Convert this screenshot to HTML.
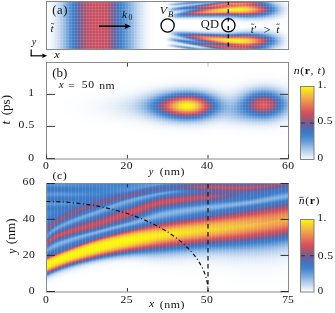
<!DOCTYPE html>
<html><head><meta charset="utf-8">
<style>
html,body{margin:0;padding:0;background:#fff;}
body{width:335px;height:313px;position:relative;overflow:hidden;}
#hm div{position:absolute;}
svg{position:absolute;left:0;top:0;will-change:transform;}
text{font-family:"Liberation Serif",serif;fill:#111;}
.i{font-style:italic;}
</style></head><body>
<div id="hm">
<div style="left:47px;top:2px;width:241px;height:1px;background:linear-gradient(90deg,#fefeff 0px,#f9fbfe 3px,#ebf2fa 6px,#dbe7f6 9px,#c6d9f0 12px,#acc8ea 15px,#8eb6e2 18px,#699ed9 21px,#4989d0 24px,#3e7ac8 27px,#526cb2 30px,#705e99 33px,#92587e 36px,#b1526d 39px,#c05066 42px,#c74f63 45px,#ca4f62 48px,#ca4f62 51px,#c94f62 54px,#c74f63 57px,#bd5068 60px,#a25574 63px,#775d92 66px,#566aae 69px,#4177c4 72px,#4182cd 75px,#5691d4 78px,#6ea1da 81px,#87b2e0 84px,#a2c2e8 87px,#bbd1ee 90px,#cfdff3 93px,#e0eaf7 96px,#eef4fa 99px,#f6f9fd 102px,#fcfdfe 105px,#ffffff 108px,#ffffff 111px,#ffffff 114px,#ffffff 117px,#fcfdfe 120px,#f4f8fc 123px,#e9f1f9 126px,#d4e3f4 129px,#bed3ee 132px,#a0c1e7 135px,#7dabde 138px,#6298d7 141px,#5792d4 144px,#528fd3 147px,#528ed3 150px,#5591d4 153px,#5892d4 156px,#5c95d6 159px,#639ad7 162px,#6399d7 165px,#5993d5 168px,#4384ce 171px,#4276c2 174px,#6263a4 177px,#91597f 180px,#b1526d 183px,#bd5067 186px,#c24f65 189px,#cb4f61 192px,#d04e5f 195px,#d24e5e 198px,#c44f64 201px,#a85471 204px,#835b88 207px,#6561a2 210px,#4971bb 213px,#3e7fcb 216px,#5691d4 219px,#78a7dc 222px,#a0c1e7 225px,#c4d8f0 228px,#d5e4f4 231px,#e5eef8 234px,#eff5fb 237px,#f9fbfd 240px,#fbfcfe 241px)"></div>
<div style="left:47px;top:3px;width:241px;height:1px;background:linear-gradient(90deg,#fefeff 0px,#f9fbfe 3px,#ebf2fa 6px,#dbe7f6 9px,#c6d9f0 12px,#acc8ea 15px,#8eb6e2 18px,#699ed9 21px,#4989d0 24px,#3e7ac8 27px,#526cb2 30px,#705e99 33px,#92587e 36px,#b1526d 39px,#c05066 42px,#c74f63 45px,#ca4f62 48px,#ca4f62 51px,#c94f62 54px,#c74f63 57px,#bd5068 60px,#a25574 63px,#775d92 66px,#566aae 69px,#4177c4 72px,#4182cd 75px,#5691d4 78px,#6ea1da 81px,#87b2e0 84px,#a2c2e8 87px,#bbd1ee 90px,#cfdff3 93px,#e0eaf7 96px,#eef4fa 99px,#f6f9fd 102px,#fcfdfe 105px,#ffffff 108px,#ffffff 111px,#ffffff 114px,#ffffff 117px,#f6f9fd 120px,#dce8f6 123px,#bed3ee 126px,#95bbe4 129px,#7aa9dd 132px,#679cd8 135px,#5b94d5 138px,#5691d4 141px,#6299d7 144px,#70a2db 147px,#7cabde 150px,#84b0e0 153px,#7cabde 156px,#6ea1da 159px,#5892d4 162px,#3f80cc 165px,#4f6eb5 168px,#7e5c8c 171px,#be5067 174px,#dc595c 177px,#e46f58 180px,#e77c55 183px,#e98353 186px,#e88154 189px,#e88154 192px,#e77c55 195px,#e57557 198px,#e0635a 201px,#d4505e 204px,#b95169 207px,#8d5982 210px,#6760a1 213px,#4772bd 216px,#4182cd 219px,#5f96d6 222px,#88b2e1 225px,#b3ccec 228px,#c9dbf1 231px,#dde8f6 234px,#ebf2fa 237px,#f7fafd 240px,#f9fbfe 241px)"></div>
<div style="left:47px;top:4px;width:241px;height:1px;background:linear-gradient(90deg,#fefeff 0px,#f9fbfe 3px,#ebf2fa 6px,#dbe7f6 9px,#c6d9f0 12px,#acc8ea 15px,#8eb6e2 18px,#699ed9 21px,#4989d0 24px,#3e7ac8 27px,#526cb2 30px,#705e99 33px,#92587e 36px,#b1526d 39px,#c05066 42px,#c74f63 45px,#ca4f62 48px,#ca4f62 51px,#c94f62 54px,#c74f63 57px,#bd5068 60px,#a25574 63px,#775d92 66px,#566aae 69px,#4177c4 72px,#4182cd 75px,#5691d4 78px,#6ea1da 81px,#87b2e0 84px,#a2c2e8 87px,#bbd1ee 90px,#cfdff3 93px,#e0eaf7 96px,#eef4fa 99px,#f6f9fd 102px,#fcfdfe 105px,#ffffff 108px,#ffffff 111px,#ffffff 114px,#ffffff 117px,#f2f7fc 120px,#cbdcf2 123px,#a4c3e8 126px,#88b2e1 129px,#87b2e1 132px,#8db5e2 135px,#96bbe5 138px,#9bbee6 141px,#a3c2e8 144px,#a0c1e7 147px,#91b8e3 150px,#75a6dc 153px,#518ed3 156px,#3f79c6 159px,#6362a3 162px,#9f5675 165px,#d6525d 168px,#e26959 171px,#e67856 174px,#e77b55 177px,#e57557 180px,#e67856 183px,#e77c55 186px,#e77b55 189px,#e77a55 192px,#e57657 195px,#e47058 198px,#df5f5b 201px,#d34f5e 204px,#bd5068 207px,#96587b 210px,#715d98 213px,#526cb2 216px,#3d7bc9 219px,#4f8dd2 222px,#74a5dc 225px,#9ec0e7 228px,#bcd2ee 231px,#d4e2f4 234px,#e6eef8 237px,#f5f8fc 240px,#f8fafd 241px)"></div>
<div style="left:47px;top:5px;width:241px;height:1px;background:linear-gradient(90deg,#fefeff 0px,#f9fbfe 3px,#ebf2fa 6px,#dbe7f6 9px,#c6d9f0 12px,#acc8ea 15px,#8eb6e2 18px,#699ed9 21px,#4989d0 24px,#3e7ac8 27px,#526cb2 30px,#705e99 33px,#92587e 36px,#b1526d 39px,#c05066 42px,#c74f63 45px,#ca4f62 48px,#ca4f62 51px,#c94f62 54px,#c74f63 57px,#bd5068 60px,#a25574 63px,#775d92 66px,#566aae 69px,#4177c4 72px,#4182cd 75px,#5691d4 78px,#6ea1da 81px,#87b2e0 84px,#a2c2e8 87px,#bbd1ee 90px,#cfdff3 93px,#e0eaf7 96px,#eef4fa 99px,#f6f9fd 102px,#fcfdfe 105px,#ffffff 108px,#ffffff 111px,#ffffff 114px,#ffffff 117px,#f6f9fd 120px,#dbe7f6 123px,#c3d7f0 126px,#bed3ef 129px,#c2d6f0 132px,#c1d5ef 135px,#b6ceed 138px,#a4c3e8 141px,#88b2e1 144px,#659bd8 147px,#4283ce 150px,#4c70b8 153px,#765d93 156px,#af536e 159px,#d5525d 162px,#e1665a 165px,#e67756 168px,#e47258 171px,#e16859 174px,#de5d5b 177px,#da565d 180px,#dd5b5c 183px,#e0635a 186px,#e26959 189px,#e47058 192px,#e47158 195px,#e47058 198px,#e1655a 201px,#d9565d 204px,#cb4f61 207px,#ac536f 210px,#845b88 213px,#6362a3 216px,#4574bf 219px,#4182cd 222px,#6198d7 225px,#89b3e1 228px,#aec9ea 231px,#cbdcf2 234px,#e0ebf7 237px,#f3f7fc 240px,#f7fafd 241px)"></div>
<div style="left:47px;top:6px;width:241px;height:1px;background:linear-gradient(90deg,#fefeff 0px,#f9fbfe 3px,#ebf2fa 6px,#dbe7f6 9px,#c6d9f0 12px,#acc8ea 15px,#8eb6e2 18px,#699ed9 21px,#4989d0 24px,#3e7ac8 27px,#526cb2 30px,#705e99 33px,#92587e 36px,#b1526d 39px,#c05066 42px,#c74f63 45px,#ca4f62 48px,#ca4f62 51px,#c94f62 54px,#c74f63 57px,#bd5068 60px,#a25574 63px,#775d92 66px,#566aae 69px,#4177c4 72px,#4182cd 75px,#5691d4 78px,#6ea1da 81px,#87b2e0 84px,#a2c2e8 87px,#bbd1ee 90px,#cfdff3 93px,#e0eaf7 96px,#eef4fa 99px,#f6f9fd 102px,#fcfdfe 105px,#ffffff 108px,#ffffff 111px,#ffffff 114px,#ffffff 117px,#fafcfe 120px,#edf3fa 123px,#dfeaf7 126px,#d1e1f3 129px,#bfd4ef 132px,#9fc0e7 135px,#72a4db 138px,#508dd2 141px,#3d7bc8 144px,#546bb0 147px,#775d92 150px,#a45573 153px,#c15066 156px,#d14e5e 159px,#d7535d 162px,#d9565d 165px,#da575c 168px,#d6525d 171px,#d4515e 174px,#d6535d 177px,#dc595c 180px,#e16859 183px,#e57457 186px,#e88054 189px,#ea8b51 192px,#eb8f50 195px,#eb8e50 198px,#e98653 201px,#e57257 204px,#df605b 207px,#d24f5e 210px,#af536e 213px,#805c8a 216px,#5b67aa 219px,#3f79c6 222px,#4e8cd2 225px,#76a6dc 228px,#a0c1e7 231px,#c3d7f0 234px,#dbe8f6 237px,#f1f6fb 240px,#f5f9fd 241px)"></div>
<div style="left:47px;top:7px;width:241px;height:1px;background:linear-gradient(90deg,#fefeff 0px,#f9fbfe 3px,#ebf2fa 6px,#dbe7f6 9px,#c6d9f0 12px,#acc8ea 15px,#8eb6e2 18px,#699ed9 21px,#4989d0 24px,#3e7ac8 27px,#526cb2 30px,#705e99 33px,#92587e 36px,#b1526d 39px,#c05066 42px,#c74f63 45px,#ca4f62 48px,#ca4f62 51px,#c94f62 54px,#c74f63 57px,#bd5068 60px,#a25574 63px,#775d92 66px,#566aae 69px,#4177c4 72px,#4182cd 75px,#5691d4 78px,#6ea1da 81px,#87b2e0 84px,#a2c2e8 87px,#bbd1ee 90px,#cfdff3 93px,#e0eaf7 96px,#eef4fa 99px,#f6f9fd 102px,#fcfdfe 105px,#ffffff 108px,#ffffff 111px,#ffffff 114px,#ffffff 117px,#f8fafd 120px,#e3edf8 123px,#c8dbf1 126px,#a3c3e8 129px,#77a7dc 132px,#4d8cd1 135px,#4078c5 138px,#506db4 141px,#6263a5 144px,#715d97 147px,#7f5c8b 150px,#92587e 153px,#98577a 156px,#9f5676 159px,#ab5370 162px,#bb5068 165px,#cc4f61 168px,#d6535d 171px,#df5f5b 174px,#e47158 177px,#ea8752 180px,#ed9a4d 183px,#efa64a 186px,#f1b047 189px,#f2ba43 192px,#f2bb42 195px,#f2b844 198px,#f0ae47 201px,#ed984e 204px,#e88254 207px,#e1665a 210px,#d34f5e 213px,#a85472 216px,#725d97 219px,#4b70b9 222px,#4283ce 225px,#689dd9 228px,#95bbe4 231px,#bdd3ee 234px,#d7e5f5 237px,#eff5fb 240px,#f4f8fc 241px)"></div>
<div style="left:47px;top:8px;width:241px;height:1px;background:linear-gradient(90deg,#fefeff 0px,#f9fbfe 3px,#ebf2fa 6px,#dbe7f6 9px,#c6d9f0 12px,#acc8ea 15px,#8eb6e2 18px,#699ed9 21px,#4989d0 24px,#3e7ac8 27px,#526cb2 30px,#705e99 33px,#92587e 36px,#b1526d 39px,#c05066 42px,#c74f63 45px,#ca4f62 48px,#ca4f62 51px,#c94f62 54px,#c74f63 57px,#bd5068 60px,#a25574 63px,#775d92 66px,#566aae 69px,#4177c4 72px,#4182cd 75px,#5691d4 78px,#6ea1da 81px,#87b2e0 84px,#a2c2e8 87px,#bbd1ee 90px,#cfdff3 93px,#e0eaf7 96px,#eef4fa 99px,#f6f9fd 102px,#fcfdfe 105px,#ffffff 108px,#ffffff 111px,#ffffff 114px,#ffffff 117px,#f1f6fb 120px,#c6d9f1 123px,#94bae4 126px,#659ad8 129px,#4587cf 132px,#3d7bc9 135px,#4375c1 138px,#4375c1 141px,#4474c0 144px,#4772bd 147px,#516db3 150px,#6461a3 153px,#735d96 156px,#8d5981 159px,#b3526c 162px,#d34f5e 165px,#e0635a 168px,#e77b55 171px,#ec944f 174px,#f0aa49 177px,#f3bf3f 180px,#f6cf31 183px,#f7d629 186px,#f8dd22 189px,#f9e21c 192px,#f9df20 195px,#f7d728 198px,#f5cc33 201px,#f1b346 204px,#ed9b4d 207px,#e77c55 210px,#de5c5c 213px,#c15066 216px,#845b87 219px,#566aae 222px,#3d7ecb 225px,#5f97d6 228px,#8eb6e2 231px,#b9d0ed 234px,#d5e3f4 237px,#eef4fb 240px,#f4f8fc 241px)"></div>
<div style="left:47px;top:9px;width:241px;height:1px;background:linear-gradient(90deg,#fefeff 0px,#f9fbfe 3px,#ebf2fa 6px,#dbe7f6 9px,#c6d9f0 12px,#acc8ea 15px,#8eb6e2 18px,#699ed9 21px,#4989d0 24px,#3e7ac8 27px,#526cb2 30px,#705e99 33px,#92587e 36px,#b1526d 39px,#c05066 42px,#c74f63 45px,#ca4f62 48px,#ca4f62 51px,#c94f62 54px,#c74f63 57px,#bd5068 60px,#a25574 63px,#775d92 66px,#566aae 69px,#4177c4 72px,#4182cd 75px,#5691d4 78px,#6ea1da 81px,#87b2e0 84px,#a2c2e8 87px,#bbd1ee 90px,#cfdff3 93px,#e0eaf7 96px,#eef4fa 99px,#f6f9fd 102px,#fcfdfe 105px,#ffffff 108px,#ffffff 111px,#ffffff 114px,#ffffff 117px,#edf3fa 120px,#b7ceed 123px,#7baadd 126px,#6198d7 129px,#5a93d5 132px,#5993d5 135px,#5993d5 138px,#5892d4 141px,#4c8bd1 144px,#3e7fcb 147px,#4971bb 150px,#705d98 153px,#995779 156px,#c74f63 159px,#df5f5b 162px,#e77c55 165px,#ed974e 168px,#f1b047 171px,#f4c639 174px,#f7d52a 177px,#f9e31c 180px,#fced12 183px,#fdf00f 186px,#fdf30d 189px,#fef50b 192px,#fcee11 195px,#f9e21c 198px,#f7d728 201px,#f3bd40 204px,#efa44b 207px,#e98453 210px,#e0625b 213px,#c84f63 216px,#8d5982 219px,#5b67aa 222px,#3c7cca 225px,#5c95d6 228px,#8bb4e2 231px,#b8cfed 234px,#d4e3f4 237px,#eef4fa 240px,#f3f7fc 241px)"></div>
<div style="left:47px;top:10px;width:241px;height:1px;background:linear-gradient(90deg,#fefeff 0px,#f9fbfe 3px,#ebf2fa 6px,#dbe7f6 9px,#c6d9f0 12px,#acc8ea 15px,#8eb6e2 18px,#699ed9 21px,#4989d0 24px,#3e7ac8 27px,#526cb2 30px,#705e99 33px,#92587e 36px,#b1526d 39px,#c05066 42px,#c74f63 45px,#ca4f62 48px,#ca4f62 51px,#c94f62 54px,#c74f63 57px,#bd5068 60px,#a25574 63px,#775d92 66px,#566aae 69px,#4177c4 72px,#4182cd 75px,#5691d4 78px,#6ea1da 81px,#87b2e0 84px,#a2c2e8 87px,#bbd1ee 90px,#cfdff3 93px,#e0eaf7 96px,#eef4fa 99px,#f6f9fd 102px,#fcfdfe 105px,#ffffff 108px,#ffffff 111px,#ffffff 114px,#ffffff 117px,#f1f6fb 120px,#c6d9f1 123px,#9fc0e7 126px,#9abde5 129px,#9cbfe6 132px,#98bce5 135px,#87b1e0 138px,#699ed9 141px,#4486cf 144px,#4773bd 147px,#755d94 150px,#ba5069 153px,#d9565d 156px,#e47158 159px,#eb8f50 162px,#efa74a 165px,#f2bc42 168px,#f5cd33 171px,#f7d926 174px,#f9e01e 177px,#fae519 180px,#fbeb14 183px,#fbeb13 186px,#fbec13 189px,#fbec13 192px,#f9e31b 195px,#f7d729 198px,#f5cc33 201px,#f1b346 204px,#ed9b4d 207px,#e77c55 210px,#de5c5c 213px,#c15066 216px,#845b87 219px,#566aae 222px,#3d7ecb 225px,#5f97d6 228px,#8eb6e2 231px,#b9d0ed 234px,#d5e3f4 237px,#eef4fb 240px,#f4f8fc 241px)"></div>
<div style="left:47px;top:11px;width:241px;height:1px;background:linear-gradient(90deg,#fefeff 0px,#f9fbfe 3px,#ebf2fa 6px,#dbe7f6 9px,#c6d9f0 12px,#acc8ea 15px,#8eb6e2 18px,#699ed9 21px,#4989d0 24px,#3e7ac8 27px,#526cb2 30px,#705e99 33px,#92587e 36px,#b1526d 39px,#c05066 42px,#c74f63 45px,#ca4f62 48px,#ca4f62 51px,#c94f62 54px,#c74f63 57px,#bd5068 60px,#a25574 63px,#775d92 66px,#566aae 69px,#4177c4 72px,#4182cd 75px,#5691d4 78px,#6ea1da 81px,#87b2e0 84px,#a2c2e8 87px,#bbd1ee 90px,#cfdff3 93px,#e0eaf7 96px,#eef4fa 99px,#f6f9fd 102px,#fcfdfe 105px,#ffffff 108px,#ffffff 111px,#ffffff 114px,#ffffff 117px,#f8fbfd 120px,#e3edf8 123px,#d0e0f3 126px,#cadcf2 129px,#bcd2ee 132px,#9fc0e7 135px,#70a2db 138px,#4384ce 141px,#4f6eb5 144px,#805c8a 147px,#c24f65 150px,#df605b 153px,#e67856 156px,#eb8f50 159px,#efa44b 162px,#f1b246 165px,#f2bb42 168px,#f4c43b 171px,#f4c837 174px,#f4c837 177px,#f4c639 180px,#f5c936 183px,#f5c936 186px,#f5c936 189px,#f5c935 192px,#f3c23c 195px,#f2b745 198px,#f0ad48 201px,#ed974e 204px,#e88154 207px,#e1665a 210px,#d34f5e 213px,#a75472 216px,#725d97 219px,#4b70b9 222px,#4283ce 225px,#689dd9 228px,#95bbe4 231px,#bdd3ee 234px,#d7e5f5 237px,#eff5fb 240px,#f4f8fc 241px)"></div>
<div style="left:47px;top:12px;width:241px;height:1px;background:linear-gradient(90deg,#fefeff 0px,#f9fbfe 3px,#ebf2fa 6px,#dbe7f6 9px,#c6d9f0 12px,#acc8ea 15px,#8eb6e2 18px,#699ed9 21px,#4989d0 24px,#3e7ac8 27px,#526cb2 30px,#705e99 33px,#92587e 36px,#b1526d 39px,#c05066 42px,#c74f63 45px,#ca4f62 48px,#ca4f62 51px,#c94f62 54px,#c74f63 57px,#bd5068 60px,#a25574 63px,#775d92 66px,#566aae 69px,#4177c4 72px,#4182cd 75px,#5691d4 78px,#6ea1da 81px,#87b2e0 84px,#a2c2e8 87px,#bbd1ee 90px,#cfdff3 93px,#e0eaf7 96px,#eef4fa 99px,#f6f9fd 102px,#fcfdfe 105px,#ffffff 108px,#ffffff 111px,#ffffff 114px,#ffffff 117px,#fdfeff 120px,#f3f7fc 123px,#e4eef8 126px,#ccddf2 129px,#a3c3e8 132px,#6ea1da 135px,#4081cd 138px,#556baf 141px,#865b86 144px,#be5067 147px,#da565d 150px,#e26b59 153px,#e67956 156px,#e98653 159px,#eb9050 162px,#ec954f 165px,#ec964f 168px,#ec974e 171px,#ec964f 174px,#ec9150 177px,#eb8c51 180px,#eb8f50 183px,#eb9050 186px,#ec924f 189px,#ec944f 192px,#eb8f50 195px,#ea8752 198px,#e88054 201px,#e36e58 204px,#de5d5c 207px,#cf4e5f 210px,#ab5370 213px,#7e5c8c 216px,#5968ab 219px,#3f79c6 222px,#4f8dd2 225px,#76a6dc 228px,#a0c1e7 231px,#c3d7f0 234px,#dbe8f6 237px,#f1f6fb 240px,#f5f9fd 241px)"></div>
<div style="left:47px;top:13px;width:241px;height:1px;background:linear-gradient(90deg,#fefeff 0px,#f9fbfe 3px,#ebf2fa 6px,#dbe7f6 9px,#c6d9f0 12px,#acc8ea 15px,#8eb6e2 18px,#699ed9 21px,#4989d0 24px,#3e7ac8 27px,#526cb2 30px,#705e99 33px,#92587e 36px,#b1526d 39px,#c05066 42px,#c74f63 45px,#ca4f62 48px,#ca4f62 51px,#c94f62 54px,#c74f63 57px,#bd5068 60px,#a25574 63px,#775d92 66px,#566aae 69px,#4177c4 72px,#4182cd 75px,#5691d4 78px,#6ea1da 81px,#87b2e0 84px,#a2c2e8 87px,#bbd1ee 90px,#cfdff3 93px,#e0eaf7 96px,#eef4fa 99px,#f6f9fd 102px,#fcfdfe 105px,#ffffff 108px,#ffffff 111px,#ffffff 114px,#ffffff 117px,#ffffff 120px,#f1f6fb 123px,#d8e5f5 126px,#aac6ea 129px,#6da0da 132px,#4182cd 135px,#4f6eb5 138px,#775d92 141px,#a35574 144px,#c15066 147px,#d24e5e 150px,#d7535d 153px,#da575c 156px,#dd5a5c 159px,#de5c5c 162px,#dd5b5c 165px,#db585c 168px,#da575c 171px,#d8555d 174px,#d5515d 177px,#d14e5f 180px,#d3505e 183px,#d6525d 186px,#d9555d 189px,#db585c 192px,#da575d 195px,#d7545d 198px,#d5515e 201px,#c64f63 204px,#b3526c 207px,#93587d 210px,#745d95 213px,#5968ab 216px,#4177c3 219px,#4385ce 222px,#649ad7 225px,#89b3e1 228px,#aec9ea 231px,#cbdcf2 234px,#e0ebf7 237px,#f3f7fc 240px,#f7fafd 241px)"></div>
<div style="left:47px;top:14px;width:241px;height:1px;background:linear-gradient(90deg,#fefeff 0px,#f9fbfe 3px,#ebf2fa 6px,#dbe7f6 9px,#c6d9f0 12px,#acc8ea 15px,#8eb6e2 18px,#699ed9 21px,#4989d0 24px,#3e7ac8 27px,#526cb2 30px,#705e99 33px,#92587e 36px,#b1526d 39px,#c05066 42px,#c74f63 45px,#ca4f62 48px,#ca4f62 51px,#c94f62 54px,#c74f63 57px,#bd5068 60px,#a25574 63px,#775d92 66px,#566aae 69px,#4177c4 72px,#4182cd 75px,#5691d4 78px,#6ea1da 81px,#87b2e0 84px,#a2c2e8 87px,#bbd1ee 90px,#cfdff3 93px,#e0eaf7 96px,#eef4fa 99px,#f6f9fd 102px,#fcfdfe 105px,#ffffff 108px,#ffffff 111px,#ffffff 114px,#ffffff 117px,#ffffff 120px,#e7eff9 123px,#bdd3ee 126px,#7facde 129px,#4989d0 132px,#4177c4 135px,#5769ad 138px,#6e5e9a 141px,#7f5c8b 144px,#885a85 147px,#8b5a83 150px,#895a84 153px,#8a5a83 156px,#8a5a84 159px,#885a84 162px,#835b88 165px,#7c5c8d 168px,#7a5d90 171px,#765d93 174px,#705d99 177px,#6a5e9e 180px,#705d99 183px,#785d91 186px,#7f5c8b 189px,#895a84 192px,#8b5a82 195px,#895a84 198px,#855b86 201px,#785d92 204px,#6b5e9d 207px,#5b67aa 210px,#4971bb 213px,#3e7ac7 216px,#4485cf 219px,#5e96d6 222px,#7dabde 225px,#9ec0e7 228px,#bcd2ee 231px,#d4e2f4 234px,#e6eef8 237px,#f5f8fc 240px,#f8fafd 241px)"></div>
<div style="left:47px;top:15px;width:241px;height:1px;background:linear-gradient(90deg,#fefeff 0px,#f9fbfe 3px,#ebf2fa 6px,#dbe7f6 9px,#c6d9f0 12px,#acc8ea 15px,#8eb6e2 18px,#699ed9 21px,#4989d0 24px,#3e7ac8 27px,#526cb2 30px,#705e99 33px,#92587e 36px,#b1526d 39px,#c05066 42px,#c74f63 45px,#ca4f62 48px,#ca4f62 51px,#c94f62 54px,#c74f63 57px,#bd5068 60px,#a25574 63px,#775d92 66px,#566aae 69px,#4177c4 72px,#4182cd 75px,#5691d4 78px,#6ea1da 81px,#87b2e0 84px,#a2c2e8 87px,#bbd1ee 90px,#cfdff3 93px,#e0eaf7 96px,#eef4fa 99px,#f6f9fd 102px,#fcfdfe 105px,#ffffff 108px,#ffffff 111px,#ffffff 114px,#ffffff 117px,#ffffff 120px,#dde9f6 123px,#a9c6e9 126px,#6fa1da 129px,#4888d0 132px,#3e7ecb 135px,#4078c6 138px,#4375c1 141px,#4573bf 144px,#4474c0 147px,#4276c2 150px,#4078c5 153px,#3f79c6 156px,#3f79c6 159px,#3e7ac7 162px,#3d7bc9 165px,#3d7dca 168px,#3d7dcb 171px,#3e7fcb 174px,#4080cc 177px,#4182cd 180px,#3e7fcb 183px,#3d7bc8 186px,#4177c4 189px,#4474c0 192px,#4772bd 195px,#4971bb 198px,#4872bc 201px,#4375c2 204px,#4078c6 207px,#3d7dcb 210px,#4384ce 213px,#518ed2 216px,#659bd8 219px,#7dabde 222px,#99bde5 225px,#b3ccec 228px,#c9dbf1 231px,#dde8f6 234px,#ebf2fa 237px,#f7fafd 240px,#f9fbfe 241px)"></div>
<div style="left:47px;top:16px;width:241px;height:1px;background:linear-gradient(90deg,#fefeff 0px,#f9fbfe 3px,#ebf2fa 6px,#dbe7f6 9px,#c6d9f0 12px,#acc8ea 15px,#8eb6e2 18px,#699ed9 21px,#4989d0 24px,#3e7ac8 27px,#526cb2 30px,#705e99 33px,#92587e 36px,#b1526d 39px,#c05066 42px,#c74f63 45px,#ca4f62 48px,#ca4f62 51px,#c94f62 54px,#c74f63 57px,#bd5068 60px,#a25574 63px,#775d92 66px,#566aae 69px,#4177c4 72px,#4182cd 75px,#5691d4 78px,#6ea1da 81px,#87b2e0 84px,#a2c2e8 87px,#bbd1ee 90px,#cfdff3 93px,#e0eaf7 96px,#eef4fa 99px,#f6f9fd 102px,#fcfdfe 105px,#ffffff 108px,#ffffff 111px,#ffffff 114px,#ffffff 117px,#ffffff 120px,#dde9f6 123px,#adc8ea 126px,#83afdf 129px,#6b9fd9 132px,#639ad7 135px,#6098d7 138px,#5f96d6 141px,#6097d7 144px,#659bd8 147px,#6a9ed9 150px,#6fa2da 153px,#70a2db 156px,#71a3db 159px,#72a3db 162px,#74a5db 165px,#76a6dc 168px,#76a7dc 171px,#77a7dc 174px,#79a8dd 177px,#7baadd 180px,#74a5db 183px,#6a9ed9 186px,#6097d7 189px,#5792d4 192px,#518ed3 195px,#4d8cd2 198px,#4d8cd1 201px,#528fd3 204px,#5792d4 207px,#5f97d6 210px,#6a9ed9 213px,#77a7dc 216px,#89b3e1 219px,#9dbfe6 222px,#b2cbec 225px,#c4d8f0 228px,#d5e4f4 231px,#e5eef8 234px,#eff5fb 237px,#f9fbfd 240px,#fbfcfe 241px)"></div>
<div style="left:47px;top:17px;width:241px;height:1px;background:linear-gradient(90deg,#fefeff 0px,#f9fbfe 3px,#ebf2fa 6px,#dbe7f6 9px,#c6d9f0 12px,#acc8ea 15px,#8eb6e2 18px,#699ed9 21px,#4989d0 24px,#3e7ac8 27px,#526cb2 30px,#705e99 33px,#92587e 36px,#b1526d 39px,#c05066 42px,#c74f63 45px,#ca4f62 48px,#ca4f62 51px,#c94f62 54px,#c74f63 57px,#bd5068 60px,#a25574 63px,#775d92 66px,#566aae 69px,#4177c4 72px,#4182cd 75px,#5691d4 78px,#6ea1da 81px,#87b2e0 84px,#a2c2e8 87px,#bbd1ee 90px,#cfdff3 93px,#e0eaf7 96px,#eef4fa 99px,#f6f9fd 102px,#fcfdfe 105px,#ffffff 108px,#ffffff 111px,#ffffff 114px,#ffffff 117px,#ffffff 120px,#e7eff9 123px,#c5d8f0 126px,#b1caeb 129px,#a5c4e8 132px,#a4c3e8 135px,#a5c4e8 138px,#a5c4e8 141px,#a7c5e9 144px,#abc7ea 147px,#afc9eb 150px,#b2cbec 153px,#b2cbeb 156px,#b2cbeb 159px,#b1cbeb 162px,#b2cbec 165px,#b3cbec 168px,#b2cbec 171px,#b2cbeb 174px,#b2cbec 177px,#b2cbec 180px,#abc7ea 183px,#a1c1e7 186px,#97bce5 189px,#8db6e2 192px,#86b1e0 195px,#7fadde 198px,#7eacde 201px,#81aedf 204px,#85b0e0 207px,#8bb4e2 210px,#94bae4 213px,#9dbfe6 216px,#aac6ea 219px,#b9cfed 222px,#c6d9f1 225px,#d4e2f4 228px,#e1ebf7 231px,#ecf2fa 234px,#f4f8fc 237px,#fafcfe 240px,#fcfdfe 241px)"></div>
<div style="left:47px;top:18px;width:241px;height:1px;background:linear-gradient(90deg,#fefeff 0px,#f9fbfe 3px,#ebf2fa 6px,#dbe7f6 9px,#c6d9f0 12px,#acc8ea 15px,#8eb6e2 18px,#699ed9 21px,#4989d0 24px,#3e7ac8 27px,#526cb2 30px,#705e99 33px,#92587e 36px,#b1526d 39px,#c05066 42px,#c74f63 45px,#ca4f62 48px,#ca4f62 51px,#c94f62 54px,#c74f63 57px,#bd5068 60px,#a25574 63px,#775d92 66px,#566aae 69px,#4177c4 72px,#4182cd 75px,#5691d4 78px,#6ea1da 81px,#87b2e0 84px,#a2c2e8 87px,#bbd1ee 90px,#cfdff3 93px,#e0eaf7 96px,#eef4fa 99px,#f6f9fd 102px,#fcfdfe 105px,#ffffff 108px,#ffffff 111px,#ffffff 114px,#ffffff 117px,#ffffff 120px,#f2f7fc 123px,#e1ebf7 126px,#d7e5f5 129px,#d3e2f4 132px,#d3e2f4 135px,#d4e3f4 138px,#d4e3f4 141px,#d5e3f4 144px,#d6e4f5 147px,#d8e5f5 150px,#d9e6f5 153px,#d8e5f5 156px,#d7e5f5 159px,#d7e4f5 162px,#d6e4f5 165px,#d6e4f5 168px,#d5e3f4 171px,#d4e3f4 174px,#d4e2f4 177px,#d3e2f4 180px,#cedff3 183px,#c7daf1 186px,#c0d5ef 189px,#b9cfed 192px,#b3cbec 195px,#adc8ea 198px,#abc7ea 201px,#acc8ea 204px,#aec9ea 207px,#b2cbeb 210px,#b6ceed 213px,#bcd2ee 216px,#c3d7f0 219px,#cddef2 222px,#d7e4f5 225px,#e1ebf7 228px,#eaf1f9 231px,#f1f6fb 234px,#f7fafd 237px,#fcfdfe 240px,#fdfefe 241px)"></div>
<div style="left:47px;top:19px;width:241px;height:1px;background:linear-gradient(90deg,#fefeff 0px,#f9fbfe 3px,#ebf2fa 6px,#dbe7f6 9px,#c6d9f0 12px,#acc8ea 15px,#8eb6e2 18px,#699ed9 21px,#4989d0 24px,#3e7ac8 27px,#526cb2 30px,#705e99 33px,#92587e 36px,#b1526d 39px,#c05066 42px,#c74f63 45px,#ca4f62 48px,#ca4f62 51px,#c94f62 54px,#c74f63 57px,#bd5068 60px,#a25574 63px,#775d92 66px,#566aae 69px,#4177c4 72px,#4182cd 75px,#5691d4 78px,#6ea1da 81px,#87b2e0 84px,#a2c2e8 87px,#bbd1ee 90px,#cfdff3 93px,#e0eaf7 96px,#eef4fa 99px,#f6f9fd 102px,#fcfdfe 105px,#ffffff 108px,#ffffff 111px,#ffffff 114px,#ffffff 117px,#ffffff 120px,#fafcfe 123px,#f4f8fc 126px,#f0f5fb 129px,#eff4fb 132px,#eef4fb 135px,#eff4fb 138px,#eef4fb 141px,#eef4fb 144px,#eef4fb 147px,#eff4fb 150px,#eff4fb 153px,#eef4fb 156px,#edf3fa 159px,#edf3fa 162px,#ecf3fa 165px,#ecf2fa 168px,#ebf2fa 171px,#eaf1f9 174px,#e9f1f9 177px,#e9f0f9 180px,#e5eef8 183px,#e0eaf7 186px,#dae7f6 189px,#d4e3f4 192px,#cfdff3 195px,#cadcf2 198px,#c9dbf1 201px,#c9dbf1 204px,#c9dbf1 207px,#cbdcf2 210px,#cedef2 213px,#d1e1f3 216px,#d6e4f5 219px,#dde9f6 222px,#e4edf8 225px,#ebf2fa 228px,#f1f6fb 231px,#f6f9fd 234px,#fafbfe 237px,#fdfefe 240px,#fefeff 241px)"></div>
<div style="left:47px;top:20px;width:241px;height:1px;background:linear-gradient(90deg,#fefeff 0px,#f9fbfe 3px,#ebf2fa 6px,#dbe7f6 9px,#c6d9f0 12px,#acc8ea 15px,#8eb6e2 18px,#699ed9 21px,#4989d0 24px,#3e7ac8 27px,#526cb2 30px,#705e99 33px,#92587e 36px,#b1526d 39px,#c05066 42px,#c74f63 45px,#ca4f62 48px,#ca4f62 51px,#c94f62 54px,#c74f63 57px,#bd5068 60px,#a25574 63px,#775d92 66px,#566aae 69px,#4177c4 72px,#4182cd 75px,#5691d4 78px,#6ea1da 81px,#87b2e0 84px,#a2c2e8 87px,#bbd1ee 90px,#cfdff3 93px,#e0eaf7 96px,#eef4fa 99px,#f6f9fd 102px,#fcfdfe 105px,#ffffff 108px,#ffffff 111px,#ffffff 114px,#ffffff 117px,#ffffff 120px,#fefeff 123px,#fcfdfe 126px,#fbfcfe 129px,#fafcfe 132px,#fafcfe 135px,#fafcfe 138px,#f9fbfe 141px,#f9fbfd 144px,#f9fbfd 147px,#f9fbfd 150px,#f9fbfd 153px,#f8fbfd 156px,#f8fafd 159px,#f7fafd 162px,#f7fafd 165px,#f6f9fd 168px,#f6f9fd 171px,#f5f9fc 174px,#f5f8fc 177px,#f4f8fc 180px,#f2f6fc 183px,#eff4fb 186px,#ebf2fa 189px,#e7eff9 192px,#e3edf8 195px,#dfeaf7 198px,#dee9f6 201px,#dde9f6 204px,#dde9f6 207px,#dee9f7 210px,#e0eaf7 213px,#e1ecf7 216px,#e5eef8 219px,#e9f1f9 222px,#edf4fa 225px,#f2f6fc 228px,#f6f9fd 231px,#f9fbfd 234px,#fbfdfe 237px,#fefeff 240px,#fefeff 241px)"></div>
<div style="left:47px;top:21px;width:241px;height:1px;background:linear-gradient(90deg,#fefeff 0px,#f9fbfe 3px,#ebf2fa 6px,#dbe7f6 9px,#c6d9f0 12px,#acc8ea 15px,#8eb6e2 18px,#699ed9 21px,#4989d0 24px,#3e7ac8 27px,#526cb2 30px,#705e99 33px,#92587e 36px,#b1526d 39px,#c05066 42px,#c74f63 45px,#ca4f62 48px,#ca4f62 51px,#c94f62 54px,#c74f63 57px,#bd5068 60px,#a25574 63px,#775d92 66px,#566aae 69px,#4177c4 72px,#4182cd 75px,#5691d4 78px,#6ea1da 81px,#87b2e0 84px,#a2c2e8 87px,#bbd1ee 90px,#cfdff3 93px,#e0eaf7 96px,#eef4fa 99px,#f6f9fd 102px,#fcfdfe 105px,#ffffff 108px,#ffffff 111px,#ffffff 114px,#ffffff 117px,#ffffff 120px,#ffffff 123px,#feffff 126px,#fefeff 129px,#fefeff 132px,#fefeff 135px,#fefeff 138px,#fdfeff 141px,#fdfeff 144px,#fdfeff 147px,#fdfefe 150px,#fdfefe 153px,#fdfdfe 156px,#fcfdfe 159px,#fcfdfe 162px,#fcfdfe 165px,#fcfdfe 168px,#fbfcfe 171px,#fbfcfe 174px,#fafcfe 177px,#fafcfe 180px,#f9fbfd 183px,#f7fafd 186px,#f5f8fc 189px,#f2f6fc 192px,#eff5fb 195px,#edf3fa 198px,#ecf2fa 201px,#ebf2fa 204px,#ebf2fa 207px,#ebf2fa 210px,#ecf2fa 213px,#edf3fa 216px,#eff4fb 219px,#f1f6fb 222px,#f4f8fc 225px,#f7fafd 228px,#f9fbfd 231px,#fbfdfe 234px,#fdfefe 237px,#fefeff 240px,#feffff 241px)"></div>
<div style="left:47px;top:22px;width:241px;height:1px;background:linear-gradient(90deg,#fefeff 0px,#f9fbfe 3px,#ebf2fa 6px,#dbe7f6 9px,#c6d9f0 12px,#acc8ea 15px,#8eb6e2 18px,#699ed9 21px,#4989d0 24px,#3e7ac8 27px,#526cb2 30px,#705e99 33px,#92587e 36px,#b1526d 39px,#c05066 42px,#c74f63 45px,#ca4f62 48px,#ca4f62 51px,#c94f62 54px,#c74f63 57px,#bd5068 60px,#a25574 63px,#775d92 66px,#566aae 69px,#4177c4 72px,#4182cd 75px,#5691d4 78px,#6ea1da 81px,#87b2e0 84px,#a2c2e8 87px,#bbd1ee 90px,#cfdff3 93px,#e0eaf7 96px,#eef4fa 99px,#f6f9fd 102px,#fcfdfe 105px,#ffffff 108px,#ffffff 111px,#ffffff 114px,#ffffff 117px,#ffffff 120px,#ffffff 123px,#ffffff 126px,#ffffff 129px,#ffffff 132px,#ffffff 135px,#ffffff 138px,#ffffff 141px,#ffffff 144px,#ffffff 147px,#feffff 150px,#feffff 153px,#feffff 156px,#fefeff 159px,#fefeff 162px,#fefeff 165px,#fefeff 168px,#fefeff 171px,#fdfeff 174px,#fdfeff 177px,#fdfefe 180px,#fcfdfe 183px,#fbfcfe 186px,#fafcfe 189px,#f8fbfd 192px,#f7f9fd 195px,#f5f8fc 198px,#f4f8fc 201px,#f4f8fc 204px,#f3f7fc 207px,#f3f7fc 210px,#f3f7fc 213px,#f4f8fc 216px,#f5f8fc 219px,#f7f9fd 222px,#f8fbfd 225px,#fafcfe 228px,#fbfdfe 231px,#fdfdfe 234px,#fefeff 237px,#feffff 240px,#ffffff 241px)"></div>
<div style="left:47px;top:23px;width:241px;height:1px;background:linear-gradient(90deg,#fefeff 0px,#f9fbfe 3px,#ebf2fa 6px,#dbe7f6 9px,#c6d9f0 12px,#acc8ea 15px,#8eb6e2 18px,#699ed9 21px,#4989d0 24px,#3e7ac8 27px,#526cb2 30px,#705e99 33px,#92587e 36px,#b1526d 39px,#c05066 42px,#c74f63 45px,#ca4f62 48px,#ca4f62 51px,#c94f62 54px,#c74f63 57px,#bd5068 60px,#a25574 63px,#775d92 66px,#566aae 69px,#4177c4 72px,#4182cd 75px,#5691d4 78px,#6ea1da 81px,#87b2e0 84px,#a2c2e8 87px,#bbd1ee 90px,#cfdff3 93px,#e0eaf7 96px,#eef4fa 99px,#f6f9fd 102px,#fcfdfe 105px,#ffffff 108px,#ffffff 111px,#ffffff 114px,#ffffff 117px,#ffffff 120px,#ffffff 123px,#ffffff 126px,#ffffff 129px,#ffffff 132px,#ffffff 135px,#ffffff 138px,#ffffff 141px,#ffffff 144px,#ffffff 147px,#ffffff 150px,#ffffff 153px,#ffffff 156px,#ffffff 159px,#ffffff 162px,#ffffff 165px,#ffffff 168px,#feffff 171px,#feffff 174px,#feffff 177px,#fefeff 180px,#fefeff 183px,#fdfeff 186px,#fdfdfe 189px,#fcfdfe 192px,#fafcfe 195px,#f9fbfe 198px,#f9fbfd 201px,#f8fbfd 204px,#f8fbfd 207px,#f8fafd 210px,#f8fafd 213px,#f8fbfd 216px,#f9fbfd 219px,#fafcfe 222px,#fbfcfe 225px,#fcfdfe 228px,#fdfefe 231px,#fefeff 234px,#fefeff 237px,#ffffff 240px,#ffffff 241px)"></div>
<div style="left:47px;top:24px;width:241px;height:1px;background:linear-gradient(90deg,#fefeff 0px,#f9fbfe 3px,#ebf2fa 6px,#dbe7f6 9px,#c6d9f0 12px,#acc8ea 15px,#8eb6e2 18px,#699ed9 21px,#4989d0 24px,#3e7ac8 27px,#526cb2 30px,#705e99 33px,#92587e 36px,#b1526d 39px,#c05066 42px,#c74f63 45px,#ca4f62 48px,#ca4f62 51px,#c94f62 54px,#c74f63 57px,#bd5068 60px,#a25574 63px,#775d92 66px,#566aae 69px,#4177c4 72px,#4182cd 75px,#5691d4 78px,#6ea1da 81px,#87b2e0 84px,#a2c2e8 87px,#bbd1ee 90px,#cfdff3 93px,#e0eaf7 96px,#eef4fa 99px,#f6f9fd 102px,#fcfdfe 105px,#ffffff 108px,#ffffff 111px,#ffffff 114px,#ffffff 117px,#ffffff 120px,#ffffff 123px,#ffffff 126px,#ffffff 129px,#ffffff 132px,#ffffff 135px,#ffffff 138px,#ffffff 141px,#ffffff 144px,#ffffff 147px,#ffffff 150px,#ffffff 153px,#ffffff 156px,#ffffff 159px,#ffffff 162px,#ffffff 165px,#ffffff 168px,#ffffff 171px,#ffffff 174px,#ffffff 177px,#ffffff 180px,#feffff 183px,#fefeff 186px,#fefeff 189px,#fdfefe 192px,#fcfdfe 195px,#fbfdfe 198px,#fbfcfe 201px,#fbfcfe 204px,#fbfcfe 207px,#fafcfe 210px,#fafcfe 213px,#fafcfe 216px,#fbfcfe 219px,#fbfdfe 222px,#fcfdfe 225px,#fdfefe 228px,#fdfeff 231px,#fefeff 234px,#feffff 237px,#ffffff 240px,#ffffff 241px)"></div>
<div style="left:47px;top:25px;width:241px;height:1px;background:linear-gradient(90deg,#fefeff 0px,#f9fbfe 3px,#ebf2fa 6px,#dbe7f6 9px,#c6d9f0 12px,#acc8ea 15px,#8eb6e2 18px,#699ed9 21px,#4989d0 24px,#3e7ac8 27px,#526cb2 30px,#705e99 33px,#92587e 36px,#b1526d 39px,#c05066 42px,#c74f63 45px,#ca4f62 48px,#ca4f62 51px,#c94f62 54px,#c74f63 57px,#bd5068 60px,#a25574 63px,#775d92 66px,#566aae 69px,#4177c4 72px,#4182cd 75px,#5691d4 78px,#6ea1da 81px,#87b2e0 84px,#a2c2e8 87px,#bbd1ee 90px,#cfdff3 93px,#e0eaf7 96px,#eef4fa 99px,#f6f9fd 102px,#fcfdfe 105px,#ffffff 108px,#ffffff 111px,#ffffff 114px,#ffffff 117px,#ffffff 120px,#ffffff 123px,#ffffff 126px,#ffffff 129px,#ffffff 132px,#ffffff 135px,#ffffff 138px,#ffffff 141px,#ffffff 144px,#ffffff 147px,#ffffff 150px,#ffffff 153px,#ffffff 156px,#ffffff 159px,#ffffff 162px,#ffffff 165px,#ffffff 168px,#ffffff 171px,#ffffff 174px,#ffffff 177px,#ffffff 180px,#ffffff 183px,#feffff 186px,#fefeff 189px,#fdfeff 192px,#fdfdfe 195px,#fcfdfe 198px,#fbfdfe 201px,#fbfdfe 204px,#fbfcfe 207px,#fbfcfe 210px,#fbfcfe 213px,#fbfcfe 216px,#fbfcfe 219px,#fcfdfe 222px,#fcfdfe 225px,#fdfefe 228px,#fefeff 231px,#fefeff 234px,#feffff 237px,#ffffff 240px,#ffffff 241px)"></div>
<div style="left:47px;top:26px;width:241px;height:1px;background:linear-gradient(90deg,#fefeff 0px,#f9fbfe 3px,#ebf2fa 6px,#dbe7f6 9px,#c6d9f0 12px,#acc8ea 15px,#8eb6e2 18px,#699ed9 21px,#4989d0 24px,#3e7ac8 27px,#526cb2 30px,#705e99 33px,#92587e 36px,#b1526d 39px,#c05066 42px,#c74f63 45px,#ca4f62 48px,#ca4f62 51px,#c94f62 54px,#c74f63 57px,#bd5068 60px,#a25574 63px,#775d92 66px,#566aae 69px,#4177c4 72px,#4182cd 75px,#5691d4 78px,#6ea1da 81px,#87b2e0 84px,#a2c2e8 87px,#bbd1ee 90px,#cfdff3 93px,#e0eaf7 96px,#eef4fa 99px,#f6f9fd 102px,#fcfdfe 105px,#ffffff 108px,#ffffff 111px,#ffffff 114px,#ffffff 117px,#ffffff 120px,#ffffff 123px,#ffffff 126px,#ffffff 129px,#ffffff 132px,#ffffff 135px,#ffffff 138px,#ffffff 141px,#ffffff 144px,#ffffff 147px,#ffffff 150px,#ffffff 153px,#ffffff 156px,#ffffff 159px,#ffffff 162px,#ffffff 165px,#ffffff 168px,#ffffff 171px,#ffffff 174px,#ffffff 177px,#feffff 180px,#fefeff 183px,#fefeff 186px,#fdfeff 189px,#fdfdfe 192px,#fcfdfe 195px,#fbfcfe 198px,#fafcfe 201px,#fafcfe 204px,#fafbfe 207px,#f9fbfe 210px,#f9fbfe 213px,#f9fbfe 216px,#fafcfe 219px,#fbfcfe 222px,#fcfdfe 225px,#fcfdfe 228px,#fdfeff 231px,#fefeff 234px,#feffff 237px,#ffffff 240px,#ffffff 241px)"></div>
<div style="left:47px;top:27px;width:241px;height:1px;background:linear-gradient(90deg,#fefeff 0px,#f9fbfe 3px,#ebf2fa 6px,#dbe7f6 9px,#c6d9f0 12px,#acc8ea 15px,#8eb6e2 18px,#699ed9 21px,#4989d0 24px,#3e7ac8 27px,#526cb2 30px,#705e99 33px,#92587e 36px,#b1526d 39px,#c05066 42px,#c74f63 45px,#ca4f62 48px,#ca4f62 51px,#c94f62 54px,#c74f63 57px,#bd5068 60px,#a25574 63px,#775d92 66px,#566aae 69px,#4177c4 72px,#4182cd 75px,#5691d4 78px,#6ea1da 81px,#87b2e0 84px,#a2c2e8 87px,#bbd1ee 90px,#cfdff3 93px,#e0eaf7 96px,#eef4fa 99px,#f6f9fd 102px,#fcfdfe 105px,#ffffff 108px,#ffffff 111px,#ffffff 114px,#ffffff 117px,#ffffff 120px,#ffffff 123px,#ffffff 126px,#ffffff 129px,#feffff 132px,#feffff 135px,#feffff 138px,#feffff 141px,#feffff 144px,#feffff 147px,#fefeff 150px,#fefeff 153px,#fefeff 156px,#fefeff 159px,#fefeff 162px,#fefeff 165px,#fefeff 168px,#fefeff 171px,#fefeff 174px,#fefeff 177px,#fefeff 180px,#fdfeff 183px,#fcfdfe 186px,#fbfdfe 189px,#fafcfe 192px,#f9fbfd 195px,#f7fafd 198px,#f7fafd 201px,#f6f9fd 204px,#f6f9fd 207px,#f6f9fd 210px,#f6f9fd 213px,#f6f9fd 216px,#f7fafd 219px,#f8fbfd 222px,#fafcfe 225px,#fbfcfe 228px,#fcfdfe 231px,#fdfeff 234px,#fefeff 237px,#ffffff 240px,#ffffff 241px)"></div>
<div style="left:47px;top:28px;width:241px;height:1px;background:linear-gradient(90deg,#fefeff 0px,#f9fbfe 3px,#ebf2fa 6px,#dbe7f6 9px,#c6d9f0 12px,#acc8ea 15px,#8eb6e2 18px,#699ed9 21px,#4989d0 24px,#3e7ac8 27px,#526cb2 30px,#705e99 33px,#92587e 36px,#b1526d 39px,#c05066 42px,#c74f63 45px,#ca4f62 48px,#ca4f62 51px,#c94f62 54px,#c74f63 57px,#bd5068 60px,#a25574 63px,#775d92 66px,#566aae 69px,#4177c4 72px,#4182cd 75px,#5691d4 78px,#6ea1da 81px,#87b2e0 84px,#a2c2e8 87px,#bbd1ee 90px,#cfdff3 93px,#e0eaf7 96px,#eef4fa 99px,#f6f9fd 102px,#fcfdfe 105px,#ffffff 108px,#ffffff 111px,#ffffff 114px,#ffffff 117px,#ffffff 120px,#feffff 123px,#fdfeff 126px,#fdfefe 129px,#fdfdfe 132px,#fcfdfe 135px,#fcfdfe 138px,#fcfdfe 141px,#fcfdfe 144px,#fcfdfe 147px,#fcfdfe 150px,#fcfdfe 153px,#fcfdfe 156px,#fcfdfe 159px,#fcfdfe 162px,#fcfdfe 165px,#fcfdfe 168px,#fcfdfe 171px,#fcfdfe 174px,#fcfdfe 177px,#fcfdfe 180px,#fbfcfe 183px,#f9fbfe 186px,#f8fafd 189px,#f6f9fd 192px,#f3f7fc 195px,#f1f6fb 198px,#f0f5fb 201px,#f0f5fb 204px,#f0f5fb 207px,#f0f5fb 210px,#f0f5fb 213px,#f1f6fb 216px,#f2f7fc 219px,#f4f8fc 222px,#f6f9fd 225px,#f8fbfd 228px,#fafcfe 231px,#fcfdfe 234px,#fdfeff 237px,#feffff 240px,#ffffff 241px)"></div>
<div style="left:47px;top:29px;width:241px;height:1px;background:linear-gradient(90deg,#fefeff 0px,#f9fbfe 3px,#ebf2fa 6px,#dbe7f6 9px,#c6d9f0 12px,#acc8ea 15px,#8eb6e2 18px,#699ed9 21px,#4989d0 24px,#3e7ac8 27px,#526cb2 30px,#705e99 33px,#92587e 36px,#b1526d 39px,#c05066 42px,#c74f63 45px,#ca4f62 48px,#ca4f62 51px,#c94f62 54px,#c74f63 57px,#bd5068 60px,#a25574 63px,#775d92 66px,#566aae 69px,#4177c4 72px,#4182cd 75px,#5691d4 78px,#6ea1da 81px,#87b2e0 84px,#a2c2e8 87px,#bbd1ee 90px,#cfdff3 93px,#e0eaf7 96px,#eef4fa 99px,#f6f9fd 102px,#fcfdfe 105px,#ffffff 108px,#ffffff 111px,#ffffff 114px,#ffffff 117px,#ffffff 120px,#fcfdfe 123px,#f9fbfd 126px,#f7fafd 129px,#f6f9fd 132px,#f6f9fd 135px,#f5f9fd 138px,#f6f9fd 141px,#f6f9fd 144px,#f7fafd 147px,#f7fafd 150px,#f7fafd 153px,#f8fafd 156px,#f8fafd 159px,#f8fafd 162px,#f8fbfd 165px,#f8fbfd 168px,#f8fbfd 171px,#f8fafd 174px,#f8fafd 177px,#f7fafd 180px,#f6f9fd 183px,#f3f7fc 186px,#f0f5fb 189px,#edf3fa 192px,#eaf1fa 195px,#e7eff9 198px,#e5eef8 201px,#e5eef8 204px,#e5eef8 207px,#e5eef8 210px,#e6eff9 213px,#e8f0f9 216px,#eaf1fa 219px,#eef4fa 222px,#f1f6fb 225px,#f4f8fc 228px,#f7fafd 231px,#fafcfe 234px,#fcfdfe 237px,#fefeff 240px,#fefeff 241px)"></div>
<div style="left:47px;top:30px;width:241px;height:1px;background:linear-gradient(90deg,#fefeff 0px,#f9fbfe 3px,#ebf2fa 6px,#dbe7f6 9px,#c6d9f0 12px,#acc8ea 15px,#8eb6e2 18px,#699ed9 21px,#4989d0 24px,#3e7ac8 27px,#526cb2 30px,#705e99 33px,#92587e 36px,#b1526d 39px,#c05066 42px,#c74f63 45px,#ca4f62 48px,#ca4f62 51px,#c94f62 54px,#c74f63 57px,#bd5068 60px,#a25574 63px,#775d92 66px,#566aae 69px,#4177c4 72px,#4182cd 75px,#5691d4 78px,#6ea1da 81px,#87b2e0 84px,#a2c2e8 87px,#bbd1ee 90px,#cfdff3 93px,#e0eaf7 96px,#eef4fa 99px,#f6f9fd 102px,#fcfdfe 105px,#ffffff 108px,#ffffff 111px,#ffffff 114px,#ffffff 117px,#ffffff 120px,#f7fafd 123px,#ecf3fa 126px,#e6eff9 129px,#e3edf8 132px,#e3edf8 135px,#e4edf8 138px,#e5eef8 141px,#e7eff9 144px,#e9f0f9 147px,#eaf1fa 150px,#ecf2fa 153px,#edf3fa 156px,#edf3fa 159px,#eef4fb 162px,#eff4fb 165px,#f0f5fb 168px,#eff5fb 171px,#eff5fb 174px,#eff5fb 177px,#eff5fb 180px,#ecf3fa 183px,#e8f0f9 186px,#e4edf8 189px,#dfeaf7 192px,#dae7f5 195px,#d5e4f4 198px,#d4e3f4 201px,#d4e3f4 204px,#d4e3f4 207px,#d5e4f4 210px,#d7e5f5 213px,#dae7f5 216px,#dee9f7 219px,#e4edf8 222px,#e9f1f9 225px,#eef4fb 228px,#f3f7fc 231px,#f8fafd 234px,#fbfcfe 237px,#fdfeff 240px,#fefeff 241px)"></div>
<div style="left:47px;top:31px;width:241px;height:1px;background:linear-gradient(90deg,#fefeff 0px,#f9fbfe 3px,#ebf2fa 6px,#dbe7f6 9px,#c6d9f0 12px,#acc8ea 15px,#8eb6e2 18px,#699ed9 21px,#4989d0 24px,#3e7ac8 27px,#526cb2 30px,#705e99 33px,#92587e 36px,#b1526d 39px,#c05066 42px,#c74f63 45px,#ca4f62 48px,#ca4f62 51px,#c94f62 54px,#c74f63 57px,#bd5068 60px,#a25574 63px,#775d92 66px,#566aae 69px,#4177c4 72px,#4182cd 75px,#5691d4 78px,#6ea1da 81px,#87b2e0 84px,#a2c2e8 87px,#bbd1ee 90px,#cfdff3 93px,#e0eaf7 96px,#eef4fa 99px,#f6f9fd 102px,#fcfdfe 105px,#ffffff 108px,#ffffff 111px,#ffffff 114px,#ffffff 117px,#ffffff 120px,#edf3fa 123px,#d3e2f4 126px,#c5d8f0 129px,#bfd4ef 132px,#bfd4ef 135px,#c0d5ef 138px,#c3d7f0 141px,#c7d9f1 144px,#cbdcf2 147px,#cfdff3 150px,#d2e2f4 153px,#d5e3f4 156px,#d7e5f5 159px,#d9e6f5 162px,#dce8f6 165px,#dee9f6 168px,#dee9f7 171px,#dee9f7 174px,#dfeaf7 177px,#dfeaf7 180px,#dbe7f6 183px,#d5e3f4 186px,#cedff3 189px,#c8daf1 192px,#c2d6f0 195px,#bdd3ee 198px,#bcd1ee 201px,#bcd2ee 204px,#bdd2ee 207px,#bfd4ef 210px,#c3d7f0 213px,#c7daf1 216px,#cddef2 219px,#d5e3f4 222px,#dee9f6 225px,#e6eff8 228px,#edf4fa 231px,#f4f8fc 234px,#f8fbfd 237px,#fcfdfe 240px,#fdfeff 241px)"></div>
<div style="left:47px;top:32px;width:241px;height:1px;background:linear-gradient(90deg,#fefeff 0px,#f9fbfe 3px,#ebf2fa 6px,#dbe7f6 9px,#c6d9f0 12px,#acc8ea 15px,#8eb6e2 18px,#699ed9 21px,#4989d0 24px,#3e7ac8 27px,#526cb2 30px,#705e99 33px,#92587e 36px,#b1526d 39px,#c05066 42px,#c74f63 45px,#ca4f62 48px,#ca4f62 51px,#c94f62 54px,#c74f63 57px,#bd5068 60px,#a25574 63px,#775d92 66px,#566aae 69px,#4177c4 72px,#4182cd 75px,#5691d4 78px,#6ea1da 81px,#87b2e0 84px,#a2c2e8 87px,#bbd1ee 90px,#cfdff3 93px,#e0eaf7 96px,#eef4fa 99px,#f6f9fd 102px,#fcfdfe 105px,#ffffff 108px,#ffffff 111px,#ffffff 114px,#ffffff 117px,#ffffff 120px,#e1ecf7 123px,#b8cfed 126px,#99bde5 129px,#87b1e0 132px,#83afdf 135px,#82afdf 138px,#87b1e0 141px,#8eb6e2 144px,#96bbe5 147px,#9fc0e7 150px,#a7c4e9 153px,#acc8ea 156px,#b2cbeb 159px,#b6ceed 162px,#bbd1ee 165px,#bfd4ef 168px,#c0d5ef 171px,#c1d5ef 174px,#c3d7f0 177px,#c4d8f0 180px,#bfd4ef 183px,#b7ceed 186px,#aec9eb 189px,#a5c4e8 192px,#9ec0e6 195px,#98bce5 198px,#96bbe5 201px,#98bce5 204px,#9bbee6 207px,#a0c1e7 210px,#a6c4e9 213px,#aec9eb 216px,#b8cfed 219px,#c3d7f0 222px,#cfdff3 225px,#dae7f6 228px,#e5eef8 231px,#eff4fb 234px,#f5f9fc 237px,#fbfcfe 240px,#fcfdfe 241px)"></div>
<div style="left:47px;top:33px;width:241px;height:1px;background:linear-gradient(90deg,#fefeff 0px,#f9fbfe 3px,#ebf2fa 6px,#dbe7f6 9px,#c6d9f0 12px,#acc8ea 15px,#8eb6e2 18px,#699ed9 21px,#4989d0 24px,#3e7ac8 27px,#526cb2 30px,#705e99 33px,#92587e 36px,#b1526d 39px,#c05066 42px,#c74f63 45px,#ca4f62 48px,#ca4f62 51px,#c94f62 54px,#c74f63 57px,#bd5068 60px,#a25574 63px,#775d92 66px,#566aae 69px,#4177c4 72px,#4182cd 75px,#5691d4 78px,#6ea1da 81px,#87b2e0 84px,#a2c2e8 87px,#bbd1ee 90px,#cfdff3 93px,#e0eaf7 96px,#eef4fa 99px,#f6f9fd 102px,#fcfdfe 105px,#ffffff 108px,#ffffff 111px,#ffffff 114px,#ffffff 117px,#ffffff 120px,#dce8f6 123px,#a7c5e9 126px,#74a5dc 129px,#5591d4 132px,#4989d0 135px,#4385ce 138px,#4385ce 141px,#4587cf 144px,#4e8cd2 147px,#5792d4 150px,#6198d7 153px,#699dd9 156px,#71a3db 159px,#78a8dd 162px,#81aedf 165px,#8ab4e1 168px,#8db6e2 171px,#91b8e3 174px,#95bae4 177px,#98bde5 180px,#91b8e3 183px,#86b1e0 186px,#7caadd 189px,#72a4db 192px,#6c9fd9 195px,#679cd8 198px,#669bd8 201px,#6a9ed9 204px,#6ea1da 207px,#75a6dc 210px,#7facde 213px,#8bb4e2 216px,#9abde6 219px,#acc7ea 222px,#bdd2ee 225px,#ccddf2 228px,#dbe7f6 231px,#e8f0f9 234px,#f2f6fc 237px,#fafbfe 240px,#fbfdfe 241px)"></div>
<div style="left:47px;top:34px;width:241px;height:1px;background:linear-gradient(90deg,#fefeff 0px,#f9fbfe 3px,#ebf2fa 6px,#dbe7f6 9px,#c6d9f0 12px,#acc8ea 15px,#8eb6e2 18px,#699ed9 21px,#4989d0 24px,#3e7ac8 27px,#526cb2 30px,#705e99 33px,#92587e 36px,#b1526d 39px,#c05066 42px,#c74f63 45px,#ca4f62 48px,#ca4f62 51px,#c94f62 54px,#c74f63 57px,#bd5068 60px,#a25574 63px,#775d92 66px,#566aae 69px,#4177c4 72px,#4182cd 75px,#5691d4 78px,#6ea1da 81px,#87b2e0 84px,#a2c2e8 87px,#bbd1ee 90px,#cfdff3 93px,#e0eaf7 96px,#eef4fa 99px,#f6f9fd 102px,#fcfdfe 105px,#ffffff 108px,#ffffff 111px,#ffffff 114px,#ffffff 117px,#ffffff 120px,#e1ebf7 123px,#b1cbeb 126px,#72a4db 129px,#4486cf 132px,#3f79c6 135px,#4c6fb8 138px,#5869ad 141px,#5c67a9 144px,#5869ad 147px,#516db3 150px,#4971bb 153px,#4375c2 156px,#3f79c6 159px,#3d7dca 162px,#4182cd 165px,#4788d0 168px,#4b8ad1 171px,#508dd2 174px,#5691d4 177px,#5b94d5 180px,#5591d4 183px,#4c8bd1 186px,#4486cf 189px,#4081cd 192px,#3e7fcb 195px,#3d7dcb 198px,#3d7ecb 201px,#4081cc 204px,#4284ce 207px,#4a89d0 210px,#5691d4 213px,#649ad8 216px,#76a6dc 219px,#8eb6e2 222px,#a6c4e8 225px,#bcd2ee 228px,#cfdff3 231px,#e1ebf7 234px,#edf3fa 237px,#f8fafd 240px,#fafcfe 241px)"></div>
<div style="left:47px;top:35px;width:241px;height:1px;background:linear-gradient(90deg,#fefeff 0px,#f9fbfe 3px,#ebf2fa 6px,#dbe7f6 9px,#c6d9f0 12px,#acc8ea 15px,#8eb6e2 18px,#699ed9 21px,#4989d0 24px,#3e7ac8 27px,#526cb2 30px,#705e99 33px,#92587e 36px,#b1526d 39px,#c05066 42px,#c74f63 45px,#ca4f62 48px,#ca4f62 51px,#c94f62 54px,#c74f63 57px,#bd5068 60px,#a25574 63px,#775d92 66px,#566aae 69px,#4177c4 72px,#4182cd 75px,#5691d4 78px,#6ea1da 81px,#87b2e0 84px,#a2c2e8 87px,#bbd1ee 90px,#cfdff3 93px,#e0eaf7 96px,#eef4fa 99px,#f6f9fd 102px,#fcfdfe 105px,#ffffff 108px,#ffffff 111px,#ffffff 114px,#ffffff 117px,#ffffff 120px,#ebf2fa 123px,#cadcf1 126px,#93b9e4 129px,#5892d4 132px,#3e7ac8 135px,#5869ac 138px,#785d91 141px,#94587d 144px,#a05675 147px,#a35573 150px,#9f5676 153px,#95587c 156px,#8a5a84 159px,#7d5c8d 162px,#705d99 165px,#6362a4 168px,#5c66a9 171px,#566aae 174px,#4e6eb6 177px,#4772bd 180px,#4c70b8 183px,#536cb1 186px,#5a67aa 189px,#6263a5 192px,#6561a2 195px,#6561a2 198px,#6362a3 201px,#5a67ab 204px,#516db3 207px,#4474c0 210px,#3e7ac8 213px,#4283cd 216px,#5490d3 219px,#6da0da 222px,#8bb4e2 225px,#a9c6e9 228px,#c2d6f0 231px,#d8e5f5 234px,#e8f0f9 237px,#f6f9fd 240px,#f9fbfd 241px)"></div>
<div style="left:47px;top:36px;width:241px;height:1px;background:linear-gradient(90deg,#fefeff 0px,#f9fbfe 3px,#ebf2fa 6px,#dbe7f6 9px,#c6d9f0 12px,#acc8ea 15px,#8eb6e2 18px,#699ed9 21px,#4989d0 24px,#3e7ac8 27px,#526cb2 30px,#705e99 33px,#92587e 36px,#b1526d 39px,#c05066 42px,#c74f63 45px,#ca4f62 48px,#ca4f62 51px,#c94f62 54px,#c74f63 57px,#bd5068 60px,#a25574 63px,#775d92 66px,#566aae 69px,#4177c4 72px,#4182cd 75px,#5691d4 78px,#6ea1da 81px,#87b2e0 84px,#a2c2e8 87px,#bbd1ee 90px,#cfdff3 93px,#e0eaf7 96px,#eef4fa 99px,#f6f9fd 102px,#fcfdfe 105px,#ffffff 108px,#ffffff 111px,#ffffff 114px,#ffffff 117px,#fdfeff 120px,#eff5fb 123px,#dce8f6 126px,#bcd2ee 129px,#88b2e1 132px,#5490d3 135px,#4276c3 138px,#6c5e9c 141px,#a05675 144px,#c64f64 147px,#d6525d 150px,#dc595c 153px,#dd5b5c 156px,#dd5a5c 159px,#da575c 162px,#d5515d 165px,#cb4f61 168px,#c44f64 171px,#bc5068 174px,#ad536f 177px,#9f5676 180px,#a45573 183px,#ad536f 186px,#b5516b 189px,#bd5067 192px,#bd5067 195px,#b95169 198px,#b3526c 201px,#a05675 204px,#8b5a83 207px,#745d95 210px,#5e65a8 213px,#4872bc 216px,#3d7dcb 219px,#508dd2 222px,#70a2da 225px,#93bae4 228px,#b5cdec 231px,#cfdff3 234px,#e3edf8 237px,#f4f8fc 240px,#f7fafd 241px)"></div>
<div style="left:47px;top:37px;width:241px;height:1px;background:linear-gradient(90deg,#fefeff 0px,#f9fbfe 3px,#ebf2fa 6px,#dbe7f6 9px,#c6d9f0 12px,#acc8ea 15px,#8eb6e2 18px,#699ed9 21px,#4989d0 24px,#3e7ac8 27px,#526cb2 30px,#705e99 33px,#92587e 36px,#b1526d 39px,#c05066 42px,#c74f63 45px,#ca4f62 48px,#ca4f62 51px,#c94f62 54px,#c74f63 57px,#bd5068 60px,#a25574 63px,#775d92 66px,#566aae 69px,#4177c4 72px,#4182cd 75px,#5691d4 78px,#6ea1da 81px,#87b2e0 84px,#a2c2e8 87px,#bbd1ee 90px,#cfdff3 93px,#e0eaf7 96px,#eef4fa 99px,#f6f9fd 102px,#fcfdfe 105px,#ffffff 108px,#ffffff 111px,#ffffff 114px,#ffffff 117px,#f8fbfd 120px,#e2ecf7 123px,#cfdff3 126px,#c9dbf1 129px,#b5cdec 132px,#8cb5e2 135px,#5892d4 138px,#4276c3 141px,#715d98 144px,#b0526e 147px,#d8545d 150px,#e36c59 153px,#e77b55 156px,#e98653 159px,#eb8c51 162px,#ea8b51 165px,#e98553 168px,#e88254 171px,#e77c55 174px,#e57357 177px,#e26b59 180px,#e36c59 183px,#e46f58 186px,#e57257 189px,#e57557 192px,#e47258 195px,#e36c59 198px,#e1665a 201px,#db585c 204px,#d14e5e 207px,#b6516b 210px,#8e5980 213px,#6b5e9d 216px,#4c70b8 219px,#3e7ecb 222px,#5993d5 225px,#7facde 228px,#a7c5e9 231px,#c7daf1 234px,#dee9f6 237px,#f2f6fb 240px,#f6f9fd 241px)"></div>
<div style="left:47px;top:38px;width:241px;height:1px;background:linear-gradient(90deg,#fefeff 0px,#f9fbfe 3px,#ebf2fa 6px,#dbe7f6 9px,#c6d9f0 12px,#acc8ea 15px,#8eb6e2 18px,#699ed9 21px,#4989d0 24px,#3e7ac8 27px,#526cb2 30px,#705e99 33px,#92587e 36px,#b1526d 39px,#c05066 42px,#c74f63 45px,#ca4f62 48px,#ca4f62 51px,#c94f62 54px,#c74f63 57px,#bd5068 60px,#a25574 63px,#775d92 66px,#566aae 69px,#4177c4 72px,#4182cd 75px,#5691d4 78px,#6ea1da 81px,#87b2e0 84px,#a2c2e8 87px,#bbd1ee 90px,#cfdff3 93px,#e0eaf7 96px,#eef4fa 99px,#f6f9fd 102px,#fcfdfe 105px,#ffffff 108px,#ffffff 111px,#ffffff 114px,#ffffff 117px,#f1f6fb 120px,#c6d9f0 123px,#a2c2e7 126px,#a7c5e9 129px,#b0caeb 132px,#aac6ea 135px,#8eb6e2 138px,#5e96d6 141px,#3e7ac7 144px,#695f9f 147px,#ae536e 150px,#dc595c 153px,#e57557 156px,#eb8f50 159px,#efa34b 162px,#f0af47 165px,#f1b446 168px,#f2b844 171px,#f2b844 174px,#f1b346 177px,#f0ac48 180px,#f0ae48 183px,#f0af47 186px,#f1b047 189px,#f1b147 192px,#f0aa49 195px,#eea04c 198px,#ed984e 201px,#e98453 204px,#e47058 207px,#db585c 210px,#c34f65 213px,#94587d 216px,#6660a1 219px,#4375c1 222px,#4687cf 225px,#6ea1da 228px,#9abee6 231px,#c0d5ef 234px,#d9e6f5 237px,#f0f5fb 240px,#f5f8fc 241px)"></div>
<div style="left:47px;top:39px;width:241px;height:1px;background:linear-gradient(90deg,#fefeff 0px,#f9fbfe 3px,#ebf2fa 6px,#dbe7f6 9px,#c6d9f0 12px,#acc8ea 15px,#8eb6e2 18px,#699ed9 21px,#4989d0 24px,#3e7ac8 27px,#526cb2 30px,#705e99 33px,#92587e 36px,#b1526d 39px,#c05066 42px,#c74f63 45px,#ca4f62 48px,#ca4f62 51px,#c94f62 54px,#c74f63 57px,#bd5068 60px,#a25574 63px,#775d92 66px,#566aae 69px,#4177c4 72px,#4182cd 75px,#5691d4 78px,#6ea1da 81px,#87b2e0 84px,#a2c2e8 87px,#bbd1ee 90px,#cfdff3 93px,#e0eaf7 96px,#eef4fa 99px,#f6f9fd 102px,#fcfdfe 105px,#ffffff 108px,#ffffff 111px,#ffffff 114px,#ffffff 117px,#edf3fa 120px,#b7ceed 123px,#7baadd 126px,#6a9ed9 129px,#73a4db 132px,#86b1e0 135px,#90b7e3 138px,#84afe0 141px,#6299d7 144px,#3e7fcb 147px,#5c66a9 150px,#a05675 153px,#d5515e 156px,#e47058 159px,#ec924f 162px,#f0ad48 165px,#f3c03e 168px,#f5ce32 171px,#f7d728 174px,#f8da25 177px,#f8da25 180px,#f8de21 183px,#f8dd21 186px,#f8dd21 189px,#f8dd22 192px,#f7d52a 195px,#f5c936 198px,#f3bf3f 201px,#efa74a 204px,#eb9050 207px,#e57257 210px,#d9565d 213px,#b7516a 216px,#7c5c8e 219px,#516db3 222px,#3f80cc 225px,#6399d7 228px,#91b8e3 231px,#bbd1ee 234px,#d6e4f4 237px,#eff4fb 240px,#f4f8fc 241px)"></div>
<div style="left:47px;top:40px;width:241px;height:1px;background:linear-gradient(90deg,#fefeff 0px,#f9fbfe 3px,#ebf2fa 6px,#dbe7f6 9px,#c6d9f0 12px,#acc8ea 15px,#8eb6e2 18px,#699ed9 21px,#4989d0 24px,#3e7ac8 27px,#526cb2 30px,#705e99 33px,#92587e 36px,#b1526d 39px,#c05066 42px,#c74f63 45px,#ca4f62 48px,#ca4f62 51px,#c94f62 54px,#c74f63 57px,#bd5068 60px,#a25574 63px,#775d92 66px,#566aae 69px,#4177c4 72px,#4182cd 75px,#5691d4 78px,#6ea1da 81px,#87b2e0 84px,#a2c2e8 87px,#bbd1ee 90px,#cfdff3 93px,#e0eaf7 96px,#eef4fa 99px,#f6f9fd 102px,#fcfdfe 105px,#ffffff 108px,#ffffff 111px,#ffffff 114px,#ffffff 117px,#f1f6fb 120px,#c6d9f1 123px,#91b8e3 126px,#5d95d6 129px,#4587cf 132px,#4485cf 135px,#528ed3 138px,#669bd8 141px,#6b9fd9 144px,#5d95d6 147px,#4182cd 150px,#506eb4 153px,#7c5c8e 156px,#be5067 159px,#df605b 162px,#e98453 165px,#efa44b 168px,#f3be40 171px,#f6d22e 174px,#f9df20 177px,#fbe916 180px,#fdf10f 183px,#fdf20e 186px,#fdf30d 189px,#fdf40c 192px,#fbec13 195px,#f9df1f 198px,#f6d42b 201px,#f2bb42 204px,#eea14c 207px,#e88254 210px,#df615b 213px,#c64f63 216px,#8a5a83 219px,#5a68ab 222px,#3c7cca 225px,#5d95d6 228px,#8cb5e2 231px,#b8cfed 234px,#d4e3f4 237px,#eef4fb 240px,#f4f8fc 241px)"></div>
<div style="left:47px;top:41px;width:241px;height:1px;background:linear-gradient(90deg,#fefeff 0px,#f9fbfe 3px,#ebf2fa 6px,#dbe7f6 9px,#c6d9f0 12px,#acc8ea 15px,#8eb6e2 18px,#699ed9 21px,#4989d0 24px,#3e7ac8 27px,#526cb2 30px,#705e99 33px,#92587e 36px,#b1526d 39px,#c05066 42px,#c74f63 45px,#ca4f62 48px,#ca4f62 51px,#c94f62 54px,#c74f63 57px,#bd5068 60px,#a25574 63px,#775d92 66px,#566aae 69px,#4177c4 72px,#4182cd 75px,#5691d4 78px,#6ea1da 81px,#87b2e0 84px,#a2c2e8 87px,#bbd1ee 90px,#cfdff3 93px,#e0eaf7 96px,#eef4fa 99px,#f6f9fd 102px,#fcfdfe 105px,#ffffff 108px,#ffffff 111px,#ffffff 114px,#ffffff 117px,#f8fbfd 120px,#e4eef8 123px,#c7daf1 126px,#92b9e4 129px,#5b94d5 132px,#3c7dca 135px,#4574bf 138px,#4177c4 141px,#3e7fcb 144px,#4687cf 147px,#4989d0 150px,#4080cc 153px,#4276c2 156px,#6163a5 159px,#96587c 162px,#d04e5f 165px,#e36b59 168px,#eb8c51 171px,#efa949 174px,#f3c03e 177px,#f6d42c 180px,#f9e11d 183px,#fae618 186px,#fbeb14 189px,#fcef10 192px,#fbe915 195px,#f9df1f 198px,#f6d42b 201px,#f2bb42 204px,#eea14c 207px,#e88254 210px,#df615b 213px,#c64f63 216px,#8a5a83 219px,#5a68ab 222px,#3c7cca 225px,#5d95d6 228px,#8cb5e2 231px,#b8cfed 234px,#d4e3f4 237px,#eef4fb 240px,#f4f8fc 241px)"></div>
<div style="left:47px;top:42px;width:241px;height:1px;background:linear-gradient(90deg,#fefeff 0px,#f9fbfe 3px,#ebf2fa 6px,#dbe7f6 9px,#c6d9f0 12px,#acc8ea 15px,#8eb6e2 18px,#699ed9 21px,#4989d0 24px,#3e7ac8 27px,#526cb2 30px,#705e99 33px,#92587e 36px,#b1526d 39px,#c05066 42px,#c74f63 45px,#ca4f62 48px,#ca4f62 51px,#c94f62 54px,#c74f63 57px,#bd5068 60px,#a25574 63px,#775d92 66px,#566aae 69px,#4177c4 72px,#4182cd 75px,#5691d4 78px,#6ea1da 81px,#87b2e0 84px,#a2c2e8 87px,#bbd1ee 90px,#cfdff3 93px,#e0eaf7 96px,#eef4fa 99px,#f6f9fd 102px,#fcfdfe 105px,#ffffff 108px,#ffffff 111px,#ffffff 114px,#ffffff 117px,#fdfefe 120px,#f6f9fd 123px,#ecf3fa 126px,#d3e2f4 129px,#a9c6e9 132px,#6b9fd9 135px,#3d7dca 138px,#4d6fb7 141px,#5a68ab 144px,#556aaf 147px,#4872bc 150px,#4177c4 153px,#3e7ac8 156px,#4177c4 159px,#516db3 162px,#725d97 165px,#a85472 168px,#d34f5e 171px,#e26959 174px,#e98653 177px,#eea14c 180px,#f1b545 183px,#f3bf3f 186px,#f4c837 189px,#f6d030 192px,#f6cf31 195px,#f5c936 198px,#f3bf3f 201px,#efa74a 204px,#eb9050 207px,#e57257 210px,#d9565d 213px,#b7516a 216px,#7c5c8e 219px,#516db3 222px,#3f80cc 225px,#6399d7 228px,#91b8e3 231px,#bbd1ee 234px,#d6e4f4 237px,#eff4fb 240px,#f4f8fc 241px)"></div>
<div style="left:47px;top:43px;width:241px;height:1px;background:linear-gradient(90deg,#fefeff 0px,#f9fbfe 3px,#ebf2fa 6px,#dbe7f6 9px,#c6d9f0 12px,#acc8ea 15px,#8eb6e2 18px,#699ed9 21px,#4989d0 24px,#3e7ac8 27px,#526cb2 30px,#705e99 33px,#92587e 36px,#b1526d 39px,#c05066 42px,#c74f63 45px,#ca4f62 48px,#ca4f62 51px,#c94f62 54px,#c74f63 57px,#bd5068 60px,#a25574 63px,#775d92 66px,#566aae 69px,#4177c4 72px,#4182cd 75px,#5691d4 78px,#6ea1da 81px,#87b2e0 84px,#a2c2e8 87px,#bbd1ee 90px,#cfdff3 93px,#e0eaf7 96px,#eef4fa 99px,#f6f9fd 102px,#fcfdfe 105px,#ffffff 108px,#ffffff 111px,#ffffff 114px,#ffffff 117px,#fcfdfe 120px,#f3f7fc 123px,#edf3fa 126px,#ecf3fa 129px,#e0ebf7 132px,#c2d6ef 135px,#8ab3e1 138px,#5490d3 141px,#4177c4 144px,#6064a6 147px,#745d95 150px,#755d94 153px,#6661a1 156px,#556baf 159px,#4d6fb7 162px,#506eb4 165px,#6064a6 168px,#7b5c8f 171px,#a55573 174px,#cd4e60 177px,#df605b 180px,#e57657 183px,#e98453 186px,#ec9150 189px,#ee9d4d 192px,#eea14c 195px,#eea14c 198px,#ed984e 201px,#e98453 204px,#e47058 207px,#db585c 210px,#c34f65 213px,#94587d 216px,#6660a1 219px,#4375c1 222px,#4687cf 225px,#6ea1da 228px,#9abee6 231px,#c0d5ef 234px,#d9e6f5 237px,#f0f5fb 240px,#f5f8fc 241px)"></div>
<div style="left:47px;top:44px;width:241px;height:1px;background:linear-gradient(90deg,#fefeff 0px,#f9fbfe 3px,#ebf2fa 6px,#dbe7f6 9px,#c6d9f0 12px,#acc8ea 15px,#8eb6e2 18px,#699ed9 21px,#4989d0 24px,#3e7ac8 27px,#526cb2 30px,#705e99 33px,#92587e 36px,#b1526d 39px,#c05066 42px,#c74f63 45px,#ca4f62 48px,#ca4f62 51px,#c94f62 54px,#c74f63 57px,#bd5068 60px,#a25574 63px,#775d92 66px,#566aae 69px,#4177c4 72px,#4182cd 75px,#5691d4 78px,#6ea1da 81px,#87b2e0 84px,#a2c2e8 87px,#bbd1ee 90px,#cfdff3 93px,#e0eaf7 96px,#eef4fa 99px,#f6f9fd 102px,#fcfdfe 105px,#ffffff 108px,#ffffff 111px,#ffffff 114px,#ffffff 117px,#f6f9fd 120px,#dce8f6 123px,#c9dbf1 126px,#d1e1f3 129px,#e1ebf7 132px,#e4edf8 135px,#d4e3f4 138px,#b7ceed 141px,#83afdf 144px,#4a8ad1 147px,#4a70ba 150px,#775d92 153px,#96587c 156px,#9a5779 159px,#875b86 162px,#715d98 165px,#6362a4 168px,#6263a5 171px,#6b5e9d 174px,#7d5c8d 177px,#9f5676 180px,#c05066 183px,#d34f5e 186px,#dc595c 189px,#e1655a 192px,#e36c59 195px,#e46f58 198px,#e26959 201px,#dd5a5c 204px,#d34f5e 207px,#b9516a 210px,#91597f 213px,#6d5e9c 216px,#4d6fb7 219px,#3e7ecb 222px,#5893d4 225px,#7facde 228px,#a7c5e9 231px,#c7daf1 234px,#dee9f6 237px,#f2f6fb 240px,#f6f9fd 241px)"></div>
<div style="left:47px;top:45px;width:241px;height:1px;background:linear-gradient(90deg,#fefeff 0px,#f9fbfe 3px,#ebf2fa 6px,#dbe7f6 9px,#c6d9f0 12px,#acc8ea 15px,#8eb6e2 18px,#699ed9 21px,#4989d0 24px,#3e7ac8 27px,#526cb2 30px,#705e99 33px,#92587e 36px,#b1526d 39px,#c05066 42px,#c74f63 45px,#ca4f62 48px,#ca4f62 51px,#c94f62 54px,#c74f63 57px,#bd5068 60px,#a25574 63px,#775d92 66px,#566aae 69px,#4177c4 72px,#4182cd 75px,#5691d4 78px,#6ea1da 81px,#87b2e0 84px,#a2c2e8 87px,#bbd1ee 90px,#cfdff3 93px,#e0eaf7 96px,#eef4fa 99px,#f6f9fd 102px,#fcfdfe 105px,#ffffff 108px,#ffffff 111px,#ffffff 114px,#ffffff 117px,#f2f7fc 120px,#cbdcf2 123px,#a5c3e8 126px,#94bae4 129px,#a9c6e9 132px,#c2d6f0 135px,#d5e4f4 138px,#dae7f6 141px,#d0e0f3 144px,#b3cbec 147px,#7caadd 150px,#4284ce 153px,#566aae 156px,#8b5a83 159px,#b7516a 162px,#c05066 165px,#b1526d 168px,#96587b 171px,#815c8a 174px,#775d92 177px,#785d91 180px,#8b5a83 183px,#a15575 186px,#b5516b 189px,#c54f64 192px,#cd4e60 195px,#d24e5e 198px,#ca4f62 201px,#b6516b 204px,#9f5676 207px,#805c8a 210px,#6660a1 213px,#4e6eb6 216px,#3d7bc9 219px,#4c8bd1 222px,#6ea1da 225px,#93bae4 228px,#b5cdec 231px,#cfdff3 234px,#e3edf8 237px,#f4f8fc 240px,#f7fafd 241px)"></div>
<div style="left:47px;top:46px;width:241px;height:1px;background:linear-gradient(90deg,#fefeff 0px,#f9fbfe 3px,#ebf2fa 6px,#dbe7f6 9px,#c6d9f0 12px,#acc8ea 15px,#8eb6e2 18px,#699ed9 21px,#4989d0 24px,#3e7ac8 27px,#526cb2 30px,#705e99 33px,#92587e 36px,#b1526d 39px,#c05066 42px,#c74f63 45px,#ca4f62 48px,#ca4f62 51px,#c94f62 54px,#c74f63 57px,#bd5068 60px,#a25574 63px,#775d92 66px,#566aae 69px,#4177c4 72px,#4182cd 75px,#5691d4 78px,#6ea1da 81px,#87b2e0 84px,#a2c2e8 87px,#bbd1ee 90px,#cfdff3 93px,#e0eaf7 96px,#eef4fa 99px,#f6f9fd 102px,#fcfdfe 105px,#ffffff 108px,#ffffff 111px,#ffffff 114px,#ffffff 117px,#f6f9fd 120px,#dce8f6 123px,#bbd1ee 126px,#8ab3e1 129px,#74a5dc 132px,#76a6dc 135px,#8eb6e2 138px,#abc7ea 141px,#c7d9f1 144px,#d2e2f4 147px,#cbdcf2 150px,#adc8ea 153px,#75a5dc 156px,#4081cc 159px,#6163a5 162px,#a45573 165px,#d14e5e 168px,#d4505e 171px,#ce4e60 174px,#bf5067 177px,#a85471 180px,#ad536f 183px,#b8516a 186px,#be5067 189px,#c44f65 192px,#c64f64 195px,#c54f64 198px,#b5516b 201px,#995779 204px,#805c8a 207px,#695f9f 210px,#516db3 213px,#4078c5 216px,#4385cf 219px,#6198d7 222px,#84afe0 225px,#a9c6e9 228px,#c2d6f0 231px,#d8e5f5 234px,#e8f0f9 237px,#f6f9fd 240px,#f9fbfd 241px)"></div>
<div style="left:47px;top:47px;width:241px;height:1px;background:linear-gradient(90deg,#fefeff 0px,#f9fbfe 3px,#ebf2fa 6px,#dbe7f6 9px,#c6d9f0 12px,#acc8ea 15px,#8eb6e2 18px,#699ed9 21px,#4989d0 24px,#3e7ac8 27px,#526cb2 30px,#705e99 33px,#92587e 36px,#b1526d 39px,#c05066 42px,#c74f63 45px,#ca4f62 48px,#ca4f62 51px,#c94f62 54px,#c74f63 57px,#bd5068 60px,#a25574 63px,#775d92 66px,#566aae 69px,#4177c4 72px,#4182cd 75px,#5691d4 78px,#6ea1da 81px,#87b2e0 84px,#a2c2e8 87px,#bbd1ee 90px,#cfdff3 93px,#e0eaf7 96px,#eef4fa 99px,#f6f9fd 102px,#fcfdfe 105px,#ffffff 108px,#ffffff 111px,#ffffff 114px,#ffffff 117px,#fcfdfe 120px,#f4f8fc 123px,#e7f0f9 126px,#c6d9f0 129px,#9dbfe6 132px,#72a4db 135px,#5a94d5 138px,#5892d4 141px,#73a4db 144px,#99bde5 147px,#bad0ed 150px,#c9dbf1 153px,#b7ceed 156px,#93bae4 159px,#6198d7 162px,#3f79c6 165px,#755d94 168px,#a85471 171px,#cb4f61 174px,#d7535d 177px,#d8555d 180px,#da575d 183px,#dc595c 186px,#da575d 189px,#d9565d 192px,#d7535d 195px,#d4505e 198px,#c24f65 201px,#a25574 204px,#815c89 207px,#6561a2 210px,#4b70b9 213px,#3c7dca 216px,#508dd2 219px,#71a3db 222px,#97bce5 225px,#bcd2ee 228px,#cfdff3 231px,#e1ebf7 234px,#edf3fa 237px,#f8fafd 240px,#fafcfe 241px)"></div>
<div style="left:47px;top:48px;width:241px;height:1px;background:linear-gradient(90deg,#fefeff 0px,#f9fbfe 3px,#ebf2fa 6px,#dbe7f6 9px,#c6d9f0 12px,#acc8ea 15px,#8eb6e2 18px,#699ed9 21px,#4989d0 24px,#3e7ac8 27px,#526cb2 30px,#705e99 33px,#92587e 36px,#b1526d 39px,#c05066 42px,#c74f63 45px,#ca4f62 48px,#ca4f62 51px,#c94f62 54px,#c74f63 57px,#bd5068 60px,#a25574 63px,#775d92 66px,#566aae 69px,#4177c4 72px,#4182cd 75px,#5691d4 78px,#6ea1da 81px,#87b2e0 84px,#a2c2e8 87px,#bbd1ee 90px,#cfdff3 93px,#e0eaf7 96px,#eef4fa 99px,#f6f9fd 102px,#fcfdfe 105px,#ffffff 108px,#ffffff 111px,#ffffff 114px,#ffffff 117px,#ffffff 120px,#fdfeff 123px,#fbfdfe 126px,#f2f7fc 129px,#dfeaf7 132px,#bfd4ef 135px,#8fb7e3 138px,#639ad7 141px,#538fd3 144px,#5490d3 147px,#679cd8 150px,#88b2e1 153px,#88b2e1 156px,#84b0e0 159px,#7baadd 162px,#649ad7 165px,#4183cd 168px,#4375c1 171px,#6461a3 174px,#8e5981 177px,#bb5068 180px,#c84f63 183px,#c94f62 186px,#c54f64 189px,#c64f63 192px,#c44f64 195px,#c15066 198px,#ab5370 201px,#8c5a82 204px,#6e5e9a 207px,#546bb0 210px,#4078c5 213px,#4486cf 216px,#639ad7 219px,#85b0e0 222px,#abc7ea 225px,#ccddf2 228px,#dbe7f6 231px,#e8f0f9 234px,#f2f6fc 237px,#fafbfe 240px,#fbfdfe 241px)"></div>
<div style="left:47px;top:63px;width:241px;height:1px;background:#ffffff"></div>
<div style="left:47px;top:64px;width:241px;height:1px;background:#ffffff"></div>
<div style="left:47px;top:65px;width:241px;height:1px;background:#ffffff"></div>
<div style="left:47px;top:66px;width:241px;height:1px;background:#ffffff"></div>
<div style="left:47px;top:67px;width:241px;height:1px;background:#ffffff"></div>
<div style="left:47px;top:68px;width:241px;height:1px;background:#ffffff"></div>
<div style="left:47px;top:69px;width:241px;height:1px;background:#ffffff"></div>
<div style="left:47px;top:70px;width:241px;height:1px;background:#ffffff"></div>
<div style="left:47px;top:71px;width:241px;height:1px;background:linear-gradient(90deg,#ffffff 0px,#ffffff 3px,#ffffff 6px,#ffffff 9px,#ffffff 12px,#ffffff 15px,#ffffff 18px,#ffffff 21px,#ffffff 24px,#ffffff 27px,#ffffff 30px,#ffffff 33px,#ffffff 36px,#ffffff 39px,#ffffff 42px,#ffffff 45px,#ffffff 48px,#ffffff 51px,#ffffff 54px,#ffffff 57px,#ffffff 60px,#ffffff 63px,#ffffff 66px,#ffffff 69px,#ffffff 72px,#ffffff 75px,#ffffff 78px,#ffffff 81px,#ffffff 84px,#ffffff 87px,#ffffff 90px,#ffffff 93px,#ffffff 96px,#ffffff 99px,#ffffff 102px,#ffffff 105px,#ffffff 108px,#ffffff 111px,#ffffff 114px,#ffffff 117px,#ffffff 120px,#ffffff 123px,#ffffff 126px,#ffffff 129px,#ffffff 132px,#ffffff 135px,#ffffff 138px,#ffffff 141px,#ffffff 144px,#ffffff 147px,#ffffff 150px,#ffffff 153px,#ffffff 156px,#ffffff 159px,#ffffff 162px,#ffffff 165px,#ffffff 168px,#ffffff 171px,#ffffff 174px,#ffffff 177px,#ffffff 180px,#ffffff 183px,#ffffff 186px,#ffffff 189px,#ffffff 192px,#ffffff 195px,#ffffff 198px,#ffffff 201px,#ffffff 204px,#feffff 207px,#feffff 210px,#feffff 213px,#feffff 216px,#feffff 219px,#feffff 222px,#feffff 225px,#ffffff 228px,#ffffff 231px,#ffffff 234px,#ffffff 237px,#ffffff 240px,#ffffff 241px)"></div>
<div style="left:47px;top:72px;width:241px;height:1px;background:linear-gradient(90deg,#ffffff 0px,#ffffff 3px,#ffffff 6px,#ffffff 9px,#ffffff 12px,#ffffff 15px,#ffffff 18px,#ffffff 21px,#ffffff 24px,#ffffff 27px,#ffffff 30px,#ffffff 33px,#ffffff 36px,#ffffff 39px,#ffffff 42px,#ffffff 45px,#ffffff 48px,#ffffff 51px,#ffffff 54px,#ffffff 57px,#ffffff 60px,#ffffff 63px,#ffffff 66px,#ffffff 69px,#ffffff 72px,#ffffff 75px,#ffffff 78px,#ffffff 81px,#ffffff 84px,#ffffff 87px,#ffffff 90px,#ffffff 93px,#ffffff 96px,#ffffff 99px,#ffffff 102px,#ffffff 105px,#ffffff 108px,#ffffff 111px,#ffffff 114px,#ffffff 117px,#ffffff 120px,#ffffff 123px,#ffffff 126px,#ffffff 129px,#ffffff 132px,#ffffff 135px,#ffffff 138px,#ffffff 141px,#ffffff 144px,#ffffff 147px,#ffffff 150px,#ffffff 153px,#ffffff 156px,#ffffff 159px,#ffffff 162px,#ffffff 165px,#ffffff 168px,#ffffff 171px,#ffffff 174px,#ffffff 177px,#ffffff 180px,#ffffff 183px,#ffffff 186px,#ffffff 189px,#ffffff 192px,#ffffff 195px,#ffffff 198px,#feffff 201px,#feffff 204px,#feffff 207px,#fefeff 210px,#fefeff 213px,#fefeff 216px,#fefeff 219px,#fefeff 222px,#fefeff 225px,#feffff 228px,#feffff 231px,#ffffff 234px,#ffffff 237px,#ffffff 240px,#ffffff 241px)"></div>
<div style="left:47px;top:73px;width:241px;height:1px;background:linear-gradient(90deg,#ffffff 0px,#ffffff 3px,#ffffff 6px,#ffffff 9px,#ffffff 12px,#ffffff 15px,#ffffff 18px,#ffffff 21px,#ffffff 24px,#ffffff 27px,#ffffff 30px,#ffffff 33px,#ffffff 36px,#ffffff 39px,#ffffff 42px,#ffffff 45px,#ffffff 48px,#ffffff 51px,#ffffff 54px,#ffffff 57px,#ffffff 60px,#ffffff 63px,#ffffff 66px,#ffffff 69px,#ffffff 72px,#ffffff 75px,#ffffff 78px,#ffffff 81px,#ffffff 84px,#ffffff 87px,#ffffff 90px,#ffffff 93px,#ffffff 96px,#ffffff 99px,#ffffff 102px,#ffffff 105px,#ffffff 108px,#ffffff 111px,#ffffff 114px,#ffffff 117px,#ffffff 120px,#ffffff 123px,#ffffff 126px,#ffffff 129px,#ffffff 132px,#ffffff 135px,#ffffff 138px,#ffffff 141px,#ffffff 144px,#ffffff 147px,#ffffff 150px,#ffffff 153px,#ffffff 156px,#ffffff 159px,#ffffff 162px,#ffffff 165px,#ffffff 168px,#ffffff 171px,#ffffff 174px,#ffffff 177px,#ffffff 180px,#ffffff 183px,#ffffff 186px,#ffffff 189px,#ffffff 192px,#ffffff 195px,#feffff 198px,#fefeff 201px,#fefeff 204px,#fefeff 207px,#fefeff 210px,#fefeff 213px,#fefeff 216px,#fefeff 219px,#fefeff 222px,#fefeff 225px,#fefeff 228px,#fefeff 231px,#feffff 234px,#feffff 237px,#ffffff 240px,#ffffff 241px)"></div>
<div style="left:47px;top:74px;width:241px;height:1px;background:linear-gradient(90deg,#ffffff 0px,#ffffff 3px,#ffffff 6px,#ffffff 9px,#ffffff 12px,#ffffff 15px,#ffffff 18px,#ffffff 21px,#ffffff 24px,#ffffff 27px,#ffffff 30px,#ffffff 33px,#ffffff 36px,#ffffff 39px,#ffffff 42px,#ffffff 45px,#ffffff 48px,#ffffff 51px,#ffffff 54px,#ffffff 57px,#ffffff 60px,#ffffff 63px,#ffffff 66px,#ffffff 69px,#ffffff 72px,#ffffff 75px,#ffffff 78px,#ffffff 81px,#ffffff 84px,#ffffff 87px,#ffffff 90px,#ffffff 93px,#ffffff 96px,#ffffff 99px,#ffffff 102px,#ffffff 105px,#ffffff 108px,#ffffff 111px,#ffffff 114px,#ffffff 117px,#ffffff 120px,#ffffff 123px,#ffffff 126px,#ffffff 129px,#ffffff 132px,#ffffff 135px,#ffffff 138px,#ffffff 141px,#ffffff 144px,#ffffff 147px,#ffffff 150px,#ffffff 153px,#ffffff 156px,#ffffff 159px,#ffffff 162px,#ffffff 165px,#ffffff 168px,#ffffff 171px,#ffffff 174px,#ffffff 177px,#ffffff 180px,#ffffff 183px,#ffffff 186px,#ffffff 189px,#feffff 192px,#feffff 195px,#fefeff 198px,#fefeff 201px,#fefeff 204px,#fdfeff 207px,#fdfeff 210px,#fdfeff 213px,#fdfeff 216px,#fdfeff 219px,#fdfeff 222px,#fdfeff 225px,#fefeff 228px,#fefeff 231px,#fefeff 234px,#fefeff 237px,#feffff 240px,#feffff 241px)"></div>
<div style="left:47px;top:75px;width:241px;height:1px;background:linear-gradient(90deg,#ffffff 0px,#ffffff 3px,#ffffff 6px,#ffffff 9px,#ffffff 12px,#ffffff 15px,#ffffff 18px,#ffffff 21px,#ffffff 24px,#ffffff 27px,#ffffff 30px,#ffffff 33px,#ffffff 36px,#ffffff 39px,#ffffff 42px,#ffffff 45px,#ffffff 48px,#ffffff 51px,#ffffff 54px,#ffffff 57px,#ffffff 60px,#ffffff 63px,#ffffff 66px,#ffffff 69px,#ffffff 72px,#ffffff 75px,#ffffff 78px,#ffffff 81px,#ffffff 84px,#ffffff 87px,#ffffff 90px,#ffffff 93px,#ffffff 96px,#ffffff 99px,#ffffff 102px,#ffffff 105px,#ffffff 108px,#ffffff 111px,#ffffff 114px,#ffffff 117px,#ffffff 120px,#ffffff 123px,#feffff 126px,#feffff 129px,#feffff 132px,#feffff 135px,#feffff 138px,#feffff 141px,#feffff 144px,#feffff 147px,#feffff 150px,#feffff 153px,#ffffff 156px,#ffffff 159px,#ffffff 162px,#ffffff 165px,#ffffff 168px,#ffffff 171px,#ffffff 174px,#ffffff 177px,#ffffff 180px,#ffffff 183px,#ffffff 186px,#feffff 189px,#feffff 192px,#fefeff 195px,#fefeff 198px,#fdfeff 201px,#fdfeff 204px,#fdfefe 207px,#fdfdfe 210px,#fcfdfe 213px,#fcfdfe 216px,#fcfdfe 219px,#fcfdfe 222px,#fdfdfe 225px,#fdfefe 228px,#fdfeff 231px,#fefeff 234px,#fefeff 237px,#fefeff 240px,#feffff 241px)"></div>
<div style="left:47px;top:76px;width:241px;height:1px;background:linear-gradient(90deg,#ffffff 0px,#ffffff 3px,#ffffff 6px,#ffffff 9px,#ffffff 12px,#ffffff 15px,#ffffff 18px,#ffffff 21px,#ffffff 24px,#ffffff 27px,#ffffff 30px,#ffffff 33px,#ffffff 36px,#ffffff 39px,#ffffff 42px,#ffffff 45px,#ffffff 48px,#ffffff 51px,#ffffff 54px,#ffffff 57px,#ffffff 60px,#ffffff 63px,#ffffff 66px,#ffffff 69px,#ffffff 72px,#ffffff 75px,#ffffff 78px,#ffffff 81px,#ffffff 84px,#ffffff 87px,#ffffff 90px,#ffffff 93px,#ffffff 96px,#ffffff 99px,#ffffff 102px,#ffffff 105px,#ffffff 108px,#ffffff 111px,#feffff 114px,#feffff 117px,#feffff 120px,#feffff 123px,#fefeff 126px,#fefeff 129px,#fefeff 132px,#fefeff 135px,#fefeff 138px,#fefeff 141px,#fefeff 144px,#fefeff 147px,#fefeff 150px,#fefeff 153px,#feffff 156px,#feffff 159px,#feffff 162px,#ffffff 165px,#ffffff 168px,#ffffff 171px,#ffffff 174px,#ffffff 177px,#ffffff 180px,#ffffff 183px,#feffff 186px,#fefeff 189px,#fefeff 192px,#fefeff 195px,#fdfeff 198px,#fdfefe 201px,#fcfdfe 204px,#fcfdfe 207px,#fcfdfe 210px,#fbfdfe 213px,#fbfdfe 216px,#fbfdfe 219px,#fbfdfe 222px,#fcfdfe 225px,#fcfdfe 228px,#fdfdfe 231px,#fdfefe 234px,#fdfeff 237px,#fefeff 240px,#fefeff 241px)"></div>
<div style="left:47px;top:77px;width:241px;height:1px;background:linear-gradient(90deg,#ffffff 0px,#ffffff 3px,#ffffff 6px,#ffffff 9px,#ffffff 12px,#ffffff 15px,#ffffff 18px,#ffffff 21px,#ffffff 24px,#ffffff 27px,#ffffff 30px,#ffffff 33px,#ffffff 36px,#ffffff 39px,#ffffff 42px,#ffffff 45px,#ffffff 48px,#ffffff 51px,#ffffff 54px,#ffffff 57px,#ffffff 60px,#ffffff 63px,#ffffff 66px,#ffffff 69px,#ffffff 72px,#ffffff 75px,#ffffff 78px,#ffffff 81px,#ffffff 84px,#ffffff 87px,#ffffff 90px,#ffffff 93px,#ffffff 96px,#ffffff 99px,#ffffff 102px,#ffffff 105px,#feffff 108px,#feffff 111px,#fefeff 114px,#fefeff 117px,#fefeff 120px,#fefeff 123px,#fefeff 126px,#fefeff 129px,#fefeff 132px,#fdfeff 135px,#fdfeff 138px,#fdfeff 141px,#fdfeff 144px,#fdfeff 147px,#fefeff 150px,#fefeff 153px,#fefeff 156px,#fefeff 159px,#fefeff 162px,#feffff 165px,#feffff 168px,#feffff 171px,#ffffff 174px,#ffffff 177px,#ffffff 180px,#feffff 183px,#fefeff 186px,#fefeff 189px,#fefeff 192px,#fdfefe 195px,#fcfdfe 198px,#fcfdfe 201px,#fbfdfe 204px,#fbfcfe 207px,#fafcfe 210px,#fafcfe 213px,#fafcfe 216px,#fafcfe 219px,#fafcfe 222px,#fafcfe 225px,#fbfcfe 228px,#fcfdfe 231px,#fcfdfe 234px,#fdfefe 237px,#fdfeff 240px,#fefeff 241px)"></div>
<div style="left:47px;top:78px;width:241px;height:1px;background:linear-gradient(90deg,#ffffff 0px,#ffffff 3px,#ffffff 6px,#ffffff 9px,#ffffff 12px,#ffffff 15px,#ffffff 18px,#ffffff 21px,#ffffff 24px,#ffffff 27px,#ffffff 30px,#ffffff 33px,#ffffff 36px,#ffffff 39px,#ffffff 42px,#ffffff 45px,#ffffff 48px,#ffffff 51px,#ffffff 54px,#ffffff 57px,#ffffff 60px,#ffffff 63px,#ffffff 66px,#ffffff 69px,#ffffff 72px,#ffffff 75px,#ffffff 78px,#ffffff 81px,#ffffff 84px,#ffffff 87px,#ffffff 90px,#ffffff 93px,#ffffff 96px,#ffffff 99px,#feffff 102px,#feffff 105px,#fefeff 108px,#fefeff 111px,#fefeff 114px,#fefeff 117px,#fdfeff 120px,#fdfeff 123px,#fdfeff 126px,#fdfefe 129px,#fdfefe 132px,#fdfdfe 135px,#fdfdfe 138px,#fdfdfe 141px,#fdfdfe 144px,#fdfefe 147px,#fdfefe 150px,#fdfefe 153px,#fdfeff 156px,#fdfeff 159px,#fefeff 162px,#fefeff 165px,#fefeff 168px,#fefeff 171px,#feffff 174px,#feffff 177px,#feffff 180px,#fefeff 183px,#fefeff 186px,#fdfeff 189px,#fdfefe 192px,#fcfdfe 195px,#fcfdfe 198px,#fbfcfe 201px,#fafcfe 204px,#f9fbfd 207px,#f8fbfd 210px,#f8fafd 213px,#f8fafd 216px,#f8fafd 219px,#f8fbfd 222px,#f9fbfd 225px,#f9fbfe 228px,#fafcfe 231px,#fbfdfe 234px,#fcfdfe 237px,#fdfefe 240px,#fdfefe 241px)"></div>
<div style="left:47px;top:79px;width:241px;height:1px;background:linear-gradient(90deg,#ffffff 0px,#ffffff 3px,#ffffff 6px,#ffffff 9px,#ffffff 12px,#ffffff 15px,#ffffff 18px,#ffffff 21px,#ffffff 24px,#ffffff 27px,#ffffff 30px,#ffffff 33px,#ffffff 36px,#ffffff 39px,#ffffff 42px,#ffffff 45px,#ffffff 48px,#ffffff 51px,#ffffff 54px,#ffffff 57px,#ffffff 60px,#ffffff 63px,#ffffff 66px,#ffffff 69px,#ffffff 72px,#ffffff 75px,#ffffff 78px,#ffffff 81px,#ffffff 84px,#ffffff 87px,#ffffff 90px,#ffffff 93px,#feffff 96px,#feffff 99px,#fefeff 102px,#fefeff 105px,#fefeff 108px,#fefeff 111px,#fdfeff 114px,#fdfefe 117px,#fdfefe 120px,#fcfdfe 123px,#fcfdfe 126px,#fcfdfe 129px,#fcfdfe 132px,#fcfdfe 135px,#fbfdfe 138px,#fbfdfe 141px,#fcfdfe 144px,#fcfdfe 147px,#fcfdfe 150px,#fcfdfe 153px,#fcfdfe 156px,#fdfefe 159px,#fdfefe 162px,#fdfeff 165px,#fefeff 168px,#fefeff 171px,#fefeff 174px,#fefeff 177px,#fefeff 180px,#fefeff 183px,#fdfeff 186px,#fdfefe 189px,#fcfdfe 192px,#fbfdfe 195px,#fafcfe 198px,#f9fbfe 201px,#f8fbfd 204px,#f7fafd 207px,#f6f9fd 210px,#f6f9fd 213px,#f5f9fc 216px,#f5f9fc 219px,#f6f9fd 222px,#f7f9fd 225px,#f8fafd 228px,#f9fbfd 231px,#fafcfe 234px,#fbfcfe 237px,#fcfdfe 240px,#fcfdfe 241px)"></div>
<div style="left:47px;top:80px;width:241px;height:1px;background:linear-gradient(90deg,#ffffff 0px,#ffffff 3px,#ffffff 6px,#ffffff 9px,#ffffff 12px,#ffffff 15px,#ffffff 18px,#ffffff 21px,#ffffff 24px,#ffffff 27px,#ffffff 30px,#ffffff 33px,#ffffff 36px,#ffffff 39px,#ffffff 42px,#ffffff 45px,#ffffff 48px,#ffffff 51px,#ffffff 54px,#ffffff 57px,#ffffff 60px,#ffffff 63px,#ffffff 66px,#ffffff 69px,#ffffff 72px,#ffffff 75px,#ffffff 78px,#ffffff 81px,#ffffff 84px,#ffffff 87px,#ffffff 90px,#feffff 93px,#fefeff 96px,#fefeff 99px,#fefeff 102px,#fefeff 105px,#fdfeff 108px,#fdfefe 111px,#fcfdfe 114px,#fcfdfe 117px,#fcfdfe 120px,#fbfdfe 123px,#fbfcfe 126px,#fbfcfe 129px,#fafcfe 132px,#fafcfe 135px,#fafcfe 138px,#fafcfe 141px,#fafcfe 144px,#fafcfe 147px,#fafcfe 150px,#fbfcfe 153px,#fbfdfe 156px,#fcfdfe 159px,#fcfdfe 162px,#fdfdfe 165px,#fdfefe 168px,#fdfeff 171px,#fefeff 174px,#fefeff 177px,#fefeff 180px,#fdfeff 183px,#fdfefe 186px,#fcfdfe 189px,#fbfdfe 192px,#fafcfe 195px,#f9fbfd 198px,#f7fafd 201px,#f6f9fd 204px,#f4f8fc 207px,#f3f7fc 210px,#f2f7fc 213px,#f2f7fc 216px,#f2f7fc 219px,#f3f7fc 222px,#f4f8fc 225px,#f5f9fc 228px,#f7fafd 231px,#f8fbfd 234px,#fafcfe 237px,#fbfcfe 240px,#fbfdfe 241px)"></div>
<div style="left:47px;top:81px;width:241px;height:1px;background:linear-gradient(90deg,#ffffff 0px,#ffffff 3px,#ffffff 6px,#ffffff 9px,#ffffff 12px,#ffffff 15px,#ffffff 18px,#ffffff 21px,#ffffff 24px,#ffffff 27px,#ffffff 30px,#ffffff 33px,#ffffff 36px,#ffffff 39px,#ffffff 42px,#ffffff 45px,#ffffff 48px,#ffffff 51px,#ffffff 54px,#ffffff 57px,#ffffff 60px,#ffffff 63px,#ffffff 66px,#ffffff 69px,#ffffff 72px,#ffffff 75px,#ffffff 78px,#ffffff 81px,#ffffff 84px,#feffff 87px,#feffff 90px,#fefeff 93px,#fefeff 96px,#fefeff 99px,#fdfeff 102px,#fdfefe 105px,#fcfdfe 108px,#fcfdfe 111px,#fbfdfe 114px,#fbfcfe 117px,#fafcfe 120px,#fafbfe 123px,#f9fbfd 126px,#f9fbfd 129px,#f8fbfd 132px,#f8fafd 135px,#f8fafd 138px,#f8fafd 141px,#f8fafd 144px,#f8fafd 147px,#f8fbfd 150px,#f9fbfd 153px,#fafbfe 156px,#fafcfe 159px,#fbfcfe 162px,#fcfdfe 165px,#fcfdfe 168px,#fdfdfe 171px,#fdfefe 174px,#fdfeff 177px,#fdfeff 180px,#fdfefe 183px,#fcfdfe 186px,#fbfdfe 189px,#fafcfe 192px,#f9fbfd 195px,#f7fafd 198px,#f5f8fc 201px,#f3f7fc 204px,#f1f6fb 207px,#eff5fb 210px,#eef4fb 213px,#eef4fb 216px,#eef4fb 219px,#eff4fb 222px,#f0f5fb 225px,#f2f6fc 228px,#f4f8fc 231px,#f6f9fd 234px,#f8fafd 237px,#fafcfe 240px,#fafcfe 241px)"></div>
<div style="left:47px;top:82px;width:241px;height:1px;background:linear-gradient(90deg,#ffffff 0px,#ffffff 3px,#ffffff 6px,#ffffff 9px,#ffffff 12px,#ffffff 15px,#ffffff 18px,#ffffff 21px,#ffffff 24px,#ffffff 27px,#ffffff 30px,#ffffff 33px,#ffffff 36px,#ffffff 39px,#ffffff 42px,#ffffff 45px,#ffffff 48px,#ffffff 51px,#ffffff 54px,#ffffff 57px,#ffffff 60px,#ffffff 63px,#ffffff 66px,#ffffff 69px,#ffffff 72px,#ffffff 75px,#ffffff 78px,#feffff 81px,#feffff 84px,#fefeff 87px,#fefeff 90px,#fefeff 93px,#fdfeff 96px,#fdfefe 99px,#fdfdfe 102px,#fcfdfe 105px,#fbfdfe 108px,#fbfcfe 111px,#fafcfe 114px,#f9fbfd 117px,#f8fbfd 120px,#f7fafd 123px,#f7f9fd 126px,#f6f9fd 129px,#f5f9fc 132px,#f5f8fc 135px,#f5f8fc 138px,#f4f8fc 141px,#f5f8fc 144px,#f5f8fc 147px,#f6f9fd 150px,#f6f9fd 153px,#f7fafd 156px,#f8fbfd 159px,#f9fbfe 162px,#fafcfe 165px,#fbfcfe 168px,#fcfdfe 171px,#fcfdfe 174px,#fcfdfe 177px,#fcfdfe 180px,#fcfdfe 183px,#fbfdfe 186px,#fafcfe 189px,#f9fbfd 192px,#f7fafd 195px,#f4f8fc 198px,#f2f6fc 201px,#eff5fb 204px,#edf3fa 207px,#ebf2fa 210px,#e9f1f9 213px,#e9f0f9 216px,#e9f1f9 219px,#eaf1f9 222px,#ecf2fa 225px,#eef4fb 228px,#f1f6fb 231px,#f3f7fc 234px,#f6f9fd 237px,#f8fafd 240px,#f9fbfd 241px)"></div>
<div style="left:47px;top:83px;width:241px;height:1px;background:linear-gradient(90deg,#ffffff 0px,#ffffff 3px,#ffffff 6px,#ffffff 9px,#ffffff 12px,#ffffff 15px,#ffffff 18px,#ffffff 21px,#ffffff 24px,#ffffff 27px,#ffffff 30px,#ffffff 33px,#ffffff 36px,#ffffff 39px,#ffffff 42px,#ffffff 45px,#ffffff 48px,#ffffff 51px,#ffffff 54px,#ffffff 57px,#ffffff 60px,#ffffff 63px,#ffffff 66px,#ffffff 69px,#ffffff 72px,#feffff 75px,#feffff 78px,#fefeff 81px,#fefeff 84px,#fefeff 87px,#fefeff 90px,#fdfeff 93px,#fdfefe 96px,#fcfdfe 99px,#fcfdfe 102px,#fbfcfe 105px,#fafcfe 108px,#f9fbfd 111px,#f8fafd 114px,#f7fafd 117px,#f5f9fd 120px,#f4f8fc 123px,#f3f7fc 126px,#f2f7fc 129px,#f1f6fb 132px,#f1f6fb 135px,#f0f5fb 138px,#f0f5fb 141px,#f1f6fb 144px,#f1f6fb 147px,#f2f6fc 150px,#f3f7fc 153px,#f4f8fc 156px,#f6f9fd 159px,#f7fafd 162px,#f8fbfd 165px,#f9fbfe 168px,#fafcfe 171px,#fbfcfe 174px,#fcfdfe 177px,#fcfdfe 180px,#fbfcfe 183px,#fafcfe 186px,#f9fbfd 189px,#f7fafd 192px,#f4f8fc 195px,#f1f6fb 198px,#eef4fb 201px,#ebf2fa 204px,#e7f0f9 207px,#e5eef8 210px,#e3edf8 213px,#e2ecf7 216px,#e2ecf8 219px,#e3edf8 222px,#e6eff8 225px,#e9f1f9 228px,#ecf3fa 231px,#f0f5fb 234px,#f3f7fc 237px,#f6f9fd 240px,#f7fafd 241px)"></div>
<div style="left:47px;top:84px;width:241px;height:1px;background:linear-gradient(90deg,#ffffff 0px,#ffffff 3px,#ffffff 6px,#ffffff 9px,#ffffff 12px,#ffffff 15px,#ffffff 18px,#ffffff 21px,#ffffff 24px,#ffffff 27px,#ffffff 30px,#ffffff 33px,#ffffff 36px,#ffffff 39px,#ffffff 42px,#ffffff 45px,#ffffff 48px,#ffffff 51px,#ffffff 54px,#ffffff 57px,#ffffff 60px,#ffffff 63px,#ffffff 66px,#feffff 69px,#feffff 72px,#feffff 75px,#fefeff 78px,#fefeff 81px,#fefeff 84px,#fdfeff 87px,#fdfefe 90px,#fcfdfe 93px,#fcfdfe 96px,#fbfcfe 99px,#fafcfe 102px,#f9fbfd 105px,#f8fafd 108px,#f7f9fd 111px,#f5f9fc 114px,#f3f7fc 117px,#f2f6fc 120px,#f0f5fb 123px,#eff4fb 126px,#edf4fa 129px,#ecf3fa 132px,#ebf2fa 135px,#ebf2fa 138px,#ebf2fa 141px,#ebf2fa 144px,#ecf2fa 147px,#edf3fa 150px,#eef4fb 153px,#f0f5fb 156px,#f2f7fc 159px,#f4f8fc 162px,#f6f9fd 165px,#f7fafd 168px,#f9fbfd 171px,#fafcfe 174px,#fafcfe 177px,#fafcfe 180px,#fafcfe 183px,#f9fbfd 186px,#f7fafd 189px,#f4f8fc 192px,#f1f6fb 195px,#edf4fa 198px,#e9f1f9 201px,#e5eef8 204px,#e1ebf7 207px,#dde9f6 210px,#dbe7f6 213px,#dae6f5 216px,#dae7f5 219px,#dce8f6 222px,#dfeaf7 225px,#e3ecf8 228px,#e7eff9 231px,#ecf2fa 234px,#f0f5fb 237px,#f4f8fc 240px,#f5f8fc 241px)"></div>
<div style="left:47px;top:85px;width:241px;height:1px;background:linear-gradient(90deg,#ffffff 0px,#ffffff 3px,#ffffff 6px,#ffffff 9px,#ffffff 12px,#ffffff 15px,#ffffff 18px,#ffffff 21px,#ffffff 24px,#ffffff 27px,#ffffff 30px,#ffffff 33px,#ffffff 36px,#ffffff 39px,#ffffff 42px,#ffffff 45px,#ffffff 48px,#ffffff 51px,#ffffff 54px,#ffffff 57px,#ffffff 60px,#feffff 63px,#feffff 66px,#fefeff 69px,#fefeff 72px,#fefeff 75px,#fefeff 78px,#fdfeff 81px,#fdfeff 84px,#fdfefe 87px,#fcfdfe 90px,#fcfdfe 93px,#fbfcfe 96px,#fafcfe 99px,#f8fbfd 102px,#f7fafd 105px,#f5f9fc 108px,#f3f7fc 111px,#f1f6fb 114px,#eff5fb 117px,#edf3fa 120px,#ebf2fa 123px,#e9f1f9 126px,#e7eff9 129px,#e6eef8 132px,#e4eef8 135px,#e4edf8 138px,#e3edf8 141px,#e4edf8 144px,#e5eef8 147px,#e6eff9 150px,#e9f0f9 153px,#ebf2fa 156px,#eef4fa 159px,#f0f5fb 162px,#f3f7fc 165px,#f5f8fc 168px,#f7fafd 171px,#f8fafd 174px,#f9fbfd 177px,#f9fbfd 180px,#f8fbfd 183px,#f7fafd 186px,#f5f8fc 189px,#f2f6fc 192px,#eef4fa 195px,#e9f1f9 198px,#e3edf8 201px,#dee9f6 204px,#d9e6f5 207px,#d4e3f4 210px,#d1e1f3 213px,#d0e0f3 216px,#d0e0f3 219px,#d2e1f4 222px,#d6e4f5 225px,#dbe7f6 228px,#e1ebf7 231px,#e7eff9 234px,#ecf3fa 237px,#f1f6fb 240px,#f2f7fc 241px)"></div>
<div style="left:47px;top:86px;width:241px;height:1px;background:linear-gradient(90deg,#ffffff 0px,#ffffff 3px,#ffffff 6px,#ffffff 9px,#ffffff 12px,#ffffff 15px,#ffffff 18px,#ffffff 21px,#ffffff 24px,#ffffff 27px,#ffffff 30px,#ffffff 33px,#ffffff 36px,#ffffff 39px,#ffffff 42px,#ffffff 45px,#ffffff 48px,#ffffff 51px,#feffff 54px,#feffff 57px,#feffff 60px,#fefeff 63px,#fefeff 66px,#fefeff 69px,#fefeff 72px,#fefeff 75px,#fdfeff 78px,#fdfefe 81px,#fdfdfe 84px,#fcfdfe 87px,#fbfdfe 90px,#fafcfe 93px,#f9fbfd 96px,#f8fafd 99px,#f6f9fd 102px,#f4f8fc 105px,#f2f7fc 108px,#f0f5fb 111px,#edf3fa 114px,#eaf1fa 117px,#e7eff9 120px,#e4edf8 123px,#e1ebf7 126px,#dfeaf7 129px,#dde8f6 132px,#dbe7f6 135px,#dae7f5 138px,#dae6f5 141px,#dae7f6 144px,#dce8f6 147px,#dee9f6 150px,#e1ebf7 153px,#e4edf8 156px,#e8f0f9 159px,#ebf2fa 162px,#eef4fb 165px,#f1f6fb 168px,#f4f8fc 171px,#f6f9fd 174px,#f7fafd 177px,#f7fafd 180px,#f7fafd 183px,#f5f8fc 186px,#f2f7fc 189px,#eef4fb 192px,#e9f1f9 195px,#e3edf8 198px,#dce8f6 201px,#d5e4f4 204px,#cfdff3 207px,#cadcf2 210px,#c6d9f1 213px,#c5d8f0 216px,#c5d8f0 219px,#c8daf1 222px,#ccddf2 225px,#d2e1f4 228px,#d9e6f5 231px,#e0ebf7 234px,#e7f0f9 237px,#edf3fa 240px,#eff5fb 241px)"></div>
<div style="left:47px;top:87px;width:241px;height:1px;background:linear-gradient(90deg,#ffffff 0px,#ffffff 3px,#ffffff 6px,#ffffff 9px,#ffffff 12px,#ffffff 15px,#ffffff 18px,#ffffff 21px,#ffffff 24px,#ffffff 27px,#ffffff 30px,#ffffff 33px,#ffffff 36px,#ffffff 39px,#ffffff 42px,#ffffff 45px,#ffffff 48px,#feffff 51px,#feffff 54px,#fefeff 57px,#fefeff 60px,#fefeff 63px,#fefeff 66px,#fefeff 69px,#fdfeff 72px,#fdfefe 75px,#fdfdfe 78px,#fcfdfe 81px,#fcfdfe 84px,#fbfcfe 87px,#fafcfe 90px,#f9fbfd 93px,#f7fafd 96px,#f6f9fd 99px,#f3f7fc 102px,#f1f6fb 105px,#eef4fb 108px,#ebf2fa 111px,#e7eff9 114px,#e3edf8 117px,#dfeaf7 120px,#dbe7f6 123px,#d7e5f5 126px,#d4e3f4 129px,#d1e1f3 132px,#cfdff3 135px,#cedff3 138px,#cedef2 141px,#cedff3 144px,#d0e0f3 147px,#d3e2f4 150px,#d7e5f5 153px,#dbe7f6 156px,#e0ebf7 159px,#e5eef8 162px,#e9f1f9 165px,#edf3fa 168px,#f0f5fb 171px,#f3f7fc 174px,#f4f8fc 177px,#f5f8fc 180px,#f4f8fc 183px,#f2f7fc 186px,#eff5fb 189px,#eaf2fa 192px,#e4edf8 195px,#dce8f6 198px,#d4e3f4 201px,#ccddf2 204px,#c5d8f0 207px,#bed3ef 210px,#bad0ed 213px,#b8cfed 216px,#b8cfed 219px,#bbd1ee 222px,#c1d5ef 225px,#c8daf1 228px,#d0e0f3 231px,#d9e6f5 234px,#e2ecf7 237px,#e9f1f9 240px,#ebf2fa 241px)"></div>
<div style="left:47px;top:88px;width:241px;height:1px;background:linear-gradient(90deg,#ffffff 0px,#ffffff 3px,#ffffff 6px,#ffffff 9px,#ffffff 12px,#ffffff 15px,#ffffff 18px,#ffffff 21px,#ffffff 24px,#ffffff 27px,#ffffff 30px,#ffffff 33px,#ffffff 36px,#ffffff 39px,#ffffff 42px,#feffff 45px,#feffff 48px,#fefeff 51px,#fefeff 54px,#fefeff 57px,#fefeff 60px,#fefeff 63px,#fdfeff 66px,#fdfefe 69px,#fdfefe 72px,#fcfdfe 75px,#fcfdfe 78px,#fbfdfe 81px,#fbfcfe 84px,#fafbfe 87px,#f8fbfd 90px,#f7fafd 93px,#f5f8fc 96px,#f3f7fc 99px,#f0f5fb 102px,#edf3fa 105px,#e9f0f9 108px,#e4eef8 111px,#e0eaf7 114px,#dae7f6 117px,#d5e3f4 120px,#d0e0f3 123px,#ccddf2 126px,#c8daf1 129px,#c4d8f0 132px,#c2d6ef 135px,#c0d5ef 138px,#c0d4ef 141px,#c0d5ef 144px,#c3d7f0 147px,#c6d9f1 150px,#cbdcf2 153px,#d0e0f3 156px,#d6e4f5 159px,#dce8f6 162px,#e2ecf8 165px,#e8f0f9 168px,#ecf3fa 171px,#eff5fb 174px,#f2f6fb 177px,#f2f7fc 180px,#f2f6fc 183px,#eff5fb 186px,#ecf2fa 189px,#e6eef8 192px,#dee9f6 195px,#d5e3f4 198px,#cbdcf2 201px,#c1d6ef 204px,#b8cfed 207px,#b0caeb 210px,#aac7ea 213px,#a7c5e9 216px,#a8c5e9 219px,#acc8ea 222px,#b4ccec 225px,#bdd2ee 228px,#c7d9f1 231px,#d1e0f3 234px,#dbe7f6 237px,#e4edf8 240px,#e7eff9 241px)"></div>
<div style="left:47px;top:89px;width:241px;height:1px;background:linear-gradient(90deg,#ffffff 0px,#ffffff 3px,#ffffff 6px,#ffffff 9px,#ffffff 12px,#ffffff 15px,#ffffff 18px,#ffffff 21px,#ffffff 24px,#ffffff 27px,#ffffff 30px,#ffffff 33px,#ffffff 36px,#ffffff 39px,#feffff 42px,#feffff 45px,#fefeff 48px,#fefeff 51px,#fefeff 54px,#fefeff 57px,#fdfeff 60px,#fdfefe 63px,#fdfefe 66px,#fcfdfe 69px,#fcfdfe 72px,#fcfdfe 75px,#fbfcfe 78px,#fafcfe 81px,#f9fbfd 84px,#f8fafd 87px,#f6f9fd 90px,#f4f8fc 93px,#f2f7fc 96px,#eff5fb 99px,#ebf2fa 102px,#e7eff9 105px,#e2ecf8 108px,#dce8f6 111px,#d6e4f5 114px,#d0e0f3 117px,#cadbf1 120px,#c4d7f0 123px,#bed3ee 126px,#b9cfed 129px,#b4ccec 132px,#b1caeb 135px,#aec9eb 138px,#aec8ea 141px,#afc9eb 144px,#b2cbec 147px,#b7ceed 150px,#bdd2ee 153px,#c4d7f0 156px,#cbdcf2 159px,#d2e2f4 162px,#dae7f6 165px,#e1ebf7 168px,#e7eff9 171px,#ebf2fa 174px,#eef4fb 177px,#eff5fb 180px,#eff4fb 183px,#ecf3fa 186px,#e7f0f9 189px,#e0ebf7 192px,#d7e5f5 195px,#ccddf2 198px,#c1d5ef 201px,#b6cdec 204px,#a9c6e9 207px,#9fc0e7 210px,#98bce5 213px,#94bae4 216px,#95bbe4 219px,#9abde6 222px,#a3c3e8 225px,#afc9eb 228px,#bcd1ee 231px,#c8daf1 234px,#d4e2f4 237px,#dfeaf7 240px,#e2ecf7 241px)"></div>
<div style="left:47px;top:90px;width:241px;height:1px;background:linear-gradient(90deg,#ffffff 0px,#ffffff 3px,#ffffff 6px,#ffffff 9px,#ffffff 12px,#ffffff 15px,#ffffff 18px,#ffffff 21px,#ffffff 24px,#ffffff 27px,#ffffff 30px,#ffffff 33px,#feffff 36px,#feffff 39px,#fefeff 42px,#fefeff 45px,#fefeff 48px,#fefeff 51px,#fdfeff 54px,#fdfeff 57px,#fdfefe 60px,#fcfdfe 63px,#fcfdfe 66px,#fcfdfe 69px,#fbfcfe 72px,#fbfcfe 75px,#fafcfe 78px,#f9fbfd 81px,#f8fafd 84px,#f6f9fd 87px,#f4f8fc 90px,#f2f6fb 93px,#eef4fb 96px,#ebf2fa 99px,#e6eff9 102px,#e1ebf7 105px,#dae7f6 108px,#d3e2f4 111px,#ccddf2 114px,#c4d7f0 117px,#bcd2ee 120px,#b4ccec 123px,#acc8ea 126px,#a5c3e8 129px,#9fc0e7 132px,#9abde5 135px,#97bce5 138px,#96bbe5 141px,#98bce5 144px,#9cbfe6 147px,#a3c2e8 150px,#abc7ea 153px,#b5cdec 156px,#bed3ee 159px,#c7daf1 162px,#d0e0f3 165px,#d9e6f5 168px,#e0ebf7 171px,#e6eff8 174px,#eaf1f9 177px,#ecf2fa 180px,#ebf2fa 183px,#e8f0f9 186px,#e2ecf8 189px,#dae7f6 192px,#cfdff3 195px,#c3d7f0 198px,#b6cdec 201px,#a6c4e9 204px,#98bce5 207px,#8bb4e2 210px,#83afdf 213px,#7eacde 216px,#7facde 219px,#86b1e0 222px,#91b8e3 225px,#9fc0e7 228px,#afc9eb 231px,#bed3ee 234px,#ccddf2 237px,#d8e6f5 240px,#dce8f6 241px)"></div>
<div style="left:47px;top:91px;width:241px;height:1px;background:linear-gradient(90deg,#ffffff 0px,#ffffff 3px,#ffffff 6px,#ffffff 9px,#ffffff 12px,#ffffff 15px,#ffffff 18px,#ffffff 21px,#ffffff 24px,#ffffff 27px,#ffffff 30px,#feffff 33px,#feffff 36px,#fefeff 39px,#fefeff 42px,#fefeff 45px,#fefeff 48px,#fdfeff 51px,#fdfefe 54px,#fdfdfe 57px,#fcfdfe 60px,#fcfdfe 63px,#fbfdfe 66px,#fbfcfe 69px,#fafcfe 72px,#f9fbfe 75px,#f8fbfd 78px,#f7fafd 81px,#f6f9fd 84px,#f4f8fc 87px,#f1f6fb 90px,#eef4fb 93px,#eaf2fa 96px,#e6eef8 99px,#e0eaf7 102px,#d9e6f5 105px,#d1e1f3 108px,#c9dbf1 111px,#c0d4ef 114px,#b6cded 117px,#abc7ea 120px,#a0c1e7 123px,#96bbe4 126px,#8db5e2 129px,#85b0e0 132px,#7facde 135px,#7baadd 138px,#7aa9dd 141px,#7cabde 144px,#82aedf 147px,#8ab3e1 150px,#95bae4 153px,#a1c1e7 156px,#aec9ea 159px,#bad0ee 162px,#c5d8f0 165px,#cfe0f3 168px,#d8e6f5 171px,#e0eaf7 174px,#e5eef8 177px,#e7eff9 180px,#e7eff9 183px,#e3edf8 186px,#dde9f6 189px,#d3e2f4 192px,#c7daf1 195px,#b9d0ed 198px,#a8c5e9 201px,#96bbe4 204px,#84b0e0 207px,#76a6dc 210px,#6da0da 213px,#699ed9 216px,#6a9ed9 219px,#70a3db 222px,#7caadd 225px,#8db5e2 228px,#9fc0e7 231px,#b3cbec 234px,#c3d7f0 237px,#d2e1f3 240px,#d6e4f5 241px)"></div>
<div style="left:47px;top:92px;width:241px;height:1px;background:linear-gradient(90deg,#ffffff 0px,#ffffff 3px,#ffffff 6px,#ffffff 9px,#ffffff 12px,#ffffff 15px,#ffffff 18px,#ffffff 21px,#ffffff 24px,#ffffff 27px,#feffff 30px,#feffff 33px,#fefeff 36px,#fefeff 39px,#fefeff 42px,#fdfeff 45px,#fdfeff 48px,#fdfefe 51px,#fcfdfe 54px,#fcfdfe 57px,#fbfdfe 60px,#fbfcfe 63px,#fafcfe 66px,#fafcfe 69px,#f9fbfd 72px,#f8fafd 75px,#f7fafd 78px,#f5f9fc 81px,#f3f7fc 84px,#f1f6fb 87px,#eef4fb 90px,#eaf1fa 93px,#e5eef8 96px,#dfeaf7 99px,#d8e5f5 102px,#d0e0f3 105px,#c7d9f1 108px,#bdd2ee 111px,#b1caeb 114px,#a4c3e8 117px,#96bbe5 120px,#89b3e1 123px,#7caade 126px,#72a3db 129px,#6a9ed9 132px,#639ad7 135px,#6097d6 138px,#5f96d6 141px,#6198d7 144px,#669cd8 147px,#6fa2da 150px,#7aa9dd 153px,#8ab3e1 156px,#9abde5 159px,#aac6e9 162px,#b9cfed 165px,#c5d8f0 168px,#d0e0f3 171px,#d9e6f5 174px,#dfeaf7 177px,#e2ecf8 180px,#e2ecf7 183px,#deeaf7 186px,#d7e5f5 189px,#ccddf2 192px,#bed3ef 195px,#adc8ea 198px,#99bde5 201px,#83afdf 204px,#71a3db 207px,#6299d7 210px,#5892d4 213px,#5490d3 216px,#5590d3 219px,#5b94d5 222px,#689dd9 225px,#79a8dd 228px,#8fb7e3 231px,#a5c4e8 234px,#bad0ed 237px,#cbdcf2 240px,#d0e0f3 241px)"></div>
<div style="left:47px;top:93px;width:241px;height:1px;background:linear-gradient(90deg,#ffffff 0px,#ffffff 3px,#ffffff 6px,#ffffff 9px,#ffffff 12px,#ffffff 15px,#ffffff 18px,#ffffff 21px,#ffffff 24px,#feffff 27px,#feffff 30px,#fefeff 33px,#fefeff 36px,#fefeff 39px,#fdfeff 42px,#fdfefe 45px,#fdfdfe 48px,#fcfdfe 51px,#fcfdfe 54px,#fbfdfe 57px,#fbfcfe 60px,#fafcfe 63px,#f9fbfd 66px,#f8fbfd 69px,#f7fafd 72px,#f6f9fd 75px,#f5f8fc 78px,#f3f7fc 81px,#f1f6fb 84px,#eef4fb 87px,#eaf1fa 90px,#e5eef8 93px,#e0eaf7 96px,#d8e6f5 99px,#d0e0f3 102px,#c6d9f1 105px,#bbd1ee 108px,#aec9eb 111px,#9fc0e7 114px,#8fb7e3 117px,#7facde 120px,#70a2da 123px,#6299d7 126px,#5792d4 129px,#4e8cd2 132px,#4788d0 135px,#4385cf 138px,#4385ce 141px,#4486cf 144px,#4a8ad1 147px,#5490d3 150px,#6198d7 153px,#71a3db 156px,#83afdf 159px,#97bbe5 162px,#a9c6e9 165px,#bad0ed 168px,#c6d9f1 171px,#d1e0f3 174px,#d8e6f5 177px,#dce8f6 180px,#dde8f6 183px,#d9e6f5 186px,#d0e0f3 189px,#c4d8f0 192px,#b5cdec 195px,#a0c1e7 198px,#88b2e1 201px,#71a3db 204px,#5d96d6 207px,#4e8cd2 210px,#4485cf 213px,#4283cd 216px,#4284ce 219px,#4788d0 222px,#5490d3 225px,#679cd8 228px,#7dabde 231px,#97bce5 234px,#b0caeb 237px,#c3d7f0 240px,#c9dbf1 241px)"></div>
<div style="left:47px;top:94px;width:241px;height:1px;background:linear-gradient(90deg,#ffffff 0px,#ffffff 3px,#ffffff 6px,#ffffff 9px,#ffffff 12px,#ffffff 15px,#ffffff 18px,#ffffff 21px,#ffffff 24px,#feffff 27px,#fefeff 30px,#fefeff 33px,#fefeff 36px,#fdfeff 39px,#fdfefe 42px,#fdfdfe 45px,#fcfdfe 48px,#fcfdfe 51px,#fbfcfe 54px,#fafcfe 57px,#fafcfe 60px,#f9fbfd 63px,#f8fafd 66px,#f7fafd 69px,#f6f9fd 72px,#f4f8fc 75px,#f3f7fc 78px,#f0f5fb 81px,#eef4fa 84px,#eaf1fa 87px,#e6eff8 90px,#e0ebf7 93px,#d9e6f5 96px,#d0e0f3 99px,#c7d9f1 102px,#bcd1ee 105px,#aec9ea 108px,#9dbfe6 111px,#8bb4e2 114px,#78a8dd 117px,#679cd8 120px,#5792d4 123px,#4888d0 126px,#4082cd 129px,#3c7cca 132px,#3f79c6 135px,#4177c4 138px,#4177c3 141px,#4078c5 144px,#3d7bc8 147px,#3f80cc 150px,#4687d0 153px,#5892d4 156px,#6b9fd9 159px,#81addf 162px,#97bce5 165px,#acc7ea 168px,#bcd2ee 171px,#c8dbf1 174px,#d1e1f3 177px,#d6e4f5 180px,#d7e4f5 183px,#d2e2f4 186px,#cadbf1 189px,#bcd2ee 192px,#aac6e9 195px,#92b8e3 198px,#77a7dc 201px,#5f97d6 204px,#4a8ad1 207px,#4081cc 210px,#3d7bc9 213px,#3f79c6 216px,#3f79c7 219px,#3d7dca 222px,#4384ce 225px,#5590d3 228px,#6da0da 231px,#88b2e1 234px,#a4c3e8 237px,#bcd1ee 240px,#c2d6f0 241px)"></div>
<div style="left:47px;top:95px;width:241px;height:1px;background:linear-gradient(90deg,#ffffff 0px,#ffffff 3px,#ffffff 6px,#ffffff 9px,#ffffff 12px,#ffffff 15px,#ffffff 18px,#ffffff 21px,#feffff 24px,#feffff 27px,#fefeff 30px,#fefeff 33px,#fdfeff 36px,#fdfefe 39px,#fdfdfe 42px,#fcfdfe 45px,#fcfdfe 48px,#fbfcfe 51px,#fafcfe 54px,#f9fbfe 57px,#f9fbfd 60px,#f8fafd 63px,#f7f9fd 66px,#f5f9fc 69px,#f4f8fc 72px,#f2f7fc 75px,#f0f5fb 78px,#eef4fa 81px,#eaf2fa 84px,#e6eff9 87px,#e1ebf7 90px,#dae7f6 93px,#d2e1f3 96px,#c8dbf1 99px,#bdd3ee 102px,#afc9eb 105px,#9ec0e7 108px,#8ab4e1 111px,#76a6dc 114px,#6299d7 117px,#4f8dd2 120px,#4183cd 123px,#3d7bc8 126px,#4375c1 129px,#4e6fb6 132px,#566aae 135px,#5b67aa 138px,#5d66a8 141px,#5a68ab 144px,#526cb2 147px,#4673be 150px,#3e7ac7 153px,#4283ce 156px,#5490d3 159px,#6c9fd9 162px,#84afe0 165px,#9cbee6 168px,#b1caeb 171px,#bfd4ef 174px,#cadbf1 177px,#cfe0f3 180px,#d0e0f3 183px,#ccddf2 186px,#c3d7f0 189px,#b4ccec 192px,#9ec0e6 195px,#83afdf 198px,#689dd8 201px,#4e8cd2 204px,#3f80cc 207px,#4078c5 210px,#4872bc 213px,#4d6fb7 216px,#4c70b8 219px,#4474c0 222px,#3d7bc9 225px,#4485cf 228px,#5d95d6 231px,#79a8dd 234px,#98bce5 237px,#b4ccec 240px,#bbd1ee 241px)"></div>
<div style="left:47px;top:96px;width:241px;height:1px;background:linear-gradient(90deg,#ffffff 0px,#ffffff 3px,#ffffff 6px,#ffffff 9px,#ffffff 12px,#ffffff 15px,#ffffff 18px,#feffff 21px,#feffff 24px,#fefeff 27px,#fefeff 30px,#fefeff 33px,#fdfeff 36px,#fdfefe 39px,#fcfdfe 42px,#fcfdfe 45px,#fbfcfe 48px,#fafcfe 51px,#f9fbfe 54px,#f8fbfd 57px,#f7fafd 60px,#f6f9fd 63px,#f5f8fc 66px,#f3f7fc 69px,#f2f6fc 72px,#f0f5fb 75px,#edf4fa 78px,#eaf2fa 81px,#e7eff9 84px,#e2ecf7 87px,#dce8f6 90px,#d4e3f4 93px,#cbdcf2 96px,#c0d5ef 99px,#b3cbec 102px,#a1c1e7 105px,#8db5e2 108px,#77a7dc 111px,#6298d7 114px,#4c8bd1 117px,#3f80cc 120px,#4177c4 123px,#4f6eb5 126px,#5f64a7 129px,#6e5e9a 132px,#7a5d90 135px,#815c89 138px,#845b87 141px,#7f5c8b 144px,#745d95 147px,#6462a3 150px,#516db3 153px,#4177c4 156px,#4183cd 159px,#5791d4 162px,#71a3db 165px,#8bb4e2 168px,#a3c2e8 171px,#b6cdec 174px,#c2d6ef 177px,#c9dbf1 180px,#cadcf2 183px,#c6d9f0 186px,#bcd1ee 189px,#aac7ea 192px,#92b9e3 195px,#75a6dc 198px,#5993d5 201px,#4283cd 204px,#4078c5 207px,#4e6eb6 210px,#5c66a9 213px,#6362a4 216px,#6163a5 219px,#566aae 222px,#4673be 225px,#3d7dca 228px,#4e8cd2 231px,#6c9fd9 234px,#8cb5e2 237px,#abc7ea 240px,#b4ccec 241px)"></div>
<div style="left:47px;top:97px;width:241px;height:1px;background:linear-gradient(90deg,#ffffff 0px,#ffffff 3px,#ffffff 6px,#ffffff 9px,#ffffff 12px,#ffffff 15px,#ffffff 18px,#feffff 21px,#fefeff 24px,#fefeff 27px,#fefeff 30px,#fdfeff 33px,#fdfefe 36px,#fcfdfe 39px,#fcfdfe 42px,#fbfcfe 45px,#fafcfe 48px,#f9fbfe 51px,#f8fbfd 54px,#f7fafd 57px,#f6f9fd 60px,#f5f8fc 63px,#f3f7fc 66px,#f2f6fc 69px,#f0f5fb 72px,#edf3fa 75px,#ebf2fa 78px,#e7eff9 81px,#e3ecf8 84px,#dde9f6 87px,#d6e4f5 90px,#cedef2 93px,#c3d7f0 96px,#b7ceed 99px,#a6c4e9 102px,#93b9e4 105px,#7baadd 108px,#659bd8 111px,#4e8cd2 114px,#3f7fcc 117px,#4375c2 120px,#566aae 123px,#6c5e9c 126px,#825c88 129px,#9b5778 132px,#ad536f 135px,#b8516a 138px,#bb5068 141px,#b5516b 144px,#a45573 147px,#8a5a84 150px,#6e5e9a 153px,#546bb0 156px,#4078c5 159px,#4385ce 162px,#5e96d6 165px,#7aa9dd 168px,#95bbe4 171px,#abc7ea 174px,#bad0ed 177px,#c2d6ef 180px,#c4d7f0 183px,#bfd4ef 186px,#b4ccec 189px,#a1c1e7 192px,#86b1e0 195px,#689dd9 198px,#4b8ad1 201px,#3d7bc9 204px,#4c70b8 207px,#6163a5 210px,#725d97 213px,#7a5d90 216px,#785d91 219px,#6b5e9d 222px,#5769ad 225px,#4276c3 228px,#4284ce 231px,#5f97d6 234px,#81aedf 237px,#a3c2e8 240px,#adc8ea 241px)"></div>
<div style="left:47px;top:98px;width:241px;height:1px;background:linear-gradient(90deg,#ffffff 0px,#ffffff 3px,#ffffff 6px,#ffffff 9px,#ffffff 12px,#ffffff 15px,#feffff 18px,#feffff 21px,#fefeff 24px,#fefeff 27px,#fdfeff 30px,#fdfefe 33px,#fdfdfe 36px,#fcfdfe 39px,#fbfdfe 42px,#fafcfe 45px,#fafbfe 48px,#f9fbfd 51px,#f7fafd 54px,#f6f9fd 57px,#f5f8fc 60px,#f3f7fc 63px,#f2f6fb 66px,#f0f5fb 69px,#edf4fa 72px,#ebf2fa 75px,#e8f0f9 78px,#e4edf8 81px,#dfeaf7 84px,#d8e6f5 87px,#d0e0f3 90px,#c7daf1 93px,#bcd2ee 96px,#adc8ea 99px,#9abde6 102px,#83afe0 105px,#6c9fd9 108px,#5490d3 111px,#4081cd 114px,#4276c2 117px,#5769ad 120px,#725d97 123px,#92587e 126px,#b3526c 129px,#c94f62 132px,#d5515d 135px,#da565d 138px,#db585c 141px,#d8555d 144px,#d14e5f 147px,#bb5068 150px,#95587c 153px,#6f5e99 156px,#506db4 159px,#3d7bc9 162px,#4d8bd1 165px,#6a9ed9 168px,#87b1e0 171px,#9fc0e7 174px,#b1caeb 177px,#bbd1ee 180px,#bdd3ee 183px,#b9cfed 186px,#acc7ea 189px,#97bce5 192px,#7aa9dd 195px,#5c95d6 198px,#4183cd 201px,#4375c2 204px,#5c67aa 207px,#755d94 210px,#8a5a83 213px,#96587b 216px,#93587d 219px,#805c8a 222px,#695f9f 225px,#4d6fb7 228px,#3d7dcb 231px,#5490d3 234px,#77a7dc 237px,#9bbee6 240px,#a5c4e8 241px)"></div>
<div style="left:47px;top:99px;width:241px;height:1px;background:linear-gradient(90deg,#ffffff 0px,#ffffff 3px,#ffffff 6px,#ffffff 9px,#ffffff 12px,#ffffff 15px,#feffff 18px,#fefeff 21px,#fefeff 24px,#fefeff 27px,#fdfeff 30px,#fdfefe 33px,#fcfdfe 36px,#fcfdfe 39px,#fbfcfe 42px,#fafcfe 45px,#f9fbfd 48px,#f8fafd 51px,#f6f9fd 54px,#f5f8fc 57px,#f3f7fc 60px,#f2f6fc 63px,#f0f5fb 66px,#eef4fa 69px,#ebf2fa 72px,#e8f0f9 75px,#e5eef8 78px,#e0ebf7 81px,#dbe7f6 84px,#d4e2f4 87px,#cbddf2 90px,#c1d5ef 93px,#b4ccec 96px,#a3c2e8 99px,#8eb6e2 102px,#75a6dc 105px,#5d95d6 108px,#4486cf 111px,#3f79c6 114px,#536cb1 117px,#705d99 120px,#95587c 123px,#bd5067 126px,#d5515d 129px,#df5f5b 132px,#e36c59 135px,#e57557 138px,#e67756 141px,#e57257 144px,#e1665a 147px,#d8555d 150px,#c05066 153px,#91597f 156px,#6760a1 159px,#4573bf 162px,#4182cd 165px,#5b94d5 168px,#79a8dd 171px,#94bae4 174px,#a8c5e9 177px,#b4ccec 180px,#b7ceed 183px,#b2cbeb 186px,#a4c3e8 189px,#8db6e2 192px,#70a2db 195px,#528ed3 198px,#3d7dca 201px,#4e6fb6 204px,#6b5e9d 207px,#8a5a83 210px,#a55573 213px,#b2526d 216px,#af536e 219px,#9b5778 222px,#7a5d8f 225px,#5a67ab 228px,#4078c5 231px,#4a8ad1 234px,#6ea1da 237px,#93bae4 240px,#9fc0e7 241px)"></div>
<div style="left:47px;top:100px;width:241px;height:1px;background:linear-gradient(90deg,#ffffff 0px,#ffffff 3px,#ffffff 6px,#ffffff 9px,#ffffff 12px,#feffff 15px,#feffff 18px,#fefeff 21px,#fefeff 24px,#fdfeff 27px,#fdfefe 30px,#fdfdfe 33px,#fcfdfe 36px,#fbfcfe 39px,#fafcfe 42px,#f9fbfe 45px,#f8fbfd 48px,#f7fafd 51px,#f5f9fc 54px,#f4f8fc 57px,#f2f7fc 60px,#f0f5fb 63px,#eef4fb 66px,#ecf2fa 69px,#e9f1f9 72px,#e6eef8 75px,#e2ecf7 78px,#dde8f6 81px,#d7e4f5 84px,#cfdff3 87px,#c6d9f1 90px,#bbd1ee 93px,#acc8ea 96px,#99bde5 99px,#82aedf 102px,#699ed9 105px,#4f8dd2 108px,#3e7ecb 111px,#4971bb 114px,#6660a1 117px,#8c5a82 120px,#bb5068 123px,#d7535d 126px,#e1685a 129px,#e77c55 132px,#eb8c51 135px,#ec954f 138px,#ed984e 141px,#ec924f 144px,#e98353 147px,#e36d59 150px,#d8555d 153px,#b6516b 156px,#7e5c8c 159px,#566aae 162px,#3d7bc8 165px,#4e8cd2 168px,#6da0da 171px,#89b3e1 174px,#9fc0e7 177px,#acc7ea 180px,#b0c9eb 183px,#aac6ea 186px,#9cbee6 189px,#84b0e0 192px,#679cd8 195px,#4888d0 198px,#4078c5 201px,#5968ab 204px,#7b5c8f 207px,#a15575 210px,#bd5068 213px,#c74f63 216px,#c44f64 219px,#b1526d 222px,#8d5982 225px,#6660a1 228px,#4474c0 231px,#4385ce 234px,#679cd8 237px,#8db5e2 240px,#99bde5 241px)"></div>
<div style="left:47px;top:101px;width:241px;height:1px;background:linear-gradient(90deg,#ffffff 0px,#ffffff 3px,#ffffff 6px,#ffffff 9px,#ffffff 12px,#feffff 15px,#feffff 18px,#fefeff 21px,#fefeff 24px,#fdfeff 27px,#fdfefe 30px,#fcfdfe 33px,#fcfdfe 36px,#fbfcfe 39px,#fafcfe 42px,#f9fbfd 45px,#f7fafd 48px,#f6f9fd 51px,#f4f8fc 54px,#f3f7fc 57px,#f1f6fb 60px,#eff4fb 63px,#ecf3fa 66px,#eaf1f9 69px,#e7eff9 72px,#e3edf8 75px,#dfeaf7 78px,#dae6f5 81px,#d3e2f4 84px,#cbddf2 87px,#c2d6ef 90px,#b6cdec 93px,#a5c3e8 96px,#90b8e3 99px,#78a7dc 102px,#5e96d6 105px,#4486cf 108px,#4078c5 111px,#5769ad 114px,#7a5d90 117px,#ab5370 120px,#d34f5e 123px,#e1665a 126px,#e88154 129px,#ed974e 132px,#efa949 135px,#f1b346 138px,#f2b645 141px,#f1b047 144px,#ee9f4c 147px,#ea8752 150px,#e26859 153px,#d04e5f 156px,#9a5778 159px,#6760a1 162px,#4375c1 165px,#4385cf 168px,#6399d7 171px,#7facde 174px,#96bbe5 177px,#a4c3e8 180px,#a8c5e9 183px,#a3c2e8 186px,#94bae4 189px,#7caadd 192px,#5f97d6 195px,#4284ce 198px,#4375c1 201px,#6462a3 204px,#8a5a83 207px,#b4526c 210px,#cb4f61 213px,#d4505e 216px,#d24e5e 219px,#c24f65 222px,#9e5676 225px,#715d98 228px,#4c70b8 231px,#4081cd 234px,#6198d7 237px,#88b2e1 240px,#94bae4 241px)"></div>
<div style="left:47px;top:102px;width:241px;height:1px;background:linear-gradient(90deg,#ffffff 0px,#ffffff 3px,#ffffff 6px,#ffffff 9px,#ffffff 12px,#feffff 15px,#fefeff 18px,#fefeff 21px,#fefeff 24px,#fdfeff 27px,#fdfdfe 30px,#fcfdfe 33px,#fbfdfe 36px,#fafcfe 39px,#f9fbfe 42px,#f8fbfd 45px,#f7fafd 48px,#f5f9fc 51px,#f4f8fc 54px,#f2f6fc 57px,#f0f5fb 60px,#edf4fa 63px,#ebf2fa 66px,#e8f0f9 69px,#e5eef8 72px,#e1ebf7 75px,#dce8f6 78px,#d7e4f5 81px,#d0e0f3 84px,#c8daf1 87px,#bdd3ee 90px,#b0caeb 93px,#9ec0e7 96px,#88b2e1 99px,#70a2da 102px,#5591d4 105px,#4081cc 108px,#4573bf 111px,#6561a2 114px,#8f5980 117px,#c34f65 120px,#dd5c5c 123px,#e67a56 126px,#ec974e 129px,#f0af47 132px,#f3c23c 135px,#f5cd32 138px,#f6d02f 141px,#f5ca35 144px,#f2b844 147px,#ee9d4d 150px,#e77c55 153px,#dc585c 156px,#b3526c 159px,#765d93 162px,#4c6fb8 165px,#3f80cc 168px,#5a93d5 171px,#77a7dc 174px,#8fb7e3 177px,#9dbfe6 180px,#a2c2e7 183px,#9cbfe6 186px,#8db5e2 189px,#75a6dc 192px,#5893d4 195px,#3f80cc 198px,#4a71ba 201px,#6c5e9c 204px,#97577a 207px,#c05066 210px,#d4505e 213px,#d9565d 216px,#d7545d 219px,#cc4f61 222px,#aa5470 225px,#795d90 228px,#516db3 231px,#3e7fcb 234px,#5c95d6 237px,#84afe0 240px,#91b8e3 241px)"></div>
<div style="left:47px;top:103px;width:241px;height:1px;background:linear-gradient(90deg,#ffffff 0px,#ffffff 3px,#ffffff 6px,#ffffff 9px,#ffffff 12px,#feffff 15px,#fefeff 18px,#fefeff 21px,#fdfeff 24px,#fdfefe 27px,#fdfdfe 30px,#fcfdfe 33px,#fbfcfe 36px,#fafcfe 39px,#f9fbfd 42px,#f8fafd 45px,#f6f9fd 48px,#f5f8fc 51px,#f3f7fc 54px,#f1f6fb 57px,#eff4fb 60px,#ecf3fa 63px,#eaf1f9 66px,#e7eff9 69px,#e3edf8 72px,#dfeaf7 75px,#dae7f6 78px,#d4e3f4 81px,#cddef2 84px,#c5d8f0 87px,#bad0ee 90px,#acc7ea 93px,#99bde5 96px,#82aedf 99px,#699dd9 102px,#4e8cd2 105px,#3d7dca 108px,#4e6fb6 111px,#705d98 114px,#a25574 117px,#d24e5e 120px,#e26959 123px,#ea8a51 126px,#efa949 129px,#f4c33b 132px,#f7d629 135px,#f9e21d 138px,#fae519 141px,#f8de21 144px,#f5cc33 147px,#f0b047 150px,#eb8c51 153px,#e0655a 156px,#c44f64 159px,#835b88 162px,#556baf 165px,#3c7cca 168px,#538fd3 171px,#70a2db 174px,#88b2e1 177px,#97bce5 180px,#9cbee6 183px,#96bbe5 186px,#87b1e0 189px,#6fa2da 192px,#538fd3 195px,#3d7dcb 198px,#4f6eb5 201px,#735d96 204px,#a05675 207px,#c74f63 210px,#d8545d 213px,#dd595c 216px,#db585c 219px,#d24e5e 222px,#b2526d 225px,#7e5c8c 228px,#556baf 231px,#3d7dcb 234px,#5a93d5 237px,#81aedf 240px,#8fb7e3 241px)"></div>
<div style="left:47px;top:104px;width:241px;height:1px;background:linear-gradient(90deg,#ffffff 0px,#ffffff 3px,#ffffff 6px,#ffffff 9px,#feffff 12px,#feffff 15px,#fefeff 18px,#fefeff 21px,#fdfeff 24px,#fdfefe 27px,#fcfdfe 30px,#fcfdfe 33px,#fbfcfe 36px,#fafcfe 39px,#f9fbfd 42px,#f7fafd 45px,#f6f9fd 48px,#f4f8fc 51px,#f2f7fc 54px,#f0f5fb 57px,#eef4fb 60px,#ebf2fa 63px,#e9f0f9 66px,#e5eef8 69px,#e2ecf7 72px,#dee9f6 75px,#d9e6f5 78px,#d2e2f4 81px,#cbddf2 84px,#c2d6f0 87px,#b7ceed 90px,#a8c5e9 93px,#95bbe4 96px,#7dabde 99px,#649ad8 102px,#4989d0 105px,#3e7ac8 108px,#546bb0 111px,#795d91 114px,#af536e 117px,#d7545d 120px,#e57357 123px,#ec964f 126px,#f1b545 129px,#f6d030 132px,#fae41a 135px,#fdf10e 138px,#fef40b 141px,#fced12 144px,#f7d926 147px,#f3bc41 150px,#ed974e 153px,#e36e58 156px,#ce4e60 159px,#8f5980 162px,#5b67aa 165px,#3e7ac7 168px,#4e8cd2 171px,#6b9fd9 174px,#83afdf 177px,#92b9e3 180px,#97bce5 183px,#91b8e3 186px,#81aedf 189px,#6a9ed9 192px,#4f8dd2 195px,#3c7cca 198px,#526cb2 201px,#765d93 204px,#a55573 207px,#ca4f62 210px,#d9565d 213px,#dd5b5c 216px,#dc595c 219px,#d34f5e 222px,#b5516b 225px,#805c8a 228px,#566aae 231px,#3c7dca 234px,#5993d5 237px,#81addf 240px,#8eb6e2 241px)"></div>
<div style="left:47px;top:105px;width:241px;height:1px;background:linear-gradient(90deg,#ffffff 0px,#ffffff 3px,#ffffff 6px,#ffffff 9px,#feffff 12px,#feffff 15px,#fefeff 18px,#fefeff 21px,#fdfeff 24px,#fdfefe 27px,#fcfdfe 30px,#fcfdfe 33px,#fbfcfe 36px,#fafcfe 39px,#f9fbfd 42px,#f7fafd 45px,#f6f9fd 48px,#f4f8fc 51px,#f2f6fc 54px,#f0f5fb 57px,#edf4fa 60px,#ebf2fa 63px,#e8f0f9 66px,#e5eef8 69px,#e1ebf7 72px,#dde8f6 75px,#d7e5f5 78px,#d1e1f3 81px,#cadcf1 84px,#c1d5ef 87px,#b6cdec 90px,#a6c4e9 93px,#93b9e4 96px,#7ba9dd 99px,#6299d7 102px,#4687d0 105px,#3f79c6 108px,#5769ad 111px,#7d5c8d 114px,#b6516b 117px,#da575d 120px,#e67856 123px,#ed9b4d 126px,#f2bc41 129px,#f7d728 132px,#fbec13 135px,#fef60a 138px,#fef60a 141px,#fef40b 144px,#f9e01e 147px,#f4c33b 150px,#ee9d4d 153px,#e57357 156px,#d34f5e 159px,#95587c 162px,#5f65a7 165px,#3f79c6 168px,#4b8ad1 171px,#689dd9 174px,#7facde 177px,#8eb6e2 180px,#92b9e4 183px,#8cb5e2 186px,#7dabde 189px,#679cd8 192px,#4c8bd1 195px,#3d7bc8 198px,#536bb1 201px,#775d92 204px,#a55573 207px,#c94f62 210px,#d8555d 213px,#dd5a5c 216px,#db585c 219px,#d24e5e 222px,#b2526c 225px,#7e5c8b 228px,#556baf 231px,#3d7dcb 234px,#5a93d5 237px,#81aedf 240px,#8fb7e3 241px)"></div>
<div style="left:47px;top:106px;width:241px;height:1px;background:linear-gradient(90deg,#ffffff 0px,#ffffff 3px,#ffffff 6px,#ffffff 9px,#feffff 12px,#feffff 15px,#fefeff 18px,#fefeff 21px,#fdfeff 24px,#fdfefe 27px,#fcfdfe 30px,#fcfdfe 33px,#fbfcfe 36px,#fafbfe 39px,#f8fbfd 42px,#f7fafd 45px,#f5f9fd 48px,#f4f8fc 51px,#f2f6fc 54px,#f0f5fb 57px,#edf3fa 60px,#ebf2fa 63px,#e8f0f9 66px,#e4eef8 69px,#e1ebf7 72px,#dce8f6 75px,#d7e5f5 78px,#d1e0f3 81px,#c9dbf1 84px,#c1d5ef 87px,#b5cdec 90px,#a6c4e8 93px,#92b9e4 96px,#7aa9dd 99px,#6198d7 102px,#4687d0 105px,#3f79c6 108px,#5769ad 111px,#7d5c8c 114px,#b6516b 117px,#da575c 120px,#e67956 123px,#ed9c4d 126px,#f3bc41 129px,#f7d728 132px,#fbec13 135px,#fef60a 138px,#fef60a 141px,#fef50b 144px,#f9e11e 147px,#f4c33b 150px,#ee9d4d 153px,#e57357 156px,#d34f5e 159px,#96587c 162px,#5f64a6 165px,#4078c6 168px,#4a8ad1 171px,#679cd8 174px,#7dabde 177px,#8bb4e2 180px,#8fb7e3 183px,#89b3e1 186px,#79a9dd 189px,#649ad8 192px,#4a8ad1 195px,#3d7bc8 198px,#536cb1 201px,#755d94 204px,#a05675 207px,#c54f64 210px,#d5525d 213px,#da575d 216px,#d8555d 219px,#cd4e60 222px,#ab5370 225px,#795d90 228px,#516db3 231px,#3e7fcb 234px,#5c95d6 237px,#84afe0 240px,#91b8e3 241px)"></div>
<div style="left:47px;top:107px;width:241px;height:1px;background:linear-gradient(90deg,#ffffff 0px,#ffffff 3px,#ffffff 6px,#ffffff 9px,#feffff 12px,#feffff 15px,#fefeff 18px,#fefeff 21px,#fdfeff 24px,#fdfefe 27px,#fcfdfe 30px,#fcfdfe 33px,#fbfcfe 36px,#fafbfe 39px,#f8fbfd 42px,#f7fafd 45px,#f5f9fd 48px,#f4f8fc 51px,#f2f6fc 54px,#f0f5fb 57px,#edf3fa 60px,#ebf2fa 63px,#e8f0f9 66px,#e4eef8 69px,#e1ebf7 72px,#dce8f6 75px,#d7e5f5 78px,#d1e1f3 81px,#cadcf1 84px,#c1d5ef 87px,#b6cdec 90px,#a7c4e9 93px,#93bae4 96px,#7caadd 99px,#6399d7 102px,#4888d0 105px,#3e7ac7 108px,#556baf 111px,#7a5d90 114px,#b0526e 117px,#d8545d 120px,#e57457 123px,#ec964e 126px,#f2b645 129px,#f6d12f 132px,#fae519 135px,#fdf10e 138px,#fef50b 141px,#fced12 144px,#f8da26 147px,#f3bd41 150px,#ed984e 153px,#e36e58 156px,#cf4e5f 159px,#90597f 162px,#5d66a9 165px,#3f79c7 168px,#4b8ad1 171px,#679cd8 174px,#7caade 177px,#8ab3e1 180px,#8db5e2 183px,#87b1e0 186px,#78a7dc 189px,#6399d7 192px,#4a8ad1 195px,#3d7bc9 198px,#506db4 201px,#705d99 204px,#97577b 207px,#bc5068 210px,#cf4e5f 213px,#d5515d 216px,#d34f5e 219px,#c34f65 222px,#9e5676 225px,#715d97 228px,#4c70b8 231px,#4081cd 234px,#6198d7 237px,#88b2e1 240px,#94bae4 241px)"></div>
<div style="left:47px;top:108px;width:241px;height:1px;background:linear-gradient(90deg,#ffffff 0px,#ffffff 3px,#ffffff 6px,#ffffff 9px,#feffff 12px,#feffff 15px,#fefeff 18px,#fefeff 21px,#fdfeff 24px,#fdfefe 27px,#fcfdfe 30px,#fcfdfe 33px,#fbfcfe 36px,#fafcfe 39px,#f9fbfd 42px,#f7fafd 45px,#f6f9fd 48px,#f4f8fc 51px,#f2f6fc 54px,#f0f5fb 57px,#edf4fa 60px,#ebf2fa 63px,#e8f0f9 66px,#e5eef8 69px,#e1ebf7 72px,#dde9f6 75px,#d8e5f5 78px,#d2e1f3 81px,#cbdcf2 84px,#c2d6f0 87px,#b8cfed 90px,#a9c6e9 93px,#96bbe5 96px,#7facde 99px,#679cd8 102px,#4c8bd1 105px,#3c7cca 108px,#4f6eb5 111px,#725d97 114px,#a45573 117px,#d34f5e 120px,#e26a59 123px,#eb8b51 126px,#f0aa49 129px,#f4c43b 132px,#f7d729 135px,#f9e31c 138px,#fae618 141px,#f9df20 144px,#f5cc33 147px,#f1b047 150px,#eb8c51 153px,#e1655a 156px,#c54f64 159px,#855b87 162px,#576aae 165px,#3d7bc9 168px,#4e8cd2 171px,#699ed9 174px,#7dabde 177px,#8ab3e1 180px,#8cb5e2 183px,#85b0e0 186px,#77a7dc 189px,#639ad7 192px,#4c8bd1 195px,#3c7cca 198px,#4b70b9 201px,#685fa0 204px,#895a84 207px,#ac536f 210px,#c24f65 213px,#ca4f62 216px,#c64f64 219px,#b3526c 222px,#8d5981 225px,#6760a1 228px,#4474c0 231px,#4385ce 234px,#679cd8 237px,#8db5e2 240px,#99bde5 241px)"></div>
<div style="left:47px;top:109px;width:241px;height:1px;background:linear-gradient(90deg,#ffffff 0px,#ffffff 3px,#ffffff 6px,#ffffff 9px,#feffff 12px,#feffff 15px,#fefeff 18px,#fefeff 21px,#fdfeff 24px,#fdfefe 27px,#fcfdfe 30px,#fcfdfe 33px,#fbfcfe 36px,#fafcfe 39px,#f9fbfd 42px,#f7fafd 45px,#f6f9fd 48px,#f4f8fc 51px,#f2f7fc 54px,#f0f5fb 57px,#eef4fb 60px,#ecf2fa 63px,#e9f1f9 66px,#e6eef8 69px,#e2ecf8 72px,#dee9f7 75px,#d9e6f5 78px,#d3e2f4 81px,#cddef2 84px,#c4d8f0 87px,#bad0ee 90px,#acc8ea 93px,#9bbee6 96px,#85b0e0 99px,#6ca0da 102px,#538fd3 105px,#3f7fcc 108px,#4772bd 111px,#6760a0 114px,#92587e 117px,#c54f64 120px,#de5d5b 123px,#e77b55 126px,#ed984e 129px,#f1b147 132px,#f4c33b 135px,#f5ce31 138px,#f6d12f 141px,#f5ca35 144px,#f2b944 147px,#ee9e4d 150px,#e77c55 153px,#dc595c 156px,#b5516b 159px,#775d92 162px,#4e6eb6 165px,#3e7ecb 168px,#5490d3 171px,#6da0da 174px,#80addf 177px,#8bb4e2 180px,#8db5e2 183px,#86b1e0 186px,#77a7dc 189px,#659bd8 192px,#4f8dd2 195px,#3e7fcb 198px,#4573bf 201px,#5f65a7 204px,#7a5d90 207px,#98577a 210px,#ae536e 213px,#b8516a 216px,#b2526d 219px,#9c5677 222px,#7b5c8f 225px,#5a67aa 228px,#4078c5 231px,#4a8ad1 234px,#6ea1da 237px,#93bae4 240px,#9fc0e7 241px)"></div>
<div style="left:47px;top:110px;width:241px;height:1px;background:linear-gradient(90deg,#ffffff 0px,#ffffff 3px,#ffffff 6px,#ffffff 9px,#ffffff 12px,#feffff 15px,#fefeff 18px,#fefeff 21px,#fdfeff 24px,#fdfefe 27px,#fdfdfe 30px,#fcfdfe 33px,#fbfcfe 36px,#fafcfe 39px,#f9fbfd 42px,#f8fafd 45px,#f6f9fd 48px,#f5f8fc 51px,#f3f7fc 54px,#f1f6fb 57px,#eff4fb 60px,#ecf3fa 63px,#eaf1f9 66px,#e7eff9 69px,#e4edf8 72px,#e0eaf7 75px,#dbe7f6 78px,#d6e4f4 81px,#cfdff3 84px,#c7daf1 87px,#bed3ee 90px,#b1caeb 93px,#a0c1e7 96px,#8cb5e2 99px,#74a5db 102px,#5b94d5 105px,#4284ce 108px,#4177c4 111px,#5a68ab 114px,#7d5c8d 117px,#ae536e 120px,#d4515e 123px,#e16859 126px,#e98253 129px,#ed994e 132px,#f0aa49 135px,#f1b446 138px,#f2b745 141px,#f1b147 144px,#eea04c 147px,#ea8752 150px,#e26959 153px,#d14e5f 156px,#9c5677 159px,#685f9f 162px,#4474c0 165px,#4283cd 168px,#5b94d5 171px,#73a4db 174px,#84b0e0 177px,#8eb6e2 180px,#8eb6e3 183px,#87b2e1 186px,#79a8dd 189px,#689dd8 192px,#538fd3 195px,#4182cd 198px,#4177c4 201px,#546bb0 204px,#6b5e9d 207px,#805c8a 210px,#94587c 213px,#9d5677 216px,#97577b 219px,#825c89 222px,#695e9f 225px,#4d6fb7 228px,#3d7dcb 231px,#5490d3 234px,#77a7dc 237px,#9bbee6 240px,#a5c4e8 241px)"></div>
<div style="left:47px;top:111px;width:241px;height:1px;background:linear-gradient(90deg,#ffffff 0px,#ffffff 3px,#ffffff 6px,#ffffff 9px,#ffffff 12px,#feffff 15px,#fefeff 18px,#fefeff 21px,#fefeff 24px,#fdfeff 27px,#fdfdfe 30px,#fcfdfe 33px,#fbfdfe 36px,#fafcfe 39px,#f9fbfe 42px,#f8fbfd 45px,#f7fafd 48px,#f5f9fc 51px,#f4f8fc 54px,#f2f6fc 57px,#f0f5fb 60px,#eef4fa 63px,#ebf2fa 66px,#e8f0f9 69px,#e5eef8 72px,#e2ecf7 75px,#dde9f6 78px,#d8e6f5 81px,#d2e1f4 84px,#cbdcf2 87px,#c2d6ef 90px,#b7ceed 93px,#a7c5e9 96px,#94bae4 99px,#7dabde 102px,#659bd8 105px,#4c8bd1 108px,#3c7cca 111px,#4c70b8 114px,#695f9f 117px,#90597f 120px,#be5067 123px,#d8555d 126px,#e26959 129px,#e77d55 132px,#eb8d51 135px,#ec964e 138px,#ed994e 141px,#ec934f 144px,#e98453 147px,#e36e58 150px,#d8555d 153px,#b7516a 156px,#7f5c8b 159px,#5869ac 162px,#3f79c7 165px,#4989d0 168px,#649ad8 171px,#7aa9dd 174px,#8ab4e1 177px,#92b9e3 180px,#92b8e3 183px,#8ab4e1 186px,#7dabde 189px,#6ca0da 192px,#5993d5 195px,#4486cf 198px,#3d7bc9 201px,#4872bc 204px,#5b67aa 207px,#6d5e9c 210px,#7a5d90 213px,#7f5c8b 216px,#7b5c8f 219px,#6d5e9c 222px,#5869ad 225px,#4276c3 228px,#4284ce 231px,#5f97d6 234px,#81aedf 237px,#a3c2e8 240px,#adc8ea 241px)"></div>
<div style="left:47px;top:112px;width:241px;height:1px;background:linear-gradient(90deg,#ffffff 0px,#ffffff 3px,#ffffff 6px,#ffffff 9px,#ffffff 12px,#feffff 15px,#feffff 18px,#fefeff 21px,#fefeff 24px,#fdfeff 27px,#fdfefe 30px,#fcfdfe 33px,#fcfdfe 36px,#fbfcfe 39px,#fafcfe 42px,#f9fbfd 45px,#f7fafd 48px,#f6f9fd 51px,#f5f8fc 54px,#f3f7fc 57px,#f1f6fb 60px,#eff4fb 63px,#edf3fa 66px,#eaf1fa 69px,#e7f0f9 72px,#e4edf8 75px,#e0ebf7 78px,#dbe8f6 81px,#d6e4f4 84px,#cfdff3 87px,#c6d9f1 90px,#bcd2ee 93px,#afc9eb 96px,#9dbfe6 99px,#88b2e1 102px,#71a3db 105px,#5993d5 108px,#4284ce 111px,#4078c4 114px,#556aaf 117px,#735d96 120px,#995779 123px,#c05066 126px,#d6525d 129px,#df615b 132px,#e36e58 135px,#e57657 138px,#e67856 141px,#e57357 144px,#e1665a 147px,#d9555d 150px,#c15066 153px,#92587e 156px,#685fa0 159px,#4772bd 162px,#3f80cc 165px,#5591d4 168px,#6fa1da 171px,#83afdf 174px,#91b8e3 177px,#97bce5 180px,#96bbe5 183px,#8fb6e3 186px,#82aedf 189px,#72a3db 192px,#6097d7 195px,#4d8cd1 198px,#4081cc 201px,#4078c5 204px,#4b70b9 207px,#5968ab 210px,#6462a3 213px,#685fa0 216px,#6462a3 219px,#5869ac 222px,#4773bd 225px,#3d7dca 228px,#4d8cd2 231px,#6c9fd9 234px,#8cb5e2 237px,#abc7ea 240px,#b4ccec 241px)"></div>
<div style="left:47px;top:113px;width:241px;height:1px;background:linear-gradient(90deg,#ffffff 0px,#ffffff 3px,#ffffff 6px,#ffffff 9px,#ffffff 12px,#feffff 15px,#feffff 18px,#fefeff 21px,#fefeff 24px,#fdfeff 27px,#fdfefe 30px,#fdfdfe 33px,#fcfdfe 36px,#fbfcfe 39px,#fafcfe 42px,#f9fbfe 45px,#f8fbfd 48px,#f7fafd 51px,#f5f9fd 54px,#f4f8fc 57px,#f2f7fc 60px,#f0f5fb 63px,#eef4fb 66px,#ecf3fa 69px,#e9f1f9 72px,#e7eff9 75px,#e3edf8 78px,#dfeaf7 81px,#dae6f5 84px,#d3e2f4 87px,#cbddf2 90px,#c2d6f0 93px,#b7ceed 96px,#a7c5e9 99px,#95bae4 102px,#7eacde 105px,#679cd8 108px,#508dd2 111px,#3f80cc 114px,#4375c1 117px,#5a67ab 120px,#755d94 123px,#95587c 126px,#b6516b 129px,#cb4f61 132px,#d6525d 135px,#da575c 138px,#dc585c 141px,#d9555d 144px,#d24e5e 147px,#bc5068 150px,#96587b 153px,#705d98 156px,#526cb2 159px,#3e7ac8 162px,#4989d0 165px,#639ad7 168px,#7aa9dd 171px,#8eb6e2 174px,#99bde5 177px,#9ec0e6 180px,#9cbee6 183px,#94bae4 186px,#88b2e1 189px,#79a8dd 192px,#699dd9 195px,#5892d4 198px,#4687d0 201px,#3e7fcb 204px,#4078c5 207px,#4772bd 210px,#4f6eb5 213px,#526cb2 216px,#4f6eb5 219px,#4574bf 222px,#3d7bc8 225px,#4385cf 228px,#5c95d6 231px,#79a8dd 234px,#98bce5 237px,#b4ccec 240px,#bbd1ee 241px)"></div>
<div style="left:47px;top:114px;width:241px;height:1px;background:linear-gradient(90deg,#ffffff 0px,#ffffff 3px,#ffffff 6px,#ffffff 9px,#ffffff 12px,#ffffff 15px,#feffff 18px,#fefeff 21px,#fefeff 24px,#fefeff 27px,#fdfeff 30px,#fdfefe 33px,#fcfdfe 36px,#fcfdfe 39px,#fbfcfe 42px,#fafcfe 45px,#f9fbfd 48px,#f8fafd 51px,#f6f9fd 54px,#f5f9fc 57px,#f4f8fc 60px,#f2f6fc 63px,#f0f5fb 66px,#eef4fb 69px,#ecf2fa 72px,#e9f1f9 75px,#e6eff9 78px,#e2ecf8 81px,#dee9f6 84px,#d8e5f5 87px,#d1e1f3 90px,#c8dbf1 93px,#bed3ef 96px,#b2cbeb 99px,#a1c1e7 102px,#8db6e2 105px,#77a7dc 108px,#6198d7 111px,#4a8ad1 114px,#3d7ecb 117px,#4474c0 120px,#5968ac 123px,#6f5e9a 126px,#855b86 129px,#9d5676 132px,#af536e 135px,#ba5069 138px,#bc5068 141px,#b6516b 144px,#a55573 147px,#8b5a83 150px,#6f5e99 153px,#556baf 156px,#4177c4 159px,#4284ce 162px,#5a93d5 165px,#72a4db 168px,#88b2e1 171px,#99bde5 174px,#a2c2e8 177px,#a5c4e8 180px,#a2c2e8 183px,#9bbee6 186px,#90b7e3 189px,#82aedf 192px,#73a4db 195px,#649ad7 198px,#5490d3 201px,#4587cf 204px,#3f80cc 207px,#3d7bc8 210px,#4078c5 213px,#4177c3 216px,#4078c5 219px,#3c7cca 222px,#4284ce 225px,#5490d3 228px,#6da0da 231px,#88b2e1 234px,#a4c3e8 237px,#bcd1ee 240px,#c2d6f0 241px)"></div>
<div style="left:47px;top:115px;width:241px;height:1px;background:linear-gradient(90deg,#ffffff 0px,#ffffff 3px,#ffffff 6px,#ffffff 9px,#ffffff 12px,#ffffff 15px,#feffff 18px,#feffff 21px,#fefeff 24px,#fefeff 27px,#fdfeff 30px,#fdfefe 33px,#fdfdfe 36px,#fcfdfe 39px,#fbfdfe 42px,#fafcfe 45px,#fafbfe 48px,#f9fbfd 51px,#f7fafd 54px,#f6f9fd 57px,#f5f8fc 60px,#f3f7fc 63px,#f2f6fc 66px,#f0f5fb 69px,#eef4fb 72px,#ecf2fa 75px,#e9f1f9 78px,#e6eff8 81px,#e2ecf7 84px,#dde8f6 87px,#d6e4f5 90px,#cfdff3 93px,#c6d9f0 96px,#bbd1ee 99px,#adc8ea 102px,#9cbfe6 105px,#88b2e1 108px,#73a4db 111px,#5e96d6 114px,#4989d0 117px,#3e7ecb 120px,#4276c2 123px,#516db3 126px,#6163a5 129px,#705d99 132px,#7b5c8e 135px,#835b88 138px,#855b86 141px,#805c8a 144px,#755d94 147px,#6461a2 150px,#516db3 153px,#4177c4 156px,#4182cd 159px,#5490d3 162px,#6ca0da 165px,#83afdf 168px,#97bbe5 171px,#a4c3e8 174px,#acc7ea 177px,#adc8ea 180px,#aac6e9 183px,#a3c2e8 186px,#98bce5 189px,#8cb5e2 192px,#7eacde 195px,#71a3db 198px,#6399d7 201px,#5691d4 204px,#4a8ad1 207px,#4384ce 210px,#4081cd 213px,#4080cc 216px,#4182cd 219px,#4587cf 222px,#5390d3 225px,#669cd8 228px,#7dabde 231px,#97bce5 234px,#b0caeb 237px,#c3d7f0 240px,#c9dbf1 241px)"></div>
<div style="left:47px;top:116px;width:241px;height:1px;background:linear-gradient(90deg,#ffffff 0px,#ffffff 3px,#ffffff 6px,#ffffff 9px,#ffffff 12px,#ffffff 15px,#ffffff 18px,#feffff 21px,#fefeff 24px,#fefeff 27px,#fefeff 30px,#fdfeff 33px,#fdfefe 36px,#fcfdfe 39px,#fcfdfe 42px,#fbfcfe 45px,#fafcfe 48px,#f9fbfe 51px,#f8fbfd 54px,#f7fafd 57px,#f6f9fd 60px,#f5f8fc 63px,#f4f8fc 66px,#f2f7fc 69px,#f0f5fb 72px,#eef4fb 75px,#ecf3fa 78px,#e9f1f9 81px,#e6eef8 84px,#e1ecf7 87px,#dce8f6 90px,#d5e4f4 93px,#cddef2 96px,#c4d7f0 99px,#b9cfed 102px,#abc7ea 105px,#99bde5 108px,#86b1e0 111px,#72a4db 114px,#5f97d6 117px,#4d8bd1 120px,#4081cd 123px,#3e7ac7 126px,#4474c0 129px,#4f6eb5 132px,#5769ad 135px,#5d66a9 138px,#5e65a8 141px,#5b67aa 144px,#526cb2 147px,#4773bd 150px,#3e7ac7 153px,#4183cd 156px,#538fd3 159px,#699dd9 162px,#7facde 165px,#94bae4 168px,#a4c3e8 171px,#b0c9eb 174px,#b5cdec 177px,#b6cdec 180px,#b2cbec 183px,#abc7ea 186px,#a2c2e7 189px,#97bce5 192px,#8bb4e2 195px,#7eacde 198px,#73a4db 201px,#679cd8 204px,#5d95d6 207px,#5591d4 210px,#508dd2 213px,#4f8dd2 216px,#528ed3 219px,#5a94d5 222px,#679cd8 225px,#78a8dd 228px,#8fb7e3 231px,#a5c4e8 234px,#bad0ed 237px,#cbdcf2 240px,#d0e0f3 241px)"></div>
<div style="left:47px;top:117px;width:241px;height:1px;background:linear-gradient(90deg,#ffffff 0px,#ffffff 3px,#ffffff 6px,#ffffff 9px,#ffffff 12px,#ffffff 15px,#ffffff 18px,#feffff 21px,#feffff 24px,#fefeff 27px,#fefeff 30px,#fefeff 33px,#fdfeff 36px,#fdfefe 39px,#fcfdfe 42px,#fcfdfe 45px,#fbfcfe 48px,#fafcfe 51px,#f9fbfe 54px,#f8fbfd 57px,#f7fafd 60px,#f6f9fd 63px,#f5f9fc 66px,#f4f8fc 69px,#f2f7fc 72px,#f1f6fb 75px,#eff4fb 78px,#ecf3fa 81px,#e9f1f9 84px,#e6eff8 87px,#e1ebf7 90px,#dce8f6 93px,#d5e3f4 96px,#ccddf2 99px,#c3d7f0 102px,#b8cfed 105px,#aac6e9 108px,#99bde5 111px,#87b2e1 114px,#75a6dc 117px,#649ad8 120px,#5490d3 123px,#4687d0 126px,#4081cc 129px,#3c7cca 132px,#3f79c6 135px,#4177c3 138px,#4276c3 141px,#4177c4 144px,#3e7ac8 147px,#3f80cc 150px,#4687cf 153px,#5792d4 156px,#6a9ed9 159px,#7eacde 162px,#93b9e4 165px,#a4c3e8 168px,#b2cbeb 171px,#bad0ed 174px,#bdd3ee 177px,#bdd3ee 180px,#bad0ed 183px,#b4ccec 186px,#acc7ea 189px,#a2c2e8 192px,#98bce5 195px,#8eb6e2 198px,#83afdf 201px,#79a8dd 204px,#70a3db 207px,#699ed9 210px,#659bd8 213px,#649ad8 216px,#679cd8 219px,#6fa1da 222px,#7baadd 225px,#8cb5e2 228px,#9fc0e7 231px,#b3cbec 234px,#c3d7f0 237px,#d2e1f3 240px,#d6e4f5 241px)"></div>
<div style="left:47px;top:118px;width:241px;height:1px;background:linear-gradient(90deg,#ffffff 0px,#ffffff 3px,#ffffff 6px,#ffffff 9px,#ffffff 12px,#ffffff 15px,#ffffff 18px,#ffffff 21px,#feffff 24px,#feffff 27px,#fefeff 30px,#fefeff 33px,#fdfeff 36px,#fdfeff 39px,#fdfdfe 42px,#fcfdfe 45px,#fcfdfe 48px,#fbfcfe 51px,#fafcfe 54px,#fafbfe 57px,#f9fbfd 60px,#f8fafd 63px,#f7fafd 66px,#f6f9fd 69px,#f4f8fc 72px,#f3f7fc 75px,#f1f6fb 78px,#eff5fb 81px,#edf3fa 84px,#eaf1f9 87px,#e6eff9 90px,#e1ecf7 93px,#dbe8f6 96px,#d4e3f4 99px,#ccddf2 102px,#c3d6f0 105px,#b8cfed 108px,#abc7ea 111px,#9cbee6 114px,#8cb5e2 117px,#7caadd 120px,#6ea1da 123px,#6098d7 126px,#5591d4 129px,#4c8bd1 132px,#4687cf 135px,#4385ce 138px,#4384ce 141px,#4486cf 144px,#4989d0 147px,#538fd3 150px,#6097d7 153px,#70a2da 156px,#81aedf 159px,#94bae4 162px,#a5c4e8 165px,#b3ccec 168px,#bdd2ee 171px,#c3d7f0 174px,#c6d9f0 177px,#c5d8f0 180px,#c1d6ef 183px,#bcd2ee 186px,#b6cdec 189px,#aec8ea 192px,#a5c4e8 195px,#9dbfe6 198px,#94bae4 201px,#8cb5e2 204px,#84b0e0 207px,#7eabde 210px,#7aa9dd 213px,#79a8dd 216px,#7caade 219px,#84afe0 222px,#90b7e3 225px,#9ec0e7 228px,#afc9eb 231px,#bed3ee 234px,#ccddf2 237px,#d8e6f5 240px,#dce8f6 241px)"></div>
<div style="left:47px;top:119px;width:241px;height:1px;background:linear-gradient(90deg,#ffffff 0px,#ffffff 3px,#ffffff 6px,#ffffff 9px,#ffffff 12px,#ffffff 15px,#ffffff 18px,#ffffff 21px,#ffffff 24px,#feffff 27px,#fefeff 30px,#fefeff 33px,#fefeff 36px,#fdfeff 39px,#fdfefe 42px,#fdfdfe 45px,#fcfdfe 48px,#fcfdfe 51px,#fbfcfe 54px,#fafcfe 57px,#fafcfe 60px,#f9fbfd 63px,#f8fbfd 66px,#f7fafd 69px,#f6f9fd 72px,#f5f8fc 75px,#f4f8fc 78px,#f2f7fc 81px,#f0f5fb 84px,#eef4fa 87px,#eaf2fa 90px,#e7eff9 93px,#e2ecf7 96px,#dce8f6 99px,#d5e3f4 102px,#cddef2 105px,#c4d7f0 108px,#bad0ed 111px,#aec9eb 114px,#a1c1e7 117px,#94bae4 120px,#87b1e0 123px,#7aa9dd 126px,#70a2db 129px,#689dd9 132px,#6299d7 135px,#5f96d6 138px,#5e96d6 141px,#6097d6 144px,#669bd8 147px,#6ea1da 150px,#7aa9dd 153px,#89b3e1 156px,#98bce5 159px,#a8c5e9 162px,#b5cdec 165px,#c0d4ef 168px,#c7daf1 171px,#ccddf2 174px,#cedef2 177px,#ccddf2 180px,#c9dbf1 183px,#c4d8f0 186px,#bed3ef 189px,#b8cfed 192px,#b2cbec 195px,#abc7ea 198px,#a5c3e8 201px,#9ec0e6 204px,#98bce5 207px,#93b9e4 210px,#90b7e3 213px,#8fb7e3 216px,#92b9e4 219px,#99bde5 222px,#a3c2e8 225px,#afc9eb 228px,#bbd1ee 231px,#c8daf1 234px,#d4e2f4 237px,#dfeaf7 240px,#e2ecf7 241px)"></div>
<div style="left:47px;top:120px;width:241px;height:1px;background:linear-gradient(90deg,#ffffff 0px,#ffffff 3px,#ffffff 6px,#ffffff 9px,#ffffff 12px,#ffffff 15px,#ffffff 18px,#ffffff 21px,#ffffff 24px,#feffff 27px,#feffff 30px,#fefeff 33px,#fefeff 36px,#fefeff 39px,#fdfeff 42px,#fdfefe 45px,#fdfefe 48px,#fcfdfe 51px,#fcfdfe 54px,#fbfdfe 57px,#fbfcfe 60px,#fafcfe 63px,#f9fbfe 66px,#f9fbfd 69px,#f8fafd 72px,#f7fafd 75px,#f6f9fd 78px,#f4f8fc 81px,#f3f7fc 84px,#f1f6fb 87px,#eef4fb 90px,#ebf2fa 93px,#e7f0f9 96px,#e2ecf8 99px,#dde8f6 102px,#d6e4f4 105px,#cedff3 108px,#c6d9f1 111px,#bdd3ee 114px,#b4ccec 117px,#a9c6e9 120px,#9ec0e7 123px,#94bae4 126px,#8bb4e2 129px,#83afe0 132px,#7eabde 135px,#7aa9dd 138px,#7aa9dd 141px,#7caadd 144px,#81aedf 147px,#89b3e1 150px,#94bae4 153px,#a0c1e7 156px,#adc8ea 159px,#b8cfed 162px,#c2d6f0 165px,#cadcf2 168px,#d0e0f3 171px,#d4e3f4 174px,#d5e3f4 177px,#d4e3f4 180px,#d0e0f3 183px,#ccddf2 186px,#c7daf1 189px,#c2d6ef 192px,#bdd2ee 195px,#b8cfed 198px,#b3ccec 201px,#aec9eb 204px,#aac6e9 207px,#a6c4e8 210px,#a3c3e8 213px,#a3c3e8 216px,#a6c4e8 219px,#abc7ea 222px,#b3ccec 225px,#bcd2ee 228px,#c6d9f1 231px,#d1e0f3 234px,#dbe7f6 237px,#e4edf8 240px,#e7eff9 241px)"></div>
<div style="left:47px;top:121px;width:241px;height:1px;background:linear-gradient(90deg,#ffffff 0px,#ffffff 3px,#ffffff 6px,#ffffff 9px,#ffffff 12px,#ffffff 15px,#ffffff 18px,#ffffff 21px,#ffffff 24px,#ffffff 27px,#feffff 30px,#feffff 33px,#fefeff 36px,#fefeff 39px,#fefeff 42px,#fdfeff 45px,#fdfeff 48px,#fdfefe 51px,#fcfdfe 54px,#fcfdfe 57px,#fcfdfe 60px,#fbfcfe 63px,#fbfcfe 66px,#fafcfe 69px,#f9fbfd 72px,#f8fbfd 75px,#f8fafd 78px,#f6f9fd 81px,#f5f9fc 84px,#f4f8fc 87px,#f2f6fb 90px,#eff5fb 93px,#ecf3fa 96px,#e8f0f9 99px,#e4edf8 102px,#dee9f7 105px,#d8e5f5 108px,#d1e1f3 111px,#cadcf1 114px,#c2d6f0 117px,#bbd1ee 120px,#b3cbec 123px,#abc7ea 126px,#a4c3e8 129px,#9dbfe6 132px,#99bde5 135px,#96bbe5 138px,#96bbe4 141px,#97bce5 144px,#9cbee6 147px,#a2c2e8 150px,#abc7ea 153px,#b4ccec 156px,#bdd2ee 159px,#c6d9f0 162px,#cddef2 165px,#d4e3f4 168px,#d9e6f5 171px,#dce8f6 174px,#dce8f6 177px,#dbe7f6 180px,#d8e5f5 183px,#d4e2f4 186px,#cfdff3 189px,#cbdcf2 192px,#c7daf1 195px,#c3d7f0 198px,#c0d4ef 201px,#bcd2ee 204px,#b9cfed 207px,#b6ceed 210px,#b5ccec 213px,#b5ccec 216px,#b6ceed 219px,#bad1ee 222px,#c0d5ef 225px,#c8daf1 228px,#d0e0f3 231px,#d9e6f5 234px,#e2ecf7 237px,#e9f1f9 240px,#ebf2fa 241px)"></div>
<div style="left:47px;top:122px;width:241px;height:1px;background:linear-gradient(90deg,#ffffff 0px,#ffffff 3px,#ffffff 6px,#ffffff 9px,#ffffff 12px,#ffffff 15px,#ffffff 18px,#ffffff 21px,#ffffff 24px,#ffffff 27px,#ffffff 30px,#feffff 33px,#feffff 36px,#fefeff 39px,#fefeff 42px,#fefeff 45px,#fefeff 48px,#fdfeff 51px,#fdfefe 54px,#fdfdfe 57px,#fcfdfe 60px,#fcfdfe 63px,#fbfdfe 66px,#fbfcfe 69px,#fafcfe 72px,#fafcfe 75px,#f9fbfd 78px,#f8fbfd 81px,#f7fafd 84px,#f6f9fd 87px,#f4f8fc 90px,#f2f7fc 93px,#f0f5fb 96px,#edf3fa 99px,#e9f1f9 102px,#e5eef8 105px,#e0ebf7 108px,#dbe7f6 111px,#d5e3f4 114px,#cedff3 117px,#c8dbf1 120px,#c2d6f0 123px,#bdd2ee 126px,#b8cfed 129px,#b3ccec 132px,#b0caeb 135px,#aec8ea 138px,#adc8ea 141px,#aec9eb 144px,#b2cbeb 147px,#b7ceed 150px,#bdd2ee 153px,#c3d7f0 156px,#cadcf2 159px,#d1e1f3 162px,#d8e5f5 165px,#dde9f6 168px,#e1ebf7 171px,#e3edf8 174px,#e3edf8 177px,#e1ecf7 180px,#dfeaf7 183px,#dbe7f6 186px,#d7e5f5 189px,#d4e2f4 192px,#d0e0f3 195px,#cddef2 198px,#cadcf2 201px,#c8daf1 204px,#c5d8f0 207px,#c3d7f0 210px,#c2d6ef 213px,#c2d6ef 216px,#c4d7f0 219px,#c7d9f1 222px,#ccddf2 225px,#d2e1f3 228px,#d9e6f5 231px,#e0ebf7 234px,#e7eff9 237px,#edf3fa 240px,#eff5fb 241px)"></div>
<div style="left:47px;top:123px;width:241px;height:1px;background:linear-gradient(90deg,#ffffff 0px,#ffffff 3px,#ffffff 6px,#ffffff 9px,#ffffff 12px,#ffffff 15px,#ffffff 18px,#ffffff 21px,#ffffff 24px,#ffffff 27px,#ffffff 30px,#ffffff 33px,#feffff 36px,#feffff 39px,#fefeff 42px,#fefeff 45px,#fefeff 48px,#fefeff 51px,#fdfeff 54px,#fdfeff 57px,#fdfefe 60px,#fdfdfe 63px,#fcfdfe 66px,#fcfdfe 69px,#fbfdfe 72px,#fbfcfe 75px,#fafcfe 78px,#fafcfe 81px,#f9fbfd 84px,#f8fafd 87px,#f7fafd 90px,#f5f9fc 93px,#f3f7fc 96px,#f1f6fb 99px,#eef4fb 102px,#ebf2fa 105px,#e7eff9 108px,#e3edf8 111px,#dee9f7 114px,#d9e6f5 117px,#d4e3f4 120px,#cfdff3 123px,#cbdcf2 126px,#c7d9f1 129px,#c3d7f0 132px,#c1d5ef 135px,#c0d4ef 138px,#bfd4ef 141px,#c0d5ef 144px,#c2d6f0 147px,#c6d9f1 150px,#cbdcf2 153px,#d0e0f3 156px,#d6e4f4 159px,#dbe8f6 162px,#e0ebf7 165px,#e4eef8 168px,#e7f0f9 171px,#e9f0f9 174px,#e9f0f9 177px,#e7eff9 180px,#e5eef8 183px,#e2ecf7 186px,#dfeaf7 189px,#dce8f6 192px,#d9e6f5 195px,#d6e4f5 198px,#d4e3f4 201px,#d2e1f3 204px,#d0e0f3 207px,#cedff3 210px,#cddef2 213px,#cddef2 216px,#cfdff3 219px,#d1e1f3 222px,#d6e4f4 225px,#dbe7f6 228px,#e1ebf7 231px,#e7eff9 234px,#ecf3fa 237px,#f1f6fb 240px,#f2f7fc 241px)"></div>
<div style="left:47px;top:124px;width:241px;height:1px;background:linear-gradient(90deg,#ffffff 0px,#ffffff 3px,#ffffff 6px,#ffffff 9px,#ffffff 12px,#ffffff 15px,#ffffff 18px,#ffffff 21px,#ffffff 24px,#ffffff 27px,#ffffff 30px,#ffffff 33px,#ffffff 36px,#ffffff 39px,#feffff 42px,#feffff 45px,#fefeff 48px,#fefeff 51px,#fefeff 54px,#fefeff 57px,#fdfeff 60px,#fdfeff 63px,#fdfefe 66px,#fdfdfe 69px,#fcfdfe 72px,#fcfdfe 75px,#fbfdfe 78px,#fbfcfe 81px,#fafcfe 84px,#fafbfe 87px,#f9fbfd 90px,#f7fafd 93px,#f6f9fd 96px,#f4f8fc 99px,#f2f7fc 102px,#f0f5fb 105px,#edf3fa 108px,#eaf1f9 111px,#e6eff8 114px,#e2ecf8 117px,#dee9f7 120px,#dae7f6 123px,#d7e4f5 126px,#d3e2f4 129px,#d1e0f3 132px,#cfdff3 135px,#cedef2 138px,#cddef2 141px,#cedff3 144px,#d0e0f3 147px,#d3e2f4 150px,#d7e4f5 153px,#dbe7f6 156px,#dfeaf7 159px,#e4edf8 162px,#e8f0f9 165px,#ebf2fa 168px,#edf3fa 171px,#edf4fa 174px,#edf3fa 177px,#ecf3fa 180px,#eaf1fa 183px,#e8f0f9 186px,#e5eef8 189px,#e3ecf8 192px,#e1ebf7 195px,#dfeaf7 198px,#dde8f6 201px,#dbe7f6 204px,#d9e6f5 207px,#d8e5f5 210px,#d8e5f5 213px,#d8e5f5 216px,#d9e6f5 219px,#dbe7f6 222px,#deeaf7 225px,#e2ecf8 228px,#e7eff9 231px,#ecf2fa 234px,#f0f5fb 237px,#f4f8fc 240px,#f5f8fc 241px)"></div>
<div style="left:47px;top:125px;width:241px;height:1px;background:linear-gradient(90deg,#ffffff 0px,#ffffff 3px,#ffffff 6px,#ffffff 9px,#ffffff 12px,#ffffff 15px,#ffffff 18px,#ffffff 21px,#ffffff 24px,#ffffff 27px,#ffffff 30px,#ffffff 33px,#ffffff 36px,#ffffff 39px,#ffffff 42px,#feffff 45px,#feffff 48px,#fefeff 51px,#fefeff 54px,#fefeff 57px,#fefeff 60px,#fefeff 63px,#fdfeff 66px,#fdfeff 69px,#fdfefe 72px,#fdfdfe 75px,#fcfdfe 78px,#fcfdfe 81px,#fbfdfe 84px,#fbfcfe 87px,#fafcfe 90px,#f9fbfe 93px,#f8fbfd 96px,#f7fafd 99px,#f5f9fc 102px,#f3f7fc 105px,#f1f6fb 108px,#eff4fb 111px,#ecf3fa 114px,#e9f1f9 117px,#e6eff9 120px,#e3edf8 123px,#e1ebf7 126px,#dee9f7 129px,#dce8f6 132px,#dbe7f6 135px,#dae6f5 138px,#d9e6f5 141px,#dae7f6 144px,#dbe8f6 147px,#dee9f6 150px,#e1ebf7 153px,#e4edf8 156px,#e7eff9 159px,#eaf2fa 162px,#edf3fa 165px,#eff5fb 168px,#f1f6fb 171px,#f1f6fb 174px,#f1f6fb 177px,#f0f5fb 180px,#eef4fb 183px,#edf3fa 186px,#ebf2fa 189px,#e9f0f9 192px,#e7eff9 195px,#e6eef8 198px,#e4edf8 201px,#e3edf8 204px,#e2ecf7 207px,#e1ebf7 210px,#e0ebf7 213px,#e0ebf7 216px,#e1ebf7 219px,#e3edf8 222px,#e6eef8 225px,#e9f1f9 228px,#ecf3fa 231px,#f0f5fb 234px,#f3f7fc 237px,#f6f9fd 240px,#f7fafd 241px)"></div>
<div style="left:47px;top:126px;width:241px;height:1px;background:linear-gradient(90deg,#ffffff 0px,#ffffff 3px,#ffffff 6px,#ffffff 9px,#ffffff 12px,#ffffff 15px,#ffffff 18px,#ffffff 21px,#ffffff 24px,#ffffff 27px,#ffffff 30px,#ffffff 33px,#ffffff 36px,#ffffff 39px,#ffffff 42px,#ffffff 45px,#ffffff 48px,#feffff 51px,#feffff 54px,#fefeff 57px,#fefeff 60px,#fefeff 63px,#fefeff 66px,#fefeff 69px,#fdfeff 72px,#fdfeff 75px,#fdfefe 78px,#fdfefe 81px,#fcfdfe 84px,#fcfdfe 87px,#fbfdfe 90px,#fbfcfe 93px,#fafcfe 96px,#f9fbfd 99px,#f8fafd 102px,#f6f9fd 105px,#f5f8fc 108px,#f3f7fc 111px,#f1f6fb 114px,#eff4fb 117px,#edf3fa 120px,#ebf2fa 123px,#e9f0f9 126px,#e7eff9 129px,#e5eef8 132px,#e4edf8 135px,#e3edf8 138px,#e3edf8 141px,#e4edf8 144px,#e5eef8 147px,#e6eff9 150px,#e8f0f9 153px,#ebf2fa 156px,#edf3fa 159px,#f0f5fb 162px,#f2f6fc 165px,#f3f7fc 168px,#f4f8fc 171px,#f5f8fc 174px,#f4f8fc 177px,#f3f7fc 180px,#f2f7fc 183px,#f1f6fb 186px,#eff5fb 189px,#eef4fa 192px,#ecf3fa 195px,#ebf2fa 198px,#eaf1fa 201px,#e9f1f9 204px,#e8f0f9 207px,#e8f0f9 210px,#e7f0f9 213px,#e7f0f9 216px,#e8f0f9 219px,#e9f1f9 222px,#ebf2fa 225px,#eef4fb 228px,#f0f6fb 231px,#f3f7fc 234px,#f6f9fd 237px,#f8fafd 240px,#f9fbfd 241px)"></div>
<div style="left:47px;top:127px;width:241px;height:1px;background:linear-gradient(90deg,#ffffff 0px,#ffffff 3px,#ffffff 6px,#ffffff 9px,#ffffff 12px,#ffffff 15px,#ffffff 18px,#ffffff 21px,#ffffff 24px,#ffffff 27px,#ffffff 30px,#ffffff 33px,#ffffff 36px,#ffffff 39px,#ffffff 42px,#ffffff 45px,#ffffff 48px,#ffffff 51px,#ffffff 54px,#feffff 57px,#feffff 60px,#feffff 63px,#fefeff 66px,#fefeff 69px,#fefeff 72px,#fefeff 75px,#fefeff 78px,#fdfeff 81px,#fdfefe 84px,#fdfefe 87px,#fcfdfe 90px,#fcfdfe 93px,#fbfdfe 96px,#fafcfe 99px,#fafbfe 102px,#f9fbfd 105px,#f7fafd 108px,#f6f9fd 111px,#f5f8fc 114px,#f3f7fc 117px,#f1f6fb 120px,#f0f5fb 123px,#eef4fb 126px,#edf3fa 129px,#ecf3fa 132px,#ebf2fa 135px,#ebf2fa 138px,#ebf2fa 141px,#ebf2fa 144px,#ecf2fa 147px,#edf3fa 150px,#eef4fb 153px,#f0f5fb 156px,#f2f6fc 159px,#f4f8fc 162px,#f5f9fc 165px,#f6f9fd 168px,#f7fafd 171px,#f7fafd 174px,#f7fafd 177px,#f6f9fd 180px,#f5f9fc 183px,#f4f8fc 186px,#f3f7fc 189px,#f2f6fc 192px,#f1f6fb 195px,#f0f5fb 198px,#eff5fb 201px,#eef4fb 204px,#eef4fa 207px,#edf3fa 210px,#edf3fa 213px,#edf3fa 216px,#edf4fa 219px,#eef4fb 222px,#f0f5fb 225px,#f2f6fc 228px,#f4f8fc 231px,#f6f9fd 234px,#f8fafd 237px,#fafcfe 240px,#fafcfe 241px)"></div>
<div style="left:47px;top:128px;width:241px;height:1px;background:linear-gradient(90deg,#ffffff 0px,#ffffff 3px,#ffffff 6px,#ffffff 9px,#ffffff 12px,#ffffff 15px,#ffffff 18px,#ffffff 21px,#ffffff 24px,#ffffff 27px,#ffffff 30px,#ffffff 33px,#ffffff 36px,#ffffff 39px,#ffffff 42px,#ffffff 45px,#ffffff 48px,#ffffff 51px,#ffffff 54px,#ffffff 57px,#ffffff 60px,#feffff 63px,#feffff 66px,#feffff 69px,#fefeff 72px,#fefeff 75px,#fefeff 78px,#fefeff 81px,#fefeff 84px,#fdfeff 87px,#fdfefe 90px,#fdfefe 93px,#fcfdfe 96px,#fcfdfe 99px,#fbfcfe 102px,#fafcfe 105px,#f9fbfe 108px,#f8fbfd 111px,#f7fafd 114px,#f6f9fd 117px,#f5f9fc 120px,#f4f8fc 123px,#f3f7fc 126px,#f2f7fc 129px,#f1f6fb 132px,#f1f6fb 135px,#f0f5fb 138px,#f0f5fb 141px,#f0f5fb 144px,#f1f6fb 147px,#f2f6fc 150px,#f3f7fc 153px,#f4f8fc 156px,#f5f9fd 159px,#f7fafd 162px,#f8fafd 165px,#f9fbfd 168px,#f9fbfd 171px,#f9fbfe 174px,#f9fbfd 177px,#f8fbfd 180px,#f8fafd 183px,#f7fafd 186px,#f6f9fd 189px,#f5f8fc 192px,#f4f8fc 195px,#f4f8fc 198px,#f3f7fc 201px,#f2f7fc 204px,#f2f6fc 207px,#f1f6fb 210px,#f1f6fb 213px,#f1f6fb 216px,#f2f6fc 219px,#f2f7fc 222px,#f4f8fc 225px,#f5f8fc 228px,#f7f9fd 231px,#f8fbfd 234px,#fafcfe 237px,#fbfcfe 240px,#fbfdfe 241px)"></div>
<div style="left:47px;top:129px;width:241px;height:1px;background:linear-gradient(90deg,#ffffff 0px,#ffffff 3px,#ffffff 6px,#ffffff 9px,#ffffff 12px,#ffffff 15px,#ffffff 18px,#ffffff 21px,#ffffff 24px,#ffffff 27px,#ffffff 30px,#ffffff 33px,#ffffff 36px,#ffffff 39px,#ffffff 42px,#ffffff 45px,#ffffff 48px,#ffffff 51px,#ffffff 54px,#ffffff 57px,#ffffff 60px,#ffffff 63px,#ffffff 66px,#feffff 69px,#feffff 72px,#feffff 75px,#feffff 78px,#fefeff 81px,#fefeff 84px,#fefeff 87px,#fefeff 90px,#fdfeff 93px,#fdfefe 96px,#fdfdfe 99px,#fcfdfe 102px,#fcfdfe 105px,#fbfcfe 108px,#fafcfe 111px,#fafbfe 114px,#f9fbfd 117px,#f8fafd 120px,#f7fafd 123px,#f6f9fd 126px,#f6f9fd 129px,#f5f9fc 132px,#f5f8fc 135px,#f4f8fc 138px,#f4f8fc 141px,#f5f8fc 144px,#f5f8fc 147px,#f6f9fd 150px,#f6f9fd 153px,#f7fafd 156px,#f8fbfd 159px,#f9fbfd 162px,#fafcfe 165px,#fafcfe 168px,#fbfcfe 171px,#fbfcfe 174px,#fbfcfe 177px,#fafcfe 180px,#fafcfe 183px,#f9fbfd 186px,#f8fbfd 189px,#f8fafd 192px,#f7fafd 195px,#f7f9fd 198px,#f6f9fd 201px,#f6f9fd 204px,#f5f9fc 207px,#f5f8fc 210px,#f5f8fc 213px,#f5f8fc 216px,#f5f9fc 219px,#f6f9fd 222px,#f6f9fd 225px,#f8fafd 228px,#f9fbfd 231px,#fafcfe 234px,#fbfcfe 237px,#fcfdfe 240px,#fcfdfe 241px)"></div>
<div style="left:47px;top:130px;width:241px;height:1px;background:linear-gradient(90deg,#ffffff 0px,#ffffff 3px,#ffffff 6px,#ffffff 9px,#ffffff 12px,#ffffff 15px,#ffffff 18px,#ffffff 21px,#ffffff 24px,#ffffff 27px,#ffffff 30px,#ffffff 33px,#ffffff 36px,#ffffff 39px,#ffffff 42px,#ffffff 45px,#ffffff 48px,#ffffff 51px,#ffffff 54px,#ffffff 57px,#ffffff 60px,#ffffff 63px,#ffffff 66px,#ffffff 69px,#ffffff 72px,#ffffff 75px,#feffff 78px,#feffff 81px,#feffff 84px,#fefeff 87px,#fefeff 90px,#fefeff 93px,#fefeff 96px,#fdfeff 99px,#fdfefe 102px,#fdfdfe 105px,#fcfdfe 108px,#fcfdfe 111px,#fbfdfe 114px,#fbfcfe 117px,#fafcfe 120px,#f9fbfe 123px,#f9fbfd 126px,#f8fbfd 129px,#f8fafd 132px,#f8fafd 135px,#f8fafd 138px,#f8fafd 141px,#f8fafd 144px,#f8fafd 147px,#f8fbfd 150px,#f9fbfd 153px,#fafbfe 156px,#fafcfe 159px,#fbfcfe 162px,#fbfdfe 165px,#fcfdfe 168px,#fcfdfe 171px,#fcfdfe 174px,#fcfdfe 177px,#fcfdfe 180px,#fbfcfe 183px,#fbfcfe 186px,#fafcfe 189px,#fafbfe 192px,#f9fbfd 195px,#f9fbfd 198px,#f8fbfd 201px,#f8fbfd 204px,#f8fafd 207px,#f8fafd 210px,#f7fafd 213px,#f7fafd 216px,#f8fafd 219px,#f8fafd 222px,#f9fbfd 225px,#f9fbfe 228px,#fafcfe 231px,#fbfdfe 234px,#fcfdfe 237px,#fdfefe 240px,#fdfefe 241px)"></div>
<div style="left:47px;top:131px;width:241px;height:1px;background:linear-gradient(90deg,#ffffff 0px,#ffffff 3px,#ffffff 6px,#ffffff 9px,#ffffff 12px,#ffffff 15px,#ffffff 18px,#ffffff 21px,#ffffff 24px,#ffffff 27px,#ffffff 30px,#ffffff 33px,#ffffff 36px,#ffffff 39px,#ffffff 42px,#ffffff 45px,#ffffff 48px,#ffffff 51px,#ffffff 54px,#ffffff 57px,#ffffff 60px,#ffffff 63px,#ffffff 66px,#ffffff 69px,#ffffff 72px,#ffffff 75px,#ffffff 78px,#ffffff 81px,#ffffff 84px,#feffff 87px,#feffff 90px,#fefeff 93px,#fefeff 96px,#fefeff 99px,#fefeff 102px,#fdfeff 105px,#fdfefe 108px,#fdfefe 111px,#fcfdfe 114px,#fcfdfe 117px,#fcfdfe 120px,#fbfcfe 123px,#fbfcfe 126px,#fafcfe 129px,#fafcfe 132px,#fafcfe 135px,#fafcfe 138px,#fafcfe 141px,#fafcfe 144px,#fafcfe 147px,#fafcfe 150px,#fbfcfe 153px,#fbfdfe 156px,#fcfdfe 159px,#fcfdfe 162px,#fcfdfe 165px,#fdfefe 168px,#fdfefe 171px,#fdfefe 174px,#fdfefe 177px,#fdfdfe 180px,#fcfdfe 183px,#fcfdfe 186px,#fcfdfe 189px,#fbfcfe 192px,#fbfcfe 195px,#fbfcfe 198px,#fafcfe 201px,#fafcfe 204px,#fafcfe 207px,#fafbfe 210px,#f9fbfe 213px,#f9fbfe 216px,#fafbfe 219px,#fafcfe 222px,#fafcfe 225px,#fbfcfe 228px,#fcfdfe 231px,#fcfdfe 234px,#fdfefe 237px,#fdfeff 240px,#fefeff 241px)"></div>
<div style="left:47px;top:132px;width:241px;height:1px;background:linear-gradient(90deg,#ffffff 0px,#ffffff 3px,#ffffff 6px,#ffffff 9px,#ffffff 12px,#ffffff 15px,#ffffff 18px,#ffffff 21px,#ffffff 24px,#ffffff 27px,#ffffff 30px,#ffffff 33px,#ffffff 36px,#ffffff 39px,#ffffff 42px,#ffffff 45px,#ffffff 48px,#ffffff 51px,#ffffff 54px,#ffffff 57px,#ffffff 60px,#ffffff 63px,#ffffff 66px,#ffffff 69px,#ffffff 72px,#ffffff 75px,#ffffff 78px,#ffffff 81px,#ffffff 84px,#ffffff 87px,#ffffff 90px,#feffff 93px,#feffff 96px,#fefeff 99px,#fefeff 102px,#fefeff 105px,#fefeff 108px,#fdfeff 111px,#fdfeff 114px,#fdfefe 117px,#fdfdfe 120px,#fcfdfe 123px,#fcfdfe 126px,#fcfdfe 129px,#fcfdfe 132px,#fcfdfe 135px,#fbfdfe 138px,#fbfdfe 141px,#fbfdfe 144px,#fcfdfe 147px,#fcfdfe 150px,#fcfdfe 153px,#fcfdfe 156px,#fdfdfe 159px,#fdfefe 162px,#fdfeff 165px,#fdfeff 168px,#fefeff 171px,#fefeff 174px,#fdfeff 177px,#fdfeff 180px,#fdfeff 183px,#fdfefe 186px,#fdfdfe 189px,#fcfdfe 192px,#fcfdfe 195px,#fcfdfe 198px,#fcfdfe 201px,#fbfdfe 204px,#fbfdfe 207px,#fbfcfe 210px,#fbfcfe 213px,#fbfcfe 216px,#fbfcfe 219px,#fbfdfe 222px,#fcfdfe 225px,#fcfdfe 228px,#fdfdfe 231px,#fdfefe 234px,#fdfeff 237px,#fefeff 240px,#fefeff 241px)"></div>
<div style="left:47px;top:133px;width:241px;height:1px;background:linear-gradient(90deg,#ffffff 0px,#ffffff 3px,#ffffff 6px,#ffffff 9px,#ffffff 12px,#ffffff 15px,#ffffff 18px,#ffffff 21px,#ffffff 24px,#ffffff 27px,#ffffff 30px,#ffffff 33px,#ffffff 36px,#ffffff 39px,#ffffff 42px,#ffffff 45px,#ffffff 48px,#ffffff 51px,#ffffff 54px,#ffffff 57px,#ffffff 60px,#ffffff 63px,#ffffff 66px,#ffffff 69px,#ffffff 72px,#ffffff 75px,#ffffff 78px,#ffffff 81px,#ffffff 84px,#ffffff 87px,#ffffff 90px,#ffffff 93px,#ffffff 96px,#feffff 99px,#feffff 102px,#feffff 105px,#fefeff 108px,#fefeff 111px,#fefeff 114px,#fefeff 117px,#fdfeff 120px,#fdfeff 123px,#fdfefe 126px,#fdfefe 129px,#fdfefe 132px,#fdfdfe 135px,#fdfdfe 138px,#fdfdfe 141px,#fdfdfe 144px,#fdfefe 147px,#fdfefe 150px,#fdfefe 153px,#fdfeff 156px,#fdfeff 159px,#fefeff 162px,#fefeff 165px,#fefeff 168px,#fefeff 171px,#fefeff 174px,#fefeff 177px,#fefeff 180px,#fefeff 183px,#fefeff 186px,#fdfeff 189px,#fdfeff 192px,#fdfefe 195px,#fdfefe 198px,#fdfdfe 201px,#fcfdfe 204px,#fcfdfe 207px,#fcfdfe 210px,#fcfdfe 213px,#fcfdfe 216px,#fcfdfe 219px,#fcfdfe 222px,#fdfdfe 225px,#fdfefe 228px,#fdfeff 231px,#fefeff 234px,#fefeff 237px,#fefeff 240px,#feffff 241px)"></div>
<div style="left:47px;top:134px;width:241px;height:1px;background:linear-gradient(90deg,#ffffff 0px,#ffffff 3px,#ffffff 6px,#ffffff 9px,#ffffff 12px,#ffffff 15px,#ffffff 18px,#ffffff 21px,#ffffff 24px,#ffffff 27px,#ffffff 30px,#ffffff 33px,#ffffff 36px,#ffffff 39px,#ffffff 42px,#ffffff 45px,#ffffff 48px,#ffffff 51px,#ffffff 54px,#ffffff 57px,#ffffff 60px,#ffffff 63px,#ffffff 66px,#ffffff 69px,#ffffff 72px,#ffffff 75px,#ffffff 78px,#ffffff 81px,#ffffff 84px,#ffffff 87px,#ffffff 90px,#ffffff 93px,#ffffff 96px,#ffffff 99px,#ffffff 102px,#feffff 105px,#feffff 108px,#feffff 111px,#fefeff 114px,#fefeff 117px,#fefeff 120px,#fefeff 123px,#fefeff 126px,#fefeff 129px,#fefeff 132px,#fdfeff 135px,#fdfeff 138px,#fdfeff 141px,#fdfeff 144px,#fdfeff 147px,#fefeff 150px,#fefeff 153px,#fefeff 156px,#fefeff 159px,#fefeff 162px,#fefeff 165px,#feffff 168px,#feffff 171px,#feffff 174px,#feffff 177px,#fefeff 180px,#fefeff 183px,#fefeff 186px,#fefeff 189px,#fefeff 192px,#fefeff 195px,#fdfeff 198px,#fdfeff 201px,#fdfeff 204px,#fdfeff 207px,#fdfefe 210px,#fdfefe 213px,#fdfefe 216px,#fdfefe 219px,#fdfeff 222px,#fdfeff 225px,#fefeff 228px,#fefeff 231px,#fefeff 234px,#fefeff 237px,#feffff 240px,#feffff 241px)"></div>
<div style="left:47px;top:135px;width:241px;height:1px;background:linear-gradient(90deg,#ffffff 0px,#ffffff 3px,#ffffff 6px,#ffffff 9px,#ffffff 12px,#ffffff 15px,#ffffff 18px,#ffffff 21px,#ffffff 24px,#ffffff 27px,#ffffff 30px,#ffffff 33px,#ffffff 36px,#ffffff 39px,#ffffff 42px,#ffffff 45px,#ffffff 48px,#ffffff 51px,#ffffff 54px,#ffffff 57px,#ffffff 60px,#ffffff 63px,#ffffff 66px,#ffffff 69px,#ffffff 72px,#ffffff 75px,#ffffff 78px,#ffffff 81px,#ffffff 84px,#ffffff 87px,#ffffff 90px,#ffffff 93px,#ffffff 96px,#ffffff 99px,#ffffff 102px,#ffffff 105px,#ffffff 108px,#ffffff 111px,#feffff 114px,#feffff 117px,#feffff 120px,#fefeff 123px,#fefeff 126px,#fefeff 129px,#fefeff 132px,#fefeff 135px,#fefeff 138px,#fefeff 141px,#fefeff 144px,#fefeff 147px,#fefeff 150px,#fefeff 153px,#fefeff 156px,#feffff 159px,#feffff 162px,#feffff 165px,#ffffff 168px,#ffffff 171px,#ffffff 174px,#ffffff 177px,#feffff 180px,#feffff 183px,#feffff 186px,#feffff 189px,#fefeff 192px,#fefeff 195px,#fefeff 198px,#fefeff 201px,#fefeff 204px,#fefeff 207px,#fefeff 210px,#fefeff 213px,#fefeff 216px,#fefeff 219px,#fefeff 222px,#fefeff 225px,#fefeff 228px,#fefeff 231px,#feffff 234px,#feffff 237px,#ffffff 240px,#ffffff 241px)"></div>
<div style="left:47px;top:136px;width:241px;height:1px;background:linear-gradient(90deg,#ffffff 0px,#ffffff 3px,#ffffff 6px,#ffffff 9px,#ffffff 12px,#ffffff 15px,#ffffff 18px,#ffffff 21px,#ffffff 24px,#ffffff 27px,#ffffff 30px,#ffffff 33px,#ffffff 36px,#ffffff 39px,#ffffff 42px,#ffffff 45px,#ffffff 48px,#ffffff 51px,#ffffff 54px,#ffffff 57px,#ffffff 60px,#ffffff 63px,#ffffff 66px,#ffffff 69px,#ffffff 72px,#ffffff 75px,#ffffff 78px,#ffffff 81px,#ffffff 84px,#ffffff 87px,#ffffff 90px,#ffffff 93px,#ffffff 96px,#ffffff 99px,#ffffff 102px,#ffffff 105px,#ffffff 108px,#ffffff 111px,#ffffff 114px,#ffffff 117px,#ffffff 120px,#feffff 123px,#feffff 126px,#feffff 129px,#feffff 132px,#feffff 135px,#feffff 138px,#feffff 141px,#feffff 144px,#feffff 147px,#feffff 150px,#feffff 153px,#ffffff 156px,#ffffff 159px,#ffffff 162px,#ffffff 165px,#ffffff 168px,#ffffff 171px,#ffffff 174px,#ffffff 177px,#ffffff 180px,#ffffff 183px,#ffffff 186px,#ffffff 189px,#feffff 192px,#feffff 195px,#feffff 198px,#feffff 201px,#fefeff 204px,#fefeff 207px,#fefeff 210px,#fefeff 213px,#fefeff 216px,#fefeff 219px,#fefeff 222px,#fefeff 225px,#feffff 228px,#feffff 231px,#ffffff 234px,#ffffff 237px,#ffffff 240px,#ffffff 241px)"></div>
<div style="left:47px;top:137px;width:241px;height:1px;background:linear-gradient(90deg,#ffffff 0px,#ffffff 3px,#ffffff 6px,#ffffff 9px,#ffffff 12px,#ffffff 15px,#ffffff 18px,#ffffff 21px,#ffffff 24px,#ffffff 27px,#ffffff 30px,#ffffff 33px,#ffffff 36px,#ffffff 39px,#ffffff 42px,#ffffff 45px,#ffffff 48px,#ffffff 51px,#ffffff 54px,#ffffff 57px,#ffffff 60px,#ffffff 63px,#ffffff 66px,#ffffff 69px,#ffffff 72px,#ffffff 75px,#ffffff 78px,#ffffff 81px,#ffffff 84px,#ffffff 87px,#ffffff 90px,#ffffff 93px,#ffffff 96px,#ffffff 99px,#ffffff 102px,#ffffff 105px,#ffffff 108px,#ffffff 111px,#ffffff 114px,#ffffff 117px,#ffffff 120px,#ffffff 123px,#ffffff 126px,#ffffff 129px,#ffffff 132px,#ffffff 135px,#ffffff 138px,#ffffff 141px,#ffffff 144px,#ffffff 147px,#ffffff 150px,#ffffff 153px,#ffffff 156px,#ffffff 159px,#ffffff 162px,#ffffff 165px,#ffffff 168px,#ffffff 171px,#ffffff 174px,#ffffff 177px,#ffffff 180px,#ffffff 183px,#ffffff 186px,#ffffff 189px,#ffffff 192px,#ffffff 195px,#ffffff 198px,#feffff 201px,#feffff 204px,#feffff 207px,#feffff 210px,#feffff 213px,#feffff 216px,#feffff 219px,#feffff 222px,#feffff 225px,#ffffff 228px,#ffffff 231px,#ffffff 234px,#ffffff 237px,#ffffff 240px,#ffffff 241px)"></div>
<div style="left:47px;top:138px;width:241px;height:1px;background:#ffffff"></div>
<div style="left:47px;top:139px;width:241px;height:1px;background:#ffffff"></div>
<div style="left:47px;top:140px;width:241px;height:1px;background:#ffffff"></div>
<div style="left:47px;top:141px;width:241px;height:1px;background:#ffffff"></div>
<div style="left:47px;top:142px;width:241px;height:1px;background:#ffffff"></div>
<div style="left:47px;top:143px;width:241px;height:1px;background:#ffffff"></div>
<div style="left:47px;top:144px;width:241px;height:1px;background:#ffffff"></div>
<div style="left:47px;top:145px;width:241px;height:1px;background:#ffffff"></div>
<div style="left:47px;top:146px;width:241px;height:1px;background:#ffffff"></div>
<div style="left:47px;top:147px;width:241px;height:1px;background:#ffffff"></div>
<div style="left:47px;top:148px;width:241px;height:1px;background:#ffffff"></div>
<div style="left:47px;top:149px;width:241px;height:1px;background:#ffffff"></div>
<div style="left:47px;top:150px;width:241px;height:1px;background:#ffffff"></div>
<div style="left:47px;top:151px;width:241px;height:1px;background:#ffffff"></div>
<div style="left:47px;top:152px;width:241px;height:1px;background:#ffffff"></div>
<div style="left:47px;top:153px;width:241px;height:1px;background:#ffffff"></div>
<div style="left:47px;top:154px;width:241px;height:1px;background:#ffffff"></div>
<div style="left:47px;top:155px;width:241px;height:1px;background:#ffffff"></div>
<div style="left:47px;top:156px;width:241px;height:1px;background:#ffffff"></div>
<div style="left:47px;top:157px;width:241px;height:1px;background:#ffffff"></div>
<div style="left:47px;top:158px;width:241px;height:1px;background:#ffffff"></div>
<div style="left:47px;top:183px;width:241px;height:1px;background:linear-gradient(90deg,#4888d0 0px,#4889d0 3px,#4a8ad1 6px,#4c8bd1 9px,#4d8cd1 12px,#4d8cd2 15px,#4d8bd1 18px,#4c8bd1 21px,#4b8ad1 24px,#4a89d1 27px,#4889d0 30px,#4788d0 33px,#4587cf 36px,#4486cf 39px,#4385cf 42px,#4384ce 45px,#4284ce 48px,#4283ce 51px,#4283cd 54px,#4183cd 57px,#4183cd 60px,#4183cd 63px,#4182cd 66px,#4081cd 69px,#3e7fcb 72px,#3c7cca 75px,#3c7cca 78px,#3f7fcc 81px,#4283ce 84px,#4687cf 87px,#4c8bd1 90px,#538fd3 93px,#5892d4 96px,#5c95d6 99px,#6097d6 102px,#6399d7 105px,#659bd8 108px,#679cd8 111px,#689dd9 114px,#649ad8 117px,#5c95d5 120px,#528ed3 123px,#4788d0 126px,#4283ce 129px,#3f80cc 132px,#3c7cca 135px,#3e7ac8 138px,#4078c5 141px,#4276c3 144px,#4375c1 147px,#4673be 150px,#4a71ba 153px,#4d6fb7 156px,#506eb4 159px,#526cb2 162px,#526cb2 165px,#526cb2 168px,#516db3 171px,#516db3 174px,#506db4 177px,#506db4 180px,#4f6eb5 183px,#4f6eb5 186px,#4e6eb6 189px,#4e6fb6 192px,#4e6eb6 195px,#4f6eb5 198px,#516db3 201px,#526cb2 204px,#546bb0 207px,#566aae 210px,#5869ad 213px,#5a68ab 216px,#5d66a8 219px,#6263a4 222px,#695f9f 225px,#725d96 228px,#7e5c8c 231px,#8c5a82 234px,#95587c 237px,#94587d 240px,#91597f 241px)"></div>
<div style="left:47px;top:184px;width:241px;height:1px;background:linear-gradient(90deg,#518ed2 0px,#528fd3 3px,#5490d3 6px,#5691d4 9px,#5792d4 12px,#5792d4 15px,#5691d4 18px,#5490d3 21px,#528fd3 24px,#518ed2 27px,#4f8dd2 30px,#4c8bd1 33px,#4a8ad1 36px,#4889d0 39px,#4687d0 42px,#4486cf 45px,#4385cf 48px,#4384ce 51px,#4284ce 54px,#4284ce 57px,#4283ce 60px,#4283ce 63px,#4283ce 66px,#4283ce 69px,#4182cd 72px,#4080cc 75px,#4081cc 78px,#4284ce 81px,#4687d0 84px,#4c8bd1 87px,#528ed3 90px,#5691d4 93px,#5b94d5 96px,#5e96d6 99px,#6198d7 102px,#649ad7 105px,#669bd8 108px,#6399d7 111px,#5993d5 114px,#4d8bd1 117px,#4385ce 120px,#3f80cc 123px,#3c7cca 126px,#3f79c6 129px,#4276c2 132px,#4773bd 135px,#4d6fb7 138px,#526cb2 141px,#5869ad 144px,#5c66a9 147px,#6164a5 150px,#6461a3 153px,#685fa0 156px,#6b5e9d 159px,#6d5e9c 162px,#6d5e9b 165px,#6c5e9d 168px,#695e9e 171px,#6760a1 174px,#6362a3 177px,#6064a6 180px,#5d66a8 183px,#5b67aa 186px,#5a68ab 189px,#5968ab 192px,#5a68ab 195px,#5b67aa 198px,#5c66a9 201px,#5e65a7 204px,#6163a5 207px,#6561a2 210px,#695e9f 213px,#6f5e9a 216px,#755d94 219px,#7c5c8e 222px,#845b87 225px,#8d5981 228px,#95587c 231px,#95587c 234px,#895a84 237px,#7a5d90 240px,#765d93 241px)"></div>
<div style="left:47px;top:185px;width:241px;height:1px;background:linear-gradient(90deg,#4e8cd2 0px,#508dd2 3px,#528ed3 6px,#538fd3 9px,#5490d3 12px,#5490d3 15px,#538fd3 18px,#528ed3 21px,#508dd2 24px,#4e8cd2 27px,#4c8bd1 30px,#4a8ad1 33px,#4989d0 36px,#4788d0 39px,#4586cf 42px,#4486cf 45px,#4385ce 48px,#4284ce 51px,#4284ce 54px,#4284ce 57px,#4284ce 60px,#4284ce 63px,#4384ce 66px,#4384ce 69px,#4384ce 72px,#4284ce 75px,#4385ce 78px,#4788d0 81px,#4c8bd1 84px,#518ed2 87px,#5590d4 90px,#5993d5 93px,#5c95d5 96px,#5f96d6 99px,#6198d7 102px,#6198d7 105px,#5892d4 108px,#4b8ad1 111px,#4283ce 114px,#3e7ecb 117px,#3e7ac7 120px,#4276c2 123px,#4971bb 126px,#516db3 129px,#5a68ab 132px,#6263a5 135px,#695f9f 138px,#705d98 141px,#775d92 144px,#7d5c8d 147px,#825c88 150px,#885a85 153px,#8d5982 156px,#90597f 159px,#92587e 162px,#92587e 165px,#91597f 168px,#8e5980 171px,#8b5a83 174px,#865b86 177px,#805c8a 180px,#7c5c8d 183px,#795d91 186px,#765d93 189px,#745d95 192px,#745d95 195px,#775d93 198px,#7b5c8e 201px,#805c8a 204px,#865b86 207px,#8c5a82 210px,#91597f 213px,#95587c 216px,#995779 219px,#9b5778 222px,#9b5778 225px,#96587b 228px,#8a5a83 231px,#7b5c8e 234px,#715d98 237px,#6760a0 240px,#6462a3 241px)"></div>
<div style="left:47px;top:186px;width:241px;height:1px;background:linear-gradient(90deg,#4284ce 0px,#4385ce 3px,#4486cf 6px,#4587cf 9px,#4687d0 12px,#4687d0 15px,#4687d0 18px,#4587cf 21px,#4586cf 24px,#4486cf 27px,#4485cf 30px,#4385ce 33px,#4384ce 36px,#4284ce 39px,#4283ce 42px,#4283cd 45px,#4183cd 48px,#4182cd 51px,#4182cd 54px,#4183cd 57px,#4283ce 60px,#4284ce 63px,#4385ce 66px,#4485cf 69px,#4486cf 72px,#4586cf 75px,#4788d0 78px,#4b8ad1 81px,#4f8dd2 84px,#538fd3 87px,#5691d4 90px,#5a93d5 93px,#5c95d6 96px,#5f96d6 99px,#5993d5 102px,#4c8bd1 105px,#4183cd 108px,#3d7dca 111px,#4078c5 114px,#4573bf 117px,#4e6eb6 120px,#566aae 123px,#5d66a8 126px,#6461a3 129px,#6c5e9d 132px,#745d95 135px,#7c5c8d 138px,#875b86 141px,#92587e 144px,#9b5778 147px,#a45573 150px,#aa5470 153px,#af536e 156px,#b3526c 159px,#b4526c 162px,#b5516b 165px,#b5516b 168px,#b4526c 171px,#b3526c 174px,#b1526d 177px,#ae536e 180px,#ab5370 183px,#a95471 186px,#a75472 189px,#a65472 192px,#a85471 195px,#ac536f 198px,#b2526d 201px,#b6516b 204px,#b7516a 207px,#b6516b 210px,#b3526c 213px,#ae536e 216px,#a65472 219px,#9a5778 222px,#8b5a83 225px,#7c5c8e 228px,#715d97 231px,#685fa0 234px,#5f64a7 237px,#576aad 240px,#546bb0 241px)"></div>
<div style="left:47px;top:187px;width:241px;height:1px;background:linear-gradient(90deg,#3d7bc9 0px,#3c7cca 3px,#3d7dca 6px,#3d7dcb 9px,#3d7ecb 12px,#3e7ecb 15px,#3e7fcb 18px,#3e7fcb 21px,#3e7fcc 24px,#3f7fcc 27px,#3f7fcc 30px,#3f7fcc 33px,#3f7fcc 36px,#3f7fcc 39px,#3f7fcc 42px,#3f80cc 45px,#3f80cc 48px,#3f80cc 51px,#4081cc 54px,#4182cd 57px,#4183cd 60px,#4284ce 63px,#4385cf 66px,#4486cf 69px,#4687d0 72px,#4888d0 75px,#4b8ad1 78px,#4e8cd2 81px,#518ed3 84px,#5490d3 87px,#5792d4 90px,#5a93d5 93px,#5993d5 96px,#4f8dd2 99px,#4284ce 102px,#3c7cca 105px,#4078c5 108px,#4872bc 111px,#526cb2 114px,#5869ac 117px,#5b67aa 120px,#5c66a9 123px,#5f65a7 126px,#6362a4 129px,#685fa0 132px,#6e5e9a 135px,#765d93 138px,#7f5c8b 141px,#8b5a82 144px,#98577a 147px,#a45573 150px,#ae536f 153px,#b5516b 156px,#ba5069 159px,#bc5068 162px,#be5067 165px,#c05066 168px,#c15066 171px,#c24f65 174px,#c34f65 177px,#c44f64 180px,#c44f64 183px,#c54f64 186px,#c54f64 189px,#c64f64 192px,#c64f63 195px,#c74f63 198px,#c64f63 201px,#c44f65 204px,#be5067 207px,#b6516b 210px,#a95471 213px,#9b5778 216px,#8b5a83 219px,#7c5c8d 222px,#725d97 225px,#685f9f 228px,#6064a6 231px,#5869ad 234px,#506db4 237px,#4a71ba 240px,#4872bc 241px)"></div>
<div style="left:47px;top:188px;width:241px;height:1px;background:linear-gradient(90deg,#4375c1 0px,#4276c2 3px,#4276c3 6px,#4177c4 9px,#4177c4 12px,#4078c5 15px,#4078c6 18px,#3f79c6 21px,#3e7ac7 24px,#3e7ac7 27px,#3e7ac8 30px,#3d7bc9 33px,#3d7bc9 36px,#3c7cca 39px,#3c7cca 42px,#3d7dca 45px,#3d7dcb 48px,#3e7ecb 51px,#3f7fcc 54px,#4081cc 57px,#4182cd 60px,#4384ce 63px,#4485cf 66px,#4587cf 69px,#4888d0 72px,#4a8ad1 75px,#4d8bd1 78px,#4f8dd2 81px,#528fd3 84px,#5590d3 87px,#5792d4 90px,#518ed3 93px,#4485cf 96px,#3d7dcb 99px,#4078c5 102px,#4872bc 105px,#546bb0 108px,#5c67a9 111px,#5c66a9 114px,#5a68ab 117px,#566aae 120px,#546bb0 123px,#546bb0 126px,#556aaf 129px,#5869ad 132px,#5c67aa 135px,#6164a6 138px,#6660a1 141px,#6d5e9b 144px,#755d94 147px,#7d5c8d 150px,#855b87 153px,#8c5a82 156px,#91597e 159px,#96587c 162px,#9b5778 165px,#a15574 168px,#a85472 171px,#ae536f 174px,#b3526c 177px,#b7516a 180px,#bb5069 183px,#bd5068 186px,#be5067 189px,#be5067 192px,#bd5068 195px,#ba5069 198px,#b5516b 201px,#ac536f 204px,#a15575 207px,#95587c 210px,#875b85 213px,#7b5c8e 216px,#715d98 219px,#685fa0 222px,#5f64a6 225px,#5869ad 228px,#516db3 231px,#4b70b9 234px,#4673be 237px,#4375c1 240px,#4375c1 241px)"></div>
<div style="left:47px;top:189px;width:241px;height:1px;background:linear-gradient(90deg,#4673be 0px,#4574bf 3px,#4474c0 6px,#4375c1 9px,#4375c1 12px,#4276c2 15px,#4276c3 18px,#4177c4 21px,#4078c5 24px,#4078c5 27px,#3f79c6 30px,#3f79c7 33px,#3e7ac7 36px,#3e7ac8 39px,#3d7bc9 42px,#3c7cca 45px,#3c7cca 48px,#3d7dcb 51px,#3e7fcb 54px,#4080cc 57px,#4182cd 60px,#4384ce 63px,#4486cf 66px,#4687cf 69px,#4889d0 72px,#4b8ad1 75px,#4d8cd2 78px,#508dd2 81px,#528fd3 84px,#528fd3 87px,#4788d0 90px,#3f80cc 93px,#3f79c6 96px,#4772bd 99px,#556aaf 102px,#6064a6 105px,#6163a5 108px,#5d66a9 111px,#566aae 114px,#506db4 117px,#4b70b9 120px,#4872bc 123px,#4673be 126px,#4573bf 129px,#4673be 132px,#4872bc 135px,#4b70b9 138px,#506db4 141px,#566aae 144px,#5c66a9 147px,#6263a4 150px,#685fa0 153px,#6c5e9c 156px,#6f5e99 159px,#725d97 162px,#765d94 165px,#7a5d8f 168px,#7f5c8b 171px,#855b87 174px,#8c5a82 177px,#92587e 180px,#97577b 183px,#9b5778 186px,#9d5677 189px,#9e5676 192px,#9c5677 195px,#98577a 198px,#92587e 201px,#885a85 204px,#7d5c8c 207px,#745d95 210px,#6c5e9d 213px,#6462a3 216px,#5d66a8 219px,#566aae 222px,#506db4 225px,#4b70b9 228px,#4673be 231px,#4375c1 234px,#4276c2 237px,#4276c3 240px,#4177c3 241px)"></div>
<div style="left:47px;top:190px;width:241px;height:1px;background:linear-gradient(90deg,#4276c2 0px,#4276c3 3px,#4177c4 6px,#4177c4 9px,#4078c5 12px,#4078c5 15px,#3f79c6 18px,#3f79c7 21px,#3e7ac7 24px,#3e7ac8 27px,#3d7bc8 30px,#3d7bc9 33px,#3d7bc9 36px,#3c7cca 39px,#3c7cca 42px,#3d7dca 45px,#3d7dcb 48px,#3e7ecb 51px,#3f7fcc 54px,#4081cc 57px,#4183cd 60px,#4384ce 63px,#4486cf 66px,#4687d0 69px,#4989d0 72px,#4b8bd1 75px,#4e8cd2 78px,#508dd2 81px,#4a8ad1 84px,#4182cd 87px,#3e7ac8 90px,#4474c0 93px,#536cb1 96px,#6263a4 99px,#685fa0 102px,#6362a3 105px,#5b67aa 108px,#526cb2 111px,#4a71ba 114px,#4474c0 117px,#4078c6 120px,#3d7dca 123px,#4081cc 126px,#4182cd 129px,#4081cd 132px,#3e7fcc 135px,#3c7cca 138px,#3f79c6 141px,#4375c1 144px,#4971bb 147px,#506db4 150px,#556aaf 153px,#5a68ab 156px,#5c66a9 159px,#5d66a8 162px,#5f65a7 165px,#6164a6 168px,#6362a4 171px,#6660a1 174px,#695e9e 177px,#6e5e9b 180px,#725d97 183px,#755d94 186px,#775d92 189px,#785d91 192px,#765d93 195px,#725d96 198px,#6d5e9b 201px,#685fa0 204px,#6362a4 207px,#5e65a7 210px,#5a68ab 213px,#546bb0 216px,#4f6eb5 219px,#4a70ba 222px,#4673be 225px,#4474c1 228px,#4375c2 231px,#4276c3 234px,#4177c4 237px,#3f79c6 240px,#3e7ac7 241px)"></div>
<div style="left:47px;top:191px;width:241px;height:1px;background:linear-gradient(90deg,#3c7dca 0px,#3d7dcb 3px,#3e7ecb 6px,#3e7fcb 9px,#3e7fcb 12px,#3e7fcc 15px,#3f7fcc 18px,#3f7fcc 21px,#3f80cc 24px,#3f80cc 27px,#3f80cc 30px,#3f80cc 33px,#3f7fcc 36px,#3f80cc 39px,#3f80cc 42px,#3f80cc 45px,#3f80cc 48px,#3f80cc 51px,#4081cc 54px,#4182cd 57px,#4283cd 60px,#4384ce 63px,#4486cf 66px,#4687d0 69px,#4989d0 72px,#4b8ad1 75px,#4a89d0 78px,#4284ce 81px,#3c7cca 84px,#4276c2 87px,#4e6eb6 90px,#6064a6 93px,#6d5e9b 96px,#6c5e9c 99px,#6362a4 102px,#566aae 105px,#4c70b8 108px,#4375c1 111px,#3e7ac8 114px,#4283ce 117px,#4f8cd2 120px,#5892d4 123px,#5993d5 126px,#5590d3 129px,#4c8bd1 132px,#4385ce 135px,#3f7fcc 138px,#3e7ac8 141px,#4276c3 144px,#4772bd 147px,#4f6eb5 150px,#556baf 153px,#5a68ab 156px,#5c66a9 159px,#5d66a8 162px,#5f65a7 165px,#6064a6 168px,#6064a6 171px,#6163a5 174px,#6263a5 177px,#6263a4 180px,#6263a4 183px,#6263a4 186px,#6362a4 189px,#6263a4 192px,#6263a5 195px,#6064a6 198px,#5e65a8 201px,#5b67aa 204px,#566aae 207px,#526cb2 210px,#4d6fb7 213px,#4971bb 216px,#4573bf 219px,#4474c1 222px,#4375c2 225px,#4276c3 228px,#4177c4 231px,#3f79c6 234px,#3d7bc9 237px,#3e7fcb 240px,#4081cc 241px)"></div>
<div style="left:47px;top:192px;width:241px;height:1px;background:linear-gradient(90deg,#4587cf 0px,#4788d0 3px,#4889d0 6px,#4989d0 9px,#4a89d0 12px,#4989d0 15px,#4889d0 18px,#4788d0 21px,#4687d0 24px,#4587cf 27px,#4486cf 30px,#4385cf 33px,#4385ce 36px,#4384ce 39px,#4284ce 42px,#4283ce 45px,#4183cd 48px,#4182cd 51px,#4182cd 54px,#4183cd 57px,#4283ce 60px,#4284ce 63px,#4385ce 66px,#4485cf 69px,#4385cf 72px,#4283ce 75px,#3e7ecb 78px,#4078c5 81px,#4971bb 84px,#5b67aa 87px,#6d5e9c 90px,#755d94 93px,#6d5e9b 96px,#6064a6 99px,#516db3 102px,#4573bf 105px,#3e7ac8 108px,#4385ce 111px,#5691d4 114px,#649ad8 117px,#689dd9 120px,#6399d7 123px,#5993d5 126px,#4e8cd2 129px,#4385cf 132px,#3f7fcc 135px,#3e7ac8 138px,#4276c3 141px,#4772bd 144px,#4f6eb5 147px,#556baf 150px,#5a67aa 153px,#5e65a7 156px,#6064a6 159px,#6263a5 162px,#6263a4 165px,#6362a4 168px,#6362a4 171px,#6263a4 174px,#6263a4 177px,#6163a5 180px,#6064a6 183px,#5f64a6 186px,#5e65a7 189px,#5d66a9 192px,#5a67ab 195px,#5769ad 198px,#536cb1 201px,#4f6eb5 204px,#4b70b9 207px,#4872bc 210px,#4573bf 213px,#4474c0 216px,#4375c1 219px,#4276c2 222px,#4177c4 225px,#4078c6 228px,#3d7bc9 231px,#3e7ecb 234px,#4283ce 237px,#4989d0 240px,#4d8cd1 241px)"></div>
<div style="left:47px;top:193px;width:241px;height:1px;background:linear-gradient(90deg,#5590d4 0px,#5691d4 3px,#5892d4 6px,#5993d5 9px,#5993d5 12px,#5892d4 15px,#5691d4 18px,#5490d3 21px,#528fd3 24px,#508dd2 27px,#4e8cd2 30px,#4c8bd1 33px,#4989d0 36px,#4788d0 39px,#4587cf 42px,#4486cf 45px,#4385ce 48px,#4284ce 51px,#4183cd 54px,#4182cd 57px,#4082cd 60px,#4081cc 63px,#4081cc 66px,#3f80cc 69px,#3d7dcb 72px,#3f79c6 75px,#4574bf 78px,#546bb0 81px,#6760a0 84px,#775d92 87px,#785d91 90px,#6c5e9c 93px,#5b67aa 96px,#4b70b9 99px,#4078c5 102px,#4283cd 105px,#5792d4 108px,#699dd9 111px,#6da0da 114px,#679cd8 117px,#5e96d6 120px,#528fd3 123px,#4687d0 126px,#4081cd 129px,#3d7bc9 132px,#4177c4 135px,#4573bf 138px,#4d6fb7 141px,#536bb1 144px,#5968ab 147px,#5f65a7 150px,#6263a4 153px,#6561a2 156px,#6760a0 159px,#695f9f 162px,#6a5e9e 165px,#6b5e9d 168px,#6b5e9d 171px,#6a5e9e 174px,#695f9f 177px,#6760a0 180px,#6561a2 183px,#6163a5 186px,#5d66a8 189px,#5869ac 192px,#536cb1 195px,#4e6eb6 198px,#4b70b9 201px,#4872bc 204px,#4673be 207px,#4474c0 210px,#4375c1 213px,#4276c2 216px,#4276c3 219px,#4078c5 222px,#3e7ac7 225px,#3d7ecb 228px,#4183cd 231px,#4888d0 234px,#538fd3 237px,#5f97d6 240px,#6399d7 241px)"></div>
<div style="left:47px;top:194px;width:241px;height:1px;background:linear-gradient(90deg,#5993d5 0px,#5b94d5 3px,#5c95d6 6px,#5d95d6 9px,#5d95d6 12px,#5c95d5 15px,#5a93d5 18px,#5892d4 21px,#5591d4 24px,#538fd3 27px,#508ed2 30px,#4e8cd2 33px,#4c8bd1 36px,#4989d0 39px,#4788d0 42px,#4486cf 45px,#4384ce 48px,#4183cd 51px,#4081cd 54px,#3f80cc 57px,#3e7ecb 60px,#3c7dca 63px,#3d7bc9 66px,#3f79c6 69px,#4375c1 72px,#4e6fb6 75px,#6064a6 78px,#735d96 81px,#7e5c8c 84px,#785d91 87px,#685fa0 90px,#556baf 93px,#4474c0 96px,#3d7ecb 99px,#518ed3 102px,#699dd9 105px,#71a3db 108px,#6b9fd9 111px,#5f97d6 114px,#528fd3 117px,#4586cf 120px,#3f80cc 123px,#3d7bc8 126px,#4276c3 129px,#4772bd 132px,#4e6eb6 135px,#556baf 138px,#5c67a9 141px,#6263a4 144px,#685fa0 147px,#6e5e9b 150px,#735d96 153px,#785d91 156px,#7d5c8d 159px,#825c89 162px,#855b86 165px,#865b86 168px,#855b87 171px,#805c8a 174px,#7b5c8f 177px,#745d95 180px,#6c5e9c 183px,#6462a3 186px,#5b67aa 189px,#546bb0 192px,#4e6fb6 195px,#4971bb 198px,#4772bd 201px,#4573bf 204px,#4474c0 207px,#4375c1 210px,#4276c2 213px,#4177c4 216px,#4078c6 219px,#3c7cca 222px,#4081cd 225px,#4788d0 228px,#528fd3 231px,#5d96d6 234px,#699dd9 237px,#74a5db 240px,#77a7dc 241px)"></div>
<div style="left:47px;top:195px;width:241px;height:1px;background:linear-gradient(90deg,#518ed3 0px,#528fd3 3px,#5490d3 6px,#5490d3 9px,#5490d3 12px,#538fd3 15px,#528fd3 18px,#508dd2 21px,#4e8cd2 24px,#4c8bd1 27px,#4b8ad1 30px,#4989d0 33px,#4788d0 36px,#4586cf 39px,#4385cf 42px,#4284ce 45px,#4182cd 48px,#3f80cc 51px,#3e7ecb 54px,#3c7cca 57px,#3e7ac8 60px,#4078c5 63px,#4276c2 66px,#4872bc 69px,#5769ad 72px,#6a5e9e 75px,#7b5c8e 78px,#7f5c8b 81px,#755d94 84px,#6362a4 87px,#4f6eb5 90px,#4078c4 93px,#4486cf 96px,#6299d7 99px,#73a4db 102px,#70a2db 105px,#669bd8 108px,#5691d4 111px,#4587cf 114px,#3e7fcb 117px,#3f79c6 120px,#4375c1 123px,#4a71ba 126px,#526cb2 129px,#5a68ab 132px,#6263a4 135px,#6a5e9e 138px,#735d96 141px,#7a5d8f 144px,#825c89 147px,#8a5a83 150px,#93587d 153px,#9b5778 156px,#a25574 159px,#a75472 162px,#a85471 165px,#a45573 168px,#9b5778 171px,#8e5980 174px,#805c8a 177px,#765d94 180px,#6b5e9d 183px,#6263a5 186px,#5869ac 189px,#506eb4 192px,#4a71ba 195px,#4673be 198px,#4474c0 201px,#4375c1 204px,#4375c2 207px,#4276c3 210px,#4177c4 213px,#3e7ac7 216px,#3e7ecb 219px,#4385ce 222px,#508dd2 225px,#5c95d6 228px,#689dd9 231px,#72a4db 234px,#7baadd 237px,#83afdf 240px,#85b0e0 241px)"></div>
<div style="left:47px;top:196px;width:241px;height:1px;background:linear-gradient(90deg,#4284ce 0px,#4385ce 3px,#4385cf 6px,#4385cf 9px,#4385cf 12px,#4385cf 15px,#4385ce 18px,#4385ce 21px,#4384ce 24px,#4284ce 27px,#4283ce 30px,#4283ce 33px,#4182cd 36px,#4081cd 39px,#3f80cc 42px,#3e7fcb 45px,#3d7dcb 48px,#3d7bc9 51px,#3e7ac7 54px,#4078c5 57px,#4276c3 60px,#4574bf 63px,#506eb4 66px,#6164a5 69px,#735d96 72px,#7f5c8b 75px,#7d5c8d 78px,#705d98 81px,#5d66a9 84px,#4971bb 87px,#3c7cca 90px,#538fd3 93px,#6fa2da 96px,#75a6dc 99px,#6ea1da 102px,#6098d7 105px,#4e8cd2 108px,#4081cd 111px,#3f79c6 114px,#4474c0 117px,#4d6fb7 120px,#566aae 123px,#6164a6 126px,#6a5e9e 129px,#745d94 132px,#7e5c8c 135px,#895a84 138px,#94587d 141px,#9e5676 144px,#a65472 147px,#ae536f 150px,#b4526c 153px,#b9516a 156px,#bb5069 159px,#b7516a 162px,#af536e 165px,#a35573 168px,#96587b 171px,#875b85 174px,#7a5d90 177px,#6f5e9a 180px,#6561a2 183px,#5c66a9 186px,#536cb1 189px,#4c70b8 192px,#4773bd 195px,#4474c0 198px,#4375c1 201px,#4276c2 204px,#4177c3 207px,#4078c5 210px,#3d7bc9 213px,#4081cd 216px,#4989d0 219px,#5892d4 222px,#669bd8 225px,#72a3db 228px,#7ba9dd 231px,#82aedf 234px,#86b1e0 237px,#83afdf 240px,#80addf 241px)"></div>
<div style="left:47px;top:197px;width:241px;height:1px;background:linear-gradient(90deg,#3d7bc9 0px,#3d7bc9 3px,#3c7cca 6px,#3c7cca 9px,#3c7cca 12px,#3c7cca 15px,#3c7cca 18px,#3d7dca 21px,#3d7dca 24px,#3d7dcb 27px,#3d7dcb 30px,#3d7dcb 33px,#3c7dca 36px,#3c7cca 39px,#3d7bc9 42px,#3e7ac7 45px,#3f79c6 48px,#4177c4 51px,#4276c2 54px,#4474c0 57px,#4a71ba 60px,#576aae 63px,#685f9f 66px,#795d91 69px,#7e5c8c 72px,#795d91 75px,#6a5e9e 78px,#566aae 81px,#4474c1 84px,#4182cd 87px,#6098d7 90px,#77a7dc 93px,#75a5dc 96px,#6b9fd9 99px,#5b94d5 102px,#4888d0 105px,#3d7dcb 108px,#4276c2 111px,#4e6fb6 114px,#5b67aa 117px,#6760a1 120px,#725d96 123px,#7e5c8c 126px,#8b5a83 129px,#98577a 132px,#a35573 135px,#ad536f 138px,#b6516b 141px,#bc5068 144px,#bf5066 147px,#c15066 150px,#c05066 153px,#bd5068 156px,#b7516a 159px,#ae536f 162px,#a15574 165px,#93587d 168px,#855b87 171px,#795d91 174px,#6e5e9b 177px,#6461a3 180px,#5c67aa 183px,#546bb0 186px,#4d6fb7 189px,#4772bd 192px,#4474c1 195px,#4276c2 198px,#4276c3 201px,#4177c4 204px,#3f79c7 207px,#3e7ecb 210px,#4385cf 213px,#528fd3 216px,#6198d7 219px,#6fa2da 222px,#7aa9dd 225px,#82aedf 228px,#86b1e0 231px,#84b0e0 234px,#7baadd 237px,#72a4db 240px,#70a2da 241px)"></div>
<div style="left:47px;top:198px;width:241px;height:1px;background:linear-gradient(90deg,#4276c2 0px,#4276c3 3px,#4177c3 6px,#4177c4 9px,#4177c4 12px,#4177c4 15px,#4078c5 18px,#4078c5 21px,#3f79c6 24px,#3f79c6 27px,#3f79c7 30px,#3f79c6 33px,#3f79c6 36px,#4078c5 39px,#4177c4 42px,#4276c2 45px,#4375c1 48px,#4673be 51px,#4971bb 54px,#516db3 57px,#5f65a7 60px,#6e5e9a 63px,#7b5c8f 66px,#7c5c8e 69px,#745d95 72px,#6561a2 75px,#516db3 78px,#4177c4 81px,#4888d0 84px,#6b9fd9 87px,#78a8dd 90px,#74a5db 93px,#699dd9 96px,#5892d4 99px,#4486cf 102px,#3d7bc9 105px,#4573bf 108px,#556aaf 111px,#6760a0 114px,#785d92 117px,#865b86 120px,#96587b 123px,#a45573 126px,#af536e 129px,#b95169 132px,#c05066 135px,#c44f65 138px,#c64f64 141px,#c54f64 144px,#c34f65 147px,#be5067 150px,#b7516a 153px,#ad536f 156px,#a35574 159px,#96587b 162px,#885a84 165px,#7c5c8e 168px,#715d97 171px,#685fa0 174px,#5f65a7 177px,#5769ad 180px,#516db3 183px,#4b70b9 186px,#4673be 189px,#4375c1 192px,#4177c3 195px,#4078c5 198px,#3f79c6 201px,#3c7cca 204px,#4182cd 207px,#4c8bd1 210px,#5c95d5 213px,#6b9fd9 216px,#77a7dc 219px,#81addf 222px,#86b1e0 225px,#85b0e0 228px,#7caadd 231px,#74a5db 234px,#6b9fd9 237px,#6198d7 240px,#5d95d6 241px)"></div>
<div style="left:47px;top:199px;width:241px;height:1px;background:linear-gradient(90deg,#4276c2 0px,#4276c3 3px,#4276c3 6px,#4276c3 9px,#4276c3 12px,#4177c3 15px,#4177c4 18px,#4078c5 21px,#4078c5 24px,#4078c6 27px,#4078c5 30px,#4078c5 33px,#4177c4 36px,#4276c3 39px,#4375c1 42px,#4573bf 45px,#4971bb 48px,#4d6fb7 51px,#5769ad 54px,#6661a1 57px,#745d95 60px,#7a5d90 63px,#785d91 66px,#6f5e99 69px,#6064a6 72px,#4d6fb7 75px,#3e7ac8 78px,#528fd3 81px,#73a5db 84px,#79a8dd 87px,#72a4db 90px,#669cd8 93px,#5590d4 96px,#4384ce 99px,#3e7ac7 102px,#4872bc 105px,#5c67aa 108px,#715d98 111px,#875b85 114px,#9d5677 117px,#ac536f 120px,#b8516a 123px,#c05066 126px,#c54f64 129px,#c94f62 132px,#c94f62 135px,#c84f63 138px,#c44f64 141px,#be5067 144px,#b5516b 147px,#aa5470 150px,#9e5676 153px,#91597f 156px,#845b87 159px,#795d90 162px,#6f5e9a 165px,#6661a1 168px,#5d66a8 171px,#566aae 174px,#506db4 177px,#4a71ba 180px,#4573bf 183px,#4375c2 186px,#4177c4 189px,#4078c6 192px,#3e7ac8 195px,#3d7dcb 198px,#4182cd 201px,#4989d0 204px,#5792d4 207px,#679cd8 210px,#75a5dc 213px,#7facde 216px,#86b1e0 219px,#86b1e0 222px,#7dabde 225px,#74a5db 228px,#6c9fd9 231px,#6399d7 234px,#5691d4 237px,#4788d0 240px,#4485cf 241px)"></div>
<div style="left:47px;top:200px;width:241px;height:1px;background:linear-gradient(90deg,#3e7ac8 0px,#3e7ac8 3px,#3d7bc8 6px,#3d7bc8 9px,#3d7bc8 12px,#3d7bc9 15px,#3d7bc9 18px,#3d7bc9 21px,#3d7bc9 24px,#3d7bc9 27px,#3e7ac8 30px,#3f79c6 33px,#4078c5 36px,#4276c3 39px,#4474c0 42px,#4872bc 45px,#4e6fb6 48px,#5a67ab 51px,#6a5e9e 54px,#775d93 57px,#795d90 60px,#755d94 63px,#6b5e9d 66px,#5c66a9 69px,#4a71ba 72px,#3d7dca 75px,#5b94d5 78px,#78a8dd 81px,#78a8dd 84px,#71a3db 87px,#649ad8 90px,#538fd3 93px,#4283ce 96px,#3f79c6 99px,#4a70ba 102px,#6064a6 105px,#795d91 108px,#95587c 111px,#ad536f 114px,#bd5068 117px,#c44f64 120px,#c94f62 123px,#cb4f61 126px,#cb4f61 129px,#c84f62 132px,#c34f65 135px,#bd5068 138px,#b2526d 141px,#a65472 144px,#98577a 147px,#8a5a83 150px,#7d5c8d 153px,#735d96 156px,#695f9f 159px,#6064a6 162px,#5869ac 165px,#516db3 168px,#4b70b9 171px,#4673be 174px,#4375c1 177px,#4177c4 180px,#3f79c6 183px,#3d7bc9 186px,#3d7ecb 189px,#4081cd 192px,#4385cf 195px,#4c8bd1 198px,#5892d4 201px,#669bd8 204px,#73a4db 207px,#7eacde 210px,#85b0e0 213px,#87b1e0 216px,#7facde 219px,#75a6dc 222px,#6da0da 225px,#649ad7 228px,#5791d4 231px,#4989d0 234px,#4182cd 237px,#3c7cca 240px,#3d7bc8 241px)"></div>
<div style="left:47px;top:201px;width:241px;height:1px;background:linear-gradient(90deg,#4183cd 0px,#4283ce 3px,#4283ce 6px,#4283ce 9px,#4283ce 12px,#4283ce 15px,#4283ce 18px,#4182cd 21px,#4082cd 24px,#3f80cc 27px,#3e7ecb 30px,#3c7cca 33px,#3e7ac7 36px,#4078c4 39px,#4375c1 42px,#4a71ba 45px,#5968ac 48px,#695f9f 51px,#755d94 54px,#765d93 57px,#725d97 60px,#685f9f 63px,#5a68ab 66px,#4872bc 69px,#3e7ecb 72px,#6198d7 75px,#7aa9dd 78px,#77a7dc 81px,#70a2da 84px,#6299d7 87px,#518ed3 90px,#4183cd 93px,#3f79c6 96px,#4b70b9 99px,#6263a4 102px,#7e5c8c 105px,#9e5676 108px,#b7516a 111px,#c54f64 114px,#cb4f61 117px,#cc4f61 120px,#cb4f61 123px,#c84f63 126px,#c24f65 129px,#ba5069 132px,#ae536f 135px,#a05675 138px,#92587e 141px,#835b88 144px,#775d92 147px,#6c5e9c 150px,#6263a4 153px,#5a68ab 156px,#526cb2 159px,#4b70b9 162px,#4673be 165px,#4276c2 168px,#4078c5 171px,#3e7ac8 174px,#3c7cca 177px,#3f7fcc 180px,#4183cd 183px,#4586cf 186px,#4d8bd1 189px,#5691d4 192px,#5f97d6 195px,#6a9ed9 198px,#74a5dc 201px,#7eacde 204px,#85b0e0 207px,#87b1e0 210px,#82aedf 213px,#78a8dc 216px,#6ea1da 219px,#649ad7 222px,#5791d4 225px,#4a89d1 228px,#4183cd 231px,#3d7dca 234px,#3f79c6 237px,#4276c2 240px,#4375c1 241px)"></div>
<div style="left:47px;top:202px;width:241px;height:1px;background:linear-gradient(90deg,#518ed2 0px,#518ed3 3px,#528ed3 6px,#528ed3 9px,#528ed3 12px,#518ed2 15px,#4e8cd2 18px,#4b8ad1 21px,#4788d0 24px,#4385cf 27px,#4183cd 30px,#3f7fcc 33px,#3c7cca 36px,#3f79c6 39px,#4474c0 42px,#546bb0 45px,#6660a1 48px,#705d98 51px,#715d98 54px,#6d5e9b 57px,#6561a2 60px,#5869ac 63px,#4872bc 66px,#3e7fcb 69px,#6299d7 72px,#7aa9dd 75px,#76a7dc 78px,#6ea1da 81px,#6198d7 84px,#508dd2 87px,#4182cd 90px,#3f79c6 93px,#4b70b9 96px,#6462a3 99px,#815c8a 102px,#a45573 105px,#be5067 108px,#c94f62 111px,#cc4f61 114px,#cb4f61 117px,#c64f63 120px,#c05066 123px,#b6516b 126px,#a95471 129px,#9b5778 132px,#8c5a82 135px,#7d5c8d 138px,#715d97 141px,#6660a1 144px,#5c66a9 147px,#546bb0 150px,#4c6fb8 153px,#4673be 156px,#4276c2 159px,#3f79c6 162px,#3d7bc9 165px,#3e7ecb 168px,#4182cd 171px,#4385cf 174px,#4989d0 177px,#518ed2 180px,#5892d4 183px,#6097d7 186px,#699dd9 189px,#72a3db 192px,#7aa9dd 195px,#81aedf 198px,#86b1e0 201px,#87b1e0 204px,#82aedf 207px,#7aa9dd 210px,#70a2da 213px,#639ad7 216px,#5691d4 219px,#4989d0 222px,#4183cd 225px,#3d7dca 228px,#3f79c6 231px,#4276c2 234px,#4474c0 237px,#4474c0 240px,#4673be 241px)"></div>
<div style="left:47px;top:203px;width:241px;height:1px;background:linear-gradient(90deg,#5b94d5 0px,#5b94d5 3px,#5c95d5 6px,#5c95d5 9px,#5b94d5 12px,#5993d5 15px,#5691d4 18px,#528ed3 21px,#4c8bd1 24px,#4687d0 27px,#4284ce 30px,#3f80cc 33px,#3d7bc9 36px,#4177c4 39px,#506db4 42px,#6362a4 45px,#6c5e9c 48px,#6c5e9c 51px,#685f9f 54px,#6163a5 57px,#566aae 60px,#4872bc 63px,#3e7ecb 66px,#6198d7 69px,#7aa9dd 72px,#76a6dc 75px,#6ca0da 78px,#5f96d6 81px,#4f8dd2 84px,#4182cd 87px,#3f79c6 90px,#4b70b9 93px,#6462a3 96px,#835b88 99px,#a85471 102px,#c15066 105px,#cb4f61 108px,#cc4f61 111px,#c74f63 114px,#be5067 117px,#b3526c 120px,#a55573 123px,#96587c 126px,#865b86 129px,#785d91 132px,#6c5e9c 135px,#6163a5 138px,#5769ad 141px,#4f6eb5 144px,#4772bd 147px,#4375c2 150px,#4078c5 153px,#3d7bc9 156px,#3f7fcc 159px,#4283ce 162px,#4687d0 165px,#4e8cd2 168px,#5590d4 171px,#5c95d5 174px,#639ad7 177px,#6b9fd9 180px,#72a4db 183px,#79a8dd 186px,#80addf 189px,#85b0e0 192px,#87b1e0 195px,#85b0e0 198px,#80addf 201px,#78a8dc 204px,#6ea1da 207px,#6299d7 210px,#5591d4 213px,#4889d0 216px,#4182cd 219px,#3d7dca 222px,#3f79c6 225px,#4276c2 228px,#4474c0 231px,#4474c0 234px,#4b70b9 237px,#546bb0 240px,#5769ad 241px)"></div>
<div style="left:47px;top:204px;width:241px;height:1px;background:linear-gradient(90deg,#5792d4 0px,#5892d4 3px,#5892d4 6px,#5892d4 9px,#5792d4 12px,#5590d4 15px,#518ed3 18px,#4c8bd1 21px,#4687d0 24px,#4284ce 27px,#3f80cc 30px,#3c7cca 33px,#4078c5 36px,#4f6eb5 39px,#6362a3 42px,#6c5e9c 45px,#6b5e9d 48px,#6660a1 51px,#5f65a7 54px,#546bb0 57px,#4772bd 60px,#3d7dcb 63px,#5e96d6 66px,#7aa9dd 69px,#76a6dc 72px,#6b9fd9 75px,#5d95d6 78px,#4d8cd1 81px,#4082cd 84px,#3f79c6 87px,#4a70ba 90px,#6362a4 93px,#835b88 96px,#aa5470 99px,#c34f65 102px,#cc4f61 105px,#cb4f61 108px,#c34f65 111px,#b4526c 114px,#a25574 117px,#91597e 120px,#815c8a 123px,#745d95 126px,#685fa0 129px,#5d66a9 132px,#536cb1 135px,#4b70b9 138px,#4474c0 141px,#4177c4 144px,#3d7bc8 147px,#3e7fcb 150px,#4283cd 153px,#4688d0 156px,#4f8dd2 159px,#5792d4 162px,#5f97d6 165px,#669cd8 168px,#6da0da 171px,#74a5db 174px,#7aa9dd 177px,#80addf 180px,#84b0e0 183px,#87b1e0 186px,#86b1e0 189px,#83afdf 192px,#7caade 195px,#74a5db 198px,#6a9ed9 201px,#5f96d6 204px,#538fd3 207px,#4687d0 210px,#4081cd 213px,#3c7cca 216px,#3f79c6 219px,#4276c2 222px,#4474c0 225px,#4474c0 228px,#4a71ba 231px,#536cb1 234px,#5c66a9 237px,#6660a1 240px,#6a5e9e 241px)"></div>
<div style="left:47px;top:205px;width:241px;height:1px;background:linear-gradient(90deg,#4b8ad1 0px,#4b8ad1 3px,#4b8ad1 6px,#4b8ad1 9px,#4a89d0 12px,#4788d0 15px,#4486cf 18px,#4283ce 21px,#4080cc 24px,#3d7dcb 27px,#3e7ac7 30px,#4276c3 33px,#526cb2 36px,#685fa0 39px,#725d97 42px,#6f5e9a 45px,#685f9f 48px,#6064a6 51px,#546bb0 54px,#4772bd 57px,#3c7cca 60px,#5a94d5 63px,#7aa9dd 66px,#76a6dc 69px,#6b9fd9 72px,#5b94d5 75px,#4b8ad1 78px,#4081cd 81px,#3f79c6 84px,#4a71ba 87px,#6263a4 90px,#825c89 93px,#aa5470 96px,#c44f64 99px,#cc4f61 102px,#c94f62 105px,#c05066 108px,#ad536f 111px,#95587c 114px,#7f5c8b 117px,#715d98 120px,#6561a2 123px,#5968ab 126px,#506db4 129px,#4872bc 132px,#4276c2 135px,#3f79c6 138px,#3d7dca 141px,#4081cd 144px,#4486cf 147px,#4d8cd2 150px,#5691d4 153px,#5f97d6 156px,#679cd8 159px,#6fa1da 162px,#75a6dc 165px,#7baadd 168px,#80addf 171px,#84b0e0 174px,#87b1e0 177px,#87b1e0 180px,#84b0e0 183px,#7facde 186px,#78a7dc 189px,#6fa1da 192px,#649ad8 195px,#5993d5 198px,#4e8cd2 201px,#4385cf 204px,#3f80cc 207px,#3d7bc9 210px,#4078c5 213px,#4375c2 216px,#4474c0 219px,#4474c0 222px,#4a71ba 225px,#526cb2 228px,#5b67aa 231px,#6561a2 234px,#6f5e99 237px,#7b5c8f 240px,#7f5c8b 241px)"></div>
<div style="left:47px;top:206px;width:241px;height:1px;background:linear-gradient(90deg,#4182cd 0px,#4182cd 3px,#4182cd 6px,#4082cd 9px,#4081cc 12px,#3f7fcc 15px,#3d7ecb 18px,#3c7cca 21px,#3f79c7 24px,#4177c3 27px,#4574bf 30px,#556baf 33px,#6e5e9b 36px,#7b5c8f 39px,#765d93 42px,#6e5e9b 45px,#6362a3 48px,#5769ad 51px,#4a71ba 54px,#3e7ac8 57px,#5591d4 60px,#78a8dc 63px,#77a7dc 66px,#6b9fd9 69px,#5b94d5 72px,#4a8ad1 75px,#3f80cc 78px,#3f79c6 81px,#4a71ba 84px,#6163a5 87px,#805c8a 90px,#aa5471 93px,#c44f64 96px,#cc4f61 99px,#c94f62 102px,#be5067 105px,#a85471 108px,#8d5982 111px,#755d94 114px,#6462a3 117px,#5769ad 120px,#4e6fb6 123px,#4573bf 126px,#4177c3 129px,#3e7ac8 132px,#3e7fcb 135px,#4284ce 138px,#4989d0 141px,#538fd3 144px,#5c95d6 147px,#659bd8 150px,#6ea1da 153px,#75a6dc 156px,#7baadd 159px,#80addf 162px,#84b0e0 165px,#87b1e0 168px,#87b1e0 171px,#85b0e0 174px,#81aedf 177px,#7baadd 180px,#73a4db 183px,#6a9ed9 186px,#5f97d6 189px,#5490d3 192px,#4889d0 195px,#4183cd 198px,#3e7ecb 201px,#3e7ac7 204px,#4177c4 207px,#4375c1 210px,#4474c0 213px,#4474c0 216px,#4971bb 219px,#526cb2 222px,#5b67aa 225px,#6561a2 228px,#6f5e9a 231px,#795d90 234px,#865b86 237px,#95587c 240px,#9a5778 241px)"></div>
<div style="left:47px;top:207px;width:241px;height:1px;background:linear-gradient(90deg,#3d7dca 0px,#3d7dca 3px,#3d7dca 6px,#3c7cca 9px,#3d7bc9 12px,#3e7ac7 15px,#4078c6 18px,#4177c3 21px,#4474c0 24px,#4a71ba 27px,#566aae 30px,#715d98 33px,#835b88 36px,#7e5c8b 39px,#745d95 42px,#685fa0 45px,#5b67aa 48px,#4d6fb7 51px,#4078c5 54px,#4f8cd2 57px,#74a5dc 60px,#78a7dc 63px,#6ca0da 66px,#5b94d5 69px,#4989d0 72px,#3f80cc 75px,#4078c5 78px,#4a71ba 81px,#6064a6 84px,#7f5c8b 87px,#a85471 90px,#c44f64 93px,#cc4f61 96px,#c94f62 99px,#bd5067 102px,#a65472 105px,#885a84 108px,#6f5e99 111px,#5c67aa 114px,#4d6fb7 117px,#4474c0 120px,#4177c4 123px,#3d7bc9 126px,#3f80cc 129px,#4385cf 132px,#4d8cd1 135px,#5792d4 138px,#6198d7 141px,#6a9ed9 144px,#73a4db 147px,#79a9dd 150px,#80addf 153px,#84b0e0 156px,#86b1e0 159px,#87b1e0 162px,#86b1e0 165px,#83afdf 168px,#7dabde 171px,#77a7dc 174px,#6fa2da 177px,#659bd8 180px,#5b94d5 183px,#508dd2 186px,#4486cf 189px,#4081cc 192px,#3c7cca 195px,#4078c6 198px,#4276c2 201px,#4474c1 204px,#4474c0 207px,#4474c0 210px,#4971bb 213px,#526cb2 216px,#5b67aa 219px,#6561a2 222px,#6f5e9a 225px,#795d90 228px,#855b87 231px,#93587d 234px,#a25574 237px,#b1526d 240px,#b6516b 241px)"></div>
<div style="left:47px;top:208px;width:241px;height:1px;background:linear-gradient(90deg,#3d7bc9 0px,#3c7cc9 3px,#3d7bc9 6px,#3e7ac8 9px,#3f79c6 12px,#4078c5 15px,#4276c2 18px,#4474c0 21px,#4a71ba 24px,#536cb1 27px,#6e5e9b 30px,#875b85 33px,#865b86 36px,#795d90 39px,#6c5e9d 42px,#5e65a8 45px,#506eb4 48px,#4177c3 51px,#4889d0 54px,#6fa2da 57px,#77a7dc 60px,#6da0da 63px,#5c95d5 66px,#4989d0 69px,#3f7fcc 72px,#4078c5 75px,#4b70b9 78px,#6164a5 81px,#7e5c8b 84px,#a75472 87px,#c44f65 90px,#cc4f61 93px,#c94f62 96px,#be5067 99px,#a65472 102px,#885a85 105px,#6d5e9b 108px,#5769ad 111px,#4872bc 114px,#4177c4 117px,#3c7cca 120px,#4081cd 123px,#4586cf 126px,#508dd2 129px,#5a94d5 132px,#649ad8 135px,#6ea1da 138px,#76a6dc 141px,#7dabde 144px,#83afdf 147px,#86b1e0 150px,#87b1e0 153px,#86b1e0 156px,#83afe0 159px,#7facde 162px,#7aa9dd 165px,#73a4db 168px,#6b9fd9 171px,#6198d7 174px,#5792d4 177px,#4c8bd1 180px,#4385ce 183px,#3f7fcc 186px,#3d7bc8 189px,#4177c4 192px,#4375c1 195px,#4474c0 198px,#4474c0 201px,#4474c0 204px,#4971bb 207px,#526cb2 210px,#5b67aa 213px,#6561a2 216px,#6f5e99 219px,#7a5d90 222px,#855b87 225px,#93587d 228px,#a15575 231px,#af536e 234px,#bd5067 237px,#c84f63 240px,#cb4f61 241px)"></div>
<div style="left:47px;top:209px;width:241px;height:1px;background:linear-gradient(90deg,#3d7dcb 0px,#3d7ecb 3px,#3d7dca 6px,#3d7bc9 9px,#3e7ac7 12px,#4078c5 15px,#4276c2 18px,#4573bf 21px,#4c6fb8 24px,#6362a4 27px,#815c89 30px,#885a85 33px,#7b5c8e 36px,#6d5e9b 39px,#5e65a7 42px,#506db4 45px,#4276c2 48px,#4486cf 51px,#6b9fd9 54px,#78a7dc 57px,#6ea1da 60px,#5d96d6 63px,#4a8ad1 66px,#3f7fcc 69px,#4177c4 72px,#4c70b8 75px,#6263a4 78px,#7e5c8b 81px,#a65472 84px,#c34f65 87px,#cc4f61 90px,#c94f62 93px,#be5067 96px,#a85471 99px,#895a84 102px,#6d5e9b 105px,#566aae 108px,#4573bf 111px,#3e7ac7 114px,#4081cc 117px,#4687cf 120px,#518ed2 123px,#5c95d5 126px,#669cd8 129px,#70a2da 132px,#78a8dd 135px,#7facde 138px,#84b0e0 141px,#87b1e0 144px,#87b1e0 147px,#85b0e0 150px,#81aedf 153px,#7caadd 156px,#76a6dc 159px,#6fa2da 162px,#679cd8 165px,#5e96d6 168px,#5490d3 171px,#4a8ad1 174px,#4284ce 177px,#3e7ecb 180px,#3e7ac8 183px,#4177c4 186px,#4375c1 189px,#4474c0 192px,#4474c0 195px,#4474c0 198px,#4971bb 201px,#526cb2 204px,#5c66a9 207px,#6661a1 210px,#705d99 213px,#7b5c8f 216px,#865b86 219px,#94587d 222px,#a25574 225px,#af536e 228px,#bd5068 231px,#c74f63 234px,#d14e5f 237px,#d6535d 240px,#d8555d 241px)"></div>
<div style="left:47px;top:210px;width:241px;height:1px;background:linear-gradient(90deg,#4081cd 0px,#4081cd 3px,#3f80cc 6px,#3d7ecb 9px,#3c7cc9 12px,#3f79c7 15px,#4177c4 18px,#4474c0 21px,#546bb0 24px,#765d94 27px,#875b86 30px,#7b5c8e 33px,#6c5e9c 36px,#5d66a8 39px,#4f6eb5 42px,#4276c2 45px,#4385ce 48px,#699dd9 51px,#79a8dd 54px,#70a2db 57px,#5f97d6 60px,#4b8ad1 63px,#3f7fcc 66px,#4177c4 69px,#4c70b8 72px,#6263a4 75px,#7f5c8a 78px,#a65472 81px,#c24f65 84px,#cc4f61 87px,#c94f62 90px,#c05066 93px,#aa5470 96px,#8c5a82 99px,#6f5e99 102px,#5769ad 105px,#4474c0 108px,#3d7bc9 111px,#4384ce 114px,#508dd2 117px,#5c95d5 120px,#679cd8 123px,#71a3db 126px,#79a8dd 129px,#80addf 132px,#85b0e0 135px,#87b1e0 138px,#86b1e0 141px,#84afe0 144px,#7facde 147px,#79a8dd 150px,#73a4db 153px,#6b9fd9 156px,#639ad7 159px,#5b94d5 162px,#518ed3 165px,#4888d0 168px,#4183cd 171px,#3e7ecb 174px,#3e7ac7 177px,#4177c4 180px,#4375c1 183px,#4474c0 186px,#4474c0 189px,#4474c0 192px,#4b70b9 195px,#546bb0 198px,#5d66a8 201px,#6760a0 204px,#715d97 207px,#7c5c8e 210px,#895a84 213px,#96587b 216px,#a45573 219px,#b1526d 222px,#bd5067 225px,#c74f63 228px,#d04e5f 231px,#d6525d 234px,#db575c 237px,#de5e5b 240px,#df605b 241px)"></div>
<div style="left:47px;top:211px;width:241px;height:1px;background:linear-gradient(90deg,#4385ce 0px,#4385ce 3px,#4182cd 6px,#3f80cc 9px,#3d7dcb 12px,#3e7ac8 15px,#4177c4 18px,#4673be 21px,#6660a1 24px,#825c89 27px,#7c5c8e 30px,#6d5e9c 33px,#5c66a9 36px,#4d6fb7 39px,#4276c3 42px,#4385ce 45px,#679cd8 48px,#7ba9dd 51px,#73a4db 54px,#6198d7 57px,#4c8bd1 60px,#3f80cc 63px,#4177c4 66px,#4c70b8 69px,#6263a4 72px,#805c8a 75px,#a75472 78px,#c24f65 81px,#cc4f61 84px,#ca4f62 87px,#c15066 90px,#ad536f 93px,#90597f 96px,#735d96 99px,#5a68ab 102px,#4573bf 105px,#3c7cca 108px,#4586cf 111px,#5792d4 114px,#669bd8 117px,#71a3db 120px,#79a9dd 123px,#81addf 126px,#85b1e0 129px,#87b1e0 132px,#86b1e0 135px,#83afdf 138px,#7eacde 141px,#78a7dc 144px,#71a3db 147px,#699dd9 150px,#6098d7 153px,#5792d4 156px,#4f8cd2 159px,#4587cf 162px,#4182cd 165px,#3d7ecb 168px,#3e7ac7 171px,#4177c4 174px,#4375c1 177px,#4474c0 180px,#4474c0 183px,#4474c0 186px,#4c6fb8 189px,#556aaf 192px,#5f64a7 195px,#695f9f 198px,#745d95 201px,#7e5c8c 204px,#8c5a82 207px,#995779 210px,#a75472 213px,#b4526c 216px,#bf5067 219px,#c84f63 222px,#d14e5f 225px,#d6525d 228px,#da575c 231px,#de5d5b 234px,#e0645a 237px,#e26b59 240px,#e36d59 241px)"></div>
<div style="left:47px;top:212px;width:241px;height:1px;background:linear-gradient(90deg,#4486cf 0px,#4486cf 3px,#4183cd 6px,#3f7fcc 9px,#3d7dca 12px,#3e7ac7 15px,#4276c3 18px,#5769ad 21px,#7b5c8f 24px,#7f5c8b 27px,#705d99 30px,#5e65a8 33px,#4e6fb6 36px,#4276c3 39px,#4384ce 42px,#669bd8 45px,#7caadd 48px,#75a6dc 51px,#649ad7 54px,#4e8cd2 57px,#3f80cc 60px,#4078c4 63px,#4c70b8 66px,#6163a5 69px,#7e5c8c 72px,#a65472 75px,#c34f65 78px,#cc4f61 81px,#ca4f62 84px,#c24f65 87px,#b0526e 90px,#94587c 93px,#775d93 96px,#5d66a8 99px,#4872bc 102px,#3d7bc9 105px,#4687d0 108px,#5c94d5 111px,#6da0da 114px,#78a8dd 117px,#81addf 120px,#85b0e0 123px,#87b1e0 126px,#86b1e0 129px,#82aedf 132px,#7dabde 135px,#77a7dc 138px,#70a2db 141px,#689dd8 144px,#5f97d6 147px,#5691d4 150px,#4d8bd1 153px,#4486cf 156px,#4081cd 159px,#3d7dcb 162px,#3e7ac7 165px,#4177c4 168px,#4375c1 171px,#4474c0 174px,#4474c0 177px,#4573bf 180px,#4e6eb6 183px,#5869ad 186px,#6263a5 189px,#6c5e9c 192px,#775d93 195px,#825c89 198px,#905980 201px,#9d5676 204px,#ab5370 207px,#b8516a 210px,#c24f65 213px,#cb4f61 216px,#d34f5e 219px,#d7535d 222px,#db585c 225px,#de5d5b 228px,#e0635a 231px,#e26a59 234px,#e47058 237px,#e67756 240px,#e67956 241px)"></div>
<div style="left:47px;top:213px;width:241px;height:1px;background:linear-gradient(90deg,#4385cf 0px,#4385ce 3px,#4081cc 6px,#3d7dcb 9px,#3e7ac8 12px,#4177c4 15px,#4b70b9 18px,#725d97 21px,#865b86 24px,#775d92 27px,#6362a4 30px,#506db4 33px,#4276c2 36px,#4283cd 39px,#649ad7 42px,#7baadd 45px,#76a6dc 48px,#669bd8 51px,#508dd2 54px,#4081cc 57px,#4078c5 60px,#4b70b9 63px,#6064a6 66px,#7c5c8d 69px,#a35574 72px,#c24f65 75px,#cc4f61 78px,#ca4f62 81px,#c24f65 84px,#b2526d 87px,#98577a 90px,#7b5c8f 93px,#6163a5 96px,#4b70b9 99px,#3e7ac8 102px,#4687cf 105px,#5e96d6 108px,#71a3db 111px,#7eabde 114px,#85b0e0 117px,#87b1e0 120px,#86b1e0 123px,#82aedf 126px,#7dabde 129px,#77a7dc 132px,#70a2da 135px,#689dd8 138px,#5f97d6 141px,#5691d4 144px,#4c8bd1 147px,#4385cf 150px,#4081cc 153px,#3d7dca 156px,#3e7ac7 159px,#4177c4 162px,#4375c1 165px,#4474c0 168px,#4474c0 171px,#4772bd 174px,#516db3 177px,#5a67ab 180px,#6461a2 183px,#6f5e99 186px,#7a5d8f 189px,#875b86 192px,#95587c 195px,#a35574 198px,#b0526e 201px,#bd5068 204px,#c64f63 207px,#cf4e5f 210px,#d5515e 213px,#d9555d 216px,#dc595c 219px,#de5f5b 222px,#e0645a 225px,#e26a59 228px,#e47058 231px,#e67656 234px,#e77c55 237px,#e98253 240px,#e98453 241px)"></div>
<div style="left:47px;top:214px;width:241px;height:1px;background:linear-gradient(90deg,#4284ce 0px,#4183cd 3px,#3e7ecb 6px,#3e7ac8 9px,#4078c4 12px,#4474c0 15px,#6561a2 18px,#8a5a83 21px,#815c8a 24px,#6a5e9e 27px,#556baf 30px,#4474c0 33px,#4081cd 36px,#6098d7 39px,#79a9dd 42px,#76a6dc 45px,#669bd8 48px,#518ed2 51px,#4081cd 54px,#4078c5 57px,#4b70b9 60px,#5f65a7 63px,#7a5d8f 66px,#9f5675 69px,#c05066 72px,#cc4f61 75px,#ca4f62 78px,#c24f65 81px,#b3526c 84px,#9b5778 87px,#7e5c8c 90px,#6561a2 93px,#4e6eb6 96px,#3f79c6 99px,#4486cf 102px,#5e96d6 105px,#73a4db 108px,#81addf 111px,#87b1e0 114px,#86b1e0 117px,#83afdf 120px,#7dabde 123px,#77a7dc 126px,#70a2da 129px,#689dd8 132px,#5f97d6 135px,#5691d4 138px,#4d8bd1 141px,#4486cf 144px,#4081cd 147px,#3d7dca 150px,#3e7ac7 153px,#4177c4 156px,#4375c1 159px,#4474c0 162px,#4474c0 165px,#4a71ba 168px,#536cb1 171px,#5d66a8 174px,#685fa0 177px,#735d96 180px,#7e5c8c 183px,#8c5a82 186px,#9a5778 189px,#a95471 192px,#b6516b 195px,#c15066 198px,#cb4f61 201px,#d34f5e 204px,#d7535d 207px,#db585c 210px,#de5c5c 213px,#e0625b 216px,#e1675a 219px,#e36c59 222px,#e47158 225px,#e67656 228px,#e77c55 231px,#e88254 234px,#ea8752 237px,#eb8b51 240px,#eb8d51 241px)"></div>
<div style="left:47px;top:215px;width:241px;height:1px;background:linear-gradient(90deg,#4283ce 0px,#4081cd 3px,#3c7cca 6px,#4078c6 9px,#4375c1 12px,#556baf 15px,#805c8a 18px,#8c5a82 21px,#735d96 24px,#5a67ab 27px,#4673be 30px,#3f7fcc 33px,#5d96d6 36px,#78a8dd 39px,#76a6dc 42px,#679cd8 45px,#518ed3 48px,#4081cd 51px,#4078c5 54px,#4b70b9 57px,#5e65a8 60px,#785d92 63px,#9b5778 66px,#bd5068 69px,#cb4f61 72px,#ca4f62 75px,#c24f65 78px,#b4526c 81px,#9d5676 84px,#815c89 87px,#695f9f 90px,#526cb2 93px,#4177c4 96px,#4384ce 99px,#5d96d6 102px,#74a5dc 105px,#83afdf 108px,#87b1e0 111px,#84b0e0 114px,#7eacde 117px,#77a7dc 120px,#70a2db 123px,#689dd9 126px,#6097d6 129px,#5792d4 132px,#4e8cd2 135px,#4586cf 138px,#4182cd 141px,#3d7dcb 144px,#3e7ac7 147px,#4177c4 150px,#4375c2 153px,#4474c0 156px,#4474c0 159px,#4d6fb7 162px,#576aad 165px,#6163a5 168px,#6c5e9d 171px,#775d92 174px,#835b88 177px,#92587e 180px,#a15575 183px,#af536e 186px,#bd5068 189px,#c64f63 192px,#d04e5f 195px,#d5525d 198px,#da565d 201px,#dd5b5c 204px,#df615b 207px,#e1665a 210px,#e26b59 213px,#e47058 216px,#e57557 219px,#e67956 222px,#e77d55 225px,#e88254 228px,#ea8652 231px,#ea8b51 234px,#eb8f50 237px,#ec934f 240px,#ec944f 241px)"></div>
<div style="left:47px;top:216px;width:241px;height:1px;background:linear-gradient(90deg,#4283ce 0px,#3f80cc 3px,#3e7ac8 6px,#4177c3 9px,#4872bc 12px,#6f5e99 15px,#92587e 18px,#7d5c8d 21px,#6164a5 24px,#4971bb 27px,#3d7dcb 30px,#5a94d5 33px,#78a7dc 36px,#76a7dc 39px,#679cd8 42px,#528ed3 45px,#4081cd 48px,#4078c5 51px,#4b70b9 54px,#5d66a8 57px,#765d93 60px,#97577b 63px,#b9516a 66px,#c94f62 69px,#ca4f62 72px,#c24f65 75px,#b3526c 78px,#9e5676 81px,#845b88 84px,#6c5e9c 87px,#556aaf 90px,#4375c2 93px,#4182cd 96px,#5b94d5 99px,#74a5dc 102px,#84afe0 105px,#87b1e0 108px,#81aedf 111px,#79a8dd 114px,#71a3db 117px,#689dd9 120px,#6097d6 123px,#5792d4 126px,#4f8dd2 129px,#4687cf 132px,#4182cd 135px,#3e7ecb 138px,#3d7bc8 141px,#4078c5 144px,#4276c2 147px,#4474c0 150px,#4971bb 153px,#526cb2 156px,#5c67aa 159px,#6661a1 162px,#715d98 165px,#7c5c8e 168px,#8a5a83 171px,#995779 174px,#a85471 177px,#b6516b 180px,#c24f65 183px,#cc4f61 186px,#d4505e 189px,#d8555d 192px,#dc595c 195px,#df5f5b 198px,#e1655a 201px,#e26b59 204px,#e47058 207px,#e57557 210px,#e67956 213px,#e77d55 216px,#e88154 219px,#e98453 222px,#ea8852 225px,#eb8b51 228px,#eb8f50 231px,#ec924f 234px,#ec954f 237px,#ed984e 240px,#ed984e 241px)"></div>
<div style="left:47px;top:217px;width:241px;height:1px;background:linear-gradient(90deg,#4283ce 0px,#3e7ecb 3px,#3f79c6 6px,#4375c1 9px,#5b67aa 12px,#8a5a83 15px,#895a84 18px,#695e9e 21px,#4e6eb6 24px,#3d7bc8 27px,#5691d4 30px,#76a7dc 33px,#77a7dc 36px,#689dd8 39px,#528fd3 42px,#4081cd 45px,#4078c5 48px,#4b70b9 51px,#5d66a8 54px,#755d94 57px,#94587d 60px,#b4526c 63px,#c74f63 66px,#ca4f62 69px,#c24f65 72px,#b2526d 75px,#9c5677 78px,#845b87 81px,#6e5e9a 84px,#5869ac 87px,#4474c0 90px,#3f80cc 93px,#5993d5 96px,#74a5dc 99px,#84b0e0 102px,#86b1e0 105px,#7facde 108px,#74a5dc 111px,#6a9ed9 114px,#6097d6 117px,#5792d4 120px,#4f8dd2 123px,#4687d0 126px,#4283ce 129px,#3e7fcb 132px,#3d7bc9 135px,#4078c6 138px,#4276c3 141px,#4673be 144px,#4e6eb6 147px,#5769ad 150px,#6163a5 153px,#6c5e9d 156px,#775d92 159px,#835b88 162px,#92587e 165px,#a15575 168px,#b0526e 171px,#be5067 174px,#c84f63 177px,#d24e5e 180px,#d7535d 183px,#db585c 186px,#de5e5b 189px,#e0645a 192px,#e26a59 195px,#e47058 198px,#e57657 201px,#e77b55 204px,#e87f54 207px,#e98353 210px,#ea8652 213px,#ea8952 216px,#eb8c51 219px,#eb8e50 222px,#eb9050 225px,#ec934f 228px,#ec954f 231px,#ed974e 234px,#ed994e 237px,#ed9b4d 240px,#ed9b4d 241px)"></div>
<div style="left:47px;top:218px;width:241px;height:1px;background:linear-gradient(90deg,#4283cd 0px,#3c7cca 3px,#4177c4 6px,#4b70b9 9px,#775d92 12px,#94587d 15px,#755d94 18px,#556baf 21px,#4078c5 24px,#518ed2 27px,#74a5dc 30px,#78a7dc 33px,#689dd9 36px,#528fd3 39px,#4081cd 42px,#4078c5 45px,#4b70b9 48px,#5e65a8 51px,#745d95 54px,#91597f 57px,#b1526d 60px,#c54f64 63px,#ca4f62 66px,#c34f65 69px,#b2526d 72px,#9b5778 75px,#825c89 78px,#6e5e9a 81px,#5a68ab 84px,#4772bd 87px,#3e7ecb 90px,#5691d4 93px,#73a4db 96px,#85b0e0 99px,#86b1e0 102px,#7caade 105px,#70a2da 108px,#639ad7 111px,#5892d4 114px,#4f8cd2 117px,#4687d0 120px,#4283ce 123px,#3f7fcc 126px,#3c7cca 129px,#3f79c6 132px,#4375c2 135px,#4b70b9 138px,#546bb0 141px,#5e65a8 144px,#685fa0 147px,#735d96 150px,#7e5c8c 153px,#8c5a82 156px,#9b5778 159px,#aa5470 162px,#b9516a 165px,#c44f64 168px,#ce4e60 171px,#d5525d 174px,#da575d 177px,#de5c5c 180px,#e0635a 183px,#e26a59 186px,#e47058 189px,#e57657 192px,#e77b55 195px,#e88154 198px,#e98553 201px,#ea8952 204px,#eb8c51 207px,#eb8f50 210px,#ec9150 213px,#ec934f 216px,#ec944f 219px,#ec964f 222px,#ec974e 225px,#ed984e 228px,#ed994e 231px,#ed9a4d 234px,#ed9b4d 237px,#f0af47 240px,#f0af47 241px)"></div>
<div style="left:47px;top:219px;width:241px;height:1px;background:linear-gradient(90deg,#4182cd 0px,#3e7ac8 3px,#4375c1 6px,#6064a6 9px,#91597f 12px,#845b88 15px,#5e65a7 18px,#4375c1 21px,#4989d0 24px,#71a3db 27px,#78a8dd 30px,#6a9ed9 33px,#538fd3 36px,#4081cd 39px,#4078c5 42px,#4c70b8 45px,#5f65a7 48px,#755d94 51px,#90597f 54px,#ae536f 57px,#c34f65 60px,#c94f62 63px,#c34f65 66px,#b3526c 69px,#9a5778 72px,#805c8a 75px,#6c5e9c 78px,#5a68ab 81px,#4872bc 84px,#3c7cca 87px,#538fd3 90px,#72a4db 93px,#85b0e0 96px,#85b0e0 99px,#79a8dd 102px,#6b9fd9 105px,#5d95d6 108px,#518ed2 111px,#4687d0 114px,#4183cd 117px,#3f7fcc 120px,#3c7cca 123px,#4078c5 126px,#4573bf 129px,#4f6eb5 132px,#5968ab 135px,#6462a3 138px,#6f5e99 141px,#7a5d8f 144px,#885a85 147px,#97577b 150px,#a65472 153px,#b4526c 156px,#c15066 159px,#cb4f61 162px,#d4505e 165px,#d9555d 168px,#dd5b5c 171px,#e0625b 174px,#e26959 177px,#e47058 180px,#e67656 183px,#e77c55 186px,#e88254 189px,#ea8752 192px,#eb8b51 195px,#eb8f50 198px,#ec934f 201px,#ec964f 204px,#ed984e 207px,#ed994e 210px,#ed9a4d 213px,#ed9b4d 216px,#ed9b4d 219px,#ed9b4d 222px,#ed9b4d 225px,#ed9b4d 228px,#ed9b4d 231px,#f0af47 234px,#f0ae47 237px,#f0ad48 240px,#f0ad48 241px)"></div>
<div style="left:47px;top:220px;width:241px;height:1px;background:linear-gradient(90deg,#3f80cc 0px,#4078c5 3px,#4971bb 6px,#7c5c8e 9px,#93587d 12px,#6c5e9c 15px,#4971bb 18px,#4283ce 21px,#6ca0da 24px,#79a8dd 27px,#6b9fd9 30px,#5490d3 33px,#4081cd 36px,#4177c4 39px,#4d6fb7 42px,#6064a6 45px,#775d93 48px,#91597f 51px,#ad536f 54px,#c15066 57px,#c94f62 60px,#c44f64 63px,#b4526c 66px,#9a5779 69px,#7f5c8b 72px,#6a5e9e 75px,#5769ad 78px,#4772bd 81px,#3c7cca 84px,#528fd3 87px,#72a4db 90px,#85b0e0 93px,#84b0e0 96px,#77a7dc 99px,#679cd8 102px,#5792d4 105px,#4a8ad1 108px,#4283ce 111px,#3e7fcb 114px,#3d7bc9 117px,#4078c4 120px,#4772bd 123px,#526cb2 126px,#5e65a8 129px,#6a5e9e 132px,#765d93 135px,#825c88 138px,#92587e 141px,#a25574 144px,#b1526d 147px,#bf5067 150px,#c94f62 153px,#d34f5e 156px,#d8545d 159px,#dd5a5c 162px,#df615b 165px,#e26859 168px,#e46f58 171px,#e67656 174px,#e77d55 177px,#e98353 180px,#ea8852 183px,#eb8d51 186px,#ec9250 189px,#ec954f 192px,#ed994e 195px,#ed9c4d 198px,#ee9e4c 201px,#eea04c 204px,#eea14c 207px,#eea14c 210px,#eea14c 213px,#eea04c 216px,#ee9f4c 219px,#ee9e4d 222px,#ed9d4d 225px,#f0af47 228px,#f0ae47 231px,#f0ad48 234px,#f0ac48 237px,#f0aa49 240px,#efa949 241px)"></div>
<div style="left:47px;top:221px;width:241px;height:1px;background:linear-gradient(90deg,#3d7ecb 0px,#4276c3 3px,#5d66a8 6px,#94587d 9px,#7d5c8d 12px,#536cb1 15px,#3d7dcb 18px,#649ad8 21px,#7aa9dd 24px,#6da0da 27px,#5591d4 30px,#4182cd 33px,#4177c4 36px,#4e6fb6 39px,#6263a4 42px,#795d90 45px,#94587d 48px,#ad536f 51px,#c05066 54px,#c84f63 57px,#c44f64 60px,#b5516b 63px,#9a5778 66px,#7e5c8c 69px,#685fa0 72px,#556baf 75px,#4574bf 78px,#3d7dcb 81px,#538fd3 84px,#73a4db 87px,#86b1e0 90px,#83afdf 93px,#74a5db 96px,#6298d7 99px,#518ed3 102px,#4485cf 105px,#3f80cc 108px,#3c7cc9 111px,#4078c5 114px,#4872bc 117px,#546bb0 120px,#6163a5 123px,#6e5e9a 126px,#7c5c8e 129px,#8c5a82 132px,#9c5677 135px,#ad536f 138px,#bc5068 141px,#c74f63 144px,#d24e5e 147px,#d7545d 150px,#dc595c 153px,#df605b 156px,#e16859 159px,#e46f58 162px,#e67656 165px,#e77d55 168px,#e98453 171px,#ea8a52 174px,#eb8f50 177px,#ec944f 180px,#ed984e 183px,#ed9c4d 186px,#ee9f4c 189px,#eea24b 192px,#efa44b 195px,#efa64a 198px,#efa74a 201px,#efa84a 204px,#efa74a 207px,#efa64a 210px,#efa54a 213px,#eea34b 216px,#eea14c 219px,#f1b146 222px,#f0b047 225px,#f0ae48 228px,#f0ac48 231px,#f0aa49 234px,#efa84a 237px,#efa54a 240px,#efa44b 241px)"></div>
<div style="left:47px;top:222px;width:241px;height:1px;background:linear-gradient(90deg,#3d7bc9 0px,#4474c0 3px,#795d91 6px,#90597f 9px,#6362a4 12px,#4177c4 15px,#5892d4 18px,#7aa9dd 21px,#70a2db 24px,#5892d4 27px,#4182cd 30px,#4177c4 33px,#4f6eb5 36px,#6462a3 39px,#7c5c8e 42px,#98577a 45px,#b0526e 48px,#c05066 51px,#c74f63 54px,#c44f64 57px,#b5516b 60px,#9b5778 63px,#7d5c8d 66px,#6660a1 69px,#526cb2 72px,#4375c1 75px,#3f80cc 78px,#5892d4 81px,#75a6dc 84px,#86b1e0 87px,#81aedf 90px,#70a2da 93px,#5c95d5 96px,#4a8ad1 99px,#4182cd 102px,#3c7cca 105px,#3f79c6 108px,#4573bf 111px,#546bb0 114px,#6263a4 117px,#715d98 120px,#805c8a 123px,#93587d 126px,#a55573 129px,#b6516b 132px,#c44f64 135px,#d04e5f 138px,#d6535d 141px,#dc585c 144px,#df605b 147px,#e1685a 150px,#e46f58 153px,#e67756 156px,#e77e55 159px,#e98553 162px,#eb8b51 165px,#ec9150 168px,#ec964e 171px,#ed9b4d 174px,#ee9f4c 177px,#eea34b 180px,#efa64a 183px,#efa949 186px,#f0ab49 189px,#f0ac48 192px,#f0ad48 195px,#f0ae48 198px,#f0ae48 201px,#f0ad48 204px,#f0ab48 207px,#efa949 210px,#efa64a 213px,#f1b545 216px,#f1b346 219px,#f1b047 222px,#f0ad48 225px,#f0ab49 228px,#efa849 231px,#efa54a 234px,#eea24b 237px,#ee9e4d 240px,#ed9c4d 241px)"></div>
<div style="left:47px;top:223px;width:241px;height:1px;background:linear-gradient(90deg,#3f79c6 0px,#526cb2 3px,#91597e 6px,#775d92 9px,#4971bb 12px,#4889d0 15px,#76a6dc 18px,#74a5db 21px,#5b94d5 24px,#4283ce 27px,#4078c5 30px,#4f6eb5 33px,#6661a1 36px,#7f5c8b 39px,#9c5677 42px,#b4526c 45px,#c24f65 48px,#c74f63 51px,#c44f64 54px,#b5516b 57px,#9a5779 60px,#7c5c8e 63px,#6461a3 66px,#506db4 69px,#4177c3 72px,#4384ce 75px,#6098d7 78px,#7aa9dd 81px,#87b1e0 84px,#7eacde 87px,#6b9fd9 90px,#5691d4 93px,#4486cf 96px,#3e7ecb 99px,#3e7ac7 102px,#4177c3 105px,#506db4 108px,#6163a5 111px,#725d97 114px,#825c88 117px,#97577a 120px,#ab5370 123px,#be5067 126px,#cb4f61 129px,#d5515e 132px,#da575c 135px,#de5f5b 138px,#e1675a 141px,#e46f58 144px,#e67756 147px,#e87f54 150px,#e98653 153px,#eb8d51 156px,#ec934f 159px,#ed994e 162px,#ee9e4d 165px,#eea34b 168px,#efa74a 171px,#f0aa49 174px,#f0ad48 177px,#f1b047 180px,#f1b246 183px,#f1b346 186px,#f1b446 189px,#f1b446 192px,#f1b446 195px,#f1b346 198px,#f1b246 201px,#f0af47 204px,#f3bd41 207px,#f2ba43 210px,#f2b745 213px,#f1b446 216px,#f1b047 219px,#f0ad48 222px,#efa949 225px,#efa54a 228px,#eea24b 231px,#ee9e4c 234px,#ed9a4d 237px,#ec954f 240px,#ec944f 241px)"></div>
<div style="left:47px;top:224px;width:241px;height:1px;background:linear-gradient(90deg,#4276c2 0px,#6b5e9d 3px,#91597e 6px,#5a68ab 9px,#3e7ecb 12px,#6da0da 15px,#77a7dc 18px,#6097d7 21px,#4385cf 24px,#4078c5 27px,#4f6eb5 30px,#6760a0 33px,#825c89 36px,#a15575 39px,#b8516a 42px,#c34f65 45px,#c74f63 48px,#c34f65 51px,#b4526c 54px,#995779 57px,#7b5c8f 60px,#6263a4 63px,#4e6fb6 66px,#3f79c6 69px,#4989d0 72px,#6a9ed9 75px,#81aedf 78px,#86b1e0 81px,#79a8dd 84px,#649ad8 87px,#4f8cd2 90px,#4182cd 93px,#3d7bc9 96px,#4177c4 99px,#4872bc 102px,#5c67a9 105px,#6f5e99 108px,#835b88 111px,#9a5779 114px,#af536e 117px,#c24f65 120px,#d04e5f 123px,#d8545d 126px,#dd5c5c 129px,#e0655a 132px,#e36e58 135px,#e67656 138px,#e87f54 141px,#ea8652 144px,#eb8e51 147px,#ec944f 150px,#ed9b4d 153px,#eea04c 156px,#efa54a 159px,#f0aa49 162px,#f0ae47 165px,#f1b246 168px,#f1b545 171px,#f2b745 174px,#f2b944 177px,#f2ba44 180px,#f2ba43 183px,#f2ba43 186px,#f2b944 189px,#f2b844 192px,#f2b745 195px,#f1b545 198px,#f3c13d 201px,#f3be3f 204px,#f2bb42 207px,#f2b844 210px,#f1b446 213px,#f1b047 216px,#f0ac48 219px,#efa74a 222px,#eea34b 225px,#ee9f4c 228px,#ed9b4d 231px,#ec964e 234px,#ec9150 237px,#eb8c51 240px,#ea8a52 241px)"></div>
<div style="left:47px;top:225px;width:241px;height:1px;background:linear-gradient(90deg,#4872bc 0px,#855b87 3px,#795d90 6px,#4375c2 9px,#5c95d5 12px,#7aa9dd 15px,#679cd8 18px,#4788d0 21px,#3f79c7 24px,#4e6eb6 27px,#685fa0 30px,#855b87 33px,#a55573 36px,#bc5068 39px,#c54f64 42px,#c74f63 45px,#c15066 48px,#b1526d 51px,#97577b 54px,#795d91 57px,#6064a6 60px,#4b70b9 63px,#3d7bc9 66px,#538fd3 69px,#74a5db 72px,#86b1e0 75px,#83afdf 78px,#72a4db 81px,#5c95d5 84px,#4687cf 87px,#3d7ecb 90px,#4078c5 93px,#4375c2 96px,#526cb2 99px,#695f9f 102px,#805c8a 105px,#9a5778 108px,#b2526d 111px,#c54f64 114px,#d34f5e 117px,#da575d 120px,#df605b 123px,#e26a59 126px,#e57457 129px,#e77d55 132px,#e98653 135px,#eb8e51 138px,#ec954f 141px,#ed9c4d 144px,#eea24b 147px,#efa849 150px,#f0ad48 153px,#f1b246 156px,#f1b645 159px,#f2b944 162px,#f2bc42 165px,#f3be40 168px,#f3bf3e 171px,#f3c03e 174px,#f3c03e 177px,#f3c03e 180px,#f3bf3f 183px,#f3be40 186px,#f2bc42 189px,#f4c638 192px,#f4c43a 195px,#f3c23c 198px,#f3bf3f 201px,#f2bc42 204px,#f2b844 207px,#f1b446 210px,#f0af47 213px,#f0aa49 216px,#efa54a 219px,#eea04c 222px,#ed9b4d 225px,#ec964e 228px,#ec9250 231px,#eb8c51 234px,#ea8752 237px,#e88054 240px,#e87e54 241px)"></div>
<div style="left:47px;top:226px;width:241px;height:1px;background:linear-gradient(90deg,#5a68ab 0px,#93587d 3px,#5d66a9 6px,#4486cf 9px,#78a8dd 12px,#6ea1da 15px,#4e8cd2 18px,#3d7bc9 21px,#4c6fb8 24px,#685fa0 27px,#885a85 30px,#a95471 33px,#bf5067 36px,#c74f63 39px,#c64f63 42px,#be5067 45px,#ad536f 48px,#93587e 51px,#765d93 54px,#5d66a8 57px,#4872bc 60px,#3e7fcb 63px,#5c95d5 66px,#7caade 69px,#87b1e0 72px,#7caadd 75px,#689dd8 78px,#528ed3 81px,#4182cd 84px,#3e7ac8 87px,#4276c2 90px,#4474c0 93px,#5d66a8 96px,#785d91 99px,#97577b 102px,#b3526c 105px,#c84f63 108px,#d5515d 111px,#dc595c 114px,#e0635a 117px,#e36e58 120px,#e67956 123px,#e98353 126px,#eb8c51 129px,#ec954f 132px,#ed9c4d 135px,#efa34b 138px,#f0aa49 141px,#f0af47 144px,#f1b545 147px,#f2b944 150px,#f3bd41 153px,#f3c03e 156px,#f4c33c 159px,#f4c43a 162px,#f4c639 165px,#f4c638 168px,#f4c638 171px,#f4c639 174px,#f4c53a 177px,#f4c33b 180px,#f5cc33 183px,#f5ca35 186px,#f4c837 189px,#f4c539 192px,#f3c23c 195px,#f3bf3f 198px,#f2bb42 201px,#f2b745 204px,#f1b246 207px,#f0ad48 210px,#efa849 213px,#eea34b 216px,#ee9d4d 219px,#ed984e 222px,#ec924f 225px,#eb8d51 228px,#ea8752 231px,#e88154 234px,#e77b55 237px,#e57457 240px,#e47258 241px)"></div>
<div style="left:47px;top:227px;width:241px;height:1px;background:linear-gradient(90deg,#735d96 0px,#865b86 3px,#4474c0 6px,#6a9ed9 9px,#75a6dc 12px,#5691d4 15px,#3d7dcb 18px,#4a71ba 21px,#6760a1 24px,#895a84 27px,#ac536f 30px,#c15066 33px,#c84f63 36px,#c54f64 39px,#bb5068 42px,#a65472 45px,#8c5a82 48px,#725d97 51px,#5a68ab 54px,#4474c0 57px,#4183cd 60px,#669cd8 63px,#83afdf 66px,#84b0e0 69px,#74a5db 72px,#5d95d6 75px,#4587cf 78px,#3d7dca 81px,#4177c4 84px,#4474c0 87px,#4c6fb8 90px,#6a5e9e 93px,#8c5a82 96px,#af536e 99px,#c84f62 102px,#d7535d 105px,#de5d5c 108px,#e16859 111px,#e57257 114px,#e77d55 117px,#ea8852 120px,#ec9250 123px,#ed9b4d 126px,#eea34b 129px,#f0aa49 132px,#f1b147 135px,#f2b745 138px,#f2bc42 141px,#f3c03e 144px,#f4c43b 147px,#f4c738 150px,#f5c936 153px,#f5cb35 156px,#f5cc34 159px,#f5cc33 162px,#f5cc33 165px,#f5cb34 168px,#f5ca35 171px,#f4c837 174px,#f6cf30 177px,#f5cd32 180px,#f5cb35 183px,#f4c837 186px,#f4c43a 189px,#f3c13d 192px,#f3bd40 195px,#f2b944 198px,#f1b545 201px,#f1b047 204px,#f0ab49 207px,#efa54a 210px,#ee9f4c 213px,#ed994e 216px,#ec944f 219px,#eb8e51 222px,#ea8852 225px,#e88154 228px,#e77b55 231px,#e57557 234px,#e36e58 237px,#e1675a 240px,#e0655a 241px)"></div>
<div style="left:47px;top:228px;width:241px;height:1px;background:linear-gradient(90deg,#8a5a83 0px,#6d5e9b 3px,#4384ce 6px,#7aa9dd 9px,#6198d7 12px,#4081cd 15px,#4673be 18px,#6462a3 21px,#895a84 24px,#af536e 27px,#c34f65 30px,#c94f62 33px,#c44f64 36px,#b6516b 39px,#9f5675 42px,#845b87 45px,#6c5e9c 48px,#556aaf 51px,#4276c2 54px,#4687d0 57px,#70a2da 60px,#87b1e0 63px,#80adde 66px,#6b9fd9 69px,#528fd3 72px,#4081cd 75px,#3f79c6 78px,#4375c1 81px,#4474c0 84px,#5769ad 87px,#795d90 90px,#a35574 93px,#c54f64 96px,#d7535d 99px,#df605b 102px,#e36d59 105px,#e67856 108px,#e98353 111px,#eb8d51 114px,#ec964e 117px,#eea04c 120px,#efa849 123px,#f1b047 126px,#f2b745 129px,#f3bd40 132px,#f3c23c 135px,#f4c638 138px,#f5ca35 141px,#f5cd33 144px,#f5cf31 147px,#f6d030 150px,#f6d12f 153px,#f6d12f 156px,#f6d12f 159px,#f6d030 162px,#f5ce31 165px,#f6d42b 168px,#f6d22e 171px,#f6d030 174px,#f5cd32 177px,#f5ca35 180px,#f4c638 183px,#f4c33b 186px,#f3bf3f 189px,#f2ba43 192px,#f2b645 195px,#f1b146 198px,#f0ac48 201px,#efa74a 204px,#eea14c 207px,#ed9b4d 210px,#ec954f 213px,#eb8f50 216px,#ea8852 219px,#e98253 222px,#e77c55 225px,#e57557 228px,#e46f58 231px,#e16859 234px,#df615b 237px,#dd5a5c 240px,#db585c 241px)"></div>
<div style="left:47px;top:229px;width:241px;height:1px;background:linear-gradient(90deg,#8e5980 0px,#536cb1 3px,#689dd8 6px,#6da0da 9px,#4586cf 12px,#4276c2 15px,#6064a6 18px,#875b85 21px,#b1526d 24px,#c54f64 27px,#c94f62 30px,#c24f65 33px,#b0526e 36px,#97577b 39px,#7c5c8e 42px,#6661a1 45px,#506db4 48px,#4078c6 51px,#508ed2 54px,#79a8dd 57px,#87b1e0 60px,#7aa9dd 63px,#6399d7 66px,#4889d0 69px,#3c7dca 72px,#4276c3 75px,#4474c0 78px,#4474c0 81px,#6362a3 84px,#8c5a82 87px,#bb5069 90px,#d5515d 93px,#df605b 96px,#e47058 99px,#e87e54 102px,#ea8a52 105px,#ec944f 108px,#ed9d4d 111px,#efa54a 114px,#f0ad48 117px,#f1b545 120px,#f3bd41 123px,#f4c33b 126px,#f4c837 129px,#f5cc33 132px,#f6d030 135px,#f6d22e 138px,#f6d42c 141px,#f7d52a 144px,#f7d62a 147px,#f7d62a 150px,#f7d52b 153px,#f6d42c 156px,#f7d926 159px,#f7d728 162px,#f7d52b 165px,#f6d22e 168px,#f6cf31 171px,#f5cc34 174px,#f4c837 177px,#f4c43a 180px,#f3c03e 183px,#f2bb42 186px,#f2b745 189px,#f1b246 192px,#f0ad48 195px,#efa74a 198px,#eea24b 201px,#ed9c4d 204px,#ec964f 207px,#eb9050 210px,#ea8952 213px,#e98353 216px,#e77c55 219px,#e57557 222px,#e46f58 225px,#e26859 228px,#df625b 231px,#dd5b5c 234px,#d9565d 237px,#d4505e 240px,#d34f5e 241px)"></div>
<div style="left:47px;top:230px;width:241px;height:1px;background:linear-gradient(90deg,#7e5c8c 0px,#4078c5 3px,#77a7dc 6px,#538fd3 9px,#3f79c6 12px,#5968ac 15px,#835b88 18px,#b1526d 21px,#c74f63 24px,#ca4f62 27px,#c05066 30px,#a95471 33px,#8e5981 36px,#745d95 39px,#5f65a7 42px,#4b70b9 45px,#3c7cca 48px,#5b94d5 51px,#80addf 54px,#85b0e0 57px,#74a5db 60px,#5b94d5 63px,#4284ce 66px,#3e7ac7 69px,#4375c1 72px,#4474c0 75px,#4b70b9 78px,#725d97 81px,#a35574 84px,#cd4e60 87px,#de5c5c 90px,#e47058 93px,#e88254 96px,#eb9050 99px,#ed9b4d 102px,#efa54b 105px,#f0ad48 108px,#f1b446 111px,#f2bb42 114px,#f3c13d 117px,#f4c837 120px,#f5cd32 123px,#f6d12f 126px,#f7d52b 129px,#f7d728 132px,#f7d926 135px,#f8da25 138px,#f8da25 141px,#f8da25 144px,#f7d927 147px,#f8dd22 150px,#f8db24 153px,#f7d926 156px,#f7d629 159px,#f6d32c 162px,#f6d030 165px,#f5cd33 168px,#f4c936 171px,#f4c43a 174px,#f3c03e 177px,#f2bb42 180px,#f2b645 183px,#f1b146 186px,#f0ac48 189px,#efa74a 192px,#eea14c 195px,#ed9c4d 198px,#ec964f 201px,#eb9050 204px,#ea8952 207px,#e98353 210px,#e77c55 213px,#e57557 216px,#e46f58 219px,#e26859 222px,#df625b 225px,#dd5b5c 228px,#d9565d 231px,#d5515d 234px,#ce4e60 237px,#c44f64 240px,#c15066 241px)"></div>
<div style="left:47px;top:231px;width:241px;height:1px;background:linear-gradient(90deg,#6760a0 0px,#4e8cd2 3px,#6a9ed9 6px,#3e7ecb 9px,#516db3 12px,#7c5c8d 15px,#af536e 18px,#c84f63 21px,#ca4f62 24px,#bd5068 27px,#a35574 30px,#845b88 33px,#6c5e9d 36px,#576aad 39px,#4474c0 42px,#4081cd 45px,#669bd8 48px,#85b0e0 51px,#81aedf 54px,#6ea1da 57px,#5490d3 60px,#4081cc 63px,#4078c4 66px,#4474c0 69px,#4474c0 72px,#5769ad 75px,#825c88 78px,#ba5069 81px,#d9555d 84px,#e36c59 87px,#e88154 90px,#ec934f 93px,#eea14c 96px,#f0ac48 99px,#f1b545 102px,#f3bc41 105px,#f4c33c 108px,#f4c837 111px,#f5cd32 114px,#f6d22e 117px,#f7d62a 120px,#f7d926 123px,#f8dc23 126px,#f8dd22 129px,#f8de21 132px,#f8de21 135px,#f8dd22 138px,#f9e01e 141px,#f9df20 144px,#f8dd22 147px,#f8da25 150px,#f7d828 153px,#f6d42b 156px,#f6d12f 159px,#f5cd33 162px,#f4c936 165px,#f4c43a 168px,#f3bf3e 171px,#f2ba43 174px,#f1b545 177px,#f1b047 180px,#f0ab49 183px,#efa54a 186px,#eea04c 189px,#ed9a4d 192px,#ec944f 195px,#eb8e50 198px,#ea8852 201px,#e88254 204px,#e77b55 207px,#e57557 210px,#e36e58 213px,#e1685a 216px,#df615b 219px,#dd5b5c 222px,#d9565d 225px,#d5515d 228px,#cf4e5f 231px,#c64f64 234px,#bc5068 237px,#ae536f 240px,#a95471 241px)"></div>
<div style="left:47px;top:232px;width:241px;height:1px;background:linear-gradient(90deg,#506eb4 0px,#6fa1da 3px,#4e8cd2 6px,#4772bd 9px,#735d95 12px,#ab5370 15px,#c84f63 18px,#ca4f62 21px,#ba5069 24px,#9c5678 27px,#7b5c8e 30px,#6462a3 33px,#4f6eb5 36px,#4177c4 39px,#4788d0 42px,#70a2da 45px,#87b1e0 48px,#7eabde 51px,#689dd9 54px,#4e8cd2 57px,#3e7ecb 60px,#4276c3 63px,#4474c0 66px,#4474c0 69px,#6462a3 72px,#995779 75px,#cc4f61 78px,#df615b 81px,#e77b55 84px,#ec9150 87px,#eea34b 90px,#f1b147 93px,#f2bc42 96px,#f4c43a 99px,#f5ca35 102px,#f6d030 105px,#f6d42c 108px,#f7d728 111px,#f8db24 114px,#f8dd21 117px,#f9e01f 120px,#f9e11d 123px,#f9e21d 126px,#f9e11d 129px,#fae41a 132px,#f9e21c 135px,#f9e11e 138px,#f8de21 141px,#f8db24 144px,#f7d827 147px,#f6d42b 150px,#f6d12f 153px,#f5cc33 156px,#f4c837 159px,#f4c33b 162px,#f3be40 165px,#f2b944 168px,#f1b446 171px,#f0ae47 174px,#efa949 177px,#eea34b 180px,#ee9d4d 183px,#ed984e 186px,#ec9250 189px,#eb8c51 192px,#e98653 195px,#e88054 198px,#e67956 201px,#e57357 204px,#e36c59 207px,#e1665a 210px,#df605b 213px,#dd5a5c 216px,#d9555d 219px,#d4515e 222px,#ce4e60 225px,#c64f64 228px,#bd5068 231px,#b0526e 234px,#a25574 237px,#94587c 240px,#905980 241px)"></div>
<div style="left:47px;top:233px;width:241px;height:1px;background:linear-gradient(90deg,#3f79c7 0px,#6da0da 3px,#3c7cca 6px,#6760a0 9px,#a35574 12px,#c74f63 15px,#ca4f62 18px,#b8516a 21px,#95587c 24px,#745d95 27px,#5c66a9 30px,#4872bc 33px,#3c7cc9 36px,#538fd3 39px,#78a8dd 42px,#86b1e0 45px,#7aa9dd 48px,#6399d7 51px,#4889d0 54px,#3c7cca 57px,#4375c1 60px,#4474c0 63px,#4474c0 66px,#725d96 69px,#b0526e 72px,#d8545d 75px,#e46f58 78px,#ea8a51 81px,#eea04c 84px,#f1b246 87px,#f3bf3e 90px,#f5ca35 93px,#f6d12f 96px,#f7d729 99px,#f8db24 102px,#f8de21 105px,#f9e01e 108px,#f9e21c 111px,#fae41a 114px,#fae51a 117px,#fae519 120px,#fae41a 123px,#fae618 126px,#fae41a 129px,#f9e21d 132px,#f9df20 135px,#f8dc23 138px,#f7d827 141px,#f6d42c 144px,#f6d030 147px,#f5cb34 150px,#f4c638 153px,#f3c13d 156px,#f2bc41 159px,#f2b645 162px,#f1b147 165px,#f0ab48 168px,#efa54a 171px,#ee9f4c 174px,#ed9a4e 177px,#ec944f 180px,#eb8e50 183px,#ea8852 186px,#e98253 189px,#e77c55 192px,#e67656 195px,#e47058 198px,#e26a59 201px,#e0645a 204px,#de5e5b 207px,#db585c 210px,#d7545d 213px,#d3505e 216px,#cd4e60 219px,#c44f64 222px,#bc5068 225px,#b0526e 228px,#a35574 231px,#96587b 234px,#885a84 237px,#7c5c8e 240px,#785d91 241px)"></div>
<div style="left:47px;top:234px;width:241px;height:1px;background:linear-gradient(90deg,#518ed3 0px,#5892d4 3px,#4c70b8 6px,#96587b 9px,#c54f64 12px,#cb4f61 15px,#b7516a 18px,#90597f 21px,#6e5e9a 24px,#556aaf 27px,#4375c1 30px,#4081cc 33px,#5d96d6 36px,#7facde 39px,#85b0e0 42px,#76a6dc 45px,#5e96d6 48px,#4486cf 51px,#3e7ac8 54px,#4375c1 57px,#4474c0 60px,#4d6fb7 63px,#815c89 66px,#c34f65 69px,#df605b 72px,#e87e54 75px,#ed994e 78px,#f0ae47 81px,#f3bf3e 84px,#f5cc33 87px,#f7d52a 90px,#f8dc23 93px,#f9e11e 96px,#fae41a 99px,#fae618 102px,#fae717 105px,#fbe816 108px,#fbe816 111px,#fbe816 114px,#fbea15 117px,#fae816 120px,#fae618 123px,#f9e31b 126px,#f9e01f 129px,#f8dc23 132px,#f7d828 135px,#f6d32c 138px,#f5cf31 141px,#f5ca35 144px,#f4c43a 147px,#f3bf3f 150px,#f2b944 153px,#f1b346 156px,#f0ad48 159px,#efa74a 162px,#eea14c 165px,#ed9b4d 168px,#ec954f 171px,#eb8f50 174px,#ea8952 177px,#e98353 180px,#e77d55 183px,#e67856 186px,#e47158 189px,#e36c59 192px,#e1665a 195px,#df605b 198px,#dd5a5c 201px,#d9565d 204px,#d5525d 207px,#d14e5e 210px,#ca4f62 213px,#c24f65 216px,#b95169 219px,#ae536f 222px,#a25574 225px,#96587b 228px,#895a84 231px,#7d5c8d 234px,#735d96 237px,#695e9f 240px,#6660a1 241px)"></div>
<div style="left:47px;top:235px;width:241px;height:1px;background:linear-gradient(90deg,#6b9fd9 0px,#4081cd 3px,#715d98 6px,#c15066 9px,#cb4f61 12px,#b8516a 15px,#8e5981 18px,#695e9f 21px,#506db4 24px,#4078c5 27px,#4486cf 30px,#679cd8 33px,#83afe0 36px,#84afe0 39px,#73a4db 42px,#5a94d5 45px,#4284ce 48px,#3f79c7 51px,#4474c0 54px,#4474c0 57px,#576aad 60px,#95587c 63px,#d34f5e 66px,#e36d59 69px,#eb8c51 72px,#efa64a 75px,#f2bb42 78px,#f5cb34 81px,#f7d729 84px,#f9df20 87px,#fae51a 90px,#fbe816 93px,#fbeb14 96px,#fcec13 99px,#fced12 102px,#fcec12 105px,#fbeb13 108px,#fcec13 111px,#fbea15 114px,#fae717 117px,#fae41a 120px,#f9e01e 123px,#f8dc23 126px,#f7d728 129px,#f6d22d 132px,#f5cd32 135px,#f4c837 138px,#f3c23c 141px,#f2bc41 144px,#f1b645 147px,#f0b047 150px,#efa949 153px,#eea34b 156px,#ed9c4d 159px,#ec964e 162px,#eb9050 165px,#ea8a52 168px,#e98453 171px,#e77d55 174px,#e67756 177px,#e47158 180px,#e36c59 183px,#e1665a 186px,#df615b 189px,#dd5b5c 192px,#da575c 195px,#d7535d 198px,#d34f5e 201px,#cc4f61 204px,#c54f64 207px,#bd5067 210px,#b4526c 213px,#a95471 216px,#9e5676 219px,#93587d 222px,#885a85 225px,#7d5c8d 228px,#745d95 231px,#6a5e9e 234px,#6163a5 237px,#5869ac 240px,#556aaf 241px)"></div>
<div style="left:47px;top:236px;width:241px;height:1px;background:linear-gradient(90deg,#6299d7 0px,#4375c1 3px,#a55573 6px,#cc4f61 9px,#bb5069 12px,#8d5981 15px,#6760a1 18px,#4c70b8 21px,#3e7ac8 24px,#4b8ad1 27px,#6da0da 30px,#86b1e0 33px,#82aedf 36px,#70a2db 39px,#5792d4 42px,#4182cd 45px,#4078c5 48px,#4474c0 51px,#4474c0 54px,#6064a6 57px,#a75472 60px,#da575d 63px,#e77a55 66px,#ed994e 69px,#f1b346 72px,#f4c639 75px,#f6d42b 78px,#f9df20 81px,#fae618 84px,#fbeb13 87px,#fcee11 90px,#fcf00f 93px,#fdf00f 96px,#fcf00f 99px,#fcef10 102px,#fcef10 105px,#fced12 108px,#fbe915 111px,#fae519 114px,#f9e11e 117px,#f8dc23 120px,#f7d729 123px,#f6d12f 126px,#f5cc34 129px,#f4c639 132px,#f3bf3e 135px,#f2b944 138px,#f1b246 141px,#f0ab48 144px,#efa54b 147px,#ee9e4d 150px,#ed974e 153px,#eb9050 156px,#ea8a52 159px,#e98353 162px,#e77d55 165px,#e67756 168px,#e47058 171px,#e26b59 174px,#e1655a 177px,#df605b 180px,#dd5a5c 183px,#da575d 186px,#d7535d 189px,#d34f5e 192px,#cd4e60 195px,#c64f63 198px,#bf5067 201px,#b6516b 204px,#ac536f 207px,#a25574 210px,#98577a 213px,#8e5981 216px,#845b87 219px,#7b5c8f 222px,#735d96 225px,#6a5e9e 228px,#6263a4 231px,#5968ab 234px,#516db3 237px,#4971bb 240px,#4773bd 241px)"></div>
<div style="left:47px;top:237px;width:241px;height:1px;background:linear-gradient(90deg,#4b8ad1 0px,#6263a5 3px,#c84f63 6px,#bf5067 9px,#91597f 12px,#6660a1 15px,#4971bb 18px,#3c7cca 21px,#518ed3 24px,#72a4db 27px,#87b1e0 30px,#81addf 33px,#6ea1da 36px,#5590d4 39px,#4081cd 42px,#4078c5 45px,#4474c0 48px,#4474c0 51px,#695f9f 54px,#b8516a 57px,#df615b 60px,#ea8752 63px,#efa64a 66px,#f3be40 69px,#f6d030 72px,#f8dc23 75px,#fae618 78px,#fcec13 81px,#fdf00f 84px,#fdf20d 87px,#fdf30d 90px,#fdf30d 93px,#fdf20e 96px,#fdf10e 99px,#fcef10 102px,#fcec13 105px,#fae817 108px,#f9e21c 111px,#f8dd22 114px,#f7d629 117px,#f6d030 120px,#f5ca35 123px,#f4c33b 126px,#f3bc41 129px,#f1b545 132px,#f0ae47 135px,#efa74a 138px,#eea04c 141px,#ed994e 144px,#ec9250 147px,#ea8b51 150px,#e98453 153px,#e77d55 156px,#e57657 159px,#e46f58 162px,#e26959 165px,#e0635a 168px,#de5e5b 171px,#dc595c 174px,#d9555d 177px,#d5525d 180px,#d24e5e 183px,#cb4f61 186px,#c54f64 189px,#be5067 192px,#b6516b 195px,#ac536f 198px,#a35574 201px,#995779 204px,#90597f 207px,#865b86 210px,#7e5c8c 213px,#775d93 216px,#6f5e99 219px,#685fa0 222px,#6163a5 225px,#5968ab 228px,#526cb2 231px,#4a71ba 234px,#4375c1 237px,#4078c5 240px,#3f79c7 241px)"></div>
<div style="left:47px;top:238px;width:241px;height:1px;background:linear-gradient(90deg,#3d7bc9 0px,#92587e 3px,#c94f62 6px,#98577a 9px,#685fa0 12px,#4971bb 15px,#3d7ecb 18px,#5590d4 21px,#75a6dc 24px,#87b1e0 27px,#80adde 30px,#6da0da 33px,#538fd3 36px,#4081cc 39px,#4177c4 42px,#4474c0 45px,#4474c0 48px,#705d98 51px,#c34f65 54px,#e26a59 57px,#ec9250 60px,#f1b147 63px,#f4c837 66px,#f7d828 69px,#f9e31b 72px,#fbeb14 75px,#fdf00f 78px,#fdf30d 81px,#fef50b 84px,#fef50b 87px,#fef40c 90px,#fdf40c 93px,#fdf20e 96px,#fcef10 99px,#fbeb14 102px,#fae519 105px,#f9df20 108px,#f7d828 111px,#f6d030 114px,#f4c836 117px,#f3c13d 120px,#f2ba44 123px,#f1b246 126px,#f0aa49 129px,#eea24b 132px,#ed9b4d 135px,#ec934f 138px,#eb8c51 141px,#e98453 144px,#e77d55 147px,#e57657 150px,#e36e58 153px,#e16859 156px,#df625b 159px,#dd5b5c 162px,#da575d 165px,#d7535d 168px,#d34f5e 171px,#ce4e60 174px,#c74f63 177px,#c15066 180px,#ba5069 183px,#b2526d 186px,#a95471 189px,#a15575 192px,#98577a 195px,#8f5980 198px,#865b86 201px,#7d5c8c 204px,#775d92 207px,#705d98 210px,#6a5e9e 213px,#6462a3 216px,#5d66a8 219px,#5769ad 222px,#516db3 225px,#4a71ba 228px,#4474c1 231px,#4078c5 234px,#3d7bc9 237px,#3e7fcb 240px,#3f80cc 241px)"></div>
<div style="left:47px;top:239px;width:241px;height:1px;background:linear-gradient(90deg,#4d6fb7 0px,#c05066 3px,#b0526d 6px,#6d5e9c 9px,#4a71ba 12px,#3e7ecb 15px,#5791d4 18px,#77a7dc 21px,#87b1e0 24px,#7facde 27px,#6c9fd9 30px,#538fd3 33px,#4081cc 36px,#4177c4 39px,#4474c0 42px,#4474c0 45px,#765d93 48px,#cc4f61 51px,#e57357 54px,#ed9b4d 57px,#f2ba43 60px,#f6d030 63px,#f8de20 66px,#fbe816 69px,#fcef10 72px,#fdf30d 75px,#fef50b 78px,#fef60a 81px,#fef60a 84px,#fef50b 87px,#fef40c 90px,#fdf20e 93px,#fcee11 96px,#fbe916 99px,#f9e21c 102px,#f8da25 105px,#f6d22e 108px,#f5c936 111px,#f3c03e 114px,#f2b745 117px,#f0af47 120px,#efa64a 123px,#ee9e4d 126px,#ec964f 129px,#eb8e51 132px,#e98653 135px,#e77e55 138px,#e57657 141px,#e36e58 144px,#e1675a 147px,#df615b 150px,#dd5a5c 153px,#d9555d 156px,#d5515d 159px,#d04e5f 162px,#c94f62 165px,#c24f65 168px,#bb5068 171px,#b3526c 174px,#ab5370 177px,#a25574 180px,#9a5778 183px,#92587e 186px,#8a5a83 189px,#825c88 192px,#7c5c8e 195px,#755d94 198px,#6f5e9a 201px,#695f9f 204px,#6362a3 207px,#5e65a8 210px,#5869ac 213px,#536cb1 216px,#4d6fb7 219px,#4872bc 222px,#4375c1 225px,#4078c5 228px,#3d7bc8 231px,#3e7ecb 234px,#4182cd 237px,#4486cf 240px,#4788d0 241px)"></div>
<div style="left:47px;top:240px;width:241px;height:1px;background:linear-gradient(90deg,#745d95 0px,#c94f62 3px,#835b88 6px,#4d6fb7 9px,#3d7dcb 12px,#5691d4 15px,#77a7dc 18px,#87b1e0 21px,#7facde 24px,#6c9fd9 27px,#538fd3 30px,#4081cc 33px,#4177c4 36px,#4474c0 39px,#4474c0 42px,#795d90 45px,#d24e5e 48px,#e77b55 51px,#efa44b 54px,#f3c23c 57px,#f7d729 60px,#fae41a 63px,#fcec12 66px,#fdf20e 69px,#fef40c 72px,#fef60a 75px,#fef60a 78px,#fef60a 81px,#fef50b 84px,#fdf40c 87px,#fdf10f 90px,#fbec13 93px,#fae618 96px,#f8de21 99px,#f7d52a 102px,#f5cc34 105px,#f3c13d 108px,#f2b745 111px,#f0ac48 114px,#eea24b 117px,#ed9a4e 120px,#eb9150 123px,#ea8852 126px,#e88054 129px,#e67756 132px,#e46f58 135px,#e1685a 138px,#df605b 141px,#dc595c 144px,#d8555d 147px,#d4505e 150px,#cd4e60 153px,#c54f64 156px,#bd5067 159px,#b4526c 162px,#ab5370 165px,#a25574 168px,#995779 171px,#91597e 174px,#8a5a84 177px,#825c89 180px,#7c5c8e 183px,#775d93 186px,#715d97 189px,#6c5e9d 192px,#6660a1 195px,#6163a5 198px,#5b67aa 201px,#566aae 204px,#526cb2 207px,#4d6fb7 210px,#4872bc 213px,#4474c0 216px,#4276c3 219px,#3f79c6 222px,#3d7bc9 225px,#3e7ecb 228px,#4182cd 231px,#4486cf 234px,#4b8ad1 237px,#538fd3 240px,#5691d4 241px)"></div>
<div style="left:47px;top:241px;width:241px;height:1px;background:linear-gradient(90deg,#aa5470 0px,#b5516b 3px,#5e65a8 6px,#3d7bc9 9px,#5490d3 12px,#76a6dc 15px,#87b1e0 18px,#7facde 21px,#6c9fd9 24px,#538fd3 27px,#4081cd 30px,#4078c5 33px,#4474c0 36px,#4474c0 39px,#7a5d90 42px,#d4515e 45px,#e88054 48px,#f0aa49 51px,#f4c836 54px,#f8dc23 57px,#fbe816 60px,#fcf010 63px,#fdf30c 66px,#fef50b 69px,#fef60a 72px,#fef60a 75px,#fef60a 78px,#fef50b 81px,#fdf30d 84px,#fcef10 87px,#fbe915 90px,#f9e21c 93px,#f7d926 96px,#f6d030 99px,#f4c53a 102px,#f2b944 105px,#f0ad48 108px,#eea14c 111px,#ec964e 114px,#eb8c51 117px,#e98353 120px,#e67a56 123px,#e47158 126px,#e26959 129px,#df615b 132px,#dc595c 135px,#d8545d 138px,#d34f5e 141px,#cb4f61 144px,#c34f65 147px,#b95169 150px,#ae536e 153px,#a45573 156px,#9a5779 159px,#90597f 162px,#875b85 165px,#7f5c8b 168px,#7a5d90 171px,#745d95 174px,#6f5e99 177px,#6a5e9e 180px,#6561a2 183px,#6163a5 186px,#5c66a9 189px,#5869ad 192px,#536bb1 195px,#4f6eb5 198px,#4a70ba 201px,#4673be 204px,#4375c1 207px,#4177c4 210px,#3f79c6 213px,#3d7bc8 216px,#3d7dcb 219px,#3f80cc 222px,#4183cd 225px,#4486cf 228px,#4b8ad1 231px,#528fd3 234px,#5993d5 237px,#6198d7 240px,#649ad7 241px)"></div>
<div style="left:47px;top:242px;width:241px;height:1px;background:linear-gradient(90deg,#c74f63 0px,#895a84 3px,#4375c1 6px,#4f8dd2 9px,#74a5db 12px,#87b1e0 15px,#80addf 18px,#6da0da 21px,#5490d3 24px,#4182cd 27px,#4078c5 30px,#4474c0 33px,#4474c0 36px,#775d92 39px,#d5515d 42px,#e98453 45px,#f0af47 48px,#f5cd32 51px,#f9e01e 54px,#fbeb13 57px,#fdf20e 60px,#fef50b 63px,#fef60a 66px,#fef60a 69px,#fef60a 72px,#fef60a 75px,#fef40c 78px,#fdf10e 81px,#fcec12 84px,#fae618 87px,#f8de21 90px,#f6d42c 93px,#f5c936 96px,#f3bd41 99px,#f1b047 102px,#eea34b 105px,#ec964e 108px,#ea8a51 111px,#e87f54 114px,#e57457 117px,#e26b59 120px,#e0635a 123px,#dd5a5c 126px,#d8555d 129px,#d34f5e 132px,#ca4f61 135px,#c15066 138px,#b7516b 141px,#ab5370 144px,#9f5676 147px,#94587d 150px,#895a84 153px,#805c8a 156px,#795d91 159px,#725d97 162px,#6c5e9c 165px,#6760a1 168px,#6263a4 171px,#5e65a8 174px,#5968ab 177px,#556aaf 180px,#526cb2 183px,#4e6eb6 186px,#4a70ba 189px,#4773bd 192px,#4375c1 195px,#4276c3 198px,#4078c5 201px,#3e7ac8 204px,#3c7cca 207px,#3e7ecb 210px,#3f80cc 213px,#4182cd 216px,#4385ce 219px,#4788d0 222px,#4c8bd1 225px,#528fd3 228px,#5993d5 231px,#6097d6 234px,#679cd8 237px,#6fa1da 240px,#71a3db 241px)"></div>
<div style="left:47px;top:243px;width:241px;height:1px;background:linear-gradient(90deg,#bf5066 0px,#6163a5 3px,#4183cd 6px,#6fa2da 9px,#86b1e0 12px,#81aedf 15px,#6ea1da 18px,#5691d4 21px,#4182cd 24px,#3f79c6 27px,#4474c0 30px,#4474c0 33px,#735d96 36px,#d5515d 39px,#ea8652 42px,#f1b346 45px,#f6d12f 48px,#f9e31b 51px,#fcee11 54px,#fdf30d 57px,#fef50b 60px,#fef60a 63px,#fef60a 66px,#fef60a 69px,#fef50b 72px,#fdf30d 75px,#fcef10 78px,#fbe915 81px,#f9e21d 84px,#f7d827 87px,#f5cd32 90px,#f3c13d 93px,#f1b446 96px,#efa64a 99px,#ed984e 102px,#ea8a51 105px,#e77d55 108px,#e47158 111px,#e1665a 114px,#de5c5c 117px,#d9565d 120px,#d4505e 123px,#cb4f61 126px,#c15066 129px,#b5516b 132px,#a85471 135px,#9c5677 138px,#90597f 141px,#845b87 144px,#7b5c8e 147px,#735d95 150px,#6c5e9c 153px,#6661a1 156px,#6064a6 159px,#5a67ab 162px,#556aaf 165px,#516db3 168px,#4d6fb7 171px,#4a71ba 174px,#4673be 177px,#4474c0 180px,#4276c2 183px,#4177c4 186px,#3f79c6 189px,#3e7ac8 192px,#3c7cca 195px,#3d7ecb 198px,#3f80cc 201px,#4182cd 204px,#4284ce 207px,#4486cf 210px,#4888d0 213px,#4c8bd1 216px,#508ed2 219px,#5591d4 222px,#5a94d5 225px,#6097d7 228px,#679cd8 231px,#6ea1da 234px,#75a6dc 237px,#7caade 240px,#7facde 241px)"></div>
<div style="left:47px;top:244px;width:241px;height:1px;background:linear-gradient(90deg,#9a5779 0px,#4474c0 3px,#5f97d6 6px,#85b0e0 9px,#82afdf 12px,#70a3db 15px,#5892d4 18px,#4284ce 21px,#3f79c7 24px,#4474c0 27px,#4474c0 30px,#6c5e9d 33px,#d34f5e 36px,#ea8752 39px,#f1b545 42px,#f6d42c 45px,#fae618 48px,#fcf00f 51px,#fef40c 54px,#fef60a 57px,#fef60a 60px,#fef60a 63px,#fef60a 66px,#fef40c 69px,#fdf10e 72px,#fbec13 75px,#fae519 78px,#f8dc23 81px,#f6d22e 84px,#f4c539 87px,#f2b844 90px,#f0a949 93px,#ed9b4d 96px,#eb8c51 99px,#e77e55 102px,#e47058 105px,#e0645a 108px,#dc595c 111px,#d5525d 114px,#cd4e60 117px,#c24f65 120px,#b6516b 123px,#a85471 126px,#9a5778 129px,#8e5981 132px,#815c89 135px,#785d91 138px,#705d99 141px,#685fa0 144px,#6163a5 147px,#5a67aa 150px,#546bb0 153px,#4f6eb5 156px,#4a71ba 159px,#4673be 162px,#4375c1 165px,#4177c3 168px,#4078c5 171px,#3f79c7 174px,#3d7bc8 177px,#3c7cca 180px,#3d7ecb 183px,#3f7fcc 186px,#4081cc 189px,#4182cd 192px,#4284ce 195px,#4486cf 198px,#4888d0 201px,#4c8bd1 204px,#4f8dd2 207px,#538fd3 210px,#5791d4 213px,#5a94d5 216px,#5f96d6 219px,#639ad7 222px,#689dd9 225px,#6ea1da 228px,#74a5dc 231px,#7baadd 234px,#83afdf 237px,#8ab3e1 240px,#8cb5e2 241px)"></div>
<div style="left:47px;top:245px;width:241px;height:1px;background:linear-gradient(90deg,#6d5e9c 0px,#4182cd 3px,#7caadd 6px,#84b0e0 9px,#73a4db 12px,#5b94d5 15px,#4385ce 18px,#3e7ac8 21px,#4375c1 24px,#4474c0 27px,#6362a4 30px,#d04e5f 33px,#e98653 36px,#f2b645 39px,#f7d62a 42px,#fae817 45px,#fdf10e 48px,#fef50b 51px,#fef60a 54px,#fef60a 57px,#fef60a 60px,#fef50b 63px,#fdf30d 66px,#fcef10 69px,#fbe816 72px,#f9e01f 75px,#f7d62a 78px,#f5ca35 81px,#f3bc41 84px,#f0ad48 87px,#ee9e4d 90px,#eb8e50 93px,#e87f54 96px,#e47058 99px,#e0625a 102px,#da575c 105px,#d34f5e 108px,#c64f63 111px,#b8516a 114px,#a95471 117px,#9a5779 120px,#8d5982 123px,#7f5c8a 126px,#765d93 129px,#6d5e9b 132px,#6561a2 135px,#5e65a8 138px,#566aae 141px,#506db4 144px,#4a70ba 147px,#4573bf 150px,#4276c2 153px,#4078c5 156px,#3e7ac7 159px,#3c7cca 162px,#3d7ecb 165px,#3f7fcc 168px,#4081cc 171px,#4182cd 174px,#4284ce 177px,#4385cf 180px,#4587cf 183px,#4888d0 186px,#4b8ad1 189px,#4e8cd2 192px,#518ed2 195px,#5490d3 198px,#5892d4 201px,#5b94d5 204px,#5e96d6 207px,#6299d7 210px,#659bd8 213px,#699dd9 216px,#6da0da 219px,#71a3db 222px,#76a6dc 225px,#7baadd 228px,#82aedf 231px,#89b3e1 234px,#90b7e3 237px,#97bbe5 240px,#99bde5 241px)"></div>
<div style="left:47px;top:246px;width:241px;height:1px;background:linear-gradient(90deg,#4b70b9 0px,#6198d7 3px,#85b0e0 6px,#76a6dc 9px,#5e96d6 12px,#4486cf 15px,#3d7bc9 18px,#4375c1 21px,#4474c0 24px,#5869ac 27px,#c84f62 30px,#e98353 33px,#f2b645 36px,#f7d729 39px,#fbe915 42px,#fdf20e 45px,#fef50b 48px,#fef60a 51px,#fef60a 54px,#fef60a 57px,#fef50b 60px,#fdf20e 63px,#fcec12 66px,#fae51a 69px,#f8db24 72px,#f5cf31 75px,#f3c13d 78px,#f1b246 81px,#eea14c 84px,#eb9150 87px,#e88054 90px,#e47058 93px,#df615b 96px,#d9565d 99px,#d04e5f 102px,#c15066 105px,#af536e 108px,#9e5676 111px,#8d5981 114px,#7f5c8b 117px,#755d94 120px,#6c5e9d 123px,#6362a4 126px,#5b67aa 129px,#546bb0 132px,#4d6fb7 135px,#4772bd 138px,#4375c2 141px,#4078c5 144px,#3e7ac8 147px,#3c7dca 150px,#3e7fcc 153px,#4081cd 156px,#4284ce 159px,#4486cf 162px,#4788d0 165px,#4a8ad1 168px,#4d8bd1 171px,#4f8dd2 174px,#528ed3 177px,#5490d3 180px,#5691d4 183px,#5993d5 186px,#5b94d5 189px,#5d96d6 192px,#6098d7 195px,#649ad7 198px,#679cd8 201px,#6a9ed9 204px,#6da0da 207px,#70a2db 210px,#73a4db 213px,#77a7dc 216px,#7aa9dd 219px,#7facde 222px,#84afe0 225px,#89b3e1 228px,#8fb7e3 231px,#96bbe4 234px,#9cbfe6 237px,#a2c2e8 240px,#a4c3e8 241px)"></div>
<div style="left:47px;top:247px;width:241px;height:1px;background:linear-gradient(90deg,#3e7fcb 0px,#7caadd 3px,#7aa9dd 6px,#6299d7 9px,#4888d0 12px,#3c7cca 15px,#4276c2 18px,#4474c0 21px,#4d6fb7 24px,#bf5067 27px,#e87f54 30px,#f1b545 33px,#f7d728 36px,#fbea15 39px,#fdf20d 42px,#fef50b 45px,#fef60a 48px,#fef60a 51px,#fef60a 54px,#fdf40c 57px,#fdf00f 60px,#fbea15 63px,#f9e11e 66px,#f7d52b 69px,#f4c738 72px,#f2b745 75px,#efa54a 78px,#ec944f 81px,#e98253 84px,#e47058 87px,#df615b 90px,#d8545d 93px,#cc4f61 96px,#bb5068 99px,#a75472 102px,#94587d 105px,#825c89 108px,#765d93 111px,#6b5e9d 114px,#6263a5 117px,#5968ab 120px,#526cb2 123px,#4b70b9 126px,#4474c0 129px,#4177c3 132px,#3f79c7 135px,#3c7cca 138px,#3e7fcc 141px,#4182cd 144px,#4384ce 147px,#4687d0 150px,#4b8ad1 153px,#4f8dd2 156px,#538fd3 159px,#5791d4 162px,#5a93d5 165px,#5c95d6 168px,#5f96d6 171px,#6198d7 174px,#6399d7 177px,#659bd8 180px,#679cd8 183px,#699dd9 186px,#6b9fd9 189px,#6da0da 192px,#70a2da 195px,#73a4db 198px,#76a6dc 201px,#78a8dd 204px,#7baadd 207px,#7eacde 210px,#81aedf 213px,#85b0e0 216px,#88b2e1 219px,#8db5e2 222px,#91b8e3 225px,#96bbe5 228px,#9cbee6 231px,#a1c2e7 234px,#a7c5e9 237px,#adc8ea 240px,#afc9eb 241px)"></div>
<div style="left:47px;top:248px;width:241px;height:1px;background:linear-gradient(90deg,#5c95d5 0px,#7facde 3px,#689dd9 6px,#4c8bd1 9px,#3d7ecb 12px,#4276c3 15px,#4474c0 18px,#4474c0 21px,#b0526e 24px,#e67956 27px,#f1b346 30px,#f7d728 33px,#fbea14 36px,#fdf30d 39px,#fef60a 42px,#fef60a 45px,#fef60a 48px,#fef50b 51px,#fdf30d 54px,#fcee11 57px,#fae618 60px,#f8dc23 63px,#f5ce31 66px,#f3be40 69px,#f0ac48 72px,#ed984e 75px,#e98553 78px,#e47258 81px,#df605b 84px,#d7535d 87px,#c84f63 90px,#b4526c 93px,#9d5677 96px,#895a84 99px,#795d91 102px,#6c5e9c 105px,#6263a5 108px,#5869ac 111px,#506db4 114px,#4971bb 117px,#4375c1 120px,#4078c5 123px,#3d7bc8 126px,#3d7ecb 129px,#4081cc 132px,#4284ce 135px,#4687cf 138px,#4b8bd1 141px,#518ed2 144px,#5691d4 147px,#5a94d5 150px,#5e96d6 153px,#6299d7 156px,#669bd8 159px,#699ed9 162px,#6c9fd9 165px,#6ea1da 168px,#70a2db 171px,#72a4db 174px,#74a5db 177px,#75a6dc 180px,#77a7dc 183px,#78a8dd 186px,#7aa9dd 189px,#7cabde 192px,#7facde 195px,#82aedf 198px,#85b0e0 201px,#87b2e1 204px,#8ab4e1 207px,#8db5e2 210px,#8fb7e3 213px,#92b9e4 216px,#96bbe4 219px,#99bde5 222px,#9dbfe6 225px,#a2c2e7 228px,#a7c5e9 231px,#acc8ea 234px,#b1caeb 237px,#b6cded 240px,#b8cfed 241px)"></div>
<div style="left:47px;top:249px;width:241px;height:1px;background:linear-gradient(90deg,#78a8dd 0px,#71a3db 3px,#528fd3 6px,#3f7fcc 9px,#4177c4 12px,#4474c0 15px,#4474c0 18px,#9e5676 21px,#e47258 24px,#f0b047 27px,#f7d629 30px,#fbeb14 33px,#fdf30c 36px,#fef60a 39px,#fef60a 42px,#fef60a 45px,#fef50b 48px,#fdf20e 51px,#fbec13 54px,#f9e31b 57px,#f7d729 60px,#f4c738 63px,#f1b545 66px,#eea04c 69px,#ea8b51 72px,#e57557 75px,#df615b 78px,#d6525d 81px,#c44f64 84px,#ac5370 87px,#93587d 90px,#7e5c8c 93px,#6f5e9a 96px,#6263a4 99px,#5869ad 102px,#4f6eb5 105px,#4772bd 108px,#4276c3 111px,#3f79c6 114px,#3c7cca 117px,#3f7fcc 120px,#4183cd 123px,#4486cf 126px,#4a8ad1 129px,#508dd2 132px,#5591d4 135px,#5b94d5 138px,#6097d6 141px,#659bd8 144px,#699ed9 147px,#6ea1da 150px,#71a3db 153px,#75a6dc 156px,#78a8dd 159px,#7baadd 162px,#7dabde 165px,#80addf 168px,#81aedf 171px,#83afdf 174px,#84b0e0 177px,#86b1e0 180px,#87b2e1 183px,#89b3e1 186px,#8ab4e1 189px,#8cb5e2 192px,#8eb6e2 195px,#90b8e3 198px,#93b9e4 201px,#95bbe4 204px,#98bce5 207px,#9abde5 210px,#9cbfe6 213px,#9fc0e7 216px,#a1c2e7 219px,#a5c3e8 222px,#a8c5e9 225px,#acc8ea 228px,#b1caeb 231px,#b6cdec 234px,#bad0ed 237px,#bed3ee 240px,#bfd4ef 241px)"></div>
<div style="left:47px;top:250px;width:241px;height:1px;background:linear-gradient(90deg,#78a8dd 0px,#5b94d5 3px,#4182cd 6px,#4078c5 9px,#4474c0 12px,#4474c0 15px,#895a84 18px,#e26959 21px,#f0ab49 24px,#f7d52b 27px,#fbea14 30px,#fdf30c 33px,#fef60a 36px,#fef60a 39px,#fef60a 42px,#fef40c 45px,#fdf00f 48px,#fbe915 51px,#f9df20 54px,#f6d12f 57px,#f3bf3f 60px,#f0aa49 63px,#ec944f 66px,#e77c55 69px,#e1655a 72px,#d7535d 75px,#c34f65 78px,#a65472 81px,#895a84 84px,#745d95 87px,#6561a2 90px,#5869ad 93px,#4d6fb7 96px,#4474c0 99px,#4177c4 102px,#3d7bc8 105px,#3e7ecb 108px,#4081cd 111px,#4385ce 114px,#4788d0 117px,#4e8cd2 120px,#5490d3 123px,#5a93d5 126px,#5f97d6 129px,#659bd8 132px,#6a9ed9 135px,#6fa2da 138px,#74a5db 141px,#78a8dd 144px,#7cabde 147px,#81addf 150px,#84b0e0 153px,#88b2e1 156px,#8bb4e2 159px,#8db6e2 162px,#8fb7e3 165px,#91b8e3 168px,#92b9e4 171px,#94bae4 174px,#95bae4 177px,#95bbe4 180px,#96bbe5 183px,#97bce5 186px,#99bde5 189px,#9abde6 192px,#9cbee6 195px,#9ebfe6 198px,#a0c1e7 201px,#a2c2e7 204px,#a4c3e8 207px,#a6c4e8 210px,#a8c5e9 213px,#aac6e9 216px,#acc8ea 219px,#afc9eb 222px,#b2cbec 225px,#b6cdec 228px,#b9d0ed 231px,#bdd3ee 234px,#c1d5ef 237px,#c5d8f0 240px,#c6d9f0 241px)"></div>
<div style="left:47px;top:251px;width:241px;height:1px;background:linear-gradient(90deg,#689cd8 0px,#4486cf 3px,#3f79c7 6px,#4474c0 9px,#4474c0 12px,#765d93 15px,#df605b 18px,#efa54a 21px,#f6d32d 24px,#fbea15 27px,#fdf30c 30px,#fef60a 33px,#fef60a 36px,#fef60a 39px,#fdf40c 42px,#fcef10 45px,#fae618 48px,#f8db25 51px,#f5cb35 54px,#f2b745 57px,#ee9f4c 60px,#ea8652 63px,#e36d59 66px,#da575d 69px,#c54f64 72px,#a55573 75px,#835b88 78px,#6d5e9c 81px,#5b67aa 84px,#4d6fb7 87px,#4375c1 90px,#3f79c6 93px,#3d7dcb 96px,#4081cd 99px,#4385ce 102px,#4788d0 105px,#4d8cd2 108px,#538fd3 111px,#5993d5 114px,#5e96d6 117px,#649ad7 120px,#6a9ed9 123px,#6fa2da 126px,#74a5dc 129px,#79a8dd 132px,#7eacde 135px,#83afdf 138px,#88b2e1 141px,#8cb5e2 144px,#90b7e3 147px,#94bae4 150px,#97bbe5 153px,#99bde5 156px,#9cbee6 159px,#9ec0e6 162px,#9fc0e7 165px,#a1c1e7 168px,#a2c2e7 171px,#a2c2e8 174px,#a3c2e8 177px,#a3c3e8 180px,#a4c3e8 183px,#a5c3e8 186px,#a6c4e8 189px,#a7c5e9 192px,#a8c5e9 195px,#aac6e9 198px,#abc7ea 201px,#adc8ea 204px,#afc9eb 207px,#b0caeb 210px,#b2cbec 213px,#b4ccec 216px,#b6cdec 219px,#b8cfed 222px,#bbd1ee 225px,#bdd3ee 228px,#c1d5ef 231px,#c4d7f0 234px,#c7daf1 237px,#cbdcf2 240px,#ccddf2 241px)"></div>
<div style="left:47px;top:252px;width:241px;height:1px;background:linear-gradient(90deg,#508dd2 0px,#3c7cca 3px,#4375c1 6px,#4474c0 9px,#6561a2 12px,#da565d 15px,#ee9d4d 18px,#f6cf30 21px,#fbe915 24px,#fdf30c 27px,#fef60a 30px,#fef60a 33px,#fef60a 36px,#fdf30d 39px,#fced12 42px,#f9e31b 45px,#f7d62a 48px,#f4c43b 51px,#f0ad48 54px,#ec944f 57px,#e67856 60px,#de5e5b 63px,#cd4e60 66px,#a95471 69px,#835b88 72px,#695f9f 75px,#556baf 78px,#4574bf 81px,#3e7ac7 84px,#3f7fcc 87px,#4384ce 90px,#4989d0 93px,#518ed2 96px,#5792d4 99px,#5c95d5 102px,#6198d7 105px,#669bd8 108px,#6b9fd9 111px,#6fa2da 114px,#74a5db 117px,#79a8dd 120px,#7facde 123px,#84b0e0 126px,#89b3e1 129px,#8eb6e2 132px,#93b9e4 135px,#97bce5 138px,#9bbee6 141px,#9ec0e7 144px,#a1c1e7 147px,#a4c3e8 150px,#a7c5e9 153px,#a9c6e9 156px,#abc7ea 159px,#acc8ea 162px,#aec8ea 165px,#aec9eb 168px,#afc9eb 171px,#afc9eb 174px,#b0caeb 177px,#b0caeb 180px,#b0caeb 183px,#b1caeb 186px,#b1caeb 189px,#b2cbec 192px,#b3cbec 195px,#b4ccec 198px,#b6cdec 201px,#b7ceed 204px,#b8cfed 207px,#b9d0ed 210px,#bbd1ee 213px,#bcd2ee 216px,#bed3ee 219px,#bfd4ef 222px,#c2d6ef 225px,#c4d8f0 228px,#c7daf1 231px,#cadcf2 234px,#cddef2 237px,#d0e0f3 240px,#d1e1f3 241px)"></div>
<div style="left:47px;top:253px;width:241px;height:1px;background:linear-gradient(90deg,#3f80cc 0px,#4276c2 3px,#4474c0 6px,#566aae 9px,#d24e5e 12px,#ec954f 15px,#f5cb34 18px,#fae717 21px,#fdf30d 24px,#fef60a 27px,#fef60a 30px,#fef50b 33px,#fdf20d 36px,#fbec13 39px,#f9e01e 42px,#f6d12f 45px,#f2bc41 48px,#eea34b 51px,#ea8752 54px,#e26a59 57px,#d6525d 60px,#b5516b 63px,#895a84 66px,#695e9f 69px,#526cb2 72px,#4276c3 75px,#3d7dcb 78px,#4385cf 81px,#4f8dd2 84px,#5993d5 87px,#6198d7 90px,#689dd9 93px,#6ea1da 96px,#72a4db 99px,#76a6dc 102px,#7aa9dd 105px,#7eabde 108px,#82aedf 111px,#86b1e0 114px,#8ab3e1 117px,#8fb7e3 120px,#94bae4 123px,#98bce5 126px,#9cbfe6 129px,#a0c1e7 132px,#a4c3e8 135px,#a8c5e9 138px,#abc7ea 141px,#aec9ea 144px,#b0caeb 147px,#b3cbec 150px,#b5cdec 153px,#b6ceed 156px,#b8cfed 159px,#b9cfed 162px,#b9d0ed 165px,#bad0ed 168px,#bad0ed 171px,#bad0ee 174px,#bad0ee 177px,#bad0ee 180px,#bad0ee 183px,#bad1ee 186px,#bbd1ee 189px,#bbd1ee 192px,#bcd2ee 195px,#bdd2ee 198px,#bed3ee 201px,#bfd4ef 204px,#c0d5ef 207px,#c1d5ef 210px,#c2d6ef 213px,#c3d7f0 216px,#c5d8f0 219px,#c6d9f1 222px,#c8daf1 225px,#cadcf2 228px,#cddef2 231px,#d0e0f3 234px,#d3e2f4 237px,#d6e4f4 240px,#d6e4f5 241px)"></div>
<div style="left:47px;top:254px;width:241px;height:1px;background:linear-gradient(90deg,#4177c4 0px,#4474c0 3px,#4872bc 6px,#c15066 9px,#ea8b51 12px,#f4c639 15px,#fae519 18px,#fdf30d 21px,#fef60a 24px,#fef60a 27px,#fef50b 30px,#fdf20e 33px,#fbea15 36px,#f8dd22 39px,#f5cb34 42px,#f1b446 45px,#ed994e 48px,#e77b55 51px,#de5c5c 54px,#c54f64 57px,#96587b 60px,#6f5e9a 63px,#536cb1 66px,#4177c4 69px,#3f80cc 72px,#4a8ad1 75px,#5a93d5 78px,#679cd8 81px,#72a3db 84px,#7aa9dd 87px,#81aedf 90px,#86b1e0 93px,#8ab4e1 96px,#8eb6e2 99px,#90b8e3 102px,#93b9e4 105px,#95bbe4 108px,#98bce5 111px,#9bbee6 114px,#9ec0e7 117px,#a2c2e8 120px,#a6c4e9 123px,#aac6e9 126px,#adc8ea 129px,#b1caeb 132px,#b4ccec 135px,#b6ceed 138px,#b9cfed 141px,#bbd1ee 144px,#bdd2ee 147px,#bed3ef 150px,#c0d4ef 153px,#c1d5ef 156px,#c2d6ef 159px,#c2d6f0 162px,#c3d7f0 165px,#c3d7f0 168px,#c3d7f0 171px,#c3d7f0 174px,#c3d7f0 177px,#c3d7f0 180px,#c3d6f0 183px,#c3d6f0 186px,#c3d7f0 189px,#c3d7f0 192px,#c4d7f0 195px,#c4d8f0 198px,#c5d8f0 201px,#c6d9f1 204px,#c7d9f1 207px,#c8daf1 210px,#c9dbf1 213px,#cadbf1 216px,#cbdcf2 219px,#ccddf2 222px,#cedff3 225px,#d0e0f3 228px,#d3e2f4 231px,#d5e3f4 234px,#d8e5f5 237px,#dae7f6 240px,#dbe7f6 241px)"></div>
<div style="left:47px;top:255px;width:241px;height:1px;background:linear-gradient(90deg,#4474c0 0px,#4474c0 3px,#ac536f 6px,#e87f54 9px,#f3bf3f 12px,#f9e31c 15px,#fdf20e 18px,#fef60a 21px,#fef60a 24px,#fef50b 27px,#fdf10e 30px,#fbe916 33px,#f8da25 36px,#f4c638 39px,#f0ac48 42px,#eb8e50 45px,#e36e58 48px,#d5525d 51px,#ad536f 54px,#7a5d8f 57px,#5968ac 60px,#4276c3 63px,#4081cd 66px,#4f8dd2 69px,#6198d7 72px,#71a3db 75px,#7facde 78px,#8bb4e2 81px,#94bae4 84px,#9bbee6 87px,#9fc0e7 90px,#a2c2e8 93px,#a5c3e8 96px,#a6c4e9 99px,#a7c5e9 102px,#a9c6e9 105px,#aac6e9 108px,#abc7ea 111px,#adc8ea 114px,#b0caeb 117px,#b3cbec 120px,#b6cdec 123px,#b9cfed 126px,#bbd1ee 129px,#bdd3ee 132px,#c0d4ef 135px,#c2d6ef 138px,#c4d7f0 141px,#c5d8f0 144px,#c7d9f1 147px,#c8daf1 150px,#c9dbf1 153px,#cadcf1 156px,#cbdcf2 159px,#cbdcf2 162px,#cbddf2 165px,#cbddf2 168px,#cbddf2 171px,#cbdcf2 174px,#cbdcf2 177px,#cadcf2 180px,#cadcf2 183px,#cadcf1 186px,#cadcf1 189px,#cadcf2 192px,#cadcf2 195px,#cbdcf2 198px,#ccddf2 201px,#ccddf2 204px,#cddef2 207px,#cedef2 210px,#cedff3 213px,#cfe0f3 216px,#d0e0f3 219px,#d2e1f3 222px,#d3e2f4 225px,#d5e4f4 228px,#d8e5f5 231px,#dae7f6 234px,#dce8f6 237px,#dfeaf7 240px,#dfeaf7 241px)"></div>
<div style="left:47px;top:256px;width:241px;height:1px;background:linear-gradient(90deg,#4474c0 0px,#95587c 3px,#e57357 6px,#f2b745 9px,#f9df1f 12px,#fdf10e 15px,#fef60a 18px,#fef60a 21px,#fef50b 24px,#fdf10e 27px,#fae717 30px,#f7d828 33px,#f3c13d 36px,#efa54b 39px,#e98453 42px,#e0625b 45px,#c74f63 48px,#92587e 51px,#6561a2 54px,#4673be 57px,#3f80cc 60px,#508dd2 63px,#659bd8 66px,#78a8dc 69px,#89b3e1 72px,#97bce5 75px,#a2c2e7 78px,#abc7ea 81px,#b1caeb 84px,#b5cdec 87px,#b8cfed 90px,#b9cfed 93px,#bad0ed 96px,#bad0ed 99px,#bad0ed 102px,#bad0ee 105px,#bad1ee 108px,#bbd1ee 111px,#bcd2ee 114px,#bed3ee 117px,#c0d4ef 120px,#c2d6f0 123px,#c4d8f0 126px,#c6d9f1 129px,#c8daf1 132px,#cadcf1 135px,#ccddf2 138px,#cddef2 141px,#cedff3 144px,#cfe0f3 147px,#d0e0f3 150px,#d1e1f3 153px,#d2e1f3 156px,#d2e2f4 159px,#d3e2f4 162px,#d3e2f4 165px,#d3e2f4 168px,#d2e2f4 171px,#d2e1f3 174px,#d1e1f3 177px,#d1e1f3 180px,#d1e0f3 183px,#d0e0f3 186px,#d0e0f3 189px,#d0e0f3 192px,#d1e0f3 195px,#d1e1f3 198px,#d2e1f3 201px,#d2e2f4 204px,#d3e2f4 207px,#d3e2f4 210px,#d4e3f4 213px,#d5e3f4 216px,#d6e4f4 219px,#d7e5f5 222px,#d8e6f5 225px,#dae7f6 228px,#dce8f6 231px,#deeaf7 234px,#e0ebf7 237px,#e2ecf8 240px,#e3edf8 241px)"></div>
<div style="left:47px;top:257px;width:241px;height:1px;background:linear-gradient(90deg,#7d5c8c 0px,#e1665a 3px,#f0ae48 6px,#f8db24 9px,#fcf010 12px,#fef60a 15px,#fef60a 18px,#fef50b 21px,#fdf10e 24px,#fae718 27px,#f7d52a 30px,#f3bd41 33px,#ee9d4d 36px,#e77a55 39px,#db585c 42px,#b4526c 45px,#7a5d90 48px,#536cb1 51px,#3d7bc9 54px,#4b8bd1 57px,#659bd8 60px,#7baadd 63px,#90b7e3 66px,#9fc0e7 69px,#acc7ea 72px,#b6cdec 75px,#bdd2ee 78px,#c2d6f0 81px,#c6d9f0 84px,#c8daf1 87px,#c9dbf1 90px,#c9dbf1 93px,#c9dbf1 96px,#c9dbf1 99px,#c8daf1 102px,#c8daf1 105px,#c7daf1 108px,#c8daf1 111px,#c8daf1 114px,#c9dbf1 117px,#cbdcf2 120px,#cddef2 123px,#cedff3 126px,#d0e0f3 129px,#d1e1f3 132px,#d3e2f4 135px,#d4e3f4 138px,#d5e4f4 141px,#d6e4f5 144px,#d7e5f5 147px,#d8e5f5 150px,#d9e6f5 153px,#d9e6f5 156px,#d9e6f5 159px,#dae6f5 162px,#d9e6f5 165px,#d9e6f5 168px,#d9e6f5 171px,#d8e6f5 174px,#d8e5f5 177px,#d7e5f5 180px,#d7e5f5 183px,#d7e4f5 186px,#d6e4f5 189px,#d6e4f5 192px,#d6e4f5 195px,#d7e4f5 198px,#d7e5f5 201px,#d8e5f5 204px,#d8e5f5 207px,#d9e6f5 210px,#d9e6f5 213px,#dae7f5 216px,#dbe7f6 219px,#dce8f6 222px,#dde9f6 225px,#deeaf7 228px,#e0ebf7 231px,#e2ecf8 234px,#e4edf8 237px,#e6eef8 240px,#e6eff9 241px)"></div>
<div style="left:47px;top:258px;width:241px;height:1px;background:linear-gradient(90deg,#dc595c 0px,#efa34b 3px,#f7d62a 6px,#fcee11 9px,#fef50b 12px,#fef60a 15px,#fef50b 18px,#fdf10e 21px,#fae618 24px,#f6d42c 27px,#f2b944 30px,#ed974e 33px,#e47158 36px,#d4505e 39px,#9e5676 42px,#685fa0 45px,#4474c0 48px,#4284ce 51px,#5e96d6 54px,#79a8dd 57px,#91b8e3 60px,#a4c3e8 63px,#b3cbec 66px,#bdd2ee 69px,#c5d8f0 72px,#cbdcf2 75px,#d0e0f3 78px,#d3e2f4 81px,#d6e4f4 84px,#d7e5f5 87px,#d7e5f5 90px,#d7e5f5 93px,#d6e4f5 96px,#d5e3f4 99px,#d4e3f4 102px,#d3e2f4 105px,#d2e2f4 108px,#d2e1f4 111px,#d2e2f4 114px,#d3e2f4 117px,#d4e3f4 120px,#d6e4f4 123px,#d7e5f5 126px,#d8e6f5 129px,#dae6f5 132px,#dbe7f6 135px,#dce8f6 138px,#dde8f6 141px,#dde9f6 144px,#dee9f7 147px,#dfeaf7 150px,#dfeaf7 153px,#dfeaf7 156px,#dfeaf7 159px,#dfeaf7 162px,#dfeaf7 165px,#dfeaf7 168px,#deeaf7 171px,#dee9f6 174px,#dde9f6 177px,#dde8f6 180px,#dce8f6 183px,#dce8f6 186px,#dce8f6 189px,#dbe8f6 192px,#dbe8f6 195px,#dce8f6 198px,#dce8f6 201px,#dce8f6 204px,#dde9f6 207px,#dde9f6 210px,#dee9f6 213px,#dee9f7 216px,#dfeaf7 219px,#e0eaf7 222px,#e1ebf7 225px,#e2ecf8 228px,#e4edf8 231px,#e5eef8 234px,#e7eff9 237px,#e9f0f9 240px,#e9f1f9 241px)"></div>
<div style="left:47px;top:259px;width:241px;height:1px;background:linear-gradient(90deg,#ed984e 0px,#f6cf31 3px,#fbeb14 6px,#fef50b 9px,#fef60a 12px,#fef60a 15px,#fdf20e 18px,#fae618 21px,#f6d32d 24px,#f2b645 27px,#ec9250 30px,#e26959 33px,#c94f62 36px,#895a84 39px,#5869ac 42px,#3d7bc8 45px,#508dd2 48px,#70a2da 51px,#8db5e2 54px,#a4c3e8 57px,#b6cdec 60px,#c2d6ef 63px,#cbdcf2 66px,#d1e1f3 69px,#d7e5f5 72px,#dbe7f6 75px,#deeaf7 78px,#e1ebf7 81px,#e2ecf8 84px,#e3edf8 87px,#e3ecf8 90px,#e2ecf7 93px,#e1ebf7 96px,#dfeaf7 99px,#dee9f7 102px,#dde9f6 105px,#dce8f6 108px,#dbe8f6 111px,#dbe8f6 114px,#dce8f6 117px,#dde8f6 120px,#dee9f6 123px,#dfeaf7 126px,#e0eaf7 129px,#e1ebf7 132px,#e1ecf7 135px,#e2ecf8 138px,#e3edf8 141px,#e3edf8 144px,#e4edf8 147px,#e4edf8 150px,#e4eef8 153px,#e5eef8 156px,#e5eef8 159px,#e4eef8 162px,#e4edf8 165px,#e4edf8 168px,#e3edf8 171px,#e3ecf8 174px,#e2ecf8 177px,#e1ecf7 180px,#e1ebf7 183px,#e0ebf7 186px,#e0ebf7 189px,#e0ebf7 192px,#e0ebf7 195px,#e0ebf7 198px,#e0ebf7 201px,#e1ebf7 204px,#e1ebf7 207px,#e1ebf7 210px,#e2ecf7 213px,#e2ecf8 216px,#e3ecf8 219px,#e3edf8 222px,#e4eef8 225px,#e6eef8 228px,#e7eff9 231px,#e8f0f9 234px,#eaf1f9 237px,#ebf2fa 240px,#ecf2fa 241px)"></div>
<div style="left:47px;top:260px;width:241px;height:1px;background:linear-gradient(90deg,#f4c738 0px,#fae817 3px,#fef40c 6px,#fef60a 9px,#fef60a 12px,#fdf20d 15px,#fae717 18px,#f6d32d 21px,#f1b545 24px,#eb8e51 27px,#e0635a 30px,#bd5067 33px,#785d91 36px,#4b70b9 39px,#4182cd 42px,#5f97d6 45px,#80addf 48px,#9ebfe6 51px,#b4ccec 54px,#c3d6f0 57px,#cddef2 60px,#d6e4f4 63px,#dce8f6 66px,#e1ebf7 69px,#e4eef8 72px,#e7eff9 75px,#e9f1f9 78px,#ebf2fa 81px,#ebf2fa 84px,#ebf2fa 87px,#ebf2fa 90px,#eaf1fa 93px,#e9f1f9 96px,#e8f0f9 99px,#e6eff9 102px,#e5eef8 105px,#e4edf8 108px,#e3edf8 111px,#e3edf8 114px,#e3edf8 117px,#e4edf8 120px,#e4eef8 123px,#e5eef8 126px,#e6eff8 129px,#e6eff9 132px,#e7eff9 135px,#e8f0f9 138px,#e8f0f9 141px,#e8f0f9 144px,#e9f0f9 147px,#e9f1f9 150px,#e9f1f9 153px,#e9f1f9 156px,#e9f1f9 159px,#e9f0f9 162px,#e8f0f9 165px,#e8f0f9 168px,#e7f0f9 171px,#e7eff9 174px,#e6eff9 177px,#e6eef8 180px,#e5eef8 183px,#e5eef8 186px,#e4edf8 189px,#e4edf8 192px,#e4edf8 195px,#e4edf8 198px,#e4edf8 201px,#e4eef8 204px,#e5eef8 207px,#e5eef8 210px,#e5eef8 213px,#e5eef8 216px,#e6eff8 219px,#e7eff9 222px,#e7f0f9 225px,#e9f0f9 228px,#eaf1f9 231px,#ebf2fa 234px,#ecf3fa 237px,#edf4fa 240px,#eef4fb 241px)"></div>
<div style="left:47px;top:261px;width:241px;height:1px;background:linear-gradient(90deg,#f9e31b 0px,#fdf30d 3px,#fef60a 6px,#fef60a 9px,#fdf30d 12px,#fbe816 15px,#f6d42c 18px,#f1b446 21px,#eb8b51 24px,#de5e5b 27px,#b0526d 30px,#6c5e9c 33px,#4276c2 36px,#4989d0 39px,#6ea1da 42px,#8fb7e3 45px,#abc7ea 48px,#bfd4ef 51px,#cddef2 54px,#d7e5f5 57px,#dfeaf7 60px,#e4eef8 63px,#e8f0f9 66px,#ebf2fa 69px,#edf4fa 72px,#eff5fb 75px,#f0f5fb 78px,#f1f6fb 81px,#f2f6fb 84px,#f1f6fb 87px,#f1f6fb 90px,#f0f5fb 93px,#eff4fb 96px,#eef4fa 99px,#ecf3fa 102px,#ebf2fa 105px,#eaf1fa 108px,#e9f1f9 111px,#e9f1f9 114px,#e9f1f9 117px,#e9f1f9 120px,#eaf1f9 123px,#eaf1fa 126px,#ebf2fa 129px,#ebf2fa 132px,#ecf2fa 135px,#ecf3fa 138px,#ecf3fa 141px,#ecf3fa 144px,#edf3fa 147px,#edf3fa 150px,#edf3fa 153px,#edf3fa 156px,#ecf3fa 159px,#ecf3fa 162px,#ecf2fa 165px,#ebf2fa 168px,#ebf2fa 171px,#eaf1fa 174px,#eaf1f9 177px,#e9f1f9 180px,#e9f0f9 183px,#e8f0f9 186px,#e8f0f9 189px,#e7f0f9 192px,#e7f0f9 195px,#e7f0f9 198px,#e7f0f9 201px,#e8f0f9 204px,#e8f0f9 207px,#e8f0f9 210px,#e8f0f9 213px,#e8f0f9 216px,#e9f1f9 219px,#e9f1f9 222px,#eaf1fa 225px,#ebf2fa 228px,#ecf3fa 231px,#edf3fa 234px,#eef4fb 237px,#eff5fb 240px,#f0f5fb 241px)"></div>
<div style="left:47px;top:262px;width:241px;height:1px;background:linear-gradient(90deg,#fdf10e 0px,#fef60a 3px,#fef60a 6px,#fdf40c 9px,#fbea15 12px,#f7d62a 15px,#f1b545 18px,#ea8a51 21px,#dd5a5c 24px,#a65472 27px,#6263a4 30px,#3e7ac8 33px,#5691d4 36px,#7aa9dd 39px,#9dbfe6 42px,#b6ceed 45px,#c8daf1 48px,#d5e3f4 51px,#dfeaf7 54px,#e6eef8 57px,#eaf2fa 60px,#eef4fb 63px,#f0f5fb 66px,#f2f7fc 69px,#f3f7fc 72px,#f4f8fc 75px,#f5f9fc 78px,#f6f9fd 81px,#f6f9fd 84px,#f6f9fd 87px,#f5f9fc 90px,#f4f8fc 93px,#f3f7fc 96px,#f2f7fc 99px,#f1f6fb 102px,#f0f5fb 105px,#eff5fb 108px,#eef4fb 111px,#eef4fa 114px,#edf4fa 117px,#eef4fa 120px,#eef4fb 123px,#eef4fb 126px,#eff4fb 129px,#eff5fb 132px,#eff5fb 135px,#eff5fb 138px,#f0f5fb 141px,#f0f5fb 144px,#f0f5fb 147px,#f0f5fb 150px,#f0f5fb 153px,#f0f5fb 156px,#eff5fb 159px,#eff5fb 162px,#eff4fb 165px,#eef4fb 168px,#eef4fb 171px,#edf3fa 174px,#edf3fa 177px,#ecf3fa 180px,#ecf2fa 183px,#ebf2fa 186px,#ebf2fa 189px,#eaf2fa 192px,#eaf1fa 195px,#eaf1fa 198px,#eaf2fa 201px,#eaf2fa 204px,#ebf2fa 207px,#ebf2fa 210px,#ebf2fa 213px,#ebf2fa 216px,#ebf2fa 219px,#ecf3fa 222px,#edf3fa 225px,#edf3fa 228px,#eef4fb 231px,#eff5fb 234px,#f0f5fb 237px,#f1f6fb 240px,#f1f6fb 241px)"></div>
<div style="left:47px;top:263px;width:241px;height:1px;background:linear-gradient(90deg,#fef60a 0px,#fef60a 3px,#fef40b 6px,#fbec13 9px,#f7d927 12px,#f2b844 15px,#eb8b51 18px,#dc595c 21px,#9f5676 24px,#5b67aa 27px,#3e7fcb 30px,#6097d7 33px,#87b2e1 36px,#a8c5e9 39px,#bfd4ef 42px,#cfdff3 45px,#dbe7f6 48px,#e4edf8 51px,#eaf2fa 54px,#eff4fb 57px,#f2f6fb 60px,#f4f8fc 63px,#f5f9fc 66px,#f6f9fd 69px,#f7fafd 72px,#f8fafd 75px,#f8fbfd 78px,#f9fbfd 81px,#f9fbfd 84px,#f9fbfd 87px,#f8fafd 90px,#f7fafd 93px,#f7fafd 96px,#f6f9fd 99px,#f5f8fc 102px,#f4f8fc 105px,#f3f7fc 108px,#f2f6fc 111px,#f1f6fb 114px,#f1f6fb 117px,#f1f6fb 120px,#f2f6fb 123px,#f2f6fc 126px,#f2f6fc 129px,#f2f7fc 132px,#f2f7fc 135px,#f2f7fc 138px,#f2f7fc 141px,#f2f7fc 144px,#f2f7fc 147px,#f2f7fc 150px,#f2f7fc 153px,#f2f7fc 156px,#f2f6fc 159px,#f2f6fc 162px,#f1f6fb 165px,#f1f6fb 168px,#f0f5fb 171px,#f0f5fb 174px,#eff5fb 177px,#eff4fb 180px,#eef4fb 183px,#eef4fa 186px,#edf3fa 189px,#edf3fa 192px,#edf3fa 195px,#edf3fa 198px,#edf3fa 201px,#edf3fa 204px,#edf3fa 207px,#edf3fa 210px,#edf3fa 213px,#edf4fa 216px,#eef4fa 219px,#eef4fb 222px,#eff4fb 225px,#eff5fb 228px,#f0f5fb 231px,#f1f6fb 234px,#f2f6fc 237px,#f3f7fc 240px,#f3f7fc 241px)"></div>
<div style="left:47px;top:264px;width:241px;height:1px;background:linear-gradient(90deg,#fef60a 0px,#fef50b 3px,#fcee11 6px,#f8dc23 9px,#f2bc41 12px,#eb8e50 15px,#dd5a5c 18px,#9b5778 21px,#556aaf 24px,#4182cd 27px,#699ed9 30px,#92b8e3 33px,#b1cbeb 36px,#c6d9f0 39px,#d5e3f4 42px,#e0ebf7 45px,#e8f0f9 48px,#eef4fb 51px,#f2f6fb 54px,#f4f8fc 57px,#f6f9fd 60px,#f8fafd 63px,#f9fbfd 66px,#f9fbfe 69px,#fafcfe 72px,#fafcfe 75px,#fbfcfe 78px,#fbfcfe 81px,#fbfcfe 84px,#fbfcfe 87px,#fafcfe 90px,#fafcfe 93px,#f9fbfd 96px,#f8fbfd 99px,#f7fafd 102px,#f6f9fd 105px,#f6f9fd 108px,#f5f8fc 111px,#f4f8fc 114px,#f4f8fc 117px,#f4f8fc 120px,#f4f8fc 123px,#f4f8fc 126px,#f5f8fc 129px,#f5f8fc 132px,#f5f8fc 135px,#f5f8fc 138px,#f5f8fc 141px,#f5f8fc 144px,#f5f8fc 147px,#f5f8fc 150px,#f4f8fc 153px,#f4f8fc 156px,#f4f8fc 159px,#f4f8fc 162px,#f3f7fc 165px,#f3f7fc 168px,#f2f7fc 171px,#f2f6fc 174px,#f1f6fb 177px,#f1f6fb 180px,#f0f5fb 183px,#f0f5fb 186px,#eff5fb 189px,#eff5fb 192px,#eff5fb 195px,#eff5fb 198px,#eff5fb 201px,#eff5fb 204px,#eff5fb 207px,#eff5fb 210px,#eff5fb 213px,#eff5fb 216px,#f0f5fb 219px,#f0f5fb 222px,#f1f6fb 225px,#f1f6fb 228px,#f2f6fc 231px,#f3f7fc 234px,#f3f7fc 237px,#f4f8fc 240px,#f4f8fc 241px)"></div>
<div style="left:47px;top:265px;width:241px;height:1px;background:linear-gradient(90deg,#fef60a 0px,#fdf10f 3px,#f9e01e 6px,#f3c13d 9px,#ec934f 12px,#de5d5c 15px,#9c5677 18px,#536cb1 21px,#4385ce 24px,#70a2db 27px,#9abde6 30px,#b8cfed 33px,#ccddf2 36px,#dae7f5 39px,#e4edf8 42px,#ebf2fa 45px,#f0f5fb 48px,#f4f8fc 51px,#f6f9fd 54px,#f8fafd 57px,#f9fbfd 60px,#fafcfe 63px,#fbfcfe 66px,#fbfdfe 69px,#fcfdfe 72px,#fcfdfe 75px,#fcfdfe 78px,#fcfdfe 81px,#fcfdfe 84px,#fcfdfe 87px,#fcfdfe 90px,#fbfdfe 93px,#fbfcfe 96px,#fafcfe 99px,#f9fbfe 102px,#f9fbfd 105px,#f8fafd 108px,#f7fafd 111px,#f7fafd 114px,#f7fafd 117px,#f7f9fd 120px,#f7fafd 123px,#f7fafd 126px,#f7fafd 129px,#f7fafd 132px,#f7fafd 135px,#f7fafd 138px,#f7fafd 141px,#f7fafd 144px,#f7f9fd 147px,#f6f9fd 150px,#f6f9fd 153px,#f6f9fd 156px,#f6f9fd 159px,#f6f9fd 162px,#f5f9fc 165px,#f5f8fc 168px,#f4f8fc 171px,#f4f8fc 174px,#f3f7fc 177px,#f3f7fc 180px,#f2f7fc 183px,#f2f6fc 186px,#f1f6fb 189px,#f1f6fb 192px,#f1f6fb 195px,#f1f6fb 198px,#f1f6fb 201px,#f1f6fb 204px,#f1f6fb 207px,#f1f6fb 210px,#f1f6fb 213px,#f1f6fb 216px,#f1f6fb 219px,#f2f6fc 222px,#f2f7fc 225px,#f3f7fc 228px,#f3f7fc 231px,#f4f8fc 234px,#f5f8fc 237px,#f5f9fd 240px,#f6f9fd 241px)"></div>
<div style="left:47px;top:266px;width:241px;height:1px;background:linear-gradient(90deg,#fdf30d 0px,#fae519 3px,#f4c936 6px,#ed9a4d 9px,#e0625b 12px,#a15575 15px,#536cb1 18px,#4586cf 21px,#75a6dc 24px,#a0c1e7 27px,#bed3ee 30px,#d0e0f3 33px,#dee9f6 36px,#e7f0f9 39px,#eef4fa 42px,#f2f7fc 45px,#f5f9fc 48px,#f7fafd 51px,#f9fbfd 54px,#fafcfe 57px,#fbfcfe 60px,#fcfdfe 63px,#fcfdfe 66px,#fcfdfe 69px,#fdfefe 72px,#fdfefe 75px,#fdfefe 78px,#fdfeff 81px,#fdfefe 84px,#fdfefe 87px,#fdfefe 90px,#fcfdfe 93px,#fcfdfe 96px,#fbfdfe 99px,#fbfcfe 102px,#fafcfe 105px,#fafcfe 108px,#f9fbfd 111px,#f9fbfd 114px,#f8fbfd 117px,#f8fbfd 120px,#f8fbfd 123px,#f8fbfd 126px,#f8fbfd 129px,#f8fbfd 132px,#f8fbfd 135px,#f8fbfd 138px,#f8fbfd 141px,#f8fbfd 144px,#f8fafd 147px,#f8fafd 150px,#f8fafd 153px,#f8fafd 156px,#f7fafd 159px,#f7fafd 162px,#f7fafd 165px,#f6f9fd 168px,#f6f9fd 171px,#f5f9fc 174px,#f5f8fc 177px,#f4f8fc 180px,#f4f8fc 183px,#f4f8fc 186px,#f3f7fc 189px,#f3f7fc 192px,#f3f7fc 195px,#f3f7fc 198px,#f3f7fc 201px,#f3f7fc 204px,#f3f7fc 207px,#f3f7fc 210px,#f3f7fc 213px,#f3f7fc 216px,#f3f7fc 219px,#f3f7fc 222px,#f4f8fc 225px,#f4f8fc 228px,#f5f8fc 231px,#f5f9fc 234px,#f6f9fd 237px,#f7f9fd 240px,#f7fafd 241px)"></div>
<div style="left:47px;top:267px;width:241px;height:1px;background:linear-gradient(90deg,#fbea15 0px,#f6d12f 3px,#efa44b 6px,#e26a59 9px,#ab5370 12px,#556aaf 15px,#4587cf 18px,#78a8dd 21px,#a5c3e8 24px,#c2d6ef 27px,#d4e3f4 30px,#e1ebf7 33px,#eaf1f9 36px,#eff5fb 39px,#f3f7fc 42px,#f6f9fd 45px,#f8fbfd 48px,#fafcfe 51px,#fbfcfe 54px,#fcfdfe 57px,#fcfdfe 60px,#fdfefe 63px,#fdfefe 66px,#fdfeff 69px,#fdfeff 72px,#fefeff 75px,#fefeff 78px,#fefeff 81px,#fefeff 84px,#fefeff 87px,#fdfeff 90px,#fdfeff 93px,#fdfefe 96px,#fcfdfe 99px,#fcfdfe 102px,#fcfdfe 105px,#fbfcfe 108px,#fbfcfe 111px,#fafcfe 114px,#fafcfe 117px,#fafcfe 120px,#fafcfe 123px,#fafcfe 126px,#fafcfe 129px,#fafcfe 132px,#fafcfe 135px,#fafbfe 138px,#fafbfe 141px,#f9fbfe 144px,#f9fbfe 147px,#f9fbfd 150px,#f9fbfd 153px,#f9fbfd 156px,#f9fbfd 159px,#f8fbfd 162px,#f8fafd 165px,#f8fafd 168px,#f7fafd 171px,#f7fafd 174px,#f6f9fd 177px,#f6f9fd 180px,#f5f9fd 183px,#f5f9fc 186px,#f5f8fc 189px,#f4f8fc 192px,#f4f8fc 195px,#f4f8fc 198px,#f4f8fc 201px,#f4f8fc 204px,#f4f8fc 207px,#f4f8fc 210px,#f4f8fc 213px,#f4f8fc 216px,#f4f8fc 219px,#f5f8fc 222px,#f5f8fc 225px,#f5f9fc 228px,#f6f9fd 231px,#f6f9fd 234px,#f7fafd 237px,#f8fafd 240px,#f8fafd 241px)"></div>
<div style="left:47px;top:268px;width:241px;height:1px;background:linear-gradient(90deg,#f7d926 0px,#f1b147 3px,#e57657 6px,#ba5069 9px,#5c67a9 12px,#4385cf 15px,#79a8dd 18px,#a7c5e9 21px,#c4d8f0 24px,#d7e4f5 27px,#e3edf8 30px,#ebf2fa 33px,#f1f6fb 36px,#f5f8fc 39px,#f7fafd 42px,#f9fbfd 45px,#fbfcfe 48px,#fcfdfe 51px,#fcfdfe 54px,#fdfefe 57px,#fdfeff 60px,#fefeff 63px,#fefeff 66px,#fefeff 69px,#fefeff 72px,#fefeff 75px,#fefeff 78px,#fefeff 81px,#fefeff 84px,#fefeff 87px,#fefeff 90px,#fefeff 93px,#fdfeff 96px,#fdfeff 99px,#fdfefe 102px,#fcfdfe 105px,#fcfdfe 108px,#fcfdfe 111px,#fbfdfe 114px,#fbfcfe 117px,#fbfcfe 120px,#fbfcfe 123px,#fbfcfe 126px,#fbfcfe 129px,#fbfcfe 132px,#fbfcfe 135px,#fbfcfe 138px,#fbfcfe 141px,#fafcfe 144px,#fafcfe 147px,#fafcfe 150px,#fafcfe 153px,#fafcfe 156px,#fafcfe 159px,#f9fbfe 162px,#f9fbfd 165px,#f9fbfd 168px,#f8fbfd 171px,#f8fafd 174px,#f8fafd 177px,#f7fafd 180px,#f7fafd 183px,#f6f9fd 186px,#f6f9fd 189px,#f6f9fd 192px,#f6f9fd 195px,#f6f9fd 198px,#f5f9fd 201px,#f5f9fd 204px,#f5f9fd 207px,#f5f9fd 210px,#f5f9fd 213px,#f6f9fd 216px,#f6f9fd 219px,#f6f9fd 222px,#f6f9fd 225px,#f7f9fd 228px,#f7fafd 231px,#f7fafd 234px,#f8fafd 237px,#f8fbfd 240px,#f9fbfd 241px)"></div>
<div style="left:47px;top:269px;width:241px;height:1px;background:linear-gradient(90deg,#f3be40 0px,#e98653 3px,#cb4f61 6px,#6561a2 9px,#4183cd 12px,#77a7dc 15px,#a8c5e9 18px,#c6d9f0 21px,#d8e6f5 24px,#e5eef8 27px,#edf3fa 30px,#f2f6fc 33px,#f5f9fc 36px,#f8fafd 39px,#fafcfe 42px,#fbfcfe 45px,#fcfdfe 48px,#fdfdfe 51px,#fdfeff 54px,#fefeff 57px,#fefeff 60px,#fefeff 63px,#fefeff 66px,#feffff 69px,#feffff 72px,#feffff 75px,#feffff 78px,#feffff 81px,#feffff 84px,#feffff 87px,#feffff 90px,#fefeff 93px,#fefeff 96px,#fefeff 99px,#fdfeff 102px,#fdfeff 105px,#fdfefe 108px,#fdfdfe 111px,#fcfdfe 114px,#fcfdfe 117px,#fcfdfe 120px,#fcfdfe 123px,#fcfdfe 126px,#fcfdfe 129px,#fcfdfe 132px,#fcfdfe 135px,#fcfdfe 138px,#fbfdfe 141px,#fbfdfe 144px,#fbfdfe 147px,#fbfcfe 150px,#fbfcfe 153px,#fbfcfe 156px,#fbfcfe 159px,#fafcfe 162px,#fafcfe 165px,#fafcfe 168px,#f9fbfe 171px,#f9fbfd 174px,#f9fbfd 177px,#f8fbfd 180px,#f8fafd 183px,#f8fafd 186px,#f7fafd 189px,#f7fafd 192px,#f7fafd 195px,#f7fafd 198px,#f7fafd 201px,#f7fafd 204px,#f7fafd 207px,#f7fafd 210px,#f7fafd 213px,#f7fafd 216px,#f7fafd 219px,#f7fafd 222px,#f7fafd 225px,#f8fafd 228px,#f8fafd 231px,#f8fbfd 234px,#f9fbfd 237px,#f9fbfd 240px,#f9fbfe 241px)"></div>
<div style="left:47px;top:270px;width:241px;height:1px;background:linear-gradient(90deg,#ec974e 0px,#d9565d 3px,#765d93 6px,#3e7ecb 9px,#72a4db 12px,#a6c4e9 15px,#c6d9f1 18px,#d9e6f5 21px,#e6eff8 24px,#eef4fa 27px,#f3f7fc 30px,#f6f9fd 33px,#f8fbfd 36px,#fafcfe 39px,#fbfdfe 42px,#fcfdfe 45px,#fdfefe 48px,#fdfeff 51px,#fefeff 54px,#fefeff 57px,#fefeff 60px,#feffff 63px,#feffff 66px,#ffffff 69px,#ffffff 72px,#ffffff 75px,#ffffff 78px,#ffffff 81px,#ffffff 84px,#ffffff 87px,#feffff 90px,#feffff 93px,#feffff 96px,#fefeff 99px,#fefeff 102px,#fefeff 105px,#fdfeff 108px,#fdfeff 111px,#fdfefe 114px,#fdfefe 117px,#fdfdfe 120px,#fdfdfe 123px,#fcfdfe 126px,#fcfdfe 129px,#fcfdfe 132px,#fcfdfe 135px,#fcfdfe 138px,#fcfdfe 141px,#fcfdfe 144px,#fcfdfe 147px,#fcfdfe 150px,#fcfdfe 153px,#fbfdfe 156px,#fbfdfe 159px,#fbfcfe 162px,#fbfcfe 165px,#fbfcfe 168px,#fafcfe 171px,#fafcfe 174px,#fafbfe 177px,#f9fbfd 180px,#f9fbfd 183px,#f9fbfd 186px,#f8fbfd 189px,#f8fafd 192px,#f8fafd 195px,#f8fafd 198px,#f8fafd 201px,#f8fafd 204px,#f8fafd 207px,#f8fafd 210px,#f8fafd 213px,#f8fafd 216px,#f8fafd 219px,#f8fafd 222px,#f8fbfd 225px,#f8fbfd 228px,#f9fbfd 231px,#f9fbfd 234px,#fafbfe 237px,#fafcfe 240px,#fafcfe 241px)"></div>
<div style="left:47px;top:271px;width:241px;height:1px;background:linear-gradient(90deg,#e1675a 0px,#92587e 3px,#4078c5 6px,#6a9ed9 9px,#a2c2e8 12px,#c5d8f0 15px,#dae6f5 18px,#e6eff9 21px,#eef4fb 24px,#f3f7fc 27px,#f7f9fd 30px,#f9fbfd 33px,#fbfcfe 36px,#fcfdfe 39px,#fdfdfe 42px,#fdfeff 45px,#fefeff 48px,#fefeff 51px,#feffff 54px,#feffff 57px,#ffffff 60px,#ffffff 63px,#ffffff 66px,#ffffff 69px,#ffffff 72px,#ffffff 75px,#ffffff 78px,#ffffff 81px,#ffffff 84px,#ffffff 87px,#ffffff 90px,#ffffff 93px,#feffff 96px,#feffff 99px,#fefeff 102px,#fefeff 105px,#fefeff 108px,#fefeff 111px,#fdfeff 114px,#fdfeff 117px,#fdfeff 120px,#fdfeff 123px,#fdfefe 126px,#fdfefe 129px,#fdfefe 132px,#fdfefe 135px,#fdfefe 138px,#fdfdfe 141px,#fdfdfe 144px,#fcfdfe 147px,#fcfdfe 150px,#fcfdfe 153px,#fcfdfe 156px,#fcfdfe 159px,#fcfdfe 162px,#fcfdfe 165px,#fbfdfe 168px,#fbfcfe 171px,#fbfcfe 174px,#fafcfe 177px,#fafcfe 180px,#fafcfe 183px,#f9fbfe 186px,#f9fbfd 189px,#f9fbfd 192px,#f9fbfd 195px,#f9fbfd 198px,#f9fbfd 201px,#f9fbfd 204px,#f9fbfd 207px,#f9fbfd 210px,#f9fbfd 213px,#f9fbfd 216px,#f9fbfd 219px,#f9fbfd 222px,#f9fbfd 225px,#f9fbfd 228px,#fafbfe 231px,#fafcfe 234px,#fafcfe 237px,#fbfcfe 240px,#fbfcfe 241px)"></div>
<div style="left:47px;top:272px;width:241px;height:1px;background:linear-gradient(90deg,#b7516a 0px,#4d6fb7 3px,#5d95d6 6px,#9cbee6 9px,#c3d7f0 12px,#d9e6f5 15px,#e6eff9 18px,#eef4fb 21px,#f3f7fc 24px,#f7fafd 27px,#f9fbfd 30px,#fbfcfe 33px,#fcfdfe 36px,#fdfefe 39px,#fdfeff 42px,#fefeff 45px,#fefeff 48px,#feffff 51px,#ffffff 54px,#ffffff 57px,#ffffff 60px,#ffffff 63px,#ffffff 66px,#ffffff 69px,#ffffff 72px,#ffffff 75px,#ffffff 78px,#ffffff 81px,#ffffff 84px,#ffffff 87px,#ffffff 90px,#ffffff 93px,#ffffff 96px,#ffffff 99px,#feffff 102px,#feffff 105px,#fefeff 108px,#fefeff 111px,#fefeff 114px,#fefeff 117px,#fefeff 120px,#fefeff 123px,#fdfeff 126px,#fdfeff 129px,#fdfeff 132px,#fdfeff 135px,#fdfeff 138px,#fdfeff 141px,#fdfefe 144px,#fdfefe 147px,#fdfefe 150px,#fdfefe 153px,#fdfdfe 156px,#fcfdfe 159px,#fcfdfe 162px,#fcfdfe 165px,#fcfdfe 168px,#fcfdfe 171px,#fbfdfe 174px,#fbfcfe 177px,#fbfcfe 180px,#fafcfe 183px,#fafcfe 186px,#fafcfe 189px,#fafcfe 192px,#fafbfe 195px,#f9fbfe 198px,#f9fbfe 201px,#f9fbfe 204px,#f9fbfe 207px,#f9fbfe 210px,#f9fbfe 213px,#f9fbfe 216px,#f9fbfe 219px,#fafbfe 222px,#fafcfe 225px,#fafcfe 228px,#fafcfe 231px,#fbfcfe 234px,#fbfcfe 237px,#fbfcfe 240px,#fbfdfe 241px)"></div>
<div style="left:47px;top:273px;width:241px;height:1px;background:linear-gradient(90deg,#6561a2 0px,#4a8ad1 3px,#90b8e3 6px,#bfd4ef 9px,#d7e5f5 12px,#e6eff8 15px,#eef4fb 18px,#f4f8fc 21px,#f7fafd 24px,#f9fbfe 27px,#fbfcfe 30px,#fcfdfe 33px,#fdfefe 36px,#fefeff 39px,#fefeff 42px,#feffff 45px,#feffff 48px,#ffffff 51px,#ffffff 54px,#ffffff 57px,#ffffff 60px,#ffffff 63px,#ffffff 66px,#ffffff 69px,#ffffff 72px,#ffffff 75px,#ffffff 78px,#ffffff 81px,#ffffff 84px,#ffffff 87px,#ffffff 90px,#ffffff 93px,#ffffff 96px,#ffffff 99px,#ffffff 102px,#feffff 105px,#feffff 108px,#feffff 111px,#fefeff 114px,#fefeff 117px,#fefeff 120px,#fefeff 123px,#fefeff 126px,#fefeff 129px,#fefeff 132px,#fefeff 135px,#fefeff 138px,#fdfeff 141px,#fdfeff 144px,#fdfeff 147px,#fdfeff 150px,#fdfeff 153px,#fdfefe 156px,#fdfefe 159px,#fdfefe 162px,#fdfdfe 165px,#fcfdfe 168px,#fcfdfe 171px,#fcfdfe 174px,#fcfdfe 177px,#fbfdfe 180px,#fbfcfe 183px,#fbfcfe 186px,#fbfcfe 189px,#fafcfe 192px,#fafcfe 195px,#fafcfe 198px,#fafcfe 201px,#fafcfe 204px,#fafcfe 207px,#fafcfe 210px,#fafcfe 213px,#fafcfe 216px,#fafcfe 219px,#fafcfe 222px,#fafcfe 225px,#fbfcfe 228px,#fbfcfe 231px,#fbfcfe 234px,#fbfdfe 237px,#fcfdfe 240px,#fcfdfe 241px)"></div>
<div style="left:47px;top:274px;width:241px;height:1px;background:linear-gradient(90deg,#3d7ecb 0px,#7eacde 3px,#b8cfed 6px,#d4e3f4 9px,#e5eef8 12px,#eef4fb 15px,#f3f7fc 18px,#f7fafd 21px,#fafbfe 24px,#fbfdfe 27px,#fcfdfe 30px,#fdfeff 33px,#fefeff 36px,#fefeff 39px,#feffff 42px,#ffffff 45px,#ffffff 48px,#ffffff 51px,#ffffff 54px,#ffffff 57px,#ffffff 60px,#ffffff 63px,#ffffff 66px,#ffffff 69px,#ffffff 72px,#ffffff 75px,#ffffff 78px,#ffffff 81px,#ffffff 84px,#ffffff 87px,#ffffff 90px,#ffffff 93px,#ffffff 96px,#ffffff 99px,#ffffff 102px,#ffffff 105px,#ffffff 108px,#feffff 111px,#feffff 114px,#feffff 117px,#fefeff 120px,#fefeff 123px,#fefeff 126px,#fefeff 129px,#fefeff 132px,#fefeff 135px,#fefeff 138px,#fefeff 141px,#fefeff 144px,#fefeff 147px,#fefeff 150px,#fdfeff 153px,#fdfeff 156px,#fdfeff 159px,#fdfeff 162px,#fdfefe 165px,#fdfefe 168px,#fdfdfe 171px,#fcfdfe 174px,#fcfdfe 177px,#fcfdfe 180px,#fcfdfe 183px,#fbfdfe 186px,#fbfdfe 189px,#fbfcfe 192px,#fbfcfe 195px,#fbfcfe 198px,#fbfcfe 201px,#fbfcfe 204px,#fbfcfe 207px,#fbfcfe 210px,#fbfcfe 213px,#fbfcfe 216px,#fbfcfe 219px,#fbfcfe 222px,#fbfcfe 225px,#fbfcfe 228px,#fbfdfe 231px,#fcfdfe 234px,#fcfdfe 237px,#fcfdfe 240px,#fcfdfe 241px)"></div>
<div style="left:47px;top:275px;width:241px;height:1px;background:linear-gradient(90deg,#689dd9 0px,#acc7ea 3px,#d0e0f3 6px,#e3edf8 9px,#edf3fa 12px,#f3f7fc 15px,#f7fafd 18px,#fafbfe 21px,#fbfdfe 24px,#fcfdfe 27px,#fdfeff 30px,#fefeff 33px,#fefeff 36px,#feffff 39px,#ffffff 42px,#ffffff 45px,#ffffff 48px,#ffffff 51px,#ffffff 54px,#ffffff 57px,#ffffff 60px,#ffffff 63px,#ffffff 66px,#ffffff 69px,#ffffff 72px,#ffffff 75px,#ffffff 78px,#ffffff 81px,#ffffff 84px,#ffffff 87px,#ffffff 90px,#ffffff 93px,#ffffff 96px,#ffffff 99px,#ffffff 102px,#ffffff 105px,#ffffff 108px,#ffffff 111px,#ffffff 114px,#feffff 117px,#feffff 120px,#feffff 123px,#feffff 126px,#feffff 129px,#fefeff 132px,#fefeff 135px,#fefeff 138px,#fefeff 141px,#fefeff 144px,#fefeff 147px,#fefeff 150px,#fefeff 153px,#fefeff 156px,#fefeff 159px,#fdfeff 162px,#fdfeff 165px,#fdfeff 168px,#fdfefe 171px,#fdfefe 174px,#fdfdfe 177px,#fcfdfe 180px,#fcfdfe 183px,#fcfdfe 186px,#fcfdfe 189px,#fcfdfe 192px,#fbfdfe 195px,#fbfdfe 198px,#fbfdfe 201px,#fbfdfe 204px,#fbfdfe 207px,#fbfdfe 210px,#fbfdfe 213px,#fbfdfe 216px,#fbfdfe 219px,#fbfdfe 222px,#fbfdfe 225px,#fcfdfe 228px,#fcfdfe 231px,#fcfdfe 234px,#fcfdfe 237px,#fcfdfe 240px,#fcfdfe 241px)"></div>
<div style="left:47px;top:276px;width:241px;height:1px;background:linear-gradient(90deg,#9abde5 0px,#c9dbf1 3px,#e0ebf7 6px,#ecf3fa 9px,#f3f7fc 12px,#f7fafd 15px,#f9fbfe 18px,#fbfdfe 21px,#fdfdfe 24px,#fdfeff 27px,#fefeff 30px,#feffff 33px,#feffff 36px,#ffffff 39px,#ffffff 42px,#ffffff 45px,#ffffff 48px,#ffffff 51px,#ffffff 54px,#ffffff 57px,#ffffff 60px,#ffffff 63px,#ffffff 66px,#ffffff 69px,#ffffff 72px,#ffffff 75px,#ffffff 78px,#ffffff 81px,#ffffff 84px,#ffffff 87px,#ffffff 90px,#ffffff 93px,#ffffff 96px,#ffffff 99px,#ffffff 102px,#ffffff 105px,#ffffff 108px,#ffffff 111px,#ffffff 114px,#ffffff 117px,#ffffff 120px,#feffff 123px,#feffff 126px,#feffff 129px,#feffff 132px,#feffff 135px,#feffff 138px,#feffff 141px,#fefeff 144px,#fefeff 147px,#fefeff 150px,#fefeff 153px,#fefeff 156px,#fefeff 159px,#fefeff 162px,#fefeff 165px,#fdfeff 168px,#fdfeff 171px,#fdfeff 174px,#fdfefe 177px,#fdfefe 180px,#fdfdfe 183px,#fcfdfe 186px,#fcfdfe 189px,#fcfdfe 192px,#fcfdfe 195px,#fcfdfe 198px,#fcfdfe 201px,#fcfdfe 204px,#fcfdfe 207px,#fcfdfe 210px,#fcfdfe 213px,#fcfdfe 216px,#fcfdfe 219px,#fcfdfe 222px,#fcfdfe 225px,#fcfdfe 228px,#fcfdfe 231px,#fcfdfe 234px,#fdfdfe 237px,#fdfefe 240px,#fdfefe 241px)"></div>
<div style="left:47px;top:277px;width:241px;height:1px;background:linear-gradient(90deg,#bed3ef 0px,#dbe8f6 3px,#eaf2fa 6px,#f2f6fc 9px,#f6f9fd 12px,#f9fbfe 15px,#fbfdfe 18px,#fdfdfe 21px,#fdfeff 24px,#fefeff 27px,#feffff 30px,#ffffff 33px,#ffffff 36px,#ffffff 39px,#ffffff 42px,#ffffff 45px,#ffffff 48px,#ffffff 51px,#ffffff 54px,#ffffff 57px,#ffffff 60px,#ffffff 63px,#ffffff 66px,#ffffff 69px,#ffffff 72px,#ffffff 75px,#ffffff 78px,#ffffff 81px,#ffffff 84px,#ffffff 87px,#ffffff 90px,#ffffff 93px,#ffffff 96px,#ffffff 99px,#ffffff 102px,#ffffff 105px,#ffffff 108px,#ffffff 111px,#ffffff 114px,#ffffff 117px,#ffffff 120px,#ffffff 123px,#ffffff 126px,#ffffff 129px,#ffffff 132px,#feffff 135px,#feffff 138px,#feffff 141px,#feffff 144px,#feffff 147px,#feffff 150px,#fefeff 153px,#fefeff 156px,#fefeff 159px,#fefeff 162px,#fefeff 165px,#fefeff 168px,#fefeff 171px,#fdfeff 174px,#fdfeff 177px,#fdfeff 180px,#fdfefe 183px,#fdfefe 186px,#fdfdfe 189px,#fcfdfe 192px,#fcfdfe 195px,#fcfdfe 198px,#fcfdfe 201px,#fcfdfe 204px,#fcfdfe 207px,#fcfdfe 210px,#fcfdfe 213px,#fcfdfe 216px,#fcfdfe 219px,#fcfdfe 222px,#fcfdfe 225px,#fcfdfe 228px,#fdfdfe 231px,#fdfefe 234px,#fdfefe 237px,#fdfefe 240px,#fdfeff 241px)"></div>
<div style="left:47px;top:278px;width:241px;height:1px;background:linear-gradient(90deg,#d5e3f4 0px,#e8f0f9 3px,#f1f6fb 6px,#f6f9fd 9px,#f9fbfd 12px,#fbfcfe 15px,#fdfdfe 18px,#fdfeff 21px,#fefeff 24px,#feffff 27px,#ffffff 30px,#ffffff 33px,#ffffff 36px,#ffffff 39px,#ffffff 42px,#ffffff 45px,#ffffff 48px,#ffffff 51px,#ffffff 54px,#ffffff 57px,#ffffff 60px,#ffffff 63px,#ffffff 66px,#ffffff 69px,#ffffff 72px,#ffffff 75px,#ffffff 78px,#ffffff 81px,#ffffff 84px,#ffffff 87px,#ffffff 90px,#ffffff 93px,#ffffff 96px,#ffffff 99px,#ffffff 102px,#ffffff 105px,#ffffff 108px,#ffffff 111px,#ffffff 114px,#ffffff 117px,#ffffff 120px,#ffffff 123px,#ffffff 126px,#ffffff 129px,#ffffff 132px,#ffffff 135px,#ffffff 138px,#ffffff 141px,#feffff 144px,#feffff 147px,#feffff 150px,#feffff 153px,#feffff 156px,#fefeff 159px,#fefeff 162px,#fefeff 165px,#fefeff 168px,#fefeff 171px,#fefeff 174px,#fefeff 177px,#fdfeff 180px,#fdfeff 183px,#fdfeff 186px,#fdfefe 189px,#fdfefe 192px,#fdfefe 195px,#fdfdfe 198px,#fdfdfe 201px,#fdfdfe 204px,#fdfdfe 207px,#fdfdfe 210px,#fdfdfe 213px,#fcfdfe 216px,#fdfdfe 219px,#fdfdfe 222px,#fdfdfe 225px,#fdfefe 228px,#fdfefe 231px,#fdfefe 234px,#fdfeff 237px,#fdfeff 240px,#fdfeff 241px)"></div>
<div style="left:47px;top:279px;width:241px;height:1px;background:linear-gradient(90deg,#e4edf8 0px,#eff5fb 3px,#f5f9fc 6px,#f9fbfd 9px,#fbfcfe 12px,#fcfdfe 15px,#fdfeff 18px,#fefeff 21px,#feffff 24px,#ffffff 27px,#ffffff 30px,#ffffff 33px,#ffffff 36px,#ffffff 39px,#ffffff 42px,#ffffff 45px,#ffffff 48px,#ffffff 51px,#ffffff 54px,#ffffff 57px,#ffffff 60px,#ffffff 63px,#ffffff 66px,#ffffff 69px,#ffffff 72px,#ffffff 75px,#ffffff 78px,#ffffff 81px,#ffffff 84px,#ffffff 87px,#ffffff 90px,#ffffff 93px,#ffffff 96px,#ffffff 99px,#ffffff 102px,#ffffff 105px,#ffffff 108px,#ffffff 111px,#ffffff 114px,#ffffff 117px,#ffffff 120px,#ffffff 123px,#ffffff 126px,#ffffff 129px,#ffffff 132px,#ffffff 135px,#ffffff 138px,#ffffff 141px,#ffffff 144px,#ffffff 147px,#ffffff 150px,#feffff 153px,#feffff 156px,#feffff 159px,#feffff 162px,#fefeff 165px,#fefeff 168px,#fefeff 171px,#fefeff 174px,#fefeff 177px,#fefeff 180px,#fefeff 183px,#fdfeff 186px,#fdfeff 189px,#fdfeff 192px,#fdfefe 195px,#fdfefe 198px,#fdfefe 201px,#fdfefe 204px,#fdfefe 207px,#fdfefe 210px,#fdfefe 213px,#fdfefe 216px,#fdfefe 219px,#fdfefe 222px,#fdfefe 225px,#fdfefe 228px,#fdfeff 231px,#fdfeff 234px,#fdfeff 237px,#fefeff 240px,#fefeff 241px)"></div>
<div style="left:47px;top:280px;width:241px;height:1px;background:linear-gradient(90deg,#edf3fa 0px,#f4f8fc 3px,#f8fbfd 6px,#fbfcfe 9px,#fcfdfe 12px,#fdfeff 15px,#fefeff 18px,#feffff 21px,#ffffff 24px,#ffffff 27px,#ffffff 30px,#ffffff 33px,#ffffff 36px,#ffffff 39px,#ffffff 42px,#ffffff 45px,#ffffff 48px,#ffffff 51px,#ffffff 54px,#ffffff 57px,#ffffff 60px,#ffffff 63px,#ffffff 66px,#ffffff 69px,#ffffff 72px,#ffffff 75px,#ffffff 78px,#ffffff 81px,#ffffff 84px,#ffffff 87px,#ffffff 90px,#ffffff 93px,#ffffff 96px,#ffffff 99px,#ffffff 102px,#ffffff 105px,#ffffff 108px,#ffffff 111px,#ffffff 114px,#ffffff 117px,#ffffff 120px,#ffffff 123px,#ffffff 126px,#ffffff 129px,#ffffff 132px,#ffffff 135px,#ffffff 138px,#ffffff 141px,#ffffff 144px,#ffffff 147px,#ffffff 150px,#ffffff 153px,#ffffff 156px,#feffff 159px,#feffff 162px,#feffff 165px,#feffff 168px,#fefeff 171px,#fefeff 174px,#fefeff 177px,#fefeff 180px,#fefeff 183px,#fefeff 186px,#fefeff 189px,#fdfeff 192px,#fdfeff 195px,#fdfeff 198px,#fdfeff 201px,#fdfeff 204px,#fdfeff 207px,#fdfeff 210px,#fdfeff 213px,#fdfeff 216px,#fdfeff 219px,#fdfeff 222px,#fdfeff 225px,#fdfeff 228px,#fdfeff 231px,#fefeff 234px,#fefeff 237px,#fefeff 240px,#fefeff 241px)"></div>
<div style="left:47px;top:281px;width:241px;height:1px;background:linear-gradient(90deg,#f3f7fc 0px,#f8fafd 3px,#fafcfe 6px,#fcfdfe 9px,#fdfeff 12px,#fefeff 15px,#feffff 18px,#ffffff 21px,#ffffff 24px,#ffffff 27px,#ffffff 30px,#ffffff 33px,#ffffff 36px,#ffffff 39px,#ffffff 42px,#ffffff 45px,#ffffff 48px,#ffffff 51px,#ffffff 54px,#ffffff 57px,#ffffff 60px,#ffffff 63px,#ffffff 66px,#ffffff 69px,#ffffff 72px,#ffffff 75px,#ffffff 78px,#ffffff 81px,#ffffff 84px,#ffffff 87px,#ffffff 90px,#ffffff 93px,#ffffff 96px,#ffffff 99px,#ffffff 102px,#ffffff 105px,#ffffff 108px,#ffffff 111px,#ffffff 114px,#ffffff 117px,#ffffff 120px,#ffffff 123px,#ffffff 126px,#ffffff 129px,#ffffff 132px,#ffffff 135px,#ffffff 138px,#ffffff 141px,#ffffff 144px,#ffffff 147px,#ffffff 150px,#ffffff 153px,#ffffff 156px,#ffffff 159px,#ffffff 162px,#feffff 165px,#feffff 168px,#feffff 171px,#feffff 174px,#fefeff 177px,#fefeff 180px,#fefeff 183px,#fefeff 186px,#fefeff 189px,#fefeff 192px,#fefeff 195px,#fefeff 198px,#fefeff 201px,#fdfeff 204px,#fdfeff 207px,#fdfeff 210px,#fdfeff 213px,#fdfeff 216px,#fdfeff 219px,#fdfeff 222px,#fdfeff 225px,#fefeff 228px,#fefeff 231px,#fefeff 234px,#fefeff 237px,#fefeff 240px,#fefeff 241px)"></div>
<div style="left:47px;top:282px;width:241px;height:1px;background:linear-gradient(90deg,#f7fafd 0px,#fafcfe 3px,#fcfdfe 6px,#fdfeff 9px,#fefeff 12px,#feffff 15px,#ffffff 18px,#ffffff 21px,#ffffff 24px,#ffffff 27px,#ffffff 30px,#ffffff 33px,#ffffff 36px,#ffffff 39px,#ffffff 42px,#ffffff 45px,#ffffff 48px,#ffffff 51px,#ffffff 54px,#ffffff 57px,#ffffff 60px,#ffffff 63px,#ffffff 66px,#ffffff 69px,#ffffff 72px,#ffffff 75px,#ffffff 78px,#ffffff 81px,#ffffff 84px,#ffffff 87px,#ffffff 90px,#ffffff 93px,#ffffff 96px,#ffffff 99px,#ffffff 102px,#ffffff 105px,#ffffff 108px,#ffffff 111px,#ffffff 114px,#ffffff 117px,#ffffff 120px,#ffffff 123px,#ffffff 126px,#ffffff 129px,#ffffff 132px,#ffffff 135px,#ffffff 138px,#ffffff 141px,#ffffff 144px,#ffffff 147px,#ffffff 150px,#ffffff 153px,#ffffff 156px,#ffffff 159px,#ffffff 162px,#ffffff 165px,#ffffff 168px,#feffff 171px,#feffff 174px,#feffff 177px,#fefeff 180px,#fefeff 183px,#fefeff 186px,#fefeff 189px,#fefeff 192px,#fefeff 195px,#fefeff 198px,#fefeff 201px,#fefeff 204px,#fefeff 207px,#fefeff 210px,#fefeff 213px,#fefeff 216px,#fefeff 219px,#fefeff 222px,#fefeff 225px,#fefeff 228px,#fefeff 231px,#fefeff 234px,#fefeff 237px,#fefeff 240px,#fefeff 241px)"></div>
<div style="left:47px;top:283px;width:241px;height:1px;background:linear-gradient(90deg,#f9fbfe 0px,#fcfdfe 3px,#fdfefe 6px,#fefeff 9px,#feffff 12px,#ffffff 15px,#ffffff 18px,#ffffff 21px,#ffffff 24px,#ffffff 27px,#ffffff 30px,#ffffff 33px,#ffffff 36px,#ffffff 39px,#ffffff 42px,#ffffff 45px,#ffffff 48px,#ffffff 51px,#ffffff 54px,#ffffff 57px,#ffffff 60px,#ffffff 63px,#ffffff 66px,#ffffff 69px,#ffffff 72px,#ffffff 75px,#ffffff 78px,#ffffff 81px,#ffffff 84px,#ffffff 87px,#ffffff 90px,#ffffff 93px,#ffffff 96px,#ffffff 99px,#ffffff 102px,#ffffff 105px,#ffffff 108px,#ffffff 111px,#ffffff 114px,#ffffff 117px,#ffffff 120px,#ffffff 123px,#ffffff 126px,#ffffff 129px,#ffffff 132px,#ffffff 135px,#ffffff 138px,#ffffff 141px,#ffffff 144px,#ffffff 147px,#ffffff 150px,#ffffff 153px,#ffffff 156px,#ffffff 159px,#ffffff 162px,#ffffff 165px,#ffffff 168px,#ffffff 171px,#feffff 174px,#feffff 177px,#feffff 180px,#feffff 183px,#fefeff 186px,#fefeff 189px,#fefeff 192px,#fefeff 195px,#fefeff 198px,#fefeff 201px,#fefeff 204px,#fefeff 207px,#fefeff 210px,#fefeff 213px,#fefeff 216px,#fefeff 219px,#fefeff 222px,#fefeff 225px,#fefeff 228px,#fefeff 231px,#fefeff 234px,#fefeff 237px,#fefeff 240px,#fefeff 241px)"></div>
<div style="left:47px;top:284px;width:241px;height:1px;background:linear-gradient(90deg,#fbfdfe 0px,#fdfefe 3px,#fefeff 6px,#feffff 9px,#ffffff 12px,#ffffff 15px,#ffffff 18px,#ffffff 21px,#ffffff 24px,#ffffff 27px,#ffffff 30px,#ffffff 33px,#ffffff 36px,#ffffff 39px,#ffffff 42px,#ffffff 45px,#ffffff 48px,#ffffff 51px,#ffffff 54px,#ffffff 57px,#ffffff 60px,#ffffff 63px,#ffffff 66px,#ffffff 69px,#ffffff 72px,#ffffff 75px,#ffffff 78px,#ffffff 81px,#ffffff 84px,#ffffff 87px,#ffffff 90px,#ffffff 93px,#ffffff 96px,#ffffff 99px,#ffffff 102px,#ffffff 105px,#ffffff 108px,#ffffff 111px,#ffffff 114px,#ffffff 117px,#ffffff 120px,#ffffff 123px,#ffffff 126px,#ffffff 129px,#ffffff 132px,#ffffff 135px,#ffffff 138px,#ffffff 141px,#ffffff 144px,#ffffff 147px,#ffffff 150px,#ffffff 153px,#ffffff 156px,#ffffff 159px,#ffffff 162px,#ffffff 165px,#ffffff 168px,#ffffff 171px,#ffffff 174px,#ffffff 177px,#feffff 180px,#feffff 183px,#feffff 186px,#feffff 189px,#fefeff 192px,#fefeff 195px,#fefeff 198px,#fefeff 201px,#fefeff 204px,#fefeff 207px,#fefeff 210px,#fefeff 213px,#fefeff 216px,#fefeff 219px,#fefeff 222px,#fefeff 225px,#fefeff 228px,#fefeff 231px,#fefeff 234px,#feffff 237px,#feffff 240px,#feffff 241px)"></div>
<div style="left:47px;top:285px;width:241px;height:1px;background:linear-gradient(90deg,#fcfdfe 0px,#fefeff 3px,#fefeff 6px,#ffffff 9px,#ffffff 12px,#ffffff 15px,#ffffff 18px,#ffffff 21px,#ffffff 24px,#ffffff 27px,#ffffff 30px,#ffffff 33px,#ffffff 36px,#ffffff 39px,#ffffff 42px,#ffffff 45px,#ffffff 48px,#ffffff 51px,#ffffff 54px,#ffffff 57px,#ffffff 60px,#ffffff 63px,#ffffff 66px,#ffffff 69px,#ffffff 72px,#ffffff 75px,#ffffff 78px,#ffffff 81px,#ffffff 84px,#ffffff 87px,#ffffff 90px,#ffffff 93px,#ffffff 96px,#ffffff 99px,#ffffff 102px,#ffffff 105px,#ffffff 108px,#ffffff 111px,#ffffff 114px,#ffffff 117px,#ffffff 120px,#ffffff 123px,#ffffff 126px,#ffffff 129px,#ffffff 132px,#ffffff 135px,#ffffff 138px,#ffffff 141px,#ffffff 144px,#ffffff 147px,#ffffff 150px,#ffffff 153px,#ffffff 156px,#ffffff 159px,#ffffff 162px,#ffffff 165px,#ffffff 168px,#ffffff 171px,#ffffff 174px,#ffffff 177px,#ffffff 180px,#feffff 183px,#feffff 186px,#feffff 189px,#feffff 192px,#feffff 195px,#feffff 198px,#fefeff 201px,#fefeff 204px,#fefeff 207px,#fefeff 210px,#fefeff 213px,#fefeff 216px,#fefeff 219px,#fefeff 222px,#fefeff 225px,#fefeff 228px,#feffff 231px,#feffff 234px,#feffff 237px,#feffff 240px,#feffff 241px)"></div>
<div style="left:47px;top:286px;width:241px;height:1px;background:linear-gradient(90deg,#fdfeff 0px,#fefeff 3px,#feffff 6px,#ffffff 9px,#ffffff 12px,#ffffff 15px,#ffffff 18px,#ffffff 21px,#ffffff 24px,#ffffff 27px,#ffffff 30px,#ffffff 33px,#ffffff 36px,#ffffff 39px,#ffffff 42px,#ffffff 45px,#ffffff 48px,#ffffff 51px,#ffffff 54px,#ffffff 57px,#ffffff 60px,#ffffff 63px,#ffffff 66px,#ffffff 69px,#ffffff 72px,#ffffff 75px,#ffffff 78px,#ffffff 81px,#ffffff 84px,#ffffff 87px,#ffffff 90px,#ffffff 93px,#ffffff 96px,#ffffff 99px,#ffffff 102px,#ffffff 105px,#ffffff 108px,#ffffff 111px,#ffffff 114px,#ffffff 117px,#ffffff 120px,#ffffff 123px,#ffffff 126px,#ffffff 129px,#ffffff 132px,#ffffff 135px,#ffffff 138px,#ffffff 141px,#ffffff 144px,#ffffff 147px,#ffffff 150px,#ffffff 153px,#ffffff 156px,#ffffff 159px,#ffffff 162px,#ffffff 165px,#ffffff 168px,#ffffff 171px,#ffffff 174px,#ffffff 177px,#ffffff 180px,#ffffff 183px,#ffffff 186px,#feffff 189px,#feffff 192px,#feffff 195px,#feffff 198px,#feffff 201px,#feffff 204px,#feffff 207px,#feffff 210px,#feffff 213px,#feffff 216px,#feffff 219px,#feffff 222px,#feffff 225px,#feffff 228px,#feffff 231px,#feffff 234px,#feffff 237px,#ffffff 240px,#ffffff 241px)"></div>
<div style="left:47px;top:287px;width:241px;height:1px;background:linear-gradient(90deg,#fefeff 0px,#feffff 3px,#ffffff 6px,#ffffff 9px,#ffffff 12px,#ffffff 15px,#ffffff 18px,#ffffff 21px,#ffffff 24px,#ffffff 27px,#ffffff 30px,#ffffff 33px,#ffffff 36px,#ffffff 39px,#ffffff 42px,#ffffff 45px,#ffffff 48px,#ffffff 51px,#ffffff 54px,#ffffff 57px,#ffffff 60px,#ffffff 63px,#ffffff 66px,#ffffff 69px,#ffffff 72px,#ffffff 75px,#ffffff 78px,#ffffff 81px,#ffffff 84px,#ffffff 87px,#ffffff 90px,#ffffff 93px,#ffffff 96px,#ffffff 99px,#ffffff 102px,#ffffff 105px,#ffffff 108px,#ffffff 111px,#ffffff 114px,#ffffff 117px,#ffffff 120px,#ffffff 123px,#ffffff 126px,#ffffff 129px,#ffffff 132px,#ffffff 135px,#ffffff 138px,#ffffff 141px,#ffffff 144px,#ffffff 147px,#ffffff 150px,#ffffff 153px,#ffffff 156px,#ffffff 159px,#ffffff 162px,#ffffff 165px,#ffffff 168px,#ffffff 171px,#ffffff 174px,#ffffff 177px,#ffffff 180px,#ffffff 183px,#ffffff 186px,#ffffff 189px,#ffffff 192px,#feffff 195px,#feffff 198px,#feffff 201px,#feffff 204px,#feffff 207px,#feffff 210px,#feffff 213px,#feffff 216px,#feffff 219px,#feffff 222px,#feffff 225px,#feffff 228px,#feffff 231px,#feffff 234px,#ffffff 237px,#ffffff 240px,#ffffff 241px)"></div>
<div style="left:47px;top:288px;width:241px;height:1px;background:linear-gradient(90deg,#feffff 0px,#ffffff 3px,#ffffff 6px,#ffffff 9px,#ffffff 12px,#ffffff 15px,#ffffff 18px,#ffffff 21px,#ffffff 24px,#ffffff 27px,#ffffff 30px,#ffffff 33px,#ffffff 36px,#ffffff 39px,#ffffff 42px,#ffffff 45px,#ffffff 48px,#ffffff 51px,#ffffff 54px,#ffffff 57px,#ffffff 60px,#ffffff 63px,#ffffff 66px,#ffffff 69px,#ffffff 72px,#ffffff 75px,#ffffff 78px,#ffffff 81px,#ffffff 84px,#ffffff 87px,#ffffff 90px,#ffffff 93px,#ffffff 96px,#ffffff 99px,#ffffff 102px,#ffffff 105px,#ffffff 108px,#ffffff 111px,#ffffff 114px,#ffffff 117px,#ffffff 120px,#ffffff 123px,#ffffff 126px,#ffffff 129px,#ffffff 132px,#ffffff 135px,#ffffff 138px,#ffffff 141px,#ffffff 144px,#ffffff 147px,#ffffff 150px,#ffffff 153px,#ffffff 156px,#ffffff 159px,#ffffff 162px,#ffffff 165px,#ffffff 168px,#ffffff 171px,#ffffff 174px,#ffffff 177px,#ffffff 180px,#ffffff 183px,#ffffff 186px,#ffffff 189px,#ffffff 192px,#ffffff 195px,#ffffff 198px,#ffffff 201px,#ffffff 204px,#feffff 207px,#feffff 210px,#feffff 213px,#feffff 216px,#feffff 219px,#feffff 222px,#feffff 225px,#ffffff 228px,#ffffff 231px,#ffffff 234px,#ffffff 237px,#ffffff 240px,#ffffff 241px)"></div>
<div style="left:47px;top:289px;width:241px;height:1px;background:#ffffff"></div>
<div style="left:47px;top:290px;width:241px;height:1px;background:#ffffff"></div>
<div style="left:47px;top:291px;width:241px;height:1px;background:#ffffff"></div>
<div style="left:47px;top:2px;width:241px;height:47px;background:repeating-linear-gradient(90deg,rgba(255,255,255,0.10) 0 1px,transparent 1px 3px),repeating-linear-gradient(0deg,rgba(255,255,255,0.10) 0 1px,transparent 1px 3px)"></div>
<div style="left:47px;top:63px;width:241px;height:96px;background:repeating-linear-gradient(90deg,rgba(255,255,255,0.08) 0 1px,transparent 1px 3px),repeating-linear-gradient(0deg,rgba(255,255,255,0.08) 0 1px,transparent 1px 3px)"></div>
<div style="left:47px;top:184px;width:241px;height:107px;background:repeating-linear-gradient(90deg,rgba(255,255,255,0.10) 0 1px,transparent 1px 3.5px),repeating-linear-gradient(0deg,rgba(255,255,255,0.00) 0 1px,transparent 1px 10px)"></div>
<div style="left:301px;top:86.5px;width:13px;height:73px;background:linear-gradient(180deg,#fef60a 0.00%,#fae618 3.00%,#f6d22e 7.00%,#f2b944 12.00%,#eea04c 17.00%,#ea8852 22.00%,#e47058 27.00%,#dd5a5c 32.00%,#d24e5e 36.00%,#bc5068 40.00%,#9e5676 44.00%,#805c8a 48.00%,#6a5e9e 52.00%,#566aae 56.00%,#4474c0 60.00%,#3c7cca 64.00%,#4486cf 68.00%,#5e96d6 73.00%,#7aa9dd 78.00%,#94bae4 82.00%,#b4ccec 87.00%,#d0e0f3 92.00%,#e8f0f9 96.00%,#ffffff 100.00%)"></div>
<div style="left:301px;top:219.5px;width:13px;height:72px;background:linear-gradient(180deg,#fef60a 0.00%,#fae618 3.00%,#f6d22e 7.00%,#f2b944 12.00%,#eea04c 17.00%,#ea8852 22.00%,#e47058 27.00%,#dd5a5c 32.00%,#d24e5e 36.00%,#bc5068 40.00%,#9e5676 44.00%,#805c8a 48.00%,#6a5e9e 52.00%,#566aae 56.00%,#4474c0 60.00%,#3c7cca 64.00%,#4486cf 68.00%,#5e96d6 73.00%,#7aa9dd 78.00%,#94bae4 82.00%,#b4ccec 87.00%,#d0e0f3 92.00%,#e8f0f9 96.00%,#ffffff 100.00%)"></div>
</div>
<svg width="335" height="313" viewBox="0 0 335 313">

<!-- panel a frame -->
<rect x="46.5" y="1.5" width="242" height="48" fill="none" stroke="#888" stroke-width="1"/>
<!-- panel b frame -->
<rect x="46.5" y="62.5" width="242" height="96.5" fill="none" stroke="#8a8a8a" stroke-width="1"/>
<!-- panel c frame -->
<rect x="46.5" y="183.5" width="242" height="108.5" fill="none" stroke="#8a8a8a" stroke-width="1"/>

<!-- a: dashed line QD -->
<line x1="228.3" y1="2" x2="228.3" y2="49" stroke="#000" stroke-width="1.3" stroke-dasharray="4,4.3" stroke-dashoffset="1"/>
<circle cx="167.6" cy="25.5" r="6.6" fill="none" stroke="#000" stroke-width="1.3"/>
<circle cx="228.4" cy="25.3" r="6.6" fill="none" stroke="#000" stroke-width="1.3"/>
<!-- k0 arrow -->
<line x1="99" y1="26.2" x2="127" y2="26.2" stroke="#000" stroke-width="1.5"/>
<path d="M124.5,23.5 L131,26.2 L124.5,28.9 L125.8,26.2 Z" fill="#000"/>
<!-- axis indicator -->
<line x1="31.2" y1="49.5" x2="31.2" y2="56.2" stroke="#000" stroke-width="1.2"/>
<line x1="30.6" y1="55.8" x2="43" y2="55.8" stroke="#000" stroke-width="1.2"/>
<path d="M42,53.6 L47.2,55.8 L42,58 L43,55.8 Z" fill="#000"/>

<!-- b ticks -->
<g stroke="#3a3a3a" stroke-width="1">
<line x1="47" y1="94.4" x2="55" y2="94.4"/><line x1="47" y1="126.4" x2="55" y2="126.4"/><line x1="47" y1="158.6" x2="55" y2="158.6"/>
<line x1="280" y1="94.4" x2="288" y2="94.4"/><line x1="280" y1="126.4" x2="288" y2="126.4"/><line x1="280" y1="158.6" x2="288" y2="158.6"/>
<line x1="46.5" y1="158.5" x2="46.5" y2="154.5"/><line x1="127.4" y1="158.5" x2="127.4" y2="154.8"/><line x1="208" y1="158.5" x2="208" y2="154.8"/><line x1="288.5" y1="158.5" x2="288.5" y2="154.5"/>
<line x1="127.4" y1="63" x2="127.4" y2="66.7"/>
</g>
<line x1="208" y1="63" x2="208" y2="66.7" stroke="#bbb" stroke-width="1"/>
<!-- c ticks -->
<g stroke="#2a2a3a" stroke-width="1">
<line x1="47" y1="183.5" x2="55" y2="183.5"/><line x1="47" y1="219.4" x2="55" y2="219.4"/><line x1="47" y1="255.4" x2="55" y2="255.4"/><line x1="47" y1="291.5" x2="55" y2="291.5"/>
<line x1="280.5" y1="183.5" x2="288.5" y2="183.5"/><line x1="280.5" y1="219.4" x2="288.5" y2="219.4"/><line x1="280.5" y1="255.4" x2="288.5" y2="255.4"/><line x1="280.5" y1="291.5" x2="288.5" y2="291.5"/>
<line x1="127.4" y1="291.5" x2="127.4" y2="288"/>
<line x1="127.4" y1="184" x2="127.4" y2="187.5"/>
</g>
<!-- c dashed vertical -->
<line x1="208" y1="184" x2="208" y2="291.5" stroke="#111" stroke-width="1.2" stroke-dasharray="4.5,3.5"/>
<!-- c dash-dot quarter ellipse -->
<path d="M46.5,201.5 A161.5,90 0 0 1 208,291.5" fill="none" stroke="#111" stroke-width="1.2" stroke-dasharray="4,2.5,1,2.5"/>

<!-- colorbar frames -->
<rect x="300.5" y="86.5" width="13.5" height="73" fill="none" stroke="#777" stroke-width="0.9"/>
<rect x="300.5" y="219.5" width="13.5" height="72.5" fill="none" stroke="#777" stroke-width="0.9"/>
<g stroke="#333" stroke-width="1">
<line x1="301" y1="123" x2="305" y2="123"/><line x1="310" y1="123" x2="314" y2="123"/>
<line x1="301" y1="255.7" x2="305" y2="255.7"/><line x1="310" y1="255.7" x2="314" y2="255.7"/>
</g>

<!-- tildes / bars -->
<g fill="none" stroke="#111" stroke-width="0.7">
<path d="M50.9,24.0 q0.8,-1.1 1.7,-0.4 t1.7,-0.4"/>
<path d="M250.9,24.6 q0.8,-1.1 1.7,-0.4 t1.7,-0.4"/>
<path d="M276.3,24.6 q0.8,-1.1 1.7,-0.4 t1.7,-0.4"/>
<line x1="299.2" y1="197.3" x2="303.6" y2="197.3"/>
</g>
<g>
<text transform="translate(52.33,14.17) scale(1.080,1)" font-size="11.67" letter-spacing="0.50">(a)</text>
<text transform="translate(50.62,32.04) scale(1.080,1)" font-size="10.50" class="i">t</text>
<text transform="translate(121.92,18.30) scale(1.073,1)" font-size="10.54" class="i">k</text>
<text transform="translate(128.56,19.98) scale(1.080,1)" font-size="7.20">0</text>
<text transform="translate(159.75,13.73) scale(1.080,1)" font-size="11.00" class="i">V</text>
<text transform="translate(168.11,16.60) scale(1.080,1)" font-size="8.00" class="i">B</text>
<text transform="translate(200.78,27.85) scale(1.080,1)" font-size="11.60" letter-spacing="0.17">QD</text>
<text transform="translate(250.72,32.79) scale(1.080,1)" font-size="10.50" class="i">t</text>
<text transform="translate(254.36,32.92) scale(1.080,1)" font-size="11.00">′</text>
<text transform="translate(263.53,33.98) scale(1.080,1)" font-size="11.50">&gt;</text>
<text transform="translate(276.22,32.79) scale(1.080,1)" font-size="10.50" class="i">t</text>
<text transform="translate(31.81,45.29) scale(1.080,1)" font-size="9.30" class="i">y</text>
<text transform="translate(54.35,58.10) scale(1.080,1)" font-size="11.33" class="i">x</text>
<text transform="translate(52.25,76.51) scale(1.012,1)" font-size="12.87">(b)</text>
<text transform="translate(58.65,88.20) scale(1.080,1)" font-size="10.22" class="i">x</text>
<text transform="translate(68.35,89.01) scale(1.080,1)" font-size="10.80">=</text>
<text transform="translate(81.80,88.27) scale(1.080,1)" font-size="10.80" letter-spacing="0.50">50</text>
<text transform="translate(99.25,88.77) scale(1.080,1)" font-size="10.80" letter-spacing="0.50">nm</text>
<text transform="translate(28.14,96.26) scale(1.080,1)" font-size="10.80">1</text>
<text transform="translate(18.57,128.32) scale(1.080,1)" font-size="10.80" letter-spacing="0.50">0.5</text>
<text transform="translate(28.23,160.77) scale(1.080,1)" font-size="10.80">0</text>
<text transform="translate(42.93,169.12) scale(1.080,1)" font-size="10.80">0</text>
<text transform="translate(120.50,168.92) scale(1.080,1)" font-size="10.80" letter-spacing="0.50">20</text>
<text transform="translate(200.91,169.37) scale(1.080,1)" font-size="10.80" letter-spacing="0.39">40</text>
<text transform="translate(281.95,169.07) scale(1.080,1)" font-size="10.80" letter-spacing="0.50">60</text>
<text transform="translate(148.73,174.53) scale(0.950,1)" font-size="11.00" class="i">y</text>
<text transform="translate(159.81,175.32) scale(1.080,1)" font-size="11.00" letter-spacing="0.50">(nm)</text>
<text transform="translate(9.80,115.36) rotate(-90) scale(1.057,1)" font-size="12.44">(ps)</text>
<text transform="translate(9.80,124.60) rotate(-90) scale(1.080,1)" font-size="12.17" class="i">t</text>
<text transform="translate(293.67,74.42) scale(1.080,1)" font-size="11.00" letter-spacing="0.50"><tspan font-style="italic">n</tspan>(<tspan font-weight="bold">r</tspan>, <tspan font-style="italic">t</tspan>)</text>
<text transform="translate(317.16,88.27) scale(1.080,1)" font-size="10.80" letter-spacing="0.50">1.</text>
<text transform="translate(317.41,124.47) scale(1.080,1)" font-size="10.80" letter-spacing="0.32">0.5</text>
<text transform="translate(317.42,160.87) scale(1.047,1)" font-size="10.80">0</text>
<text transform="translate(52.50,179.09) scale(1.080,1)" font-size="11.11" letter-spacing="0.42">(c)</text>
<text transform="translate(22.55,185.37) scale(1.080,1)" font-size="10.80" letter-spacing="0.50">60</text>
<text transform="translate(22.65,221.77) scale(1.080,1)" font-size="10.80" letter-spacing="0.50">40</text>
<text transform="translate(22.75,258.02) scale(1.080,1)" font-size="10.80" letter-spacing="0.50">20</text>
<text transform="translate(28.83,294.17) scale(1.080,1)" font-size="10.80">0</text>
<text transform="translate(42.93,302.92) scale(1.080,1)" font-size="10.80">0</text>
<text transform="translate(120.42,302.97) scale(1.080,1)" font-size="10.80" letter-spacing="0.38">25</text>
<text transform="translate(200.65,303.22) scale(1.080,1)" font-size="10.80" letter-spacing="0.50">50</text>
<text transform="translate(282.33,303.07) scale(1.070,1)" font-size="10.80">75</text>
<text transform="translate(148.90,306.98) scale(1.071,1)" font-size="11.00" class="i">x</text>
<text transform="translate(159.86,307.87) scale(1.080,1)" font-size="11.00" letter-spacing="0.50">(nm)</text>
<text transform="translate(15.31,244.16) rotate(-90) scale(1.032,1)" font-size="12.89">(nm)</text>
<text transform="translate(15.50,253.79) rotate(-90) scale(0.950,1)" font-size="12.00" class="i">y</text>
<text transform="translate(298.79,204.37) scale(1.080,1)" font-size="11.00" letter-spacing="0.50"><tspan font-style="italic">n</tspan>(<tspan font-weight="bold">r</tspan>)</text>
<text transform="translate(317.21,221.02) scale(1.080,1)" font-size="10.80" letter-spacing="0.50">1.</text>
<text transform="translate(317.71,258.52) scale(1.080,1)" font-size="10.80" letter-spacing="0.32">0.5</text>
<text transform="translate(317.74,293.72) scale(1.004,1)" font-size="10.80">0</text>
</g>
</svg>

</body></html>
